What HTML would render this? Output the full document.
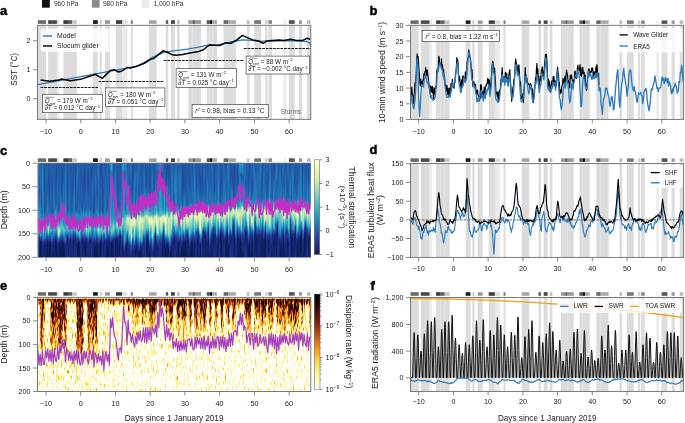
<!DOCTYPE html><html><head><meta charset="utf-8"><style>html,body{margin:0;padding:0;background:#fff;overflow:hidden}svg{display:block;filter:blur(0.3px)}text{font-family:"Liberation Sans",sans-serif}</style></head><body><svg width="685" height="423" viewBox="0 0 685 423" font-family="Liberation Sans, sans-serif"><defs><linearGradient id="c0" x2="0" y2="1"><stop offset=".000" stop-color="#434343"/><stop offset=".291" stop-color="#444444"/><stop offset=".497" stop-color="#484848"/><stop offset=".557" stop-color="#464646"/><stop offset=".637" stop-color="#848484"/><stop offset=".697" stop-color="#6c6c6c"/><stop offset=".747" stop-color="#424242"/><stop offset=".792" stop-color="#555555"/><stop offset=".853" stop-color="#0a0a0a"/><stop offset=".925" stop-color="#080808"/><stop offset="1" stop-color="#080808"/></linearGradient><linearGradient id="c1" x2="0" y2="1"><stop offset=".000" stop-color="#454545"/><stop offset=".281" stop-color="#464646"/><stop offset=".475" stop-color="#4b4b4b"/><stop offset=".535" stop-color="#656565"/><stop offset=".615" stop-color="#7f7f7f"/><stop offset=".675" stop-color="#9b9b9b"/><stop offset=".725" stop-color="#818181"/><stop offset=".770" stop-color="#323232"/><stop offset=".801" stop-color="#0a0a0a"/><stop offset=".925" stop-color="#060606"/><stop offset="1" stop-color="#060606"/></linearGradient><linearGradient id="c2" x2="0" y2="1"><stop offset=".000" stop-color="#434343"/><stop offset=".291" stop-color="#444444"/><stop offset=".497" stop-color="#4a4a4a"/><stop offset=".557" stop-color="#6b6b6b"/><stop offset=".637" stop-color="#939393"/><stop offset=".697" stop-color="#a1a1a1"/><stop offset=".747" stop-color="#717171"/><stop offset=".792" stop-color="#363636"/><stop offset=".839" stop-color="#0a0a0a"/><stop offset=".925" stop-color="#151515"/><stop offset="1" stop-color="#040404"/></linearGradient><linearGradient id="c3" x2="0" y2="1"><stop offset=".000" stop-color="#424242"/><stop offset=".300" stop-color="#434343"/><stop offset=".517" stop-color="#464646"/><stop offset=".577" stop-color="#5f5f5f"/><stop offset=".657" stop-color="#818181"/><stop offset=".717" stop-color="#dbdbdb"/><stop offset=".767" stop-color="#b2b2b2"/><stop offset=".812" stop-color="#474747"/><stop offset=".840" stop-color="#0a0a0a"/><stop offset=".925" stop-color="#080808"/><stop offset="1" stop-color="#0c0c0c"/></linearGradient><linearGradient id="c4" x2="0" y2="1"><stop offset=".000" stop-color="#424242"/><stop offset=".275" stop-color="#434343"/><stop offset=".461" stop-color="#4b4b4b"/><stop offset=".521" stop-color="#565656"/><stop offset=".601" stop-color="#6b6b6b"/><stop offset=".661" stop-color="#888888"/><stop offset=".711" stop-color="#696969"/><stop offset=".756" stop-color="#3e3e3e"/><stop offset=".820" stop-color="#0a0a0a"/><stop offset=".925" stop-color="#070707"/><stop offset="1" stop-color="#0f0f0f"/></linearGradient><linearGradient id="c5" x2="0" y2="1"><stop offset=".000" stop-color="#515151"/><stop offset=".298" stop-color="#606060"/><stop offset=".512" stop-color="#5f5f5f"/><stop offset=".572" stop-color="#676767"/><stop offset=".652" stop-color="#737373"/><stop offset=".712" stop-color="#868686"/><stop offset=".762" stop-color="#676767"/><stop offset=".807" stop-color="#646464"/><stop offset=".839" stop-color="#0a0a0a"/><stop offset=".925" stop-color="#060606"/><stop offset="1" stop-color="#141414"/></linearGradient><linearGradient id="c6" x2="0" y2="1"><stop offset=".000" stop-color="#424242"/><stop offset=".300" stop-color="#434343"/><stop offset=".518" stop-color="#494949"/><stop offset=".578" stop-color="#5d5d5d"/><stop offset=".658" stop-color="#727272"/><stop offset=".718" stop-color="#b6b6b6"/><stop offset=".768" stop-color="#727272"/><stop offset=".813" stop-color="#434343"/><stop offset=".875" stop-color="#0a0a0a"/><stop offset=".925" stop-color="#060606"/><stop offset="1" stop-color="#080808"/></linearGradient><linearGradient id="c7" x2="0" y2="1"><stop offset=".000" stop-color="#444444"/><stop offset=".292" stop-color="#454545"/><stop offset=".498" stop-color="#545454"/><stop offset=".558" stop-color="#585858"/><stop offset=".638" stop-color="#6f6f6f"/><stop offset=".698" stop-color="#7c7c7c"/><stop offset=".748" stop-color="#4d4d4d"/><stop offset=".793" stop-color="#494949"/><stop offset=".821" stop-color="#0a0a0a"/><stop offset=".925" stop-color="#0b0b0b"/><stop offset="1" stop-color="#0b0b0b"/></linearGradient><linearGradient id="c8" x2="0" y2="1"><stop offset=".000" stop-color="#434343"/><stop offset=".302" stop-color="#454545"/><stop offset=".521" stop-color="#454545"/><stop offset=".581" stop-color="#606060"/><stop offset=".661" stop-color="#747474"/><stop offset=".721" stop-color="#a7a7a7"/><stop offset=".771" stop-color="#8c8c8c"/><stop offset=".816" stop-color="#484848"/><stop offset=".858" stop-color="#0a0a0a"/><stop offset=".925" stop-color="#0b0b0b"/><stop offset="1" stop-color="#121212"/></linearGradient><linearGradient id="c9" x2="0" y2="1"><stop offset=".000" stop-color="#454545"/><stop offset=".276" stop-color="#464646"/><stop offset=".463" stop-color="#494949"/><stop offset=".523" stop-color="#5f5f5f"/><stop offset=".603" stop-color="#4c4c4c"/><stop offset=".663" stop-color="#a7a7a7"/><stop offset=".713" stop-color="#6b6b6b"/><stop offset=".758" stop-color="#2b2b2b"/><stop offset=".788" stop-color="#0a0a0a"/><stop offset=".925" stop-color="#080808"/><stop offset="1" stop-color="#040404"/></linearGradient><linearGradient id="c10" x2="0" y2="1"><stop offset=".000" stop-color="#424242"/><stop offset=".298" stop-color="#444444"/><stop offset=".512" stop-color="#515151"/><stop offset=".572" stop-color="#474747"/><stop offset=".652" stop-color="#616161"/><stop offset=".712" stop-color="#bebebe"/><stop offset=".762" stop-color="#959595"/><stop offset=".807" stop-color="#3d3d3d"/><stop offset=".844" stop-color="#0a0a0a"/><stop offset=".925" stop-color="#0c0c0c"/><stop offset="1" stop-color="#050505"/></linearGradient><linearGradient id="c11" x2="0" y2="1"><stop offset=".000" stop-color="#444444"/><stop offset=".286" stop-color="#454545"/><stop offset=".484" stop-color="#484848"/><stop offset=".544" stop-color="#575757"/><stop offset=".624" stop-color="#737373"/><stop offset=".684" stop-color="#c6c6c6"/><stop offset=".734" stop-color="#a2a2a2"/><stop offset=".779" stop-color="#474747"/><stop offset=".836" stop-color="#0a0a0a"/><stop offset=".925" stop-color="#090909"/><stop offset="1" stop-color="#070707"/></linearGradient><linearGradient id="c12" x2="0" y2="1"><stop offset=".000" stop-color="#434343"/><stop offset=".297" stop-color="#454545"/><stop offset=".509" stop-color="#4a4a4a"/><stop offset=".569" stop-color="#575757"/><stop offset=".649" stop-color="#6f6f6f"/><stop offset=".709" stop-color="#747474"/><stop offset=".759" stop-color="#3d3d3d"/><stop offset=".804" stop-color="#252525"/><stop offset=".857" stop-color="#0a0a0a"/><stop offset=".925" stop-color="#060606"/><stop offset="1" stop-color="#070707"/></linearGradient><linearGradient id="c13" x2="0" y2="1"><stop offset=".000" stop-color="#484848"/><stop offset=".293" stop-color="#494949"/><stop offset=".501" stop-color="#4f4f4f"/><stop offset=".561" stop-color="#636363"/><stop offset=".641" stop-color="#8b8b8b"/><stop offset=".701" stop-color="#c3c3c3"/><stop offset=".751" stop-color="#808080"/><stop offset=".796" stop-color="#474747"/><stop offset=".847" stop-color="#0a0a0a"/><stop offset=".925" stop-color="#070707"/><stop offset="1" stop-color="#090909"/></linearGradient><linearGradient id="c14" x2="0" y2="1"><stop offset=".000" stop-color="#434343"/><stop offset=".293" stop-color="#444444"/><stop offset=".501" stop-color="#4f4f4f"/><stop offset=".561" stop-color="#4d4d4d"/><stop offset=".641" stop-color="#626262"/><stop offset=".701" stop-color="#6a6a6a"/><stop offset=".751" stop-color="#1d1d1d"/><stop offset=".796" stop-color="#525252"/><stop offset=".842" stop-color="#0a0a0a"/><stop offset=".925" stop-color="#070707"/><stop offset="1" stop-color="#090909"/></linearGradient><linearGradient id="c15" x2="0" y2="1"><stop offset=".000" stop-color="#474747"/><stop offset=".301" stop-color="#484848"/><stop offset=".519" stop-color="#454545"/><stop offset=".579" stop-color="#626262"/><stop offset=".659" stop-color="#696969"/><stop offset=".719" stop-color="#8f8f8f"/><stop offset=".769" stop-color="#656565"/><stop offset=".814" stop-color="#2b2b2b"/><stop offset=".865" stop-color="#0a0a0a"/><stop offset=".925" stop-color="#0d0d0d"/><stop offset="1" stop-color="#070707"/></linearGradient><linearGradient id="c16" x2="0" y2="1"><stop offset=".000" stop-color="#474747"/><stop offset=".297" stop-color="#4f4f4f"/><stop offset=".509" stop-color="#484848"/><stop offset=".569" stop-color="#696969"/><stop offset=".649" stop-color="#777777"/><stop offset=".709" stop-color="#7d7d7d"/><stop offset=".759" stop-color="#636363"/><stop offset=".804" stop-color="#3d3d3d"/><stop offset=".848" stop-color="#0a0a0a"/><stop offset=".925" stop-color="#060606"/><stop offset="1" stop-color="#020202"/></linearGradient><linearGradient id="c17" x2="0" y2="1"><stop offset=".000" stop-color="#444444"/><stop offset=".279" stop-color="#454545"/><stop offset=".471" stop-color="#4d4d4d"/><stop offset=".531" stop-color="#717171"/><stop offset=".611" stop-color="#777777"/><stop offset=".671" stop-color="#a7a7a7"/><stop offset=".721" stop-color="#6e6e6e"/><stop offset=".766" stop-color="#4f4f4f"/><stop offset=".814" stop-color="#0a0a0a"/><stop offset=".925" stop-color="#060606"/><stop offset="1" stop-color="#121212"/></linearGradient><linearGradient id="c18" x2="0" y2="1"><stop offset=".000" stop-color="#414141"/><stop offset=".276" stop-color="#434343"/><stop offset=".463" stop-color="#4f4f4f"/><stop offset=".523" stop-color="#737373"/><stop offset=".603" stop-color="#707070"/><stop offset=".663" stop-color="#acacac"/><stop offset=".713" stop-color="#828282"/><stop offset=".758" stop-color="#3a3a3a"/><stop offset=".805" stop-color="#0a0a0a"/><stop offset=".925" stop-color="#070707"/><stop offset="1" stop-color="#070707"/></linearGradient><linearGradient id="c19" x2="0" y2="1"><stop offset=".000" stop-color="#454545"/><stop offset=".302" stop-color="#474747"/><stop offset=".521" stop-color="#505050"/><stop offset=".581" stop-color="#5b5b5b"/><stop offset=".661" stop-color="#676767"/><stop offset=".721" stop-color="#717171"/><stop offset=".771" stop-color="#505050"/><stop offset=".816" stop-color="#505050"/><stop offset=".863" stop-color="#0a0a0a"/><stop offset=".925" stop-color="#151515"/><stop offset="1" stop-color="#070707"/></linearGradient><linearGradient id="c20" x2="0" y2="1"><stop offset=".000" stop-color="#464646"/><stop offset=".292" stop-color="#4d4d4d"/><stop offset=".500" stop-color="#474747"/><stop offset=".560" stop-color="#5c5c5c"/><stop offset=".640" stop-color="#818181"/><stop offset=".700" stop-color="#d0d0d0"/><stop offset=".750" stop-color="#b2b2b2"/><stop offset=".795" stop-color="#4c4c4c"/><stop offset=".837" stop-color="#0a0a0a"/><stop offset=".925" stop-color="#090909"/><stop offset="1" stop-color="#030303"/></linearGradient><linearGradient id="c21" x2="0" y2="1"><stop offset=".000" stop-color="#454545"/><stop offset=".302" stop-color="#464646"/><stop offset=".522" stop-color="#484848"/><stop offset=".582" stop-color="#5b5b5b"/><stop offset=".662" stop-color="#6c6c6c"/><stop offset=".722" stop-color="#dddddd"/><stop offset=".772" stop-color="#bfbfbf"/><stop offset=".817" stop-color="#3e3e3e"/><stop offset=".858" stop-color="#0a0a0a"/><stop offset=".925" stop-color="#0d0d0d"/><stop offset="1" stop-color="#161616"/></linearGradient><linearGradient id="c22" x2="0" y2="1"><stop offset=".000" stop-color="#424242"/><stop offset=".349" stop-color="#444444"/><stop offset=".601" stop-color="#525252"/><stop offset=".601" stop-color="#636363"/><stop offset=".633" stop-color="#6b6b6b"/><stop offset=".693" stop-color="#bfbfbf"/><stop offset=".743" stop-color="#a8a8a8"/><stop offset=".788" stop-color="#414141"/><stop offset=".834" stop-color="#0a0a0a"/><stop offset=".925" stop-color="#060606"/><stop offset="1" stop-color="#050505"/></linearGradient><linearGradient id="c23" x2="0" y2="1"><stop offset=".000" stop-color="#484848"/><stop offset=".340" stop-color="#494949"/><stop offset=".587" stop-color="#646464"/><stop offset=".591" stop-color="#777777"/><stop offset=".651" stop-color="#727272"/><stop offset=".711" stop-color="#9e9e9e"/><stop offset=".761" stop-color="#666666"/><stop offset=".806" stop-color="#343434"/><stop offset=".856" stop-color="#0a0a0a"/><stop offset=".925" stop-color="#0d0d0d"/><stop offset="1" stop-color="#0a0a0a"/></linearGradient><linearGradient id="c24" x2="0" y2="1"><stop offset=".000" stop-color="#434343"/><stop offset=".306" stop-color="#444444"/><stop offset=".530" stop-color="#575757"/><stop offset=".551" stop-color="#767676"/><stop offset=".611" stop-color="#616161"/><stop offset=".671" stop-color="#878787"/><stop offset=".721" stop-color="#585858"/><stop offset=".766" stop-color="#2f2f2f"/><stop offset=".815" stop-color="#0a0a0a"/><stop offset=".925" stop-color="#0d0d0d"/><stop offset="1" stop-color="#080808"/></linearGradient><linearGradient id="c25" x2="0" y2="1"><stop offset=".000" stop-color="#434343"/><stop offset=".261" stop-color="#454545"/><stop offset=".455" stop-color="#525252"/><stop offset=".571" stop-color="#828282"/><stop offset=".631" stop-color="#757575"/><stop offset=".691" stop-color="#bbbbbb"/><stop offset=".741" stop-color="#7f7f7f"/><stop offset=".786" stop-color="#494949"/><stop offset=".840" stop-color="#0a0a0a"/><stop offset=".925" stop-color="#0a0a0a"/><stop offset="1" stop-color="#080808"/></linearGradient><linearGradient id="c26" x2="0" y2="1"><stop offset=".000" stop-color="#414141"/><stop offset=".300" stop-color="#434343"/><stop offset=".520" stop-color="#606060"/><stop offset=".599" stop-color="#767676"/><stop offset=".659" stop-color="#767676"/><stop offset=".719" stop-color="#b2b2b2"/><stop offset=".769" stop-color="#818181"/><stop offset=".814" stop-color="#4c4c4c"/><stop offset=".856" stop-color="#0a0a0a"/><stop offset=".925" stop-color="#0e0e0e"/><stop offset="1" stop-color="#050505"/></linearGradient><linearGradient id="c27" x2="0" y2="1"><stop offset=".000" stop-color="#474747"/><stop offset=".333" stop-color="#484848"/><stop offset=".575" stop-color="#5f5f5f"/><stop offset=".599" stop-color="#616161"/><stop offset=".659" stop-color="#737373"/><stop offset=".719" stop-color="#7b7b7b"/><stop offset=".769" stop-color="#595959"/><stop offset=".814" stop-color="#515151"/><stop offset=".872" stop-color="#0a0a0a"/><stop offset=".925" stop-color="#090909"/><stop offset="1" stop-color="#040404"/></linearGradient><linearGradient id="c28" x2="0" y2="1"><stop offset=".000" stop-color="#515151"/><stop offset=".299" stop-color="#5f5f5f"/><stop offset=".514" stop-color="#6c6c6c"/><stop offset=".574" stop-color="#5d5d5d"/><stop offset=".654" stop-color="#717171"/><stop offset=".714" stop-color="#767676"/><stop offset=".764" stop-color="#464646"/><stop offset=".809" stop-color="#464646"/><stop offset=".860" stop-color="#0a0a0a"/><stop offset=".925" stop-color="#090909"/><stop offset="1" stop-color="#0d0d0d"/></linearGradient><linearGradient id="c29" x2="0" y2="1"><stop offset=".000" stop-color="#424242"/><stop offset=".280" stop-color="#434343"/><stop offset=".473" stop-color="#474747"/><stop offset=".533" stop-color="#595959"/><stop offset=".613" stop-color="#686868"/><stop offset=".673" stop-color="#aeaeae"/><stop offset=".723" stop-color="#8a8a8a"/><stop offset=".768" stop-color="#535353"/><stop offset=".795" stop-color="#0a0a0a"/><stop offset=".925" stop-color="#0a0a0a"/><stop offset="1" stop-color="#070707"/></linearGradient><linearGradient id="c30" x2="0" y2="1"><stop offset=".000" stop-color="#464646"/><stop offset=".279" stop-color="#474747"/><stop offset=".469" stop-color="#4e4e4e"/><stop offset=".529" stop-color="#5e5e5e"/><stop offset=".609" stop-color="#666666"/><stop offset=".669" stop-color="#adadad"/><stop offset=".719" stop-color="#858585"/><stop offset=".764" stop-color="#313131"/><stop offset=".827" stop-color="#0a0a0a"/><stop offset=".925" stop-color="#090909"/><stop offset="1" stop-color="#040404"/></linearGradient><linearGradient id="c31" x2="0" y2="1"><stop offset=".000" stop-color="#434343"/><stop offset=".296" stop-color="#454545"/><stop offset=".507" stop-color="#454545"/><stop offset=".567" stop-color="#717171"/><stop offset=".647" stop-color="#686868"/><stop offset=".707" stop-color="#888888"/><stop offset=".757" stop-color="#545454"/><stop offset=".802" stop-color="#373737"/><stop offset=".849" stop-color="#0a0a0a"/><stop offset=".925" stop-color="#050505"/><stop offset="1" stop-color="#0f0f0f"/></linearGradient><linearGradient id="c32" x2="0" y2="1"><stop offset=".000" stop-color="#444444"/><stop offset=".291" stop-color="#454545"/><stop offset=".496" stop-color="#4a4a4a"/><stop offset=".556" stop-color="#5b5b5b"/><stop offset=".636" stop-color="#6d6d6d"/><stop offset=".696" stop-color="#afafaf"/><stop offset=".746" stop-color="#707070"/><stop offset=".791" stop-color="#545454"/><stop offset=".820" stop-color="#0a0a0a"/><stop offset=".925" stop-color="#0a0a0a"/><stop offset="1" stop-color="#090909"/></linearGradient><linearGradient id="c33" x2="0" y2="1"><stop offset=".000" stop-color="#454545"/><stop offset=".283" stop-color="#464646"/><stop offset=".480" stop-color="#4c4c4c"/><stop offset=".540" stop-color="#646464"/><stop offset=".620" stop-color="#6f6f6f"/><stop offset=".680" stop-color="#868686"/><stop offset=".730" stop-color="#595959"/><stop offset=".775" stop-color="#3b3b3b"/><stop offset=".806" stop-color="#0a0a0a"/><stop offset=".925" stop-color="#0e0e0e"/><stop offset="1" stop-color="#050505"/></linearGradient><linearGradient id="c34" x2="0" y2="1"><stop offset=".000" stop-color="#474747"/><stop offset=".283" stop-color="#494949"/><stop offset=".479" stop-color="#4f4f4f"/><stop offset=".539" stop-color="#5c5c5c"/><stop offset=".619" stop-color="#686868"/><stop offset=".679" stop-color="#d3d3d3"/><stop offset=".729" stop-color="#9e9e9e"/><stop offset=".774" stop-color="#414141"/><stop offset=".823" stop-color="#0a0a0a"/><stop offset=".925" stop-color="#0b0b0b"/><stop offset="1" stop-color="#060606"/></linearGradient><linearGradient id="c35" x2="0" y2="1"><stop offset=".000" stop-color="#454545"/><stop offset=".281" stop-color="#464646"/><stop offset=".474" stop-color="#444444"/><stop offset=".534" stop-color="#4c4c4c"/><stop offset=".614" stop-color="#7f7f7f"/><stop offset=".674" stop-color="#808080"/><stop offset=".724" stop-color="#434343"/><stop offset=".769" stop-color="#3d3d3d"/><stop offset=".817" stop-color="#0a0a0a"/><stop offset=".925" stop-color="#050505"/><stop offset="1" stop-color="#0a0a0a"/></linearGradient><linearGradient id="c36" x2="0" y2="1"><stop offset=".000" stop-color="#444444"/><stop offset=".280" stop-color="#464646"/><stop offset=".472" stop-color="#4f4f4f"/><stop offset=".532" stop-color="#595959"/><stop offset=".612" stop-color="#737373"/><stop offset=".672" stop-color="#a3a3a3"/><stop offset=".722" stop-color="#767676"/><stop offset=".767" stop-color="#1f1f1f"/><stop offset=".816" stop-color="#0a0a0a"/><stop offset=".925" stop-color="#080808"/><stop offset="1" stop-color="#0a0a0a"/></linearGradient><linearGradient id="c37" x2="0" y2="1"><stop offset=".000" stop-color="#444444"/><stop offset=".280" stop-color="#454545"/><stop offset=".472" stop-color="#4f4f4f"/><stop offset=".532" stop-color="#4f4f4f"/><stop offset=".612" stop-color="#888888"/><stop offset=".672" stop-color="#aeaeae"/><stop offset=".722" stop-color="#878787"/><stop offset=".767" stop-color="#4a4a4a"/><stop offset=".803" stop-color="#0a0a0a"/><stop offset=".925" stop-color="#080808"/><stop offset="1" stop-color="#070707"/></linearGradient><linearGradient id="c38" x2="0" y2="1"><stop offset=".000" stop-color="#424242"/><stop offset=".284" stop-color="#444444"/><stop offset=".480" stop-color="#414141"/><stop offset=".540" stop-color="#797979"/><stop offset=".620" stop-color="#6a6a6a"/><stop offset=".680" stop-color="#a0a0a0"/><stop offset=".730" stop-color="#626262"/><stop offset=".775" stop-color="#1a1a1a"/><stop offset=".805" stop-color="#0a0a0a"/><stop offset=".925" stop-color="#080808"/><stop offset="1" stop-color="#050505"/></linearGradient><linearGradient id="c39" x2="0" y2="1"><stop offset=".000" stop-color="#414141"/><stop offset=".296" stop-color="#434343"/><stop offset=".507" stop-color="#4b4b4b"/><stop offset=".567" stop-color="#6c6c6c"/><stop offset=".647" stop-color="#757575"/><stop offset=".707" stop-color="#a9a9a9"/><stop offset=".757" stop-color="#888888"/><stop offset=".802" stop-color="#474747"/><stop offset=".866" stop-color="#0a0a0a"/><stop offset=".925" stop-color="#090909"/><stop offset="1" stop-color="#070707"/></linearGradient><linearGradient id="c40" x2="0" y2="1"><stop offset=".000" stop-color="#424242"/><stop offset=".290" stop-color="#434343"/><stop offset=".495" stop-color="#4b4b4b"/><stop offset=".555" stop-color="#6b6b6b"/><stop offset=".635" stop-color="#616161"/><stop offset=".695" stop-color="#cdcdcd"/><stop offset=".745" stop-color="#868686"/><stop offset=".790" stop-color="#353535"/><stop offset=".854" stop-color="#0a0a0a"/><stop offset=".925" stop-color="#0a0a0a"/><stop offset="1" stop-color="#050505"/></linearGradient><linearGradient id="c41" x2="0" y2="1"><stop offset=".000" stop-color="#434343"/><stop offset=".299" stop-color="#444444"/><stop offset=".513" stop-color="#4b4b4b"/><stop offset=".573" stop-color="#727272"/><stop offset=".653" stop-color="#717171"/><stop offset=".713" stop-color="#c2c2c2"/><stop offset=".763" stop-color="#929292"/><stop offset=".808" stop-color="#454545"/><stop offset=".836" stop-color="#0a0a0a"/><stop offset=".925" stop-color="#0b0b0b"/><stop offset="1" stop-color="#070707"/></linearGradient><linearGradient id="c42" x2="0" y2="1"><stop offset=".000" stop-color="#454545"/><stop offset=".303" stop-color="#464646"/><stop offset=".523" stop-color="#494949"/><stop offset=".583" stop-color="#666666"/><stop offset=".663" stop-color="#727272"/><stop offset=".723" stop-color="#a6a6a6"/><stop offset=".773" stop-color="#878787"/><stop offset=".818" stop-color="#3e3e3e"/><stop offset=".844" stop-color="#0a0a0a"/><stop offset=".925" stop-color="#070707"/><stop offset="1" stop-color="#070707"/></linearGradient><linearGradient id="c43" x2="0" y2="1"><stop offset=".000" stop-color="#434343"/><stop offset=".291" stop-color="#444444"/><stop offset=".497" stop-color="#494949"/><stop offset=".557" stop-color="#606060"/><stop offset=".637" stop-color="#7a7a7a"/><stop offset=".697" stop-color="#949494"/><stop offset=".747" stop-color="#4b4b4b"/><stop offset=".792" stop-color="#363636"/><stop offset=".841" stop-color="#0a0a0a"/><stop offset=".925" stop-color="#080808"/><stop offset="1" stop-color="#060606"/></linearGradient><linearGradient id="c44" x2="0" y2="1"><stop offset=".000" stop-color="#404040"/><stop offset=".278" stop-color="#424242"/><stop offset=".468" stop-color="#424242"/><stop offset=".528" stop-color="#6f6f6f"/><stop offset=".608" stop-color="#6d6d6d"/><stop offset=".668" stop-color="#979797"/><stop offset=".718" stop-color="#4f4f4f"/><stop offset=".763" stop-color="#3a3a3a"/><stop offset=".821" stop-color="#0a0a0a"/><stop offset=".925" stop-color="#0c0c0c"/><stop offset="1" stop-color="#030303"/></linearGradient><linearGradient id="c45" x2="0" y2="1"><stop offset=".000" stop-color="#444444"/><stop offset=".286" stop-color="#454545"/><stop offset=".486" stop-color="#414141"/><stop offset=".546" stop-color="#606060"/><stop offset=".626" stop-color="#7b7b7b"/><stop offset=".686" stop-color="#a7a7a7"/><stop offset=".736" stop-color="#838383"/><stop offset=".781" stop-color="#464646"/><stop offset=".809" stop-color="#0a0a0a"/><stop offset=".925" stop-color="#0d0d0d"/><stop offset="1" stop-color="#060606"/></linearGradient><linearGradient id="c46" x2="0" y2="1"><stop offset=".000" stop-color="#464646"/><stop offset=".284" stop-color="#474747"/><stop offset=".482" stop-color="#4e4e4e"/><stop offset=".542" stop-color="#6d6d6d"/><stop offset=".622" stop-color="#6e6e6e"/><stop offset=".682" stop-color="#b0b0b0"/><stop offset=".732" stop-color="#888888"/><stop offset=".777" stop-color="#343434"/><stop offset=".832" stop-color="#0a0a0a"/><stop offset=".925" stop-color="#080808"/><stop offset="1" stop-color="#111111"/></linearGradient><linearGradient id="c47" x2="0" y2="1"><stop offset=".000" stop-color="#414141"/><stop offset=".296" stop-color="#434343"/><stop offset=".507" stop-color="#454545"/><stop offset=".567" stop-color="#6a6a6a"/><stop offset=".647" stop-color="#5e5e5e"/><stop offset=".707" stop-color="#848484"/><stop offset=".757" stop-color="#6b6b6b"/><stop offset=".802" stop-color="#393939"/><stop offset=".855" stop-color="#0a0a0a"/><stop offset=".925" stop-color="#060606"/><stop offset="1" stop-color="#101010"/></linearGradient><linearGradient id="c48" x2="0" y2="1"><stop offset=".000" stop-color="#444444"/><stop offset=".288" stop-color="#454545"/><stop offset=".491" stop-color="#494949"/><stop offset=".551" stop-color="#767676"/><stop offset=".631" stop-color="#717171"/><stop offset=".691" stop-color="#a7a7a7"/><stop offset=".741" stop-color="#7f7f7f"/><stop offset=".786" stop-color="#424242"/><stop offset=".812" stop-color="#0a0a0a"/><stop offset=".925" stop-color="#0d0d0d"/><stop offset="1" stop-color="#060606"/></linearGradient><linearGradient id="c49" x2="0" y2="1"><stop offset=".000" stop-color="#434343"/><stop offset=".288" stop-color="#454545"/><stop offset=".489" stop-color="#474747"/><stop offset=".549" stop-color="#646464"/><stop offset=".629" stop-color="#848484"/><stop offset=".689" stop-color="#c5c5c5"/><stop offset=".739" stop-color="#919191"/><stop offset=".784" stop-color="#4b4b4b"/><stop offset=".810" stop-color="#0a0a0a"/><stop offset=".925" stop-color="#0f0f0f"/><stop offset="1" stop-color="#090909"/></linearGradient><linearGradient id="c50" x2="0" y2="1"><stop offset=".000" stop-color="#454545"/><stop offset=".298" stop-color="#464646"/><stop offset=".512" stop-color="#4a4a4a"/><stop offset=".572" stop-color="#555555"/><stop offset=".652" stop-color="#8d8d8d"/><stop offset=".712" stop-color="#b3b3b3"/><stop offset=".762" stop-color="#7e7e7e"/><stop offset=".807" stop-color="#4a4a4a"/><stop offset=".868" stop-color="#0a0a0a"/><stop offset=".925" stop-color="#090909"/><stop offset="1" stop-color="#0a0a0a"/></linearGradient><linearGradient id="c51" x2="0" y2="1"><stop offset=".000" stop-color="#444444"/><stop offset=".290" stop-color="#454545"/><stop offset=".495" stop-color="#474747"/><stop offset=".555" stop-color="#747474"/><stop offset=".635" stop-color="#6f6f6f"/><stop offset=".695" stop-color="#c0c0c0"/><stop offset=".745" stop-color="#a6a6a6"/><stop offset=".790" stop-color="#515151"/><stop offset=".832" stop-color="#0a0a0a"/><stop offset=".925" stop-color="#161616"/><stop offset="1" stop-color="#090909"/></linearGradient><linearGradient id="c52" x2="0" y2="1"><stop offset=".000" stop-color="#414141"/><stop offset=".279" stop-color="#424242"/><stop offset=".470" stop-color="#444444"/><stop offset=".530" stop-color="#686868"/><stop offset=".610" stop-color="#717171"/><stop offset=".670" stop-color="#909090"/><stop offset=".720" stop-color="#6c6c6c"/><stop offset=".765" stop-color="#323232"/><stop offset=".820" stop-color="#0a0a0a"/><stop offset=".925" stop-color="#070707"/><stop offset="1" stop-color="#020202"/></linearGradient><linearGradient id="c53" x2="0" y2="1"><stop offset=".000" stop-color="#454545"/><stop offset=".285" stop-color="#464646"/><stop offset=".483" stop-color="#434343"/><stop offset=".543" stop-color="#595959"/><stop offset=".623" stop-color="#686868"/><stop offset=".683" stop-color="#bdbdbd"/><stop offset=".733" stop-color="#a0a0a0"/><stop offset=".778" stop-color="#575757"/><stop offset=".823" stop-color="#0a0a0a"/><stop offset=".925" stop-color="#090909"/><stop offset="1" stop-color="#030303"/></linearGradient><linearGradient id="c54" x2="0" y2="1"><stop offset=".000" stop-color="#424242"/><stop offset=".281" stop-color="#434343"/><stop offset=".475" stop-color="#4a4a4a"/><stop offset=".535" stop-color="#585858"/><stop offset=".615" stop-color="#666666"/><stop offset=".675" stop-color="#636363"/><stop offset=".725" stop-color="#1f1f1f"/><stop offset=".770" stop-color="#2b2b2b"/><stop offset=".810" stop-color="#0a0a0a"/><stop offset=".925" stop-color="#0d0d0d"/><stop offset="1" stop-color="#0b0b0b"/></linearGradient><linearGradient id="c55" x2="0" y2="1"><stop offset=".000" stop-color="#434343"/><stop offset=".294" stop-color="#444444"/><stop offset=".504" stop-color="#4c4c4c"/><stop offset=".564" stop-color="#6e6e6e"/><stop offset=".644" stop-color="#757575"/><stop offset=".704" stop-color="#8c8c8c"/><stop offset=".754" stop-color="#555555"/><stop offset=".799" stop-color="#4c4c4c"/><stop offset=".852" stop-color="#0a0a0a"/><stop offset=".925" stop-color="#141414"/><stop offset="1" stop-color="#0f0f0f"/></linearGradient><linearGradient id="c56" x2="0" y2="1"><stop offset=".000" stop-color="#464646"/><stop offset=".301" stop-color="#474747"/><stop offset=".518" stop-color="#434343"/><stop offset=".578" stop-color="#5e5e5e"/><stop offset=".658" stop-color="#656565"/><stop offset=".718" stop-color="#8b8b8b"/><stop offset=".768" stop-color="#6b6b6b"/><stop offset=".813" stop-color="#373737"/><stop offset=".849" stop-color="#0a0a0a"/><stop offset=".925" stop-color="#0c0c0c"/><stop offset="1" stop-color="#050505"/></linearGradient><linearGradient id="c57" x2="0" y2="1"><stop offset=".000" stop-color="#434343"/><stop offset=".288" stop-color="#454545"/><stop offset=".491" stop-color="#424242"/><stop offset=".551" stop-color="#595959"/><stop offset=".631" stop-color="#959595"/><stop offset=".691" stop-color="#a2a2a2"/><stop offset=".741" stop-color="#727272"/><stop offset=".786" stop-color="#595959"/><stop offset=".813" stop-color="#0a0a0a"/><stop offset=".925" stop-color="#050505"/><stop offset="1" stop-color="#0d0d0d"/></linearGradient><linearGradient id="c58" x2="0" y2="1"><stop offset=".000" stop-color="#464646"/><stop offset=".305" stop-color="#474747"/><stop offset=".527" stop-color="#4c4c4c"/><stop offset=".587" stop-color="#515151"/><stop offset=".667" stop-color="#787878"/><stop offset=".727" stop-color="#858585"/><stop offset=".777" stop-color="#676767"/><stop offset=".822" stop-color="#494949"/><stop offset=".886" stop-color="#0a0a0a"/><stop offset=".925" stop-color="#080808"/><stop offset="1" stop-color="#090909"/></linearGradient><linearGradient id="c59" x2="0" y2="1"><stop offset=".000" stop-color="#424242"/><stop offset=".279" stop-color="#444444"/><stop offset=".470" stop-color="#4f4f4f"/><stop offset=".530" stop-color="#797979"/><stop offset=".610" stop-color="#5e5e5e"/><stop offset=".670" stop-color="#b2b2b2"/><stop offset=".720" stop-color="#7b7b7b"/><stop offset=".765" stop-color="#353535"/><stop offset=".794" stop-color="#0a0a0a"/><stop offset=".925" stop-color="#080808"/><stop offset="1" stop-color="#0b0b0b"/></linearGradient><linearGradient id="c60" x2="0" y2="1"><stop offset=".000" stop-color="#404040"/><stop offset=".298" stop-color="#414141"/><stop offset=".513" stop-color="#454545"/><stop offset=".573" stop-color="#6c6c6c"/><stop offset=".653" stop-color="#5a5a5a"/><stop offset=".713" stop-color="#cacaca"/><stop offset=".763" stop-color="#8a8a8a"/><stop offset=".808" stop-color="#4b4b4b"/><stop offset=".863" stop-color="#0a0a0a"/><stop offset=".925" stop-color="#0d0d0d"/><stop offset="1" stop-color="#020202"/></linearGradient><linearGradient id="c61" x2="0" y2="1"><stop offset=".000" stop-color="#444444"/><stop offset=".294" stop-color="#454545"/><stop offset=".504" stop-color="#444444"/><stop offset=".564" stop-color="#575757"/><stop offset=".644" stop-color="#7b7b7b"/><stop offset=".704" stop-color="#c1c1c1"/><stop offset=".754" stop-color="#797979"/><stop offset=".799" stop-color="#3a3a3a"/><stop offset=".836" stop-color="#0a0a0a"/><stop offset=".925" stop-color="#070707"/><stop offset="1" stop-color="#0c0c0c"/></linearGradient><linearGradient id="c62" x2="0" y2="1"><stop offset=".000" stop-color="#434343"/><stop offset=".305" stop-color="#444444"/><stop offset=".528" stop-color="#434343"/><stop offset=".588" stop-color="#5c5c5c"/><stop offset=".668" stop-color="#777777"/><stop offset=".728" stop-color="#a6a6a6"/><stop offset=".778" stop-color="#818181"/><stop offset=".823" stop-color="#2d2d2d"/><stop offset=".876" stop-color="#0a0a0a"/><stop offset=".925" stop-color="#0a0a0a"/><stop offset="1" stop-color="#020202"/></linearGradient><linearGradient id="c63" x2="0" y2="1"><stop offset=".000" stop-color="#424242"/><stop offset=".292" stop-color="#434343"/><stop offset=".498" stop-color="#474747"/><stop offset=".558" stop-color="#6e6e6e"/><stop offset=".638" stop-color="#606060"/><stop offset=".698" stop-color="#b8b8b8"/><stop offset=".748" stop-color="#939393"/><stop offset=".793" stop-color="#3b3b3b"/><stop offset=".846" stop-color="#0a0a0a"/><stop offset=".925" stop-color="#090909"/><stop offset="1" stop-color="#090909"/></linearGradient><linearGradient id="c64" x2="0" y2="1"><stop offset=".000" stop-color="#434343"/><stop offset=".281" stop-color="#454545"/><stop offset=".474" stop-color="#4e4e4e"/><stop offset=".534" stop-color="#717171"/><stop offset=".614" stop-color="#888888"/><stop offset=".674" stop-color="#afafaf"/><stop offset=".724" stop-color="#909090"/><stop offset=".769" stop-color="#3d3d3d"/><stop offset=".826" stop-color="#0a0a0a"/><stop offset=".925" stop-color="#111111"/><stop offset="1" stop-color="#060606"/></linearGradient><linearGradient id="c65" x2="0" y2="1"><stop offset=".000" stop-color="#3e3e3e"/><stop offset=".303" stop-color="#3f3f3f"/><stop offset=".524" stop-color="#444444"/><stop offset=".584" stop-color="#676767"/><stop offset=".664" stop-color="#767676"/><stop offset=".724" stop-color="#acacac"/><stop offset=".774" stop-color="#838383"/><stop offset=".819" stop-color="#4f4f4f"/><stop offset=".862" stop-color="#0a0a0a"/><stop offset=".925" stop-color="#0a0a0a"/><stop offset="1" stop-color="#0d0d0d"/></linearGradient><linearGradient id="c66" x2="0" y2="1"><stop offset=".000" stop-color="#414141"/><stop offset=".279" stop-color="#424242"/><stop offset=".471" stop-color="#4c4c4c"/><stop offset=".531" stop-color="#6e6e6e"/><stop offset=".611" stop-color="#626262"/><stop offset=".671" stop-color="#b4b4b4"/><stop offset=".721" stop-color="#959595"/><stop offset=".766" stop-color="#171717"/><stop offset=".828" stop-color="#0a0a0a"/><stop offset=".925" stop-color="#060606"/><stop offset="1" stop-color="#0e0e0e"/></linearGradient><linearGradient id="c67" x2="0" y2="1"><stop offset=".000" stop-color="#454545"/><stop offset=".296" stop-color="#464646"/><stop offset=".508" stop-color="#4f4f4f"/><stop offset=".568" stop-color="#565656"/><stop offset=".648" stop-color="#878787"/><stop offset=".708" stop-color="#b8b8b8"/><stop offset=".758" stop-color="#969696"/><stop offset=".803" stop-color="#383838"/><stop offset=".839" stop-color="#0a0a0a"/><stop offset=".925" stop-color="#0f0f0f"/><stop offset="1" stop-color="#020202"/></linearGradient><linearGradient id="c68" x2="0" y2="1"><stop offset=".000" stop-color="#414141"/><stop offset=".297" stop-color="#434343"/><stop offset=".511" stop-color="#4b4b4b"/><stop offset=".571" stop-color="#565656"/><stop offset=".651" stop-color="#838383"/><stop offset=".711" stop-color="#949494"/><stop offset=".761" stop-color="#6c6c6c"/><stop offset=".806" stop-color="#424242"/><stop offset=".834" stop-color="#0a0a0a"/><stop offset=".925" stop-color="#0f0f0f"/><stop offset="1" stop-color="#020202"/></linearGradient><linearGradient id="c69" x2="0" y2="1"><stop offset=".000" stop-color="#444444"/><stop offset=".288" stop-color="#454545"/><stop offset=".491" stop-color="#494949"/><stop offset=".551" stop-color="#686868"/><stop offset=".631" stop-color="#707070"/><stop offset=".691" stop-color="#848484"/><stop offset=".741" stop-color="#494949"/><stop offset=".786" stop-color="#575757"/><stop offset=".811" stop-color="#0a0a0a"/><stop offset=".925" stop-color="#060606"/><stop offset="1" stop-color="#090909"/></linearGradient><linearGradient id="c70" x2="0" y2="1"><stop offset=".000" stop-color="#434343"/><stop offset=".275" stop-color="#444444"/><stop offset=".462" stop-color="#484848"/><stop offset=".522" stop-color="#626262"/><stop offset=".602" stop-color="#7b7b7b"/><stop offset=".662" stop-color="#bfbfbf"/><stop offset=".712" stop-color="#b4b4b4"/><stop offset=".757" stop-color="#2f2f2f"/><stop offset=".786" stop-color="#0a0a0a"/><stop offset=".925" stop-color="#080808"/><stop offset="1" stop-color="#050505"/></linearGradient><linearGradient id="c71" x2="0" y2="1"><stop offset=".000" stop-color="#484848"/><stop offset=".293" stop-color="#4a4a4a"/><stop offset=".501" stop-color="#505050"/><stop offset=".561" stop-color="#656565"/><stop offset=".641" stop-color="#636363"/><stop offset=".701" stop-color="#bdbdbd"/><stop offset=".751" stop-color="#7a7a7a"/><stop offset=".796" stop-color="#2d2d2d"/><stop offset=".847" stop-color="#0a0a0a"/><stop offset=".925" stop-color="#060606"/><stop offset="1" stop-color="#030303"/></linearGradient><linearGradient id="c72" x2="0" y2="1"><stop offset=".000" stop-color="#7d7d7d"/><stop offset=".090" stop-color="#676767"/><stop offset=".252" stop-color="#444444"/><stop offset=".440" stop-color="#676767"/><stop offset=".539" stop-color="#666666"/><stop offset=".599" stop-color="#909090"/><stop offset=".659" stop-color="#888888"/><stop offset=".709" stop-color="#5b5b5b"/><stop offset=".754" stop-color="#474747"/><stop offset=".810" stop-color="#0a0a0a"/><stop offset=".925" stop-color="#070707"/><stop offset="1" stop-color="#141414"/></linearGradient><linearGradient id="c73" x2="0" y2="1"><stop offset=".000" stop-color="#737373"/><stop offset=".090" stop-color="#636363"/><stop offset=".090" stop-color="#474747"/><stop offset=".165" stop-color="#6b6b6b"/><stop offset=".595" stop-color="#686868"/><stop offset=".655" stop-color="#8d8d8d"/><stop offset=".715" stop-color="#a4a4a4"/><stop offset=".765" stop-color="#7d7d7d"/><stop offset=".810" stop-color="#474747"/><stop offset=".854" stop-color="#0a0a0a"/><stop offset=".925" stop-color="#0b0b0b"/><stop offset="1" stop-color="#050505"/></linearGradient><linearGradient id="c74" x2="0" y2="1"><stop offset=".000" stop-color="#919191"/><stop offset=".090" stop-color="#6a6a6a"/><stop offset=".135" stop-color="#616161"/><stop offset=".245" stop-color="#575757"/><stop offset=".587" stop-color="#686868"/><stop offset=".647" stop-color="#7a7a7a"/><stop offset=".707" stop-color="#9e9e9e"/><stop offset=".757" stop-color="#8e8e8e"/><stop offset=".802" stop-color="#434343"/><stop offset=".835" stop-color="#0a0a0a"/><stop offset=".925" stop-color="#060606"/><stop offset="1" stop-color="#070707"/></linearGradient><linearGradient id="c75" x2="0" y2="1"><stop offset=".000" stop-color="#444444"/><stop offset=".186" stop-color="#454545"/><stop offset=".330" stop-color="#555555"/><stop offset=".576" stop-color="#4a4a4a"/><stop offset=".636" stop-color="#747474"/><stop offset=".696" stop-color="#b0b0b0"/><stop offset=".746" stop-color="#828282"/><stop offset=".791" stop-color="#393939"/><stop offset=".821" stop-color="#0a0a0a"/><stop offset=".925" stop-color="#090909"/><stop offset="1" stop-color="#080808"/></linearGradient><linearGradient id="c76" x2="0" y2="1"><stop offset=".000" stop-color="#404040"/><stop offset=".150" stop-color="#414141"/><stop offset=".270" stop-color="#5d5d5d"/><stop offset=".551" stop-color="#7d7d7d"/><stop offset=".611" stop-color="#787878"/><stop offset=".671" stop-color="#b6b6b6"/><stop offset=".721" stop-color="#999999"/><stop offset=".766" stop-color="#3f3f3f"/><stop offset=".810" stop-color="#0a0a0a"/><stop offset=".925" stop-color="#080808"/><stop offset="1" stop-color="#020202"/></linearGradient><linearGradient id="c77" x2="0" y2="1"><stop offset=".000" stop-color="#434343"/><stop offset=".294" stop-color="#444444"/><stop offset=".510" stop-color="#5c5c5c"/><stop offset=".573" stop-color="#6e6e6e"/><stop offset=".633" stop-color="#767676"/><stop offset=".693" stop-color="#8c8c8c"/><stop offset=".743" stop-color="#5c5c5c"/><stop offset=".788" stop-color="#404040"/><stop offset=".828" stop-color="#0a0a0a"/><stop offset=".925" stop-color="#060606"/><stop offset="1" stop-color="#030303"/></linearGradient><linearGradient id="c78" x2="0" y2="1"><stop offset=".000" stop-color="#404040"/><stop offset=".240" stop-color="#414141"/><stop offset=".420" stop-color="#525252"/><stop offset=".542" stop-color="#787878"/><stop offset=".602" stop-color="#747474"/><stop offset=".662" stop-color="#c3c3c3"/><stop offset=".712" stop-color="#797979"/><stop offset=".757" stop-color="#6d6d6d"/><stop offset=".794" stop-color="#0a0a0a"/><stop offset=".925" stop-color="#0b0b0b"/><stop offset="1" stop-color="#0b0b0b"/></linearGradient><linearGradient id="c79" x2="0" y2="1"><stop offset=".000" stop-color="#474747"/><stop offset=".330" stop-color="#494949"/><stop offset=".570" stop-color="#4d4d4d"/><stop offset=".570" stop-color="#565656"/><stop offset=".587" stop-color="#959595"/><stop offset=".647" stop-color="#b6b6b6"/><stop offset=".697" stop-color="#848484"/><stop offset=".742" stop-color="#535353"/><stop offset=".800" stop-color="#0a0a0a"/><stop offset=".925" stop-color="#090909"/><stop offset="1" stop-color="#070707"/></linearGradient><linearGradient id="c80" x2="0" y2="1"><stop offset=".000" stop-color="#424242"/><stop offset=".279" stop-color="#434343"/><stop offset=".470" stop-color="#4a4a4a"/><stop offset=".530" stop-color="#656565"/><stop offset=".610" stop-color="#7a7a7a"/><stop offset=".670" stop-color="#b4b4b4"/><stop offset=".720" stop-color="#8d8d8d"/><stop offset=".765" stop-color="#4c4c4c"/><stop offset=".801" stop-color="#0a0a0a"/><stop offset=".925" stop-color="#060606"/><stop offset="1" stop-color="#050505"/></linearGradient><linearGradient id="c81" x2="0" y2="1"><stop offset=".000" stop-color="#3f3f3f"/><stop offset=".270" stop-color="#414141"/><stop offset=".450" stop-color="#424242"/><stop offset=".510" stop-color="#5c5c5c"/><stop offset=".590" stop-color="#777777"/><stop offset=".650" stop-color="#ababab"/><stop offset=".700" stop-color="#7c7c7c"/><stop offset=".745" stop-color="#606060"/><stop offset=".788" stop-color="#0a0a0a"/><stop offset=".925" stop-color="#080808"/><stop offset="1" stop-color="#050505"/></linearGradient><linearGradient id="c82" x2="0" y2="1"><stop offset=".000" stop-color="#464646"/><stop offset=".264" stop-color="#484848"/><stop offset=".437" stop-color="#4e4e4e"/><stop offset=".497" stop-color="#636363"/><stop offset=".577" stop-color="#898989"/><stop offset=".637" stop-color="#d0d0d0"/><stop offset=".687" stop-color="#979797"/><stop offset=".732" stop-color="#434343"/><stop offset=".780" stop-color="#0a0a0a"/><stop offset=".925" stop-color="#060606"/><stop offset="1" stop-color="#0b0b0b"/></linearGradient><linearGradient id="c83" x2="0" y2="1"><stop offset=".000" stop-color="#454545"/><stop offset=".274" stop-color="#474747"/><stop offset=".460" stop-color="#585858"/><stop offset=".520" stop-color="#666666"/><stop offset=".600" stop-color="#868686"/><stop offset=".660" stop-color="#d1d1d1"/><stop offset=".710" stop-color="#a2a2a2"/><stop offset=".755" stop-color="#393939"/><stop offset=".782" stop-color="#0a0a0a"/><stop offset=".925" stop-color="#0e0e0e"/><stop offset="1" stop-color="#050505"/></linearGradient><linearGradient id="c84" x2="0" y2="1"><stop offset=".000" stop-color="#434343"/><stop offset=".281" stop-color="#444444"/><stop offset=".489" stop-color="#606060"/><stop offset=".551" stop-color="#676767"/><stop offset=".611" stop-color="#848484"/><stop offset=".651" stop-color="#bcbcbc"/><stop offset=".741" stop-color="#a9a9a9"/><stop offset=".801" stop-color="#515151"/><stop offset=".851" stop-color="#2d2d2d"/><stop offset=".901" stop-color="#080808"/><stop offset=".925" stop-color="#0d0d0d"/><stop offset="1" stop-color="#090909"/></linearGradient><linearGradient id="c85" x2="0" y2="1"><stop offset=".000" stop-color="#6a6a6a"/><stop offset=".090" stop-color="#5c5c5c"/><stop offset=".149" stop-color="#434343"/><stop offset=".268" stop-color="#5a5a5a"/><stop offset=".501" stop-color="#767676"/><stop offset=".561" stop-color="#8c8c8c"/><stop offset=".601" stop-color="#dcdcdc"/><stop offset=".654" stop-color="#aeaeae"/><stop offset=".714" stop-color="#4c4c4c"/><stop offset=".764" stop-color="#202020"/><stop offset=".814" stop-color="#080808"/><stop offset=".925" stop-color="#070707"/><stop offset="1" stop-color="#060606"/></linearGradient><linearGradient id="c86" x2="0" y2="1"><stop offset=".000" stop-color="#7f7f7f"/><stop offset=".090" stop-color="#676767"/><stop offset=".101" stop-color="#434343"/><stop offset=".189" stop-color="#636363"/><stop offset=".515" stop-color="#747474"/><stop offset=".575" stop-color="#727272"/><stop offset=".615" stop-color="#b0b0b0"/><stop offset=".808" stop-color="#797979"/><stop offset=".868" stop-color="#616161"/><stop offset=".918" stop-color="#262626"/><stop offset=".968" stop-color="#080808"/><stop offset=".968" stop-color="#0b0b0b"/><stop offset="1" stop-color="#050505"/></linearGradient><linearGradient id="c87" x2="0" y2="1"><stop offset=".000" stop-color="#676767"/><stop offset=".090" stop-color="#595959"/><stop offset=".145" stop-color="#404040"/><stop offset=".263" stop-color="#717171"/><stop offset=".498" stop-color="#6b6b6b"/><stop offset=".558" stop-color="#9d9d9d"/><stop offset=".598" stop-color="#aaaaaa"/><stop offset=".747" stop-color="#5a5a5a"/><stop offset=".807" stop-color="#787878"/><stop offset=".857" stop-color="#3b3b3b"/><stop offset=".907" stop-color="#080808"/><stop offset=".925" stop-color="#070707"/><stop offset="1" stop-color="#050505"/></linearGradient><linearGradient id="c88" x2="0" y2="1"><stop offset=".000" stop-color="#808080"/><stop offset=".090" stop-color="#616161"/><stop offset=".206" stop-color="#656565"/><stop offset=".363" stop-color="#4f4f4f"/><stop offset=".516" stop-color="#5d5d5d"/><stop offset=".576" stop-color="#878787"/><stop offset=".616" stop-color="#b3b3b3"/><stop offset=".712" stop-color="#9a9a9a"/><stop offset=".772" stop-color="#737373"/><stop offset=".822" stop-color="#3f3f3f"/><stop offset=".872" stop-color="#080808"/><stop offset=".925" stop-color="#090909"/><stop offset="1" stop-color="#0f0f0f"/></linearGradient><linearGradient id="c89" x2="0" y2="1"><stop offset=".000" stop-color="#454545"/><stop offset=".246" stop-color="#474747"/><stop offset=".430" stop-color="#787878"/><stop offset=".480" stop-color="#737373"/><stop offset=".540" stop-color="#686868"/><stop offset=".580" stop-color="#f2f2f2"/><stop offset=".706" stop-color="#d9d9d9"/><stop offset=".766" stop-color="#545454"/><stop offset=".816" stop-color="#313131"/><stop offset=".866" stop-color="#080808"/><stop offset=".925" stop-color="#0d0d0d"/><stop offset="1" stop-color="#040404"/></linearGradient><linearGradient id="c90" x2="0" y2="1"><stop offset=".000" stop-color="#454545"/><stop offset=".192" stop-color="#464646"/><stop offset=".340" stop-color="#6a6a6a"/><stop offset=".491" stop-color="#686868"/><stop offset=".551" stop-color="#a0a0a0"/><stop offset=".591" stop-color="#eeeeee"/><stop offset=".651" stop-color="#b8b8b8"/><stop offset=".711" stop-color="#737373"/><stop offset=".761" stop-color="#4d4d4d"/><stop offset=".811" stop-color="#080808"/><stop offset=".925" stop-color="#0f0f0f"/><stop offset="1" stop-color="#0a0a0a"/></linearGradient><linearGradient id="c91" x2="0" y2="1"><stop offset=".000" stop-color="#424242"/><stop offset=".196" stop-color="#444444"/><stop offset=".346" stop-color="#5a5a5a"/><stop offset=".488" stop-color="#707070"/><stop offset=".548" stop-color="#9e9e9e"/><stop offset=".588" stop-color="#f9f9f9"/><stop offset=".784" stop-color="#cdcdcd"/><stop offset=".844" stop-color="#434343"/><stop offset=".894" stop-color="#171717"/><stop offset=".944" stop-color="#080808"/><stop offset=".944" stop-color="#0a0a0a"/><stop offset="1" stop-color="#0e0e0e"/></linearGradient><linearGradient id="c92" x2="0" y2="1"><stop offset=".000" stop-color="#434343"/><stop offset=".258" stop-color="#454545"/><stop offset=".449" stop-color="#4f4f4f"/><stop offset=".502" stop-color="#6f6f6f"/><stop offset=".562" stop-color="#9f9f9f"/><stop offset=".602" stop-color="#e5e5e5"/><stop offset=".727" stop-color="#c0c0c0"/><stop offset=".787" stop-color="#535353"/><stop offset=".837" stop-color="#2c2c2c"/><stop offset=".887" stop-color="#080808"/><stop offset=".925" stop-color="#0a0a0a"/><stop offset="1" stop-color="#0f0f0f"/></linearGradient><linearGradient id="c93" x2="0" y2="1"><stop offset=".000" stop-color="#444444"/><stop offset=".273" stop-color="#454545"/><stop offset=".474" stop-color="#6f6f6f"/><stop offset=".504" stop-color="#6c6c6c"/><stop offset=".564" stop-color="#878787"/><stop offset=".604" stop-color="#ededed"/><stop offset=".814" stop-color="#d2d2d2"/><stop offset=".874" stop-color="#646464"/><stop offset=".924" stop-color="#313131"/><stop offset=".974" stop-color="#080808"/><stop offset=".974" stop-color="#0d0d0d"/><stop offset="1" stop-color="#050505"/></linearGradient><linearGradient id="c94" x2="0" y2="1"><stop offset=".000" stop-color="#454545"/><stop offset=".276" stop-color="#464646"/><stop offset=".479" stop-color="#545454"/><stop offset=".517" stop-color="#686868"/><stop offset=".577" stop-color="#8c8c8c"/><stop offset=".617" stop-color="#ffffff"/><stop offset=".780" stop-color="#eeeeee"/><stop offset=".840" stop-color="#656565"/><stop offset=".890" stop-color="#2e2e2e"/><stop offset=".940" stop-color="#080808"/><stop offset=".940" stop-color="#0b0b0b"/><stop offset="1" stop-color="#0b0b0b"/></linearGradient><linearGradient id="c95" x2="0" y2="1"><stop offset=".000" stop-color="#414141"/><stop offset=".279" stop-color="#424242"/><stop offset=".485" stop-color="#575757"/><stop offset=".493" stop-color="#5f5f5f"/><stop offset=".553" stop-color="#acacac"/><stop offset=".593" stop-color="#fbfbfb"/><stop offset=".656" stop-color="#cdcdcd"/><stop offset=".716" stop-color="#333333"/><stop offset=".766" stop-color="#3e3e3e"/><stop offset=".816" stop-color="#080808"/><stop offset=".925" stop-color="#0c0c0c"/><stop offset="1" stop-color="#0a0a0a"/></linearGradient><linearGradient id="c96" x2="0" y2="1"><stop offset=".000" stop-color="#434343"/><stop offset=".282" stop-color="#444444"/><stop offset=".490" stop-color="#535353"/><stop offset=".507" stop-color="#838383"/><stop offset=".567" stop-color="#898989"/><stop offset=".607" stop-color="#e8e8e8"/><stop offset=".790" stop-color="#aaaaaa"/><stop offset=".850" stop-color="#4f4f4f"/><stop offset=".900" stop-color="#222222"/><stop offset=".950" stop-color="#080808"/><stop offset=".950" stop-color="#0e0e0e"/><stop offset="1" stop-color="#0e0e0e"/></linearGradient><linearGradient id="c97" x2="0" y2="1"><stop offset=".000" stop-color="#434343"/><stop offset=".285" stop-color="#444444"/><stop offset=".495" stop-color="#696969"/><stop offset=".497" stop-color="#838383"/><stop offset=".557" stop-color="#939393"/><stop offset=".597" stop-color="#fefefe"/><stop offset=".768" stop-color="#b5b5b5"/><stop offset=".828" stop-color="#767676"/><stop offset=".878" stop-color="#313131"/><stop offset=".928" stop-color="#080808"/><stop offset=".928" stop-color="#080808"/><stop offset="1" stop-color="#020202"/></linearGradient><linearGradient id="c98" x2="0" y2="1"><stop offset=".000" stop-color="#474747"/><stop offset=".279" stop-color="#494949"/><stop offset=".485" stop-color="#656565"/><stop offset=".485" stop-color="#5c5c5c"/><stop offset=".532" stop-color="#818181"/><stop offset=".572" stop-color="#e3e3e3"/><stop offset=".651" stop-color="#bebebe"/><stop offset=".711" stop-color="#727272"/><stop offset=".761" stop-color="#3f3f3f"/><stop offset=".811" stop-color="#080808"/><stop offset=".925" stop-color="#060606"/><stop offset="1" stop-color="#0d0d0d"/></linearGradient><linearGradient id="c99" x2="0" y2="1"><stop offset=".000" stop-color="#414141"/><stop offset=".273" stop-color="#424242"/><stop offset=".475" stop-color="#707070"/><stop offset=".490" stop-color="#606060"/><stop offset=".550" stop-color="#a2a2a2"/><stop offset=".590" stop-color="#dcdcdc"/><stop offset=".759" stop-color="#acacac"/><stop offset=".819" stop-color="#5d5d5d"/><stop offset=".869" stop-color="#282828"/><stop offset=".919" stop-color="#080808"/><stop offset=".925" stop-color="#060606"/><stop offset="1" stop-color="#111111"/></linearGradient><linearGradient id="c100" x2="0" y2="1"><stop offset=".000" stop-color="#434343"/><stop offset=".267" stop-color="#454545"/><stop offset=".465" stop-color="#686868"/><stop offset=".469" stop-color="#757575"/><stop offset=".529" stop-color="#787878"/><stop offset=".569" stop-color="#eeeeee"/><stop offset=".690" stop-color="#b9b9b9"/><stop offset=".750" stop-color="#6d6d6d"/><stop offset=".800" stop-color="#434343"/><stop offset=".850" stop-color="#080808"/><stop offset=".925" stop-color="#070707"/><stop offset="1" stop-color="#030303"/></linearGradient><linearGradient id="c101" x2="0" y2="1"><stop offset=".000" stop-color="#404040"/><stop offset=".261" stop-color="#414141"/><stop offset=".455" stop-color="#444444"/><stop offset=".510" stop-color="#6a6a6a"/><stop offset=".570" stop-color="#909090"/><stop offset=".610" stop-color="#e0e0e0"/><stop offset=".800" stop-color="#8e8e8e"/><stop offset=".860" stop-color="#626262"/><stop offset=".910" stop-color="#313131"/><stop offset=".960" stop-color="#080808"/><stop offset=".960" stop-color="#070707"/><stop offset="1" stop-color="#050505"/></linearGradient><linearGradient id="c102" x2="0" y2="1"><stop offset=".000" stop-color="#4e4e4e"/><stop offset=".255" stop-color="#595959"/><stop offset=".445" stop-color="#565656"/><stop offset=".482" stop-color="#808080"/><stop offset=".542" stop-color="#8b8b8b"/><stop offset=".582" stop-color="#f7f7f7"/><stop offset=".784" stop-color="#aaaaaa"/><stop offset=".844" stop-color="#676767"/><stop offset=".894" stop-color="#292929"/><stop offset=".944" stop-color="#080808"/><stop offset=".944" stop-color="#090909"/><stop offset="1" stop-color="#090909"/></linearGradient><linearGradient id="c103" x2="0" y2="1"><stop offset=".000" stop-color="#4e4e4e"/><stop offset=".250" stop-color="#595959"/><stop offset=".436" stop-color="#494949"/><stop offset=".485" stop-color="#797979"/><stop offset=".545" stop-color="#808080"/><stop offset=".585" stop-color="#f1f1f1"/><stop offset=".754" stop-color="#a6a6a6"/><stop offset=".814" stop-color="#7d7d7d"/><stop offset=".864" stop-color="#212121"/><stop offset=".914" stop-color="#080808"/><stop offset=".925" stop-color="#0d0d0d"/><stop offset="1" stop-color="#080808"/></linearGradient><linearGradient id="c104" x2="0" y2="1"><stop offset=".000" stop-color="#464646"/><stop offset=".244" stop-color="#474747"/><stop offset=".427" stop-color="#616161"/><stop offset=".499" stop-color="#777777"/><stop offset=".559" stop-color="#939393"/><stop offset=".599" stop-color="#cdcdcd"/><stop offset=".770" stop-color="#aeaeae"/><stop offset=".830" stop-color="#7d7d7d"/><stop offset=".880" stop-color="#151515"/><stop offset=".930" stop-color="#080808"/><stop offset=".930" stop-color="#080808"/><stop offset="1" stop-color="#040404"/></linearGradient><linearGradient id="c105" x2="0" y2="1"><stop offset=".000" stop-color="#444444"/><stop offset=".239" stop-color="#454545"/><stop offset=".419" stop-color="#656565"/><stop offset=".496" stop-color="#747474"/><stop offset=".556" stop-color="#939393"/><stop offset=".596" stop-color="#fbfbfb"/><stop offset=".709" stop-color="#e1e1e1"/><stop offset=".769" stop-color="#787878"/><stop offset=".819" stop-color="#2d2d2d"/><stop offset=".869" stop-color="#080808"/><stop offset=".925" stop-color="#111111"/><stop offset="1" stop-color="#060606"/></linearGradient><linearGradient id="c106" x2="0" y2="1"><stop offset=".000" stop-color="#444444"/><stop offset=".234" stop-color="#454545"/><stop offset=".410" stop-color="#616161"/><stop offset=".480" stop-color="#6d6d6d"/><stop offset=".540" stop-color="#7d7d7d"/><stop offset=".580" stop-color="#e7e7e7"/><stop offset=".701" stop-color="#a0a0a0"/><stop offset=".761" stop-color="#4c4c4c"/><stop offset=".811" stop-color="#111111"/><stop offset=".861" stop-color="#080808"/><stop offset=".925" stop-color="#090909"/><stop offset="1" stop-color="#090909"/></linearGradient><linearGradient id="c107" x2="0" y2="1"><stop offset=".000" stop-color="#414141"/><stop offset=".234" stop-color="#424242"/><stop offset=".410" stop-color="#656565"/><stop offset=".470" stop-color="#6e6e6e"/><stop offset=".530" stop-color="#a0a0a0"/><stop offset=".570" stop-color="#bababa"/><stop offset=".749" stop-color="#a3a3a3"/><stop offset=".809" stop-color="#535353"/><stop offset=".859" stop-color="#2b2b2b"/><stop offset=".909" stop-color="#080808"/><stop offset=".925" stop-color="#090909"/><stop offset="1" stop-color="#0b0b0b"/></linearGradient><linearGradient id="c108" x2="0" y2="1"><stop offset=".000" stop-color="#434343"/><stop offset=".234" stop-color="#444444"/><stop offset=".410" stop-color="#6a6a6a"/><stop offset=".466" stop-color="#5b5b5b"/><stop offset=".526" stop-color="#8a8a8a"/><stop offset=".566" stop-color="#cfcfcf"/><stop offset=".627" stop-color="#9b9b9b"/><stop offset=".687" stop-color="#7a7a7a"/><stop offset=".737" stop-color="#3c3c3c"/><stop offset=".787" stop-color="#080808"/><stop offset=".925" stop-color="#0a0a0a"/><stop offset="1" stop-color="#0b0b0b"/></linearGradient><linearGradient id="c109" x2="0" y2="1"><stop offset=".000" stop-color="#414141"/><stop offset=".234" stop-color="#434343"/><stop offset=".410" stop-color="#5f5f5f"/><stop offset=".462" stop-color="#727272"/><stop offset=".522" stop-color="#9d9d9d"/><stop offset=".562" stop-color="#cdcdcd"/><stop offset=".679" stop-color="#b6b6b6"/><stop offset=".739" stop-color="#595959"/><stop offset=".789" stop-color="#242424"/><stop offset=".839" stop-color="#080808"/><stop offset=".925" stop-color="#060606"/><stop offset="1" stop-color="#050505"/></linearGradient><linearGradient id="c110" x2="0" y2="1"><stop offset=".000" stop-color="#454545"/><stop offset=".234" stop-color="#464646"/><stop offset=".410" stop-color="#4b4b4b"/><stop offset=".478" stop-color="#868686"/><stop offset=".538" stop-color="#9f9f9f"/><stop offset=".578" stop-color="#e2e2e2"/><stop offset=".654" stop-color="#a3a3a3"/><stop offset=".714" stop-color="#696969"/><stop offset=".764" stop-color="#272727"/><stop offset=".814" stop-color="#080808"/><stop offset=".925" stop-color="#060606"/><stop offset="1" stop-color="#060606"/></linearGradient><linearGradient id="c111" x2="0" y2="1"><stop offset=".000" stop-color="#414141"/><stop offset=".234" stop-color="#434343"/><stop offset=".410" stop-color="#595959"/><stop offset=".501" stop-color="#6e6e6e"/><stop offset=".561" stop-color="#a0a0a0"/><stop offset=".601" stop-color="#f3f3f3"/><stop offset=".686" stop-color="#ababab"/><stop offset=".746" stop-color="#4e4e4e"/><stop offset=".796" stop-color="#2c2c2c"/><stop offset=".846" stop-color="#080808"/><stop offset=".925" stop-color="#111111"/><stop offset="1" stop-color="#030303"/></linearGradient><linearGradient id="c112" x2="0" y2="1"><stop offset=".000" stop-color="#404040"/><stop offset=".234" stop-color="#414141"/><stop offset=".410" stop-color="#515151"/><stop offset=".494" stop-color="#747474"/><stop offset=".554" stop-color="#9e9e9e"/><stop offset=".594" stop-color="#f8f8f8"/><stop offset=".784" stop-color="#d2d2d2"/><stop offset=".844" stop-color="#6f6f6f"/><stop offset=".894" stop-color="#212121"/><stop offset=".944" stop-color="#080808"/><stop offset=".944" stop-color="#0c0c0c"/><stop offset="1" stop-color="#060606"/></linearGradient><linearGradient id="c113" x2="0" y2="1"><stop offset=".000" stop-color="#424242"/><stop offset=".234" stop-color="#434343"/><stop offset=".410" stop-color="#5e5e5e"/><stop offset=".486" stop-color="#6d6d6d"/><stop offset=".546" stop-color="#707070"/><stop offset=".586" stop-color="#f9f9f9"/><stop offset=".638" stop-color="#e1e1e1"/><stop offset=".698" stop-color="#555555"/><stop offset=".748" stop-color="#252525"/><stop offset=".798" stop-color="#080808"/><stop offset=".925" stop-color="#060606"/><stop offset="1" stop-color="#040404"/></linearGradient><linearGradient id="c114" x2="0" y2="1"><stop offset=".000" stop-color="#444444"/><stop offset=".230" stop-color="#454545"/><stop offset=".404" stop-color="#444444"/><stop offset=".486" stop-color="#6b6b6b"/><stop offset=".546" stop-color="#9f9f9f"/><stop offset=".586" stop-color="#ffffff"/><stop offset=".770" stop-color="#e3e3e3"/><stop offset=".830" stop-color="#494949"/><stop offset=".880" stop-color="#222222"/><stop offset=".930" stop-color="#080808"/><stop offset=".930" stop-color="#060606"/><stop offset="1" stop-color="#050505"/></linearGradient><linearGradient id="c115" x2="0" y2="1"><stop offset=".000" stop-color="#424242"/><stop offset=".227" stop-color="#434343"/><stop offset=".398" stop-color="#3f3f3f"/><stop offset=".511" stop-color="#787878"/><stop offset=".571" stop-color="#8d8d8d"/><stop offset=".611" stop-color="#fafafa"/><stop offset=".797" stop-color="#a8a8a8"/><stop offset=".857" stop-color="#757575"/><stop offset=".907" stop-color="#3c3c3c"/><stop offset=".957" stop-color="#080808"/><stop offset=".957" stop-color="#060606"/><stop offset="1" stop-color="#0a0a0a"/></linearGradient><linearGradient id="c116" x2="0" y2="1"><stop offset=".000" stop-color="#444444"/><stop offset=".223" stop-color="#454545"/><stop offset=".392" stop-color="#545454"/><stop offset=".474" stop-color="#727272"/><stop offset=".534" stop-color="#868686"/><stop offset=".574" stop-color="#ffffff"/><stop offset=".718" stop-color="#d6d6d6"/><stop offset=".778" stop-color="#525252"/><stop offset=".828" stop-color="#2c2c2c"/><stop offset=".878" stop-color="#080808"/><stop offset=".925" stop-color="#070707"/><stop offset="1" stop-color="#070707"/></linearGradient><linearGradient id="c117" x2="0" y2="1"><stop offset=".000" stop-color="#404040"/><stop offset=".220" stop-color="#414141"/><stop offset=".386" stop-color="#555555"/><stop offset=".471" stop-color="#7e7e7e"/><stop offset=".531" stop-color="#828282"/><stop offset=".571" stop-color="#cecece"/><stop offset=".663" stop-color="#a5a5a5"/><stop offset=".723" stop-color="#575757"/><stop offset=".773" stop-color="#282828"/><stop offset=".823" stop-color="#080808"/><stop offset=".925" stop-color="#070707"/><stop offset="1" stop-color="#030303"/></linearGradient><linearGradient id="c118" x2="0" y2="1"><stop offset=".000" stop-color="#4a4a4a"/><stop offset=".216" stop-color="#525252"/><stop offset=".380" stop-color="#737373"/><stop offset=".486" stop-color="#6b6b6b"/><stop offset=".546" stop-color="#969696"/><stop offset=".586" stop-color="#ffffff"/><stop offset=".631" stop-color="#f4f4f4"/><stop offset=".691" stop-color="#747474"/><stop offset=".741" stop-color="#3a3a3a"/><stop offset=".791" stop-color="#080808"/><stop offset=".925" stop-color="#161616"/><stop offset="1" stop-color="#040404"/></linearGradient><linearGradient id="c119" x2="0" y2="1"><stop offset=".000" stop-color="#444444"/><stop offset=".172" stop-color="#464646"/><stop offset=".306" stop-color="#5c5c5c"/><stop offset=".459" stop-color="#828282"/><stop offset=".519" stop-color="#848484"/><stop offset=".559" stop-color="#ffffff"/><stop offset=".732" stop-color="#f8f8f8"/><stop offset=".792" stop-color="#676767"/><stop offset=".842" stop-color="#353535"/><stop offset=".892" stop-color="#080808"/><stop offset=".925" stop-color="#090909"/><stop offset="1" stop-color="#040404"/></linearGradient><linearGradient id="c120" x2="0" y2="1"><stop offset=".000" stop-color="#7e7e7e"/><stop offset=".090" stop-color="#666666"/><stop offset=".127" stop-color="#444444"/><stop offset=".232" stop-color="#696969"/><stop offset=".498" stop-color="#5c5c5c"/><stop offset=".558" stop-color="#8f8f8f"/><stop offset=".598" stop-color="#ececec"/><stop offset=".733" stop-color="#c1c1c1"/><stop offset=".793" stop-color="#363636"/><stop offset=".843" stop-color="#232323"/><stop offset=".893" stop-color="#080808"/><stop offset=".925" stop-color="#070707"/><stop offset="1" stop-color="#080808"/></linearGradient><linearGradient id="c121" x2="0" y2="1"><stop offset=".000" stop-color="#666666"/><stop offset=".090" stop-color="#5b5b5b"/><stop offset=".090" stop-color="#454545"/><stop offset=".158" stop-color="#696969"/><stop offset=".481" stop-color="#7b7b7b"/><stop offset=".541" stop-color="#8e8e8e"/><stop offset=".581" stop-color="#ececec"/><stop offset=".764" stop-color="#aaaaaa"/><stop offset=".824" stop-color="#525252"/><stop offset=".874" stop-color="#262626"/><stop offset=".924" stop-color="#080808"/><stop offset=".925" stop-color="#090909"/><stop offset="1" stop-color="#060606"/></linearGradient><linearGradient id="c122" x2="0" y2="1"><stop offset=".000" stop-color="#6a6a6a"/><stop offset=".090" stop-color="#5e5e5e"/><stop offset=".090" stop-color="#474747"/><stop offset=".105" stop-color="#6d6d6d"/><stop offset=".491" stop-color="#6d6d6d"/><stop offset=".551" stop-color="#939393"/><stop offset=".591" stop-color="#c4c4c4"/><stop offset=".683" stop-color="#a2a2a2"/><stop offset=".743" stop-color="#626262"/><stop offset=".793" stop-color="#323232"/><stop offset=".843" stop-color="#080808"/><stop offset=".925" stop-color="#0e0e0e"/><stop offset="1" stop-color="#070707"/></linearGradient><linearGradient id="c123" x2="0" y2="1"><stop offset=".000" stop-color="#7f7f7f"/><stop offset=".090" stop-color="#676767"/><stop offset=".090" stop-color="#434343"/><stop offset=".130" stop-color="#686868"/><stop offset=".497" stop-color="#676767"/><stop offset=".557" stop-color="#7a7a7a"/><stop offset=".597" stop-color="#ffffff"/><stop offset=".719" stop-color="#bdbdbd"/><stop offset=".779" stop-color="#4b4b4b"/><stop offset=".829" stop-color="#1e1e1e"/><stop offset=".879" stop-color="#080808"/><stop offset=".925" stop-color="#090909"/><stop offset="1" stop-color="#040404"/></linearGradient><linearGradient id="c124" x2="0" y2="1"><stop offset=".000" stop-color="#6d6d6d"/><stop offset=".090" stop-color="#5e5e5e"/><stop offset=".102" stop-color="#434343"/><stop offset=".190" stop-color="#4d4d4d"/><stop offset=".480" stop-color="#6f6f6f"/><stop offset=".540" stop-color="#9a9a9a"/><stop offset=".580" stop-color="#e8e8e8"/><stop offset=".715" stop-color="#afafaf"/><stop offset=".775" stop-color="#525252"/><stop offset=".825" stop-color="#262626"/><stop offset=".875" stop-color="#080808"/><stop offset=".925" stop-color="#0a0a0a"/><stop offset="1" stop-color="#030303"/></linearGradient><linearGradient id="c125" x2="0" y2="1"><stop offset=".000" stop-color="#454545"/><stop offset=".130" stop-color="#474747"/><stop offset=".237" stop-color="#676767"/><stop offset=".487" stop-color="#656565"/><stop offset=".547" stop-color="#8f8f8f"/><stop offset=".587" stop-color="#ffffff"/><stop offset=".645" stop-color="#b2b2b2"/><stop offset=".705" stop-color="#767676"/><stop offset=".755" stop-color="#2f2f2f"/><stop offset=".805" stop-color="#080808"/><stop offset=".925" stop-color="#060606"/><stop offset="1" stop-color="#040404"/></linearGradient><linearGradient id="c126" x2="0" y2="1"><stop offset=".000" stop-color="#444444"/><stop offset=".151" stop-color="#454545"/><stop offset=".273" stop-color="#676767"/><stop offset=".467" stop-color="#727272"/><stop offset=".527" stop-color="#8b8b8b"/><stop offset=".567" stop-color="#ffffff"/><stop offset=".610" stop-color="#e3e3e3"/><stop offset=".670" stop-color="#464646"/><stop offset=".720" stop-color="#272727"/><stop offset=".770" stop-color="#080808"/><stop offset=".925" stop-color="#121212"/><stop offset="1" stop-color="#070707"/></linearGradient><linearGradient id="c127" x2="0" y2="1"><stop offset=".000" stop-color="#444444"/><stop offset=".172" stop-color="#454545"/><stop offset=".306" stop-color="#6c6c6c"/><stop offset=".479" stop-color="#6a6a6a"/><stop offset=".539" stop-color="#818181"/><stop offset=".579" stop-color="#ffffff"/><stop offset=".710" stop-color="#c1c1c1"/><stop offset=".770" stop-color="#797979"/><stop offset=".820" stop-color="#282828"/><stop offset=".870" stop-color="#080808"/><stop offset=".925" stop-color="#0c0c0c"/><stop offset="1" stop-color="#040404"/></linearGradient><linearGradient id="c128" x2="0" y2="1"><stop offset=".000" stop-color="#414141"/><stop offset=".191" stop-color="#434343"/><stop offset=".338" stop-color="#4f4f4f"/><stop offset=".487" stop-color="#616161"/><stop offset=".547" stop-color="#818181"/><stop offset=".587" stop-color="#ffffff"/><stop offset=".747" stop-color="#d2d2d2"/><stop offset=".807" stop-color="#393939"/><stop offset=".857" stop-color="#2a2a2a"/><stop offset=".907" stop-color="#080808"/><stop offset=".925" stop-color="#0a0a0a"/><stop offset="1" stop-color="#0a0a0a"/></linearGradient><linearGradient id="c129" x2="0" y2="1"><stop offset=".000" stop-color="#414141"/><stop offset=".210" stop-color="#424242"/><stop offset=".370" stop-color="#6b6b6b"/><stop offset=".448" stop-color="#585858"/><stop offset=".508" stop-color="#8f8f8f"/><stop offset=".548" stop-color="#f1f1f1"/><stop offset=".718" stop-color="#c0c0c0"/><stop offset=".778" stop-color="#737373"/><stop offset=".828" stop-color="#282828"/><stop offset=".878" stop-color="#080808"/><stop offset=".925" stop-color="#171717"/><stop offset="1" stop-color="#0b0b0b"/></linearGradient><linearGradient id="c130" x2="0" y2="1"><stop offset=".000" stop-color="#424242"/><stop offset=".226" stop-color="#434343"/><stop offset=".397" stop-color="#606060"/><stop offset=".461" stop-color="#5a5a5a"/><stop offset=".521" stop-color="#777777"/><stop offset=".561" stop-color="#a6a6a6"/><stop offset=".747" stop-color="#898989"/><stop offset=".807" stop-color="#575757"/><stop offset=".857" stop-color="#1b1b1b"/><stop offset=".907" stop-color="#080808"/><stop offset=".925" stop-color="#060606"/><stop offset="1" stop-color="#080808"/></linearGradient><linearGradient id="c131" x2="0" y2="1"><stop offset=".000" stop-color="#3e3e3e"/><stop offset=".242" stop-color="#3f3f3f"/><stop offset=".423" stop-color="#626262"/><stop offset=".487" stop-color="#878787"/><stop offset=".547" stop-color="#7f7f7f"/><stop offset=".587" stop-color="#ffffff"/><stop offset=".755" stop-color="#dfdfdf"/><stop offset=".815" stop-color="#636363"/><stop offset=".865" stop-color="#1d1d1d"/><stop offset=".915" stop-color="#080808"/><stop offset=".925" stop-color="#0a0a0a"/><stop offset="1" stop-color="#0b0b0b"/></linearGradient><linearGradient id="c132" x2="0" y2="1"><stop offset=".000" stop-color="#424242"/><stop offset=".258" stop-color="#434343"/><stop offset=".450" stop-color="#4a4a4a"/><stop offset=".488" stop-color="#6d6d6d"/><stop offset=".548" stop-color="#8e8e8e"/><stop offset=".588" stop-color="#a2a2a2"/><stop offset=".791" stop-color="#7a7a7a"/><stop offset=".851" stop-color="#5d5d5d"/><stop offset=".901" stop-color="#292929"/><stop offset=".951" stop-color="#080808"/><stop offset=".951" stop-color="#050505"/><stop offset="1" stop-color="#080808"/></linearGradient><linearGradient id="c133" x2="0" y2="1"><stop offset=".000" stop-color="#484848"/><stop offset=".266" stop-color="#494949"/><stop offset=".464" stop-color="#545454"/><stop offset=".464" stop-color="#646464"/><stop offset=".509" stop-color="#818181"/><stop offset=".549" stop-color="#f4f4f4"/><stop offset=".742" stop-color="#c2c2c2"/><stop offset=".802" stop-color="#595959"/><stop offset=".852" stop-color="#353535"/><stop offset=".902" stop-color="#080808"/><stop offset=".925" stop-color="#050505"/><stop offset="1" stop-color="#020202"/></linearGradient><linearGradient id="c134" x2="0" y2="1"><stop offset=".000" stop-color="#444444"/><stop offset=".275" stop-color="#454545"/><stop offset=".478" stop-color="#686868"/><stop offset=".478" stop-color="#686868"/><stop offset=".497" stop-color="#939393"/><stop offset=".537" stop-color="#ffffff"/><stop offset=".684" stop-color="#cecece"/><stop offset=".744" stop-color="#707070"/><stop offset=".794" stop-color="#383838"/><stop offset=".844" stop-color="#080808"/><stop offset=".925" stop-color="#0a0a0a"/><stop offset="1" stop-color="#020202"/></linearGradient><linearGradient id="c135" x2="0" y2="1"><stop offset=".000" stop-color="#444444"/><stop offset=".246" stop-color="#454545"/><stop offset=".477" stop-color="#595959"/><stop offset=".537" stop-color="#737373"/><stop offset=".577" stop-color="#bebebe"/><stop offset=".671" stop-color="#6f6f6f"/><stop offset=".731" stop-color="#555555"/><stop offset=".781" stop-color="#474747"/><stop offset=".831" stop-color="#080808"/><stop offset=".925" stop-color="#090909"/><stop offset="1" stop-color="#020202"/></linearGradient><linearGradient id="c136" x2="0" y2="1"><stop offset=".000" stop-color="#434343"/><stop offset=".232" stop-color="#444444"/><stop offset=".446" stop-color="#4a4a4a"/><stop offset=".506" stop-color="#939393"/><stop offset=".546" stop-color="#e2e2e2"/><stop offset=".638" stop-color="#b1b1b1"/><stop offset=".698" stop-color="#5e5e5e"/><stop offset=".748" stop-color="#444444"/><stop offset=".798" stop-color="#080808"/><stop offset=".925" stop-color="#0d0d0d"/><stop offset="1" stop-color="#0f0f0f"/></linearGradient><linearGradient id="c137" x2="0" y2="1"><stop offset=".000" stop-color="#484848"/><stop offset=".240" stop-color="#4a4a4a"/><stop offset=".463" stop-color="#5d5d5d"/><stop offset=".523" stop-color="#818181"/><stop offset=".563" stop-color="#ffffff"/><stop offset=".656" stop-color="#b7b7b7"/><stop offset=".716" stop-color="#5d5d5d"/><stop offset=".766" stop-color="#222222"/><stop offset=".816" stop-color="#080808"/><stop offset=".925" stop-color="#060606"/><stop offset="1" stop-color="#030303"/></linearGradient><linearGradient id="c138" x2="0" y2="1"><stop offset=".000" stop-color="#414141"/><stop offset=".236" stop-color="#434343"/><stop offset=".455" stop-color="#686868"/><stop offset=".515" stop-color="#858585"/><stop offset=".555" stop-color="#f3f3f3"/><stop offset=".710" stop-color="#b5b5b5"/><stop offset=".770" stop-color="#505050"/><stop offset=".820" stop-color="#212121"/><stop offset=".870" stop-color="#080808"/><stop offset=".925" stop-color="#060606"/><stop offset="1" stop-color="#030303"/></linearGradient><linearGradient id="c139" x2="0" y2="1"><stop offset=".000" stop-color="#434343"/><stop offset=".228" stop-color="#454545"/><stop offset=".437" stop-color="#555555"/><stop offset=".497" stop-color="#8d8d8d"/><stop offset=".537" stop-color="#ffffff"/><stop offset=".631" stop-color="#e4e4e4"/><stop offset=".691" stop-color="#6c6c6c"/><stop offset=".741" stop-color="#333333"/><stop offset=".791" stop-color="#080808"/><stop offset=".925" stop-color="#111111"/><stop offset="1" stop-color="#050505"/></linearGradient><linearGradient id="c140" x2="0" y2="1"><stop offset=".000" stop-color="#434343"/><stop offset=".227" stop-color="#444444"/><stop offset=".435" stop-color="#525252"/><stop offset=".495" stop-color="#929292"/><stop offset=".535" stop-color="#d7d7d7"/><stop offset=".726" stop-color="#888888"/><stop offset=".786" stop-color="#5a5a5a"/><stop offset=".836" stop-color="#2b2b2b"/><stop offset=".886" stop-color="#080808"/><stop offset=".925" stop-color="#070707"/><stop offset="1" stop-color="#0f0f0f"/></linearGradient><linearGradient id="c141" x2="0" y2="1"><stop offset=".000" stop-color="#454545"/><stop offset=".241" stop-color="#464646"/><stop offset=".466" stop-color="#585858"/><stop offset=".526" stop-color="#898989"/><stop offset=".566" stop-color="#ededed"/><stop offset=".681" stop-color="#a1a1a1"/><stop offset=".741" stop-color="#5e5e5e"/><stop offset=".791" stop-color="#393939"/><stop offset=".841" stop-color="#080808"/><stop offset=".925" stop-color="#090909"/><stop offset="1" stop-color="#030303"/></linearGradient><linearGradient id="c142" x2="0" y2="1"><stop offset=".000" stop-color="#424242"/><stop offset=".251" stop-color="#434343"/><stop offset=".487" stop-color="#545454"/><stop offset=".547" stop-color="#868686"/><stop offset=".587" stop-color="#b0b0b0"/><stop offset=".682" stop-color="#626262"/><stop offset=".742" stop-color="#939393"/><stop offset=".792" stop-color="#3c3c3c"/><stop offset=".842" stop-color="#080808"/><stop offset=".925" stop-color="#121212"/><stop offset="1" stop-color="#020202"/></linearGradient><linearGradient id="c143" x2="0" y2="1"><stop offset=".000" stop-color="#424242"/><stop offset=".233" stop-color="#434343"/><stop offset=".447" stop-color="#4e4e4e"/><stop offset=".507" stop-color="#a1a1a1"/><stop offset=".547" stop-color="#ffffff"/><stop offset=".645" stop-color="#f2f2f2"/><stop offset=".705" stop-color="#646464"/><stop offset=".755" stop-color="#2f2f2f"/><stop offset=".805" stop-color="#080808"/><stop offset=".925" stop-color="#0d0d0d"/><stop offset="1" stop-color="#060606"/></linearGradient><linearGradient id="c144" x2="0" y2="1"><stop offset=".000" stop-color="#444444"/><stop offset=".236" stop-color="#454545"/><stop offset=".455" stop-color="#4f4f4f"/><stop offset=".515" stop-color="#969696"/><stop offset=".555" stop-color="#c5c5c5"/><stop offset=".744" stop-color="#ababab"/><stop offset=".804" stop-color="#5e5e5e"/><stop offset=".854" stop-color="#343434"/><stop offset=".904" stop-color="#080808"/><stop offset=".925" stop-color="#0f0f0f"/><stop offset="1" stop-color="#020202"/></linearGradient><linearGradient id="c145" x2="0" y2="1"><stop offset=".000" stop-color="#404040"/><stop offset=".238" stop-color="#414141"/><stop offset=".459" stop-color="#535353"/><stop offset=".519" stop-color="#949494"/><stop offset=".559" stop-color="#dbdbdb"/><stop offset=".605" stop-color="#8b8b8b"/><stop offset=".665" stop-color="#696969"/><stop offset=".715" stop-color="#383838"/><stop offset=".765" stop-color="#080808"/><stop offset=".925" stop-color="#070707"/><stop offset="1" stop-color="#070707"/></linearGradient><linearGradient id="c146" x2="0" y2="1"><stop offset=".000" stop-color="#444444"/><stop offset=".246" stop-color="#454545"/><stop offset=".477" stop-color="#616161"/><stop offset=".537" stop-color="#979797"/><stop offset=".577" stop-color="#ffffff"/><stop offset=".695" stop-color="#e7e7e7"/><stop offset=".755" stop-color="#5d5d5d"/><stop offset=".805" stop-color="#252525"/><stop offset=".855" stop-color="#080808"/><stop offset=".925" stop-color="#0a0a0a"/><stop offset="1" stop-color="#040404"/></linearGradient><linearGradient id="c147" x2="0" y2="1"><stop offset=".000" stop-color="#454545"/><stop offset=".241" stop-color="#464646"/><stop offset=".465" stop-color="#575757"/><stop offset=".525" stop-color="#6d6d6d"/><stop offset=".565" stop-color="#c1c1c1"/><stop offset=".679" stop-color="#7b7b7b"/><stop offset=".739" stop-color="#676767"/><stop offset=".789" stop-color="#3d3d3d"/><stop offset=".839" stop-color="#080808"/><stop offset=".925" stop-color="#090909"/><stop offset="1" stop-color="#0d0d0d"/></linearGradient><linearGradient id="c148" x2="0" y2="1"><stop offset=".000" stop-color="#414141"/><stop offset=".243" stop-color="#424242"/><stop offset=".469" stop-color="#545454"/><stop offset=".529" stop-color="#ababab"/><stop offset=".569" stop-color="#dddddd"/><stop offset=".665" stop-color="#bababa"/><stop offset=".725" stop-color="#636363"/><stop offset=".775" stop-color="#2f2f2f"/><stop offset=".825" stop-color="#080808"/><stop offset=".925" stop-color="#050505"/><stop offset="1" stop-color="#050505"/></linearGradient><linearGradient id="c149" x2="0" y2="1"><stop offset=".000" stop-color="#414141"/><stop offset=".234" stop-color="#424242"/><stop offset=".451" stop-color="#4d4d4d"/><stop offset=".511" stop-color="#9c9c9c"/><stop offset=".551" stop-color="#ffffff"/><stop offset=".622" stop-color="#d9d9d9"/><stop offset=".682" stop-color="#989898"/><stop offset=".732" stop-color="#262626"/><stop offset=".782" stop-color="#080808"/><stop offset=".925" stop-color="#090909"/><stop offset="1" stop-color="#0a0a0a"/></linearGradient><linearGradient id="c150" x2="0" y2="1"><stop offset=".000" stop-color="#414141"/><stop offset=".241" stop-color="#424242"/><stop offset=".465" stop-color="#4e4e4e"/><stop offset=".525" stop-color="#7f7f7f"/><stop offset=".565" stop-color="#f8f8f8"/><stop offset=".660" stop-color="#d4d4d4"/><stop offset=".720" stop-color="#4b4b4b"/><stop offset=".770" stop-color="#1c1c1c"/><stop offset=".820" stop-color="#080808"/><stop offset=".925" stop-color="#151515"/><stop offset="1" stop-color="#070707"/></linearGradient><linearGradient id="c151" x2="0" y2="1"><stop offset=".000" stop-color="#414141"/><stop offset=".236" stop-color="#424242"/><stop offset=".454" stop-color="#555555"/><stop offset=".514" stop-color="#a3a3a3"/><stop offset=".554" stop-color="#ebebeb"/><stop offset=".696" stop-color="#9a9a9a"/><stop offset=".756" stop-color="#707070"/><stop offset=".806" stop-color="#1b1b1b"/><stop offset=".856" stop-color="#080808"/><stop offset=".925" stop-color="#0e0e0e"/><stop offset="1" stop-color="#0b0b0b"/></linearGradient><linearGradient id="c152" x2="0" y2="1"><stop offset=".000" stop-color="#434343"/><stop offset=".231" stop-color="#444444"/><stop offset=".444" stop-color="#5c5c5c"/><stop offset=".504" stop-color="#8b8b8b"/><stop offset=".544" stop-color="#cacaca"/><stop offset=".746" stop-color="#969696"/><stop offset=".806" stop-color="#5b5b5b"/><stop offset=".856" stop-color="#2c2c2c"/><stop offset=".906" stop-color="#080808"/><stop offset=".925" stop-color="#0d0d0d"/><stop offset="1" stop-color="#0a0a0a"/></linearGradient><linearGradient id="c153" x2="0" y2="1"><stop offset=".000" stop-color="#414141"/><stop offset=".222" stop-color="#434343"/><stop offset=".424" stop-color="#4d4d4d"/><stop offset=".484" stop-color="#a7a7a7"/><stop offset=".524" stop-color="#e9e9e9"/><stop offset=".691" stop-color="#a5a5a5"/><stop offset=".751" stop-color="#797979"/><stop offset=".801" stop-color="#272727"/><stop offset=".851" stop-color="#080808"/><stop offset=".925" stop-color="#070707"/><stop offset="1" stop-color="#020202"/></linearGradient><linearGradient id="c154" x2="0" y2="1"><stop offset=".000" stop-color="#414141"/><stop offset=".236" stop-color="#434343"/><stop offset=".455" stop-color="#535353"/><stop offset=".515" stop-color="#7b7b7b"/><stop offset=".555" stop-color="#ececec"/><stop offset=".695" stop-color="#9a9a9a"/><stop offset=".755" stop-color="#4d4d4d"/><stop offset=".805" stop-color="#2f2f2f"/><stop offset=".855" stop-color="#080808"/><stop offset=".925" stop-color="#0f0f0f"/><stop offset="1" stop-color="#0b0b0b"/></linearGradient><linearGradient id="c155" x2="0" y2="1"><stop offset=".000" stop-color="#444444"/><stop offset=".226" stop-color="#454545"/><stop offset=".431" stop-color="#535353"/><stop offset=".491" stop-color="#a5a5a5"/><stop offset=".531" stop-color="#c6c6c6"/><stop offset=".656" stop-color="#8a8a8a"/><stop offset=".716" stop-color="#525252"/><stop offset=".766" stop-color="#242424"/><stop offset=".816" stop-color="#080808"/><stop offset=".925" stop-color="#0a0a0a"/><stop offset="1" stop-color="#030303"/></linearGradient><linearGradient id="c156" x2="0" y2="1"><stop offset=".000" stop-color="#4d4d4d"/><stop offset=".227" stop-color="#555555"/><stop offset=".434" stop-color="#676767"/><stop offset=".494" stop-color="#888888"/><stop offset=".534" stop-color="#d0d0d0"/><stop offset=".713" stop-color="#a8a8a8"/><stop offset=".773" stop-color="#4d4d4d"/><stop offset=".823" stop-color="#202020"/><stop offset=".873" stop-color="#080808"/><stop offset=".925" stop-color="#0e0e0e"/><stop offset="1" stop-color="#050505"/></linearGradient><linearGradient id="c157" x2="0" y2="1"><stop offset=".000" stop-color="#4c4c4c"/><stop offset=".240" stop-color="#585858"/><stop offset=".463" stop-color="#555555"/><stop offset=".523" stop-color="#9d9d9d"/><stop offset=".563" stop-color="#ffffff"/><stop offset=".693" stop-color="#c2c2c2"/><stop offset=".753" stop-color="#808080"/><stop offset=".803" stop-color="#242424"/><stop offset=".853" stop-color="#080808"/><stop offset=".925" stop-color="#0d0d0d"/><stop offset="1" stop-color="#111111"/></linearGradient><linearGradient id="c158" x2="0" y2="1"><stop offset=".000" stop-color="#3e3e3e"/><stop offset=".224" stop-color="#3f3f3f"/><stop offset=".428" stop-color="#565656"/><stop offset=".488" stop-color="#afafaf"/><stop offset=".528" stop-color="#ffffff"/><stop offset=".593" stop-color="#ebebeb"/><stop offset=".653" stop-color="#707070"/><stop offset=".703" stop-color="#3b3b3b"/><stop offset=".753" stop-color="#080808"/><stop offset=".925" stop-color="#070707"/><stop offset="1" stop-color="#020202"/></linearGradient><linearGradient id="c159" x2="0" y2="1"><stop offset=".000" stop-color="#414141"/><stop offset=".221" stop-color="#424242"/><stop offset=".420" stop-color="#525252"/><stop offset=".480" stop-color="#aeaeae"/><stop offset=".520" stop-color="#fefefe"/><stop offset=".676" stop-color="#dadada"/><stop offset=".736" stop-color="#494949"/><stop offset=".786" stop-color="#292929"/><stop offset=".836" stop-color="#080808"/><stop offset=".925" stop-color="#131313"/><stop offset="1" stop-color="#060606"/></linearGradient><linearGradient id="c160" x2="0" y2="1"><stop offset=".000" stop-color="#424242"/><stop offset=".230" stop-color="#434343"/><stop offset=".440" stop-color="#515151"/><stop offset=".500" stop-color="#999999"/><stop offset=".540" stop-color="#dedede"/><stop offset=".588" stop-color="#cbcbcb"/><stop offset=".648" stop-color="#797979"/><stop offset=".698" stop-color="#262626"/><stop offset=".748" stop-color="#080808"/><stop offset=".925" stop-color="#090909"/><stop offset="1" stop-color="#050505"/></linearGradient><linearGradient id="c161" x2="0" y2="1"><stop offset=".000" stop-color="#434343"/><stop offset=".227" stop-color="#444444"/><stop offset=".435" stop-color="#5c5c5c"/><stop offset=".495" stop-color="#777777"/><stop offset=".535" stop-color="#dcdcdc"/><stop offset=".673" stop-color="#a1a1a1"/><stop offset=".733" stop-color="#5a5a5a"/><stop offset=".783" stop-color="#171717"/><stop offset=".833" stop-color="#080808"/><stop offset=".925" stop-color="#0a0a0a"/><stop offset="1" stop-color="#050505"/></linearGradient><linearGradient id="c162" x2="0" y2="1"><stop offset=".000" stop-color="#444444"/><stop offset=".235" stop-color="#454545"/><stop offset=".452" stop-color="#555555"/><stop offset=".512" stop-color="#7a7a7a"/><stop offset=".552" stop-color="#ffffff"/><stop offset=".711" stop-color="#fdfdfd"/><stop offset=".771" stop-color="#484848"/><stop offset=".821" stop-color="#3d3d3d"/><stop offset=".871" stop-color="#080808"/><stop offset=".925" stop-color="#0c0c0c"/><stop offset="1" stop-color="#040404"/></linearGradient><linearGradient id="c163" x2="0" y2="1"><stop offset=".000" stop-color="#414141"/><stop offset=".219" stop-color="#424242"/><stop offset=".417" stop-color="#4f4f4f"/><stop offset=".477" stop-color="#9e9e9e"/><stop offset=".517" stop-color="#ffffff"/><stop offset=".723" stop-color="#ebebeb"/><stop offset=".783" stop-color="#969696"/><stop offset=".833" stop-color="#333333"/><stop offset=".883" stop-color="#080808"/><stop offset=".925" stop-color="#0f0f0f"/><stop offset="1" stop-color="#080808"/></linearGradient><linearGradient id="c164" x2="0" y2="1"><stop offset=".000" stop-color="#454545"/><stop offset=".230" stop-color="#464646"/><stop offset=".442" stop-color="#535353"/><stop offset=".502" stop-color="#969696"/><stop offset=".542" stop-color="#dcdcdc"/><stop offset=".655" stop-color="#909090"/><stop offset=".715" stop-color="#777777"/><stop offset=".765" stop-color="#3e3e3e"/><stop offset=".815" stop-color="#080808"/><stop offset=".925" stop-color="#101010"/><stop offset="1" stop-color="#020202"/></linearGradient><linearGradient id="c165" x2="0" y2="1"><stop offset=".000" stop-color="#454545"/><stop offset=".215" stop-color="#464646"/><stop offset=".408" stop-color="#555555"/><stop offset=".468" stop-color="#a9a9a9"/><stop offset=".508" stop-color="#ffffff"/><stop offset=".666" stop-color="#e8e8e8"/><stop offset=".726" stop-color="#333333"/><stop offset=".776" stop-color="#262626"/><stop offset=".826" stop-color="#080808"/><stop offset=".925" stop-color="#070707"/><stop offset="1" stop-color="#020202"/></linearGradient><linearGradient id="c166" x2="0" y2="1"><stop offset=".000" stop-color="#454545"/><stop offset=".217" stop-color="#464646"/><stop offset=".412" stop-color="#555555"/><stop offset=".472" stop-color="#929292"/><stop offset=".512" stop-color="#d4d4d4"/><stop offset=".571" stop-color="#a5a5a5"/><stop offset=".631" stop-color="#6a6a6a"/><stop offset=".681" stop-color="#3a3a3a"/><stop offset=".731" stop-color="#080808"/><stop offset=".925" stop-color="#090909"/><stop offset="1" stop-color="#020202"/></linearGradient><linearGradient id="c167" x2="0" y2="1"><stop offset=".000" stop-color="#474747"/><stop offset=".220" stop-color="#484848"/><stop offset=".419" stop-color="#535353"/><stop offset=".479" stop-color="#989898"/><stop offset=".519" stop-color="#ffffff"/><stop offset=".639" stop-color="#dfdfdf"/><stop offset=".699" stop-color="#8b8b8b"/><stop offset=".749" stop-color="#1d1d1d"/><stop offset=".799" stop-color="#080808"/><stop offset=".925" stop-color="#070707"/><stop offset="1" stop-color="#030303"/></linearGradient><linearGradient id="c168" x2="0" y2="1"><stop offset=".000" stop-color="#474747"/><stop offset=".223" stop-color="#484848"/><stop offset=".425" stop-color="#515151"/><stop offset=".485" stop-color="#9f9f9f"/><stop offset=".525" stop-color="#e4e4e4"/><stop offset=".636" stop-color="#b9b9b9"/><stop offset=".696" stop-color="#636363"/><stop offset=".746" stop-color="#2b2b2b"/><stop offset=".796" stop-color="#080808"/><stop offset=".925" stop-color="#050505"/><stop offset="1" stop-color="#121212"/></linearGradient><linearGradient id="c169" x2="0" y2="1"><stop offset=".000" stop-color="#444444"/><stop offset=".239" stop-color="#454545"/><stop offset=".461" stop-color="#4d4d4d"/><stop offset=".521" stop-color="#afafaf"/><stop offset=".561" stop-color="#dddddd"/><stop offset=".679" stop-color="#aaaaaa"/><stop offset=".739" stop-color="#5f5f5f"/><stop offset=".789" stop-color="#3c3c3c"/><stop offset=".839" stop-color="#080808"/><stop offset=".925" stop-color="#080808"/><stop offset="1" stop-color="#070707"/></linearGradient><linearGradient id="c170" x2="0" y2="1"><stop offset=".000" stop-color="#424242"/><stop offset=".231" stop-color="#434343"/><stop offset=".444" stop-color="#4a4a4a"/><stop offset=".504" stop-color="#bababa"/><stop offset=".544" stop-color="#ffffff"/><stop offset=".591" stop-color="#ffffff"/><stop offset=".651" stop-color="#5e5e5e"/><stop offset=".701" stop-color="#202020"/><stop offset=".751" stop-color="#080808"/><stop offset=".925" stop-color="#0f0f0f"/><stop offset="1" stop-color="#070707"/></linearGradient><linearGradient id="c171" x2="0" y2="1"><stop offset=".000" stop-color="#424242"/><stop offset=".216" stop-color="#444444"/><stop offset=".411" stop-color="#565656"/><stop offset=".471" stop-color="#929292"/><stop offset=".511" stop-color="#f7f7f7"/><stop offset=".579" stop-color="#bcbcbc"/><stop offset=".639" stop-color="#535353"/><stop offset=".689" stop-color="#3d3d3d"/><stop offset=".739" stop-color="#080808"/><stop offset=".925" stop-color="#0e0e0e"/><stop offset="1" stop-color="#0b0b0b"/></linearGradient><linearGradient id="c172" x2="0" y2="1"><stop offset=".000" stop-color="#3f3f3f"/><stop offset=".233" stop-color="#414141"/><stop offset=".449" stop-color="#575757"/><stop offset=".509" stop-color="#878787"/><stop offset=".549" stop-color="#e9e9e9"/><stop offset=".744" stop-color="#bababa"/><stop offset=".804" stop-color="#6d6d6d"/><stop offset=".854" stop-color="#323232"/><stop offset=".904" stop-color="#080808"/><stop offset=".925" stop-color="#0e0e0e"/><stop offset="1" stop-color="#060606"/></linearGradient><linearGradient id="c173" x2="0" y2="1"><stop offset=".000" stop-color="#444444"/><stop offset=".230" stop-color="#454545"/><stop offset=".440" stop-color="#5a5a5a"/><stop offset=".500" stop-color="#868686"/><stop offset=".540" stop-color="#eeeeee"/><stop offset=".652" stop-color="#a0a0a0"/><stop offset=".712" stop-color="#6e6e6e"/><stop offset=".762" stop-color="#252525"/><stop offset=".812" stop-color="#080808"/><stop offset=".925" stop-color="#080808"/><stop offset="1" stop-color="#070707"/></linearGradient><linearGradient id="c174" x2="0" y2="1"><stop offset=".000" stop-color="#454545"/><stop offset=".219" stop-color="#464646"/><stop offset=".416" stop-color="#5a5a5a"/><stop offset=".476" stop-color="#aaaaaa"/><stop offset=".516" stop-color="#ffffff"/><stop offset=".657" stop-color="#e7e7e7"/><stop offset=".717" stop-color="#414141"/><stop offset=".767" stop-color="#1e1e1e"/><stop offset=".817" stop-color="#080808"/><stop offset=".925" stop-color="#080808"/><stop offset="1" stop-color="#060606"/></linearGradient><linearGradient id="c175" x2="0" y2="1"><stop offset=".000" stop-color="#454545"/><stop offset=".228" stop-color="#474747"/><stop offset=".436" stop-color="#5b5b5b"/><stop offset=".496" stop-color="#8a8a8a"/><stop offset=".536" stop-color="#b9b9b9"/><stop offset=".617" stop-color="#7d7d7d"/><stop offset=".677" stop-color="#525252"/><stop offset=".727" stop-color="#222222"/><stop offset=".777" stop-color="#080808"/><stop offset=".925" stop-color="#070707"/><stop offset="1" stop-color="#0a0a0a"/></linearGradient><linearGradient id="c176" x2="0" y2="1"><stop offset=".000" stop-color="#434343"/><stop offset=".232" stop-color="#454545"/><stop offset=".445" stop-color="#5a5a5a"/><stop offset=".505" stop-color="#7d7d7d"/><stop offset=".545" stop-color="#d3d3d3"/><stop offset=".626" stop-color="#b0b0b0"/><stop offset=".686" stop-color="#555555"/><stop offset=".736" stop-color="#333333"/><stop offset=".786" stop-color="#080808"/><stop offset=".925" stop-color="#070707"/><stop offset="1" stop-color="#040404"/></linearGradient><linearGradient id="c177" x2="0" y2="1"><stop offset=".000" stop-color="#414141"/><stop offset=".228" stop-color="#434343"/><stop offset=".437" stop-color="#575757"/><stop offset=".497" stop-color="#979797"/><stop offset=".537" stop-color="#ededed"/><stop offset=".601" stop-color="#ababab"/><stop offset=".661" stop-color="#5e5e5e"/><stop offset=".711" stop-color="#272727"/><stop offset=".761" stop-color="#080808"/><stop offset=".925" stop-color="#080808"/><stop offset="1" stop-color="#050505"/></linearGradient><linearGradient id="c178" x2="0" y2="1"><stop offset=".000" stop-color="#3d3d3d"/><stop offset=".221" stop-color="#3e3e3e"/><stop offset=".420" stop-color="#5b5b5b"/><stop offset=".480" stop-color="#777777"/><stop offset=".520" stop-color="#9c9c9c"/><stop offset=".673" stop-color="#818181"/><stop offset=".733" stop-color="#484848"/><stop offset=".783" stop-color="#1a1a1a"/><stop offset=".833" stop-color="#080808"/><stop offset=".925" stop-color="#090909"/><stop offset="1" stop-color="#040404"/></linearGradient><linearGradient id="c179" x2="0" y2="1"><stop offset=".000" stop-color="#444444"/><stop offset=".242" stop-color="#454545"/><stop offset=".468" stop-color="#535353"/><stop offset=".528" stop-color="#848484"/><stop offset=".568" stop-color="#e6e6e6"/><stop offset=".741" stop-color="#a5a5a5"/><stop offset=".801" stop-color="#292929"/><stop offset=".851" stop-color="#1c1c1c"/><stop offset=".901" stop-color="#080808"/><stop offset=".925" stop-color="#080808"/><stop offset="1" stop-color="#0a0a0a"/></linearGradient><linearGradient id="c180" x2="0" y2="1"><stop offset=".000" stop-color="#424242"/><stop offset=".218" stop-color="#434343"/><stop offset=".413" stop-color="#505050"/><stop offset=".473" stop-color="#9b9b9b"/><stop offset=".513" stop-color="#ffffff"/><stop offset=".571" stop-color="#d8d8d8"/><stop offset=".631" stop-color="#5b5b5b"/><stop offset=".681" stop-color="#202020"/><stop offset=".731" stop-color="#080808"/><stop offset=".925" stop-color="#080808"/><stop offset="1" stop-color="#030303"/></linearGradient><linearGradient id="c181" x2="0" y2="1"><stop offset=".000" stop-color="#474747"/><stop offset=".237" stop-color="#484848"/><stop offset=".456" stop-color="#5b5b5b"/><stop offset=".516" stop-color="#848484"/><stop offset=".556" stop-color="#cecece"/><stop offset=".652" stop-color="#9d9d9d"/><stop offset=".712" stop-color="#6d6d6d"/><stop offset=".762" stop-color="#434343"/><stop offset=".812" stop-color="#080808"/><stop offset=".925" stop-color="#080808"/><stop offset="1" stop-color="#090909"/></linearGradient><linearGradient id="c182" x2="0" y2="1"><stop offset=".000" stop-color="#454545"/><stop offset=".238" stop-color="#474747"/><stop offset=".459" stop-color="#4d4d4d"/><stop offset=".519" stop-color="#a7a7a7"/><stop offset=".559" stop-color="#ffffff"/><stop offset=".664" stop-color="#efefef"/><stop offset=".724" stop-color="#6b6b6b"/><stop offset=".774" stop-color="#151515"/><stop offset=".824" stop-color="#080808"/><stop offset=".925" stop-color="#090909"/><stop offset="1" stop-color="#0d0d0d"/></linearGradient><linearGradient id="c183" x2="0" y2="1"><stop offset=".000" stop-color="#404040"/><stop offset=".222" stop-color="#414141"/><stop offset=".424" stop-color="#535353"/><stop offset=".484" stop-color="#999999"/><stop offset=".524" stop-color="#dedede"/><stop offset=".602" stop-color="#929292"/><stop offset=".662" stop-color="#484848"/><stop offset=".712" stop-color="#1a1a1a"/><stop offset=".762" stop-color="#080808"/><stop offset=".925" stop-color="#060606"/><stop offset="1" stop-color="#090909"/></linearGradient><linearGradient id="c184" x2="0" y2="1"><stop offset=".000" stop-color="#434343"/><stop offset=".229" stop-color="#444444"/><stop offset=".440" stop-color="#5c5c5c"/><stop offset=".500" stop-color="#ababab"/><stop offset=".540" stop-color="#e4e4e4"/><stop offset=".625" stop-color="#a5a5a5"/><stop offset=".685" stop-color="#595959"/><stop offset=".735" stop-color="#232323"/><stop offset=".785" stop-color="#080808"/><stop offset=".925" stop-color="#090909"/><stop offset="1" stop-color="#050505"/></linearGradient><linearGradient id="c185" x2="0" y2="1"><stop offset=".000" stop-color="#414141"/><stop offset=".235" stop-color="#424242"/><stop offset=".453" stop-color="#4d4d4d"/><stop offset=".513" stop-color="#999999"/><stop offset=".553" stop-color="#f7f7f7"/><stop offset=".614" stop-color="#acacac"/><stop offset=".674" stop-color="#6f6f6f"/><stop offset=".724" stop-color="#3a3a3a"/><stop offset=".774" stop-color="#080808"/><stop offset=".925" stop-color="#050505"/><stop offset="1" stop-color="#030303"/></linearGradient><linearGradient id="c186" x2="0" y2="1"><stop offset=".000" stop-color="#484848"/><stop offset=".237" stop-color="#494949"/><stop offset=".456" stop-color="#606060"/><stop offset=".516" stop-color="#9a9a9a"/><stop offset=".556" stop-color="#e0e0e0"/><stop offset=".663" stop-color="#c6c6c6"/><stop offset=".723" stop-color="#696969"/><stop offset=".773" stop-color="#373737"/><stop offset=".823" stop-color="#080808"/><stop offset=".925" stop-color="#0c0c0c"/><stop offset="1" stop-color="#070707"/></linearGradient><linearGradient id="c187" x2="0" y2="1"><stop offset=".000" stop-color="#484848"/><stop offset=".239" stop-color="#494949"/><stop offset=".461" stop-color="#636363"/><stop offset=".521" stop-color="#828282"/><stop offset=".561" stop-color="#e4e4e4"/><stop offset=".673" stop-color="#a5a5a5"/><stop offset=".733" stop-color="#808080"/><stop offset=".783" stop-color="#2d2d2d"/><stop offset=".833" stop-color="#080808"/><stop offset=".925" stop-color="#0f0f0f"/><stop offset="1" stop-color="#020202"/></linearGradient><linearGradient id="c188" x2="0" y2="1"><stop offset=".000" stop-color="#414141"/><stop offset=".216" stop-color="#424242"/><stop offset=".411" stop-color="#525252"/><stop offset=".471" stop-color="#909090"/><stop offset=".511" stop-color="#f3f3f3"/><stop offset=".626" stop-color="#a9a9a9"/><stop offset=".686" stop-color="#707070"/><stop offset=".736" stop-color="#2f2f2f"/><stop offset=".786" stop-color="#080808"/><stop offset=".925" stop-color="#080808"/><stop offset="1" stop-color="#090909"/></linearGradient><linearGradient id="c189" x2="0" y2="1"><stop offset=".000" stop-color="#434343"/><stop offset=".231" stop-color="#444444"/><stop offset=".444" stop-color="#4e4e4e"/><stop offset=".504" stop-color="#888888"/><stop offset=".544" stop-color="#d7d7d7"/><stop offset=".591" stop-color="#878787"/><stop offset=".651" stop-color="#6f6f6f"/><stop offset=".701" stop-color="#2c2c2c"/><stop offset=".751" stop-color="#080808"/><stop offset=".925" stop-color="#080808"/><stop offset="1" stop-color="#060606"/></linearGradient><linearGradient id="c190" x2="0" y2="1"><stop offset=".000" stop-color="#474747"/><stop offset=".225" stop-color="#484848"/><stop offset=".430" stop-color="#545454"/><stop offset=".490" stop-color="#979797"/><stop offset=".530" stop-color="#ececec"/><stop offset=".593" stop-color="#a9a9a9"/><stop offset=".653" stop-color="#545454"/><stop offset=".703" stop-color="#313131"/><stop offset=".753" stop-color="#080808"/><stop offset=".925" stop-color="#0a0a0a"/><stop offset="1" stop-color="#0b0b0b"/></linearGradient><linearGradient id="c191" x2="0" y2="1"><stop offset=".000" stop-color="#454545"/><stop offset=".219" stop-color="#474747"/><stop offset=".416" stop-color="#565656"/><stop offset=".476" stop-color="#b2b2b2"/><stop offset=".516" stop-color="#fbfbfb"/><stop offset=".725" stop-color="#d8d8d8"/><stop offset=".785" stop-color="#525252"/><stop offset=".835" stop-color="#313131"/><stop offset=".885" stop-color="#080808"/><stop offset=".925" stop-color="#0c0c0c"/><stop offset="1" stop-color="#0a0a0a"/></linearGradient><linearGradient id="c192" x2="0" y2="1"><stop offset=".000" stop-color="#474747"/><stop offset=".225" stop-color="#494949"/><stop offset=".431" stop-color="#595959"/><stop offset=".491" stop-color="#9b9b9b"/><stop offset=".531" stop-color="#cacaca"/><stop offset=".609" stop-color="#808080"/><stop offset=".669" stop-color="#5d5d5d"/><stop offset=".719" stop-color="#1a1a1a"/><stop offset=".769" stop-color="#080808"/><stop offset=".925" stop-color="#0b0b0b"/><stop offset="1" stop-color="#0f0f0f"/></linearGradient><linearGradient id="c193" x2="0" y2="1"><stop offset=".000" stop-color="#434343"/><stop offset=".226" stop-color="#444444"/><stop offset=".432" stop-color="#535353"/><stop offset=".492" stop-color="#828282"/><stop offset=".532" stop-color="#d8d8d8"/><stop offset=".661" stop-color="#c3c3c3"/><stop offset=".721" stop-color="#868686"/><stop offset=".771" stop-color="#131313"/><stop offset=".821" stop-color="#080808"/><stop offset=".925" stop-color="#151515"/><stop offset="1" stop-color="#080808"/></linearGradient><linearGradient id="c194" x2="0" y2="1"><stop offset=".000" stop-color="#414141"/><stop offset=".221" stop-color="#424242"/><stop offset=".421" stop-color="#4d4d4d"/><stop offset=".481" stop-color="#aeaeae"/><stop offset=".521" stop-color="#d3d3d3"/><stop offset=".694" stop-color="#929292"/><stop offset=".754" stop-color="#494949"/><stop offset=".804" stop-color="#2b2b2b"/><stop offset=".854" stop-color="#080808"/><stop offset=".925" stop-color="#090909"/><stop offset="1" stop-color="#080808"/></linearGradient><linearGradient id="c195" x2="0" y2="1"><stop offset=".000" stop-color="#434343"/><stop offset=".214" stop-color="#444444"/><stop offset=".405" stop-color="#606060"/><stop offset=".465" stop-color="#9b9b9b"/><stop offset=".505" stop-color="#f2f2f2"/><stop offset=".549" stop-color="#d4d4d4"/><stop offset=".609" stop-color="#4f4f4f"/><stop offset=".659" stop-color="#202020"/><stop offset=".709" stop-color="#080808"/><stop offset=".925" stop-color="#0d0d0d"/><stop offset="1" stop-color="#080808"/></linearGradient><linearGradient id="c196" x2="0" y2="1"><stop offset=".000" stop-color="#454545"/><stop offset=".212" stop-color="#474747"/><stop offset=".401" stop-color="#4c4c4c"/><stop offset=".461" stop-color="#7f7f7f"/><stop offset=".501" stop-color="#f6f6f6"/><stop offset=".541" stop-color="#d2d2d2"/><stop offset=".601" stop-color="#565656"/><stop offset=".651" stop-color="#292929"/><stop offset=".701" stop-color="#080808"/><stop offset=".925" stop-color="#060606"/><stop offset="1" stop-color="#131313"/></linearGradient><linearGradient id="c197" x2="0" y2="1"><stop offset=".000" stop-color="#454545"/><stop offset=".256" stop-color="#474747"/><stop offset=".447" stop-color="#454545"/><stop offset=".447" stop-color="#636363"/><stop offset=".491" stop-color="#868686"/><stop offset=".531" stop-color="#d6d6d6"/><stop offset=".638" stop-color="#858585"/><stop offset=".698" stop-color="#6a6a6a"/><stop offset=".748" stop-color="#2b2b2b"/><stop offset=".798" stop-color="#080808"/><stop offset=".925" stop-color="#090909"/><stop offset="1" stop-color="#0c0c0c"/></linearGradient><linearGradient id="c198" x2="0" y2="1"><stop offset=".000" stop-color="#424242"/><stop offset=".252" stop-color="#444444"/><stop offset=".440" stop-color="#4d4d4d"/><stop offset=".440" stop-color="#666666"/><stop offset=".468" stop-color="#b3b3b3"/><stop offset=".508" stop-color="#d6d6d6"/><stop offset=".710" stop-color="#939393"/><stop offset=".770" stop-color="#6e6e6e"/><stop offset=".820" stop-color="#272727"/><stop offset=".870" stop-color="#080808"/><stop offset=".925" stop-color="#0f0f0f"/><stop offset="1" stop-color="#090909"/></linearGradient><linearGradient id="c199" x2="0" y2="1"><stop offset=".000" stop-color="#454545"/><stop offset=".223" stop-color="#464646"/><stop offset=".392" stop-color="#616161"/><stop offset=".405" stop-color="#646464"/><stop offset=".465" stop-color="#979797"/><stop offset=".505" stop-color="#e9e9e9"/><stop offset=".575" stop-color="#c1c1c1"/><stop offset=".635" stop-color="#626262"/><stop offset=".685" stop-color="#2f2f2f"/><stop offset=".735" stop-color="#080808"/><stop offset=".925" stop-color="#070707"/><stop offset="1" stop-color="#020202"/></linearGradient><linearGradient id="c200" x2="0" y2="1"><stop offset=".000" stop-color="#424242"/><stop offset=".194" stop-color="#434343"/><stop offset=".344" stop-color="#585858"/><stop offset=".435" stop-color="#6c6c6c"/><stop offset=".495" stop-color="#919191"/><stop offset=".535" stop-color="#f3f3f3"/><stop offset=".626" stop-color="#b2b2b2"/><stop offset=".686" stop-color="#5f5f5f"/><stop offset=".736" stop-color="#313131"/><stop offset=".786" stop-color="#080808"/><stop offset=".925" stop-color="#080808"/><stop offset="1" stop-color="#111111"/></linearGradient><linearGradient id="c201" x2="0" y2="1"><stop offset=".000" stop-color="#6e6e6e"/><stop offset=".090" stop-color="#606060"/><stop offset=".162" stop-color="#474747"/><stop offset=".290" stop-color="#545454"/><stop offset=".398" stop-color="#5d5d5d"/><stop offset=".458" stop-color="#727272"/><stop offset=".498" stop-color="#fdfdfd"/><stop offset=".644" stop-color="#dedede"/><stop offset=".704" stop-color="#4f4f4f"/><stop offset=".754" stop-color="#2e2e2e"/><stop offset=".804" stop-color="#080808"/><stop offset=".925" stop-color="#0e0e0e"/><stop offset="1" stop-color="#030303"/></linearGradient><linearGradient id="c202" x2="0" y2="1"><stop offset=".000" stop-color="#727272"/><stop offset=".090" stop-color="#606060"/><stop offset=".126" stop-color="#434343"/><stop offset=".230" stop-color="#636363"/><stop offset=".435" stop-color="#7e7e7e"/><stop offset=".495" stop-color="#919191"/><stop offset=".535" stop-color="#cccccc"/><stop offset=".641" stop-color="#9a9a9a"/><stop offset=".701" stop-color="#6d6d6d"/><stop offset=".751" stop-color="#383838"/><stop offset=".801" stop-color="#080808"/><stop offset=".925" stop-color="#060606"/><stop offset="1" stop-color="#0b0b0b"/></linearGradient><linearGradient id="c203" x2="0" y2="1"><stop offset=".000" stop-color="#787878"/><stop offset=".090" stop-color="#646464"/><stop offset=".122" stop-color="#444444"/><stop offset=".223" stop-color="#5c5c5c"/><stop offset=".396" stop-color="#636363"/><stop offset=".456" stop-color="#8c8c8c"/><stop offset=".496" stop-color="#cfcfcf"/><stop offset=".652" stop-color="#a0a0a0"/><stop offset=".712" stop-color="#5b5b5b"/><stop offset=".762" stop-color="#212121"/><stop offset=".812" stop-color="#080808"/><stop offset=".925" stop-color="#080808"/><stop offset="1" stop-color="#060606"/></linearGradient><linearGradient id="c204" x2="0" y2="1"><stop offset=".000" stop-color="#717171"/><stop offset=".090" stop-color="#606060"/><stop offset=".135" stop-color="#444444"/><stop offset=".245" stop-color="#5f5f5f"/><stop offset=".400" stop-color="#555555"/><stop offset=".460" stop-color="#a3a3a3"/><stop offset=".500" stop-color="#ececec"/><stop offset=".704" stop-color="#cdcdcd"/><stop offset=".764" stop-color="#434343"/><stop offset=".814" stop-color="#313131"/><stop offset=".864" stop-color="#080808"/><stop offset=".925" stop-color="#080808"/><stop offset="1" stop-color="#030303"/></linearGradient><linearGradient id="c205" x2="0" y2="1"><stop offset=".000" stop-color="#7e7e7e"/><stop offset=".090" stop-color="#666666"/><stop offset=".165" stop-color="#434343"/><stop offset=".295" stop-color="#656565"/><stop offset=".387" stop-color="#5c5c5c"/><stop offset=".447" stop-color="#858585"/><stop offset=".487" stop-color="#f1f1f1"/><stop offset=".534" stop-color="#b9b9b9"/><stop offset=".594" stop-color="#484848"/><stop offset=".644" stop-color="#2a2a2a"/><stop offset=".694" stop-color="#080808"/><stop offset=".925" stop-color="#101010"/><stop offset="1" stop-color="#030303"/></linearGradient><linearGradient id="c206" x2="0" y2="1"><stop offset=".000" stop-color="#4e4e4e"/><stop offset=".190" stop-color="#5a5a5a"/><stop offset=".337" stop-color="#6e6e6e"/><stop offset=".415" stop-color="#6f6f6f"/><stop offset=".475" stop-color="#787878"/><stop offset=".515" stop-color="#d8d8d8"/><stop offset=".696" stop-color="#969696"/><stop offset=".756" stop-color="#646464"/><stop offset=".806" stop-color="#292929"/><stop offset=".856" stop-color="#080808"/><stop offset=".925" stop-color="#0a0a0a"/><stop offset="1" stop-color="#040404"/></linearGradient><linearGradient id="c207" x2="0" y2="1"><stop offset=".000" stop-color="#404040"/><stop offset=".215" stop-color="#414141"/><stop offset=".378" stop-color="#5f5f5f"/><stop offset=".378" stop-color="#747474"/><stop offset=".436" stop-color="#afafaf"/><stop offset=".476" stop-color="#c9c9c9"/><stop offset=".596" stop-color="#878787"/><stop offset=".656" stop-color="#6c6c6c"/><stop offset=".706" stop-color="#202020"/><stop offset=".756" stop-color="#080808"/><stop offset=".925" stop-color="#0b0b0b"/><stop offset="1" stop-color="#060606"/></linearGradient><linearGradient id="c208" x2="0" y2="1"><stop offset=".000" stop-color="#4a4a4a"/><stop offset=".200" stop-color="#505050"/><stop offset=".374" stop-color="#595959"/><stop offset=".434" stop-color="#949494"/><stop offset=".474" stop-color="#aeaeae"/><stop offset=".589" stop-color="#858585"/><stop offset=".649" stop-color="#626262"/><stop offset=".699" stop-color="#434343"/><stop offset=".749" stop-color="#080808"/><stop offset=".925" stop-color="#121212"/><stop offset="1" stop-color="#0a0a0a"/></linearGradient><linearGradient id="c209" x2="0" y2="1"><stop offset=".000" stop-color="#414141"/><stop offset=".199" stop-color="#424242"/><stop offset=".373" stop-color="#4e4e4e"/><stop offset=".433" stop-color="#979797"/><stop offset=".473" stop-color="#ffffff"/><stop offset=".579" stop-color="#d0d0d0"/><stop offset=".639" stop-color="#7b7b7b"/><stop offset=".689" stop-color="#292929"/><stop offset=".739" stop-color="#080808"/><stop offset=".925" stop-color="#0c0c0c"/><stop offset="1" stop-color="#0e0e0e"/></linearGradient><linearGradient id="c210" x2="0" y2="1"><stop offset=".000" stop-color="#3f3f3f"/><stop offset=".206" stop-color="#404040"/><stop offset=".389" stop-color="#4d4d4d"/><stop offset=".449" stop-color="#999999"/><stop offset=".489" stop-color="#eaeaea"/><stop offset=".653" stop-color="#c4c4c4"/><stop offset=".713" stop-color="#5e5e5e"/><stop offset=".763" stop-color="#363636"/><stop offset=".813" stop-color="#080808"/><stop offset=".925" stop-color="#090909"/><stop offset="1" stop-color="#0c0c0c"/></linearGradient><linearGradient id="c211" x2="0" y2="1"><stop offset=".000" stop-color="#414141"/><stop offset=".221" stop-color="#424242"/><stop offset=".421" stop-color="#575757"/><stop offset=".481" stop-color="#a3a3a3"/><stop offset=".521" stop-color="#dadada"/><stop offset=".728" stop-color="#b2b2b2"/><stop offset=".788" stop-color="#656565"/><stop offset=".838" stop-color="#323232"/><stop offset=".888" stop-color="#080808"/><stop offset=".925" stop-color="#0f0f0f"/><stop offset="1" stop-color="#040404"/></linearGradient><linearGradient id="c212" x2="0" y2="1"><stop offset=".000" stop-color="#4d4d4d"/><stop offset=".207" stop-color="#565656"/><stop offset=".390" stop-color="#5f5f5f"/><stop offset=".450" stop-color="#9f9f9f"/><stop offset=".490" stop-color="#bbbbbb"/><stop offset=".535" stop-color="#979797"/><stop offset=".595" stop-color="#545454"/><stop offset=".645" stop-color="#383838"/><stop offset=".695" stop-color="#080808"/><stop offset=".925" stop-color="#171717"/><stop offset="1" stop-color="#060606"/></linearGradient><linearGradient id="c213" x2="0" y2="1"><stop offset=".000" stop-color="#464646"/><stop offset=".200" stop-color="#474747"/><stop offset=".374" stop-color="#525252"/><stop offset=".434" stop-color="#8f8f8f"/><stop offset=".474" stop-color="#ffffff"/><stop offset=".666" stop-color="#cbcbcb"/><stop offset=".726" stop-color="#585858"/><stop offset=".776" stop-color="#2a2a2a"/><stop offset=".826" stop-color="#080808"/><stop offset=".925" stop-color="#0c0c0c"/><stop offset="1" stop-color="#0b0b0b"/></linearGradient><linearGradient id="c214" x2="0" y2="1"><stop offset=".000" stop-color="#4c4c4c"/><stop offset=".213" stop-color="#565656"/><stop offset=".403" stop-color="#626262"/><stop offset=".463" stop-color="#858585"/><stop offset=".503" stop-color="#ffffff"/><stop offset=".622" stop-color="#eaeaea"/><stop offset=".682" stop-color="#5b5b5b"/><stop offset=".732" stop-color="#202020"/><stop offset=".782" stop-color="#080808"/><stop offset=".925" stop-color="#0d0d0d"/><stop offset="1" stop-color="#0b0b0b"/></linearGradient><linearGradient id="c215" x2="0" y2="1"><stop offset=".000" stop-color="#464646"/><stop offset=".206" stop-color="#474747"/><stop offset=".388" stop-color="#5d5d5d"/><stop offset=".448" stop-color="#979797"/><stop offset=".488" stop-color="#ffffff"/><stop offset=".678" stop-color="#cccccc"/><stop offset=".738" stop-color="#575757"/><stop offset=".788" stop-color="#303030"/><stop offset=".838" stop-color="#080808"/><stop offset=".925" stop-color="#070707"/><stop offset="1" stop-color="#0c0c0c"/></linearGradient><linearGradient id="c216" x2="0" y2="1"><stop offset=".000" stop-color="#404040"/><stop offset=".223" stop-color="#414141"/><stop offset=".426" stop-color="#565656"/><stop offset=".486" stop-color="#999999"/><stop offset=".526" stop-color="#acacac"/><stop offset=".629" stop-color="#959595"/><stop offset=".689" stop-color="#848484"/><stop offset=".739" stop-color="#3a3a3a"/><stop offset=".789" stop-color="#080808"/><stop offset=".925" stop-color="#080808"/><stop offset="1" stop-color="#040404"/></linearGradient><linearGradient id="c217" x2="0" y2="1"><stop offset=".000" stop-color="#444444"/><stop offset=".202" stop-color="#464646"/><stop offset=".378" stop-color="#565656"/><stop offset=".438" stop-color="#9d9d9d"/><stop offset=".478" stop-color="#eaeaea"/><stop offset=".523" stop-color="#b9b9b9"/><stop offset=".583" stop-color="#616161"/><stop offset=".633" stop-color="#282828"/><stop offset=".683" stop-color="#080808"/><stop offset=".925" stop-color="#080808"/><stop offset="1" stop-color="#020202"/></linearGradient><linearGradient id="c218" x2="0" y2="1"><stop offset=".000" stop-color="#474747"/><stop offset=".221" stop-color="#484848"/><stop offset=".422" stop-color="#5e5e5e"/><stop offset=".482" stop-color="#a6a6a6"/><stop offset=".522" stop-color="#cbcbcb"/><stop offset=".573" stop-color="#868686"/><stop offset=".633" stop-color="#535353"/><stop offset=".683" stop-color="#464646"/><stop offset=".733" stop-color="#080808"/><stop offset=".925" stop-color="#070707"/><stop offset="1" stop-color="#0e0e0e"/></linearGradient><linearGradient id="c219" x2="0" y2="1"><stop offset=".000" stop-color="#434343"/><stop offset=".214" stop-color="#444444"/><stop offset=".405" stop-color="#595959"/><stop offset=".465" stop-color="#a3a3a3"/><stop offset=".505" stop-color="#ffffff"/><stop offset=".636" stop-color="#cdcdcd"/><stop offset=".696" stop-color="#525252"/><stop offset=".746" stop-color="#3c3c3c"/><stop offset=".796" stop-color="#080808"/><stop offset=".925" stop-color="#080808"/><stop offset="1" stop-color="#0b0b0b"/></linearGradient><linearGradient id="c220" x2="0" y2="1"><stop offset=".000" stop-color="#434343"/><stop offset=".208" stop-color="#454545"/><stop offset=".392" stop-color="#595959"/><stop offset=".452" stop-color="#989898"/><stop offset=".492" stop-color="#dadada"/><stop offset=".624" stop-color="#b8b8b8"/><stop offset=".684" stop-color="#7d7d7d"/><stop offset=".734" stop-color="#3f3f3f"/><stop offset=".784" stop-color="#080808"/><stop offset=".925" stop-color="#070707"/><stop offset="1" stop-color="#070707"/></linearGradient><linearGradient id="c221" x2="0" y2="1"><stop offset=".000" stop-color="#454545"/><stop offset=".213" stop-color="#464646"/><stop offset=".403" stop-color="#515151"/><stop offset=".463" stop-color="#8f8f8f"/><stop offset=".503" stop-color="#c4c4c4"/><stop offset=".628" stop-color="#adadad"/><stop offset=".688" stop-color="#515151"/><stop offset=".738" stop-color="#161616"/><stop offset=".788" stop-color="#080808"/><stop offset=".925" stop-color="#0f0f0f"/><stop offset="1" stop-color="#090909"/></linearGradient><linearGradient id="c222" x2="0" y2="1"><stop offset=".000" stop-color="#444444"/><stop offset=".220" stop-color="#454545"/><stop offset=".419" stop-color="#5d5d5d"/><stop offset=".479" stop-color="#b3b3b3"/><stop offset=".519" stop-color="#d5d5d5"/><stop offset=".646" stop-color="#b7b7b7"/><stop offset=".706" stop-color="#7a7a7a"/><stop offset=".756" stop-color="#2b2b2b"/><stop offset=".806" stop-color="#080808"/><stop offset=".925" stop-color="#080808"/><stop offset="1" stop-color="#101010"/></linearGradient><linearGradient id="c223" x2="0" y2="1"><stop offset=".000" stop-color="#404040"/><stop offset=".219" stop-color="#414141"/><stop offset=".417" stop-color="#4f4f4f"/><stop offset=".477" stop-color="#a7a7a7"/><stop offset=".517" stop-color="#c3c3c3"/><stop offset=".592" stop-color="#838383"/><stop offset=".652" stop-color="#535353"/><stop offset=".702" stop-color="#2e2e2e"/><stop offset=".752" stop-color="#080808"/><stop offset=".925" stop-color="#080808"/><stop offset="1" stop-color="#050505"/></linearGradient><linearGradient id="c224" x2="0" y2="1"><stop offset=".000" stop-color="#464646"/><stop offset=".218" stop-color="#484848"/><stop offset=".414" stop-color="#4d4d4d"/><stop offset=".474" stop-color="#878787"/><stop offset=".514" stop-color="#d2d2d2"/><stop offset=".610" stop-color="#a7a7a7"/><stop offset=".670" stop-color="#6c6c6c"/><stop offset=".720" stop-color="#272727"/><stop offset=".770" stop-color="#080808"/><stop offset=".925" stop-color="#0b0b0b"/><stop offset="1" stop-color="#090909"/></linearGradient><linearGradient id="c225" x2="0" y2="1"><stop offset=".000" stop-color="#3f3f3f"/><stop offset=".203" stop-color="#414141"/><stop offset=".382" stop-color="#454545"/><stop offset=".442" stop-color="#a3a3a3"/><stop offset=".482" stop-color="#d7d7d7"/><stop offset=".528" stop-color="#8a8a8a"/><stop offset=".588" stop-color="#515151"/><stop offset=".638" stop-color="#181818"/><stop offset=".688" stop-color="#080808"/><stop offset=".925" stop-color="#0d0d0d"/><stop offset="1" stop-color="#050505"/></linearGradient><linearGradient id="c226" x2="0" y2="1"><stop offset=".000" stop-color="#434343"/><stop offset=".224" stop-color="#444444"/><stop offset=".428" stop-color="#585858"/><stop offset=".488" stop-color="#8b8b8b"/><stop offset=".528" stop-color="#fefefe"/><stop offset=".660" stop-color="#cacaca"/><stop offset=".720" stop-color="#525252"/><stop offset=".770" stop-color="#434343"/><stop offset=".820" stop-color="#080808"/><stop offset=".925" stop-color="#070707"/><stop offset="1" stop-color="#0f0f0f"/></linearGradient><linearGradient id="c227" x2="0" y2="1"><stop offset=".000" stop-color="#464646"/><stop offset=".213" stop-color="#484848"/><stop offset=".402" stop-color="#595959"/><stop offset=".462" stop-color="#959595"/><stop offset=".502" stop-color="#ffffff"/><stop offset=".602" stop-color="#ffffff"/><stop offset=".662" stop-color="#797979"/><stop offset=".712" stop-color="#464646"/><stop offset=".762" stop-color="#080808"/><stop offset=".925" stop-color="#050505"/><stop offset="1" stop-color="#0e0e0e"/></linearGradient><linearGradient id="c228" x2="0" y2="1"><stop offset=".000" stop-color="#434343"/><stop offset=".207" stop-color="#444444"/><stop offset=".390" stop-color="#5b5b5b"/><stop offset=".450" stop-color="#8e8e8e"/><stop offset=".490" stop-color="#ececec"/><stop offset=".572" stop-color="#d6d6d6"/><stop offset=".632" stop-color="#555555"/><stop offset=".682" stop-color="#242424"/><stop offset=".732" stop-color="#080808"/><stop offset=".925" stop-color="#080808"/><stop offset="1" stop-color="#090909"/></linearGradient><linearGradient id="c229" x2="0" y2="1"><stop offset=".000" stop-color="#414141"/><stop offset=".220" stop-color="#434343"/><stop offset=".419" stop-color="#515151"/><stop offset=".479" stop-color="#919191"/><stop offset=".519" stop-color="#ffffff"/><stop offset=".716" stop-color="#bcbcbc"/><stop offset=".776" stop-color="#4c4c4c"/><stop offset=".826" stop-color="#262626"/><stop offset=".876" stop-color="#080808"/><stop offset=".925" stop-color="#0e0e0e"/><stop offset="1" stop-color="#0a0a0a"/></linearGradient><linearGradient id="c230" x2="0" y2="1"><stop offset=".000" stop-color="#424242"/><stop offset=".216" stop-color="#444444"/><stop offset=".411" stop-color="#535353"/><stop offset=".471" stop-color="#898989"/><stop offset=".511" stop-color="#cecece"/><stop offset=".609" stop-color="#ababab"/><stop offset=".669" stop-color="#6a6a6a"/><stop offset=".719" stop-color="#454545"/><stop offset=".769" stop-color="#080808"/><stop offset=".925" stop-color="#090909"/><stop offset="1" stop-color="#0d0d0d"/></linearGradient><linearGradient id="c231" x2="0" y2="1"><stop offset=".000" stop-color="#454545"/><stop offset=".202" stop-color="#464646"/><stop offset=".378" stop-color="#5d5d5d"/><stop offset=".438" stop-color="#a0a0a0"/><stop offset=".478" stop-color="#dddddd"/><stop offset=".656" stop-color="#b8b8b8"/><stop offset=".716" stop-color="#6f6f6f"/><stop offset=".766" stop-color="#343434"/><stop offset=".816" stop-color="#080808"/><stop offset=".925" stop-color="#060606"/><stop offset="1" stop-color="#0f0f0f"/></linearGradient><linearGradient id="c232" x2="0" y2="1"><stop offset=".000" stop-color="#414141"/><stop offset=".202" stop-color="#424242"/><stop offset=".379" stop-color="#5d5d5d"/><stop offset=".439" stop-color="#a3a3a3"/><stop offset=".479" stop-color="#ffffff"/><stop offset=".658" stop-color="#f5f5f5"/><stop offset=".718" stop-color="#555555"/><stop offset=".768" stop-color="#191919"/><stop offset=".818" stop-color="#080808"/><stop offset=".925" stop-color="#070707"/><stop offset="1" stop-color="#060606"/></linearGradient><linearGradient id="c233" x2="0" y2="1"><stop offset=".000" stop-color="#464646"/><stop offset=".220" stop-color="#484848"/><stop offset=".418" stop-color="#4a4a4a"/><stop offset=".478" stop-color="#aeaeae"/><stop offset=".518" stop-color="#d4d4d4"/><stop offset=".727" stop-color="#8e8e8e"/><stop offset=".787" stop-color="#373737"/><stop offset=".837" stop-color="#2c2c2c"/><stop offset=".887" stop-color="#080808"/><stop offset=".925" stop-color="#0a0a0a"/><stop offset="1" stop-color="#080808"/></linearGradient><linearGradient id="c234" x2="0" y2="1"><stop offset=".000" stop-color="#424242"/><stop offset=".203" stop-color="#434343"/><stop offset=".382" stop-color="#4c4c4c"/><stop offset=".442" stop-color="#8b8b8b"/><stop offset=".482" stop-color="#e2e2e2"/><stop offset=".631" stop-color="#9a9a9a"/><stop offset=".691" stop-color="#6f6f6f"/><stop offset=".741" stop-color="#292929"/><stop offset=".791" stop-color="#080808"/><stop offset=".925" stop-color="#0a0a0a"/><stop offset="1" stop-color="#040404"/></linearGradient><linearGradient id="c235" x2="0" y2="1"><stop offset=".000" stop-color="#434343"/><stop offset=".209" stop-color="#444444"/><stop offset=".394" stop-color="#585858"/><stop offset=".454" stop-color="#767676"/><stop offset=".494" stop-color="#9e9e9e"/><stop offset=".588" stop-color="#636363"/><stop offset=".648" stop-color="#636363"/><stop offset=".698" stop-color="#2c2c2c"/><stop offset=".748" stop-color="#080808"/><stop offset=".925" stop-color="#0e0e0e"/><stop offset="1" stop-color="#0d0d0d"/></linearGradient><linearGradient id="c236" x2="0" y2="1"><stop offset=".000" stop-color="#3f3f3f"/><stop offset=".215" stop-color="#414141"/><stop offset=".407" stop-color="#545454"/><stop offset=".467" stop-color="#9e9e9e"/><stop offset=".507" stop-color="#ffffff"/><stop offset=".676" stop-color="#c8c8c8"/><stop offset=".736" stop-color="#5d5d5d"/><stop offset=".786" stop-color="#2d2d2d"/><stop offset=".836" stop-color="#080808"/><stop offset=".925" stop-color="#080808"/><stop offset="1" stop-color="#020202"/></linearGradient><linearGradient id="c237" x2="0" y2="1"><stop offset=".000" stop-color="#444444"/><stop offset=".207" stop-color="#464646"/><stop offset=".389" stop-color="#4e4e4e"/><stop offset=".449" stop-color="#a4a4a4"/><stop offset=".489" stop-color="#aaaaaa"/><stop offset=".643" stop-color="#727272"/><stop offset=".703" stop-color="#656565"/><stop offset=".753" stop-color="#1d1d1d"/><stop offset=".803" stop-color="#080808"/><stop offset=".925" stop-color="#0a0a0a"/><stop offset="1" stop-color="#030303"/></linearGradient><linearGradient id="c238" x2="0" y2="1"><stop offset=".000" stop-color="#444444"/><stop offset=".220" stop-color="#454545"/><stop offset=".419" stop-color="#616161"/><stop offset=".479" stop-color="#9c9c9c"/><stop offset=".519" stop-color="#f4f4f4"/><stop offset=".591" stop-color="#c3c3c3"/><stop offset=".651" stop-color="#5e5e5e"/><stop offset=".701" stop-color="#3b3b3b"/><stop offset=".751" stop-color="#080808"/><stop offset=".925" stop-color="#080808"/><stop offset="1" stop-color="#050505"/></linearGradient><linearGradient id="c239" x2="0" y2="1"><stop offset=".000" stop-color="#444444"/><stop offset=".213" stop-color="#454545"/><stop offset=".404" stop-color="#565656"/><stop offset=".464" stop-color="#9a9a9a"/><stop offset=".504" stop-color="#e9e9e9"/><stop offset=".546" stop-color="#999999"/><stop offset=".606" stop-color="#656565"/><stop offset=".656" stop-color="#2c2c2c"/><stop offset=".706" stop-color="#080808"/><stop offset=".925" stop-color="#090909"/><stop offset="1" stop-color="#0b0b0b"/></linearGradient><linearGradient id="c240" x2="0" y2="1"><stop offset=".000" stop-color="#444444"/><stop offset=".204" stop-color="#454545"/><stop offset=".383" stop-color="#505050"/><stop offset=".443" stop-color="#7d7d7d"/><stop offset=".483" stop-color="#e2e2e2"/><stop offset=".564" stop-color="#c6c6c6"/><stop offset=".624" stop-color="#555555"/><stop offset=".674" stop-color="#252525"/><stop offset=".724" stop-color="#080808"/><stop offset=".925" stop-color="#0d0d0d"/><stop offset="1" stop-color="#0a0a0a"/></linearGradient><linearGradient id="c241" x2="0" y2="1"><stop offset=".000" stop-color="#424242"/><stop offset=".199" stop-color="#434343"/><stop offset=".372" stop-color="#4e4e4e"/><stop offset=".432" stop-color="#8c8c8c"/><stop offset=".472" stop-color="#9d9d9d"/><stop offset=".662" stop-color="#7c7c7c"/><stop offset=".722" stop-color="#727272"/><stop offset=".772" stop-color="#353535"/><stop offset=".822" stop-color="#080808"/><stop offset=".925" stop-color="#0d0d0d"/><stop offset="1" stop-color="#050505"/></linearGradient><linearGradient id="c242" x2="0" y2="1"><stop offset=".000" stop-color="#454545"/><stop offset=".204" stop-color="#474747"/><stop offset=".382" stop-color="#575757"/><stop offset=".442" stop-color="#8e8e8e"/><stop offset=".482" stop-color="#dcdcdc"/><stop offset=".679" stop-color="#949494"/><stop offset=".739" stop-color="#5f5f5f"/><stop offset=".789" stop-color="#3b3b3b"/><stop offset=".839" stop-color="#080808"/><stop offset=".925" stop-color="#101010"/><stop offset="1" stop-color="#050505"/></linearGradient><linearGradient id="c243" x2="0" y2="1"><stop offset=".000" stop-color="#3e3e3e"/><stop offset=".224" stop-color="#3f3f3f"/><stop offset=".428" stop-color="#575757"/><stop offset=".488" stop-color="#7c7c7c"/><stop offset=".528" stop-color="#bfbfbf"/><stop offset=".725" stop-color="#8e8e8e"/><stop offset=".785" stop-color="#5b5b5b"/><stop offset=".835" stop-color="#2c2c2c"/><stop offset=".885" stop-color="#080808"/><stop offset=".925" stop-color="#080808"/><stop offset="1" stop-color="#030303"/></linearGradient><linearGradient id="c244" x2="0" y2="1"><stop offset=".000" stop-color="#424242"/><stop offset=".213" stop-color="#434343"/><stop offset=".404" stop-color="#535353"/><stop offset=".464" stop-color="#959595"/><stop offset=".504" stop-color="#e1e1e1"/><stop offset=".612" stop-color="#b6b6b6"/><stop offset=".672" stop-color="#5a5a5a"/><stop offset=".722" stop-color="#191919"/><stop offset=".772" stop-color="#080808"/><stop offset=".925" stop-color="#111111"/><stop offset="1" stop-color="#070707"/></linearGradient><linearGradient id="c245" x2="0" y2="1"><stop offset=".000" stop-color="#404040"/><stop offset=".204" stop-color="#424242"/><stop offset=".384" stop-color="#555555"/><stop offset=".444" stop-color="#9e9e9e"/><stop offset=".484" stop-color="#d0d0d0"/><stop offset=".628" stop-color="#a8a8a8"/><stop offset=".688" stop-color="#717171"/><stop offset=".738" stop-color="#262626"/><stop offset=".788" stop-color="#080808"/><stop offset=".925" stop-color="#060606"/><stop offset="1" stop-color="#050505"/></linearGradient><linearGradient id="c246" x2="0" y2="1"><stop offset=".000" stop-color="#494949"/><stop offset=".221" stop-color="#4a4a4a"/><stop offset=".422" stop-color="#636363"/><stop offset=".482" stop-color="#6b6b6b"/><stop offset=".522" stop-color="#dfdfdf"/><stop offset=".580" stop-color="#c7c7c7"/><stop offset=".640" stop-color="#424242"/><stop offset=".690" stop-color="#0c0c0c"/><stop offset=".740" stop-color="#080808"/><stop offset=".925" stop-color="#111111"/><stop offset="1" stop-color="#050505"/></linearGradient><linearGradient id="c247" x2="0" y2="1"><stop offset=".000" stop-color="#424242"/><stop offset=".215" stop-color="#434343"/><stop offset=".407" stop-color="#4f4f4f"/><stop offset=".467" stop-color="#939393"/><stop offset=".507" stop-color="#eeeeee"/><stop offset=".700" stop-color="#acacac"/><stop offset=".760" stop-color="#6d6d6d"/><stop offset=".810" stop-color="#3c3c3c"/><stop offset=".860" stop-color="#080808"/><stop offset=".925" stop-color="#111111"/><stop offset="1" stop-color="#0c0c0c"/></linearGradient><linearGradient id="c248" x2="0" y2="1"><stop offset=".000" stop-color="#444444"/><stop offset=".223" stop-color="#454545"/><stop offset=".426" stop-color="#5b5b5b"/><stop offset=".486" stop-color="#a8a8a8"/><stop offset=".526" stop-color="#e6e6e6"/><stop offset=".580" stop-color="#9e9e9e"/><stop offset=".640" stop-color="#4b4b4b"/><stop offset=".690" stop-color="#202020"/><stop offset=".740" stop-color="#080808"/><stop offset=".925" stop-color="#111111"/><stop offset="1" stop-color="#070707"/></linearGradient><linearGradient id="c249" x2="0" y2="1"><stop offset=".000" stop-color="#414141"/><stop offset=".216" stop-color="#424242"/><stop offset=".410" stop-color="#565656"/><stop offset=".470" stop-color="#959595"/><stop offset=".510" stop-color="#d2d2d2"/><stop offset=".668" stop-color="#a4a4a4"/><stop offset=".728" stop-color="#3c3c3c"/><stop offset=".778" stop-color="#343434"/><stop offset=".828" stop-color="#080808"/><stop offset=".925" stop-color="#0d0d0d"/><stop offset="1" stop-color="#0a0a0a"/></linearGradient><linearGradient id="c250" x2="0" y2="1"><stop offset=".000" stop-color="#444444"/><stop offset=".218" stop-color="#454545"/><stop offset=".414" stop-color="#4d4d4d"/><stop offset=".474" stop-color="#979797"/><stop offset=".514" stop-color="#dadada"/><stop offset=".569" stop-color="#bababa"/><stop offset=".629" stop-color="#616161"/><stop offset=".679" stop-color="#434343"/><stop offset=".729" stop-color="#080808"/><stop offset=".925" stop-color="#060606"/><stop offset="1" stop-color="#090909"/></linearGradient><linearGradient id="c251" x2="0" y2="1"><stop offset=".000" stop-color="#404040"/><stop offset=".212" stop-color="#424242"/><stop offset=".402" stop-color="#494949"/><stop offset=".462" stop-color="#b4b4b4"/><stop offset=".502" stop-color="#f9f9f9"/><stop offset=".692" stop-color="#dedede"/><stop offset=".752" stop-color="#7c7c7c"/><stop offset=".802" stop-color="#3e3e3e"/><stop offset=".852" stop-color="#080808"/><stop offset=".925" stop-color="#0e0e0e"/><stop offset="1" stop-color="#060606"/></linearGradient><linearGradient id="c252" x2="0" y2="1"><stop offset=".000" stop-color="#3f3f3f"/><stop offset=".212" stop-color="#404040"/><stop offset=".401" stop-color="#535353"/><stop offset=".461" stop-color="#898989"/><stop offset=".501" stop-color="#c6c6c6"/><stop offset=".554" stop-color="#a0a0a0"/><stop offset=".614" stop-color="#3d3d3d"/><stop offset=".664" stop-color="#2a2a2a"/><stop offset=".714" stop-color="#080808"/><stop offset=".925" stop-color="#141414"/><stop offset="1" stop-color="#0c0c0c"/></linearGradient><linearGradient id="c253" x2="0" y2="1"><stop offset=".000" stop-color="#414141"/><stop offset=".201" stop-color="#424242"/><stop offset=".376" stop-color="#505050"/><stop offset=".436" stop-color="#818181"/><stop offset=".476" stop-color="#ffffff"/><stop offset=".533" stop-color="#c1c1c1"/><stop offset=".593" stop-color="#626262"/><stop offset=".643" stop-color="#282828"/><stop offset=".693" stop-color="#080808"/><stop offset=".925" stop-color="#050505"/><stop offset="1" stop-color="#030303"/></linearGradient><linearGradient id="c254" x2="0" y2="1"><stop offset=".000" stop-color="#424242"/><stop offset=".214" stop-color="#434343"/><stop offset=".405" stop-color="#525252"/><stop offset=".465" stop-color="#a9a9a9"/><stop offset=".505" stop-color="#dbdbdb"/><stop offset=".636" stop-color="#949494"/><stop offset=".696" stop-color="#6c6c6c"/><stop offset=".746" stop-color="#3c3c3c"/><stop offset=".796" stop-color="#080808"/><stop offset=".925" stop-color="#060606"/><stop offset="1" stop-color="#040404"/></linearGradient><linearGradient id="c255" x2="0" y2="1"><stop offset=".000" stop-color="#545454"/><stop offset=".200" stop-color="#656565"/><stop offset=".375" stop-color="#616161"/><stop offset=".435" stop-color="#a7a7a7"/><stop offset=".475" stop-color="#f7f7f7"/><stop offset=".586" stop-color="#c3c3c3"/><stop offset=".646" stop-color="#5f5f5f"/><stop offset=".696" stop-color="#4b4b4b"/><stop offset=".746" stop-color="#080808"/><stop offset=".925" stop-color="#090909"/><stop offset="1" stop-color="#151515"/></linearGradient><linearGradient id="c256" x2="0" y2="1"><stop offset=".000" stop-color="#444444"/><stop offset=".216" stop-color="#454545"/><stop offset=".410" stop-color="#505050"/><stop offset=".470" stop-color="#818181"/><stop offset=".510" stop-color="#e2e2e2"/><stop offset=".646" stop-color="#b3b3b3"/><stop offset=".706" stop-color="#939393"/><stop offset=".756" stop-color="#222222"/><stop offset=".806" stop-color="#080808"/><stop offset=".925" stop-color="#080808"/><stop offset="1" stop-color="#030303"/></linearGradient><linearGradient id="c257" x2="0" y2="1"><stop offset=".000" stop-color="#434343"/><stop offset=".209" stop-color="#444444"/><stop offset=".394" stop-color="#545454"/><stop offset=".454" stop-color="#8b8b8b"/><stop offset=".494" stop-color="#dadada"/><stop offset=".585" stop-color="#9c9c9c"/><stop offset=".645" stop-color="#929292"/><stop offset=".695" stop-color="#0e0e0e"/><stop offset=".745" stop-color="#080808"/><stop offset=".925" stop-color="#070707"/><stop offset="1" stop-color="#101010"/></linearGradient><linearGradient id="c258" x2="0" y2="1"><stop offset=".000" stop-color="#424242"/><stop offset=".210" stop-color="#434343"/><stop offset=".397" stop-color="#5a5a5a"/><stop offset=".457" stop-color="#969696"/><stop offset=".497" stop-color="#fcfcfc"/><stop offset=".558" stop-color="#dcdcdc"/><stop offset=".618" stop-color="#5b5b5b"/><stop offset=".668" stop-color="#333333"/><stop offset=".718" stop-color="#080808"/><stop offset=".925" stop-color="#070707"/><stop offset="1" stop-color="#080808"/></linearGradient><linearGradient id="c259" x2="0" y2="1"><stop offset=".000" stop-color="#404040"/><stop offset=".221" stop-color="#414141"/><stop offset=".420" stop-color="#5d5d5d"/><stop offset=".480" stop-color="#8b8b8b"/><stop offset=".520" stop-color="#fefefe"/><stop offset=".718" stop-color="#b3b3b3"/><stop offset=".778" stop-color="#5d5d5d"/><stop offset=".828" stop-color="#131313"/><stop offset=".878" stop-color="#080808"/><stop offset=".925" stop-color="#090909"/><stop offset="1" stop-color="#0b0b0b"/></linearGradient><linearGradient id="c260" x2="0" y2="1"><stop offset=".000" stop-color="#454545"/><stop offset=".203" stop-color="#464646"/><stop offset=".381" stop-color="#565656"/><stop offset=".441" stop-color="#a1a1a1"/><stop offset=".481" stop-color="#e2e2e2"/><stop offset=".647" stop-color="#aaaaaa"/><stop offset=".707" stop-color="#626262"/><stop offset=".757" stop-color="#333333"/><stop offset=".807" stop-color="#080808"/><stop offset=".925" stop-color="#080808"/><stop offset="1" stop-color="#060606"/></linearGradient><linearGradient id="c261" x2="0" y2="1"><stop offset=".000" stop-color="#444444"/><stop offset=".207" stop-color="#464646"/><stop offset=".391" stop-color="#5d5d5d"/><stop offset=".451" stop-color="#b3b3b3"/><stop offset=".491" stop-color="#d0d0d0"/><stop offset=".633" stop-color="#929292"/><stop offset=".693" stop-color="#484848"/><stop offset=".743" stop-color="#393939"/><stop offset=".793" stop-color="#080808"/><stop offset=".925" stop-color="#080808"/><stop offset="1" stop-color="#050505"/></linearGradient><linearGradient id="c262" x2="0" y2="1"><stop offset=".000" stop-color="#434343"/><stop offset=".203" stop-color="#454545"/><stop offset=".381" stop-color="#4c4c4c"/><stop offset=".441" stop-color="#737373"/><stop offset=".481" stop-color="#b3b3b3"/><stop offset=".632" stop-color="#616161"/><stop offset=".692" stop-color="#5f5f5f"/><stop offset=".742" stop-color="#464646"/><stop offset=".792" stop-color="#080808"/><stop offset=".925" stop-color="#050505"/><stop offset="1" stop-color="#0c0c0c"/></linearGradient><linearGradient id="c263" x2="0" y2="1"><stop offset=".000" stop-color="#525252"/><stop offset=".210" stop-color="#626262"/><stop offset=".397" stop-color="#5f5f5f"/><stop offset=".457" stop-color="#a0a0a0"/><stop offset=".497" stop-color="#f0f0f0"/><stop offset=".613" stop-color="#a5a5a5"/><stop offset=".673" stop-color="#5e5e5e"/><stop offset=".723" stop-color="#202020"/><stop offset=".773" stop-color="#080808"/><stop offset=".925" stop-color="#080808"/><stop offset="1" stop-color="#060606"/></linearGradient><linearGradient id="c264" x2="0" y2="1"><stop offset=".000" stop-color="#464646"/><stop offset=".221" stop-color="#474747"/><stop offset=".420" stop-color="#626262"/><stop offset=".480" stop-color="#b7b7b7"/><stop offset=".520" stop-color="#ffffff"/><stop offset=".594" stop-color="#e3e3e3"/><stop offset=".654" stop-color="#5f5f5f"/><stop offset=".704" stop-color="#333333"/><stop offset=".754" stop-color="#080808"/><stop offset=".925" stop-color="#090909"/><stop offset="1" stop-color="#111111"/></linearGradient><linearGradient id="c265" x2="0" y2="1"><stop offset=".000" stop-color="#414141"/><stop offset=".220" stop-color="#434343"/><stop offset=".419" stop-color="#585858"/><stop offset=".479" stop-color="#929292"/><stop offset=".519" stop-color="#c7c7c7"/><stop offset=".668" stop-color="#b3b3b3"/><stop offset=".728" stop-color="#565656"/><stop offset=".778" stop-color="#3b3b3b"/><stop offset=".828" stop-color="#080808"/><stop offset=".925" stop-color="#0c0c0c"/><stop offset="1" stop-color="#030303"/></linearGradient><linearGradient id="c266" x2="0" y2="1"><stop offset=".000" stop-color="#464646"/><stop offset=".207" stop-color="#474747"/><stop offset=".390" stop-color="#5c5c5c"/><stop offset=".450" stop-color="#9d9d9d"/><stop offset=".490" stop-color="#f1f1f1"/><stop offset=".644" stop-color="#aeaeae"/><stop offset=".704" stop-color="#575757"/><stop offset=".754" stop-color="#303030"/><stop offset=".804" stop-color="#080808"/><stop offset=".925" stop-color="#0b0b0b"/><stop offset="1" stop-color="#090909"/></linearGradient><linearGradient id="c267" x2="0" y2="1"><stop offset=".000" stop-color="#454545"/><stop offset=".211" stop-color="#464646"/><stop offset=".398" stop-color="#5a5a5a"/><stop offset=".458" stop-color="#949494"/><stop offset=".498" stop-color="#e7e7e7"/><stop offset=".571" stop-color="#c8c8c8"/><stop offset=".631" stop-color="#646464"/><stop offset=".681" stop-color="#323232"/><stop offset=".731" stop-color="#080808"/><stop offset=".925" stop-color="#0d0d0d"/><stop offset="1" stop-color="#070707"/></linearGradient><linearGradient id="c268" x2="0" y2="1"><stop offset=".000" stop-color="#414141"/><stop offset=".212" stop-color="#434343"/><stop offset=".400" stop-color="#525252"/><stop offset=".460" stop-color="#828282"/><stop offset=".500" stop-color="#e3e3e3"/><stop offset=".544" stop-color="#d0d0d0"/><stop offset=".604" stop-color="#7e7e7e"/><stop offset=".654" stop-color="#313131"/><stop offset=".704" stop-color="#080808"/><stop offset=".925" stop-color="#0c0c0c"/><stop offset="1" stop-color="#040404"/></linearGradient><linearGradient id="c269" x2="0" y2="1"><stop offset=".000" stop-color="#424242"/><stop offset=".213" stop-color="#434343"/><stop offset=".404" stop-color="#5d5d5d"/><stop offset=".464" stop-color="#8b8b8b"/><stop offset=".504" stop-color="#fdfdfd"/><stop offset=".635" stop-color="#aeaeae"/><stop offset=".695" stop-color="#5c5c5c"/><stop offset=".745" stop-color="#242424"/><stop offset=".795" stop-color="#080808"/><stop offset=".925" stop-color="#070707"/><stop offset="1" stop-color="#050505"/></linearGradient><linearGradient id="c270" x2="0" y2="1"><stop offset=".000" stop-color="#414141"/><stop offset=".203" stop-color="#424242"/><stop offset=".381" stop-color="#575757"/><stop offset=".441" stop-color="#9a9a9a"/><stop offset=".481" stop-color="#ffffff"/><stop offset=".599" stop-color="#bababa"/><stop offset=".659" stop-color="#7b7b7b"/><stop offset=".709" stop-color="#1e1e1e"/><stop offset=".759" stop-color="#080808"/><stop offset=".925" stop-color="#060606"/><stop offset="1" stop-color="#101010"/></linearGradient><linearGradient id="c271" x2="0" y2="1"><stop offset=".000" stop-color="#414141"/><stop offset=".209" stop-color="#424242"/><stop offset=".394" stop-color="#4d4d4d"/><stop offset=".454" stop-color="#8f8f8f"/><stop offset=".494" stop-color="#dadada"/><stop offset=".669" stop-color="#b8b8b8"/><stop offset=".729" stop-color="#626262"/><stop offset=".779" stop-color="#252525"/><stop offset=".829" stop-color="#080808"/><stop offset=".925" stop-color="#0c0c0c"/><stop offset="1" stop-color="#020202"/></linearGradient><linearGradient id="c272" x2="0" y2="1"><stop offset=".000" stop-color="#424242"/><stop offset=".226" stop-color="#434343"/><stop offset=".431" stop-color="#4e4e4e"/><stop offset=".491" stop-color="#a7a7a7"/><stop offset=".531" stop-color="#dbdbdb"/><stop offset=".620" stop-color="#bebebe"/><stop offset=".680" stop-color="#656565"/><stop offset=".730" stop-color="#2d2d2d"/><stop offset=".780" stop-color="#080808"/><stop offset=".925" stop-color="#090909"/><stop offset="1" stop-color="#070707"/></linearGradient><linearGradient id="c273" x2="0" y2="1"><stop offset=".000" stop-color="#404040"/><stop offset=".211" stop-color="#424242"/><stop offset=".400" stop-color="#575757"/><stop offset=".460" stop-color="#7d7d7d"/><stop offset=".500" stop-color="#e1e1e1"/><stop offset=".571" stop-color="#c3c3c3"/><stop offset=".631" stop-color="#717171"/><stop offset=".681" stop-color="#363636"/><stop offset=".731" stop-color="#080808"/><stop offset=".925" stop-color="#0c0c0c"/><stop offset="1" stop-color="#0b0b0b"/></linearGradient><filter id="fc" filterUnits="userSpaceOnUse" x="37.5" y="163.2" width="273.3" height="94.1" color-interpolation-filters="sRGB"><feTurbulence type="fractalNoise" baseFrequency="0.45 0.025" numOctaves="2" seed="2"/><feColorMatrix type="matrix" values="1 0 0 0 0 1 0 0 0 0 1 0 0 0 0 0 0 0 0 1" result="g"/><feComposite in="SourceGraphic" in2="g" operator="arithmetic" k1="0" k2="1" k3="0.25" k4="-0.12"/><feComponentTransfer><feFuncR type="table" tableValues="0.03 0.09 0.15 0.14 0.13 0.13 0.11 0.18 0.25 0.38 0.5 0.64 0.78 0.85 0.93 0.96 1"/><feFuncG type="table" tableValues="0.11 0.16 0.2 0.29 0.37 0.47 0.57 0.64 0.71 0.76 0.8 0.86 0.91 0.94 0.97 0.99 1"/><feFuncB type="table" tableValues="0.35 0.46 0.58 0.62 0.66 0.71 0.75 0.76 0.77 0.75 0.73 0.72 0.71 0.7 0.69 0.77 0.85"/></feComponentTransfer></filter><linearGradient id="cbc" x1="0" y1="1" x2="0" y2="0"><stop offset="0" stop-color="#081d58"/><stop offset="0.12" stop-color="#253494"/><stop offset="0.25" stop-color="#225ea8"/><stop offset="0.38" stop-color="#1d91c0"/><stop offset="0.5" stop-color="#41b6c4"/><stop offset="0.62" stop-color="#7fcdbb"/><stop offset="0.75" stop-color="#c7e9b4"/><stop offset="0.88" stop-color="#edf8b1"/><stop offset="1" stop-color="#ffffd9"/></linearGradient><linearGradient id="e0" x2="0" y2="1"><stop offset=".000" stop-color="#d4d4d4"/><stop offset=".045" stop-color="#999999"/><stop offset=".070" stop-color="#3d3d3d"/><stop offset=".603" stop-color="#474747"/><stop offset=".628" stop-color="#454545"/><stop offset=".768" stop-color="#3a3a3a"/><stop offset="1" stop-color="#3c3c3c"/></linearGradient><linearGradient id="e1" x2="0" y2="1"><stop offset=".000" stop-color="#ededed"/><stop offset=".058" stop-color="#999999"/><stop offset=".083" stop-color="#3e3e3e"/><stop offset=".588" stop-color="#414141"/><stop offset=".613" stop-color="#3e3e3e"/><stop offset=".753" stop-color="#373737"/><stop offset="1" stop-color="#515151"/></linearGradient><linearGradient id="e2" x2="0" y2="1"><stop offset=".000" stop-color="#e8e8e8"/><stop offset=".055" stop-color="#999999"/><stop offset=".080" stop-color="#444444"/><stop offset=".613" stop-color="#414141"/><stop offset=".638" stop-color="#404040"/><stop offset=".778" stop-color="#424242"/><stop offset="1" stop-color="#3e3e3e"/></linearGradient><linearGradient id="e3" x2="0" y2="1"><stop offset=".000" stop-color="#e5e5e5"/><stop offset=".257" stop-color="#e4e4e4"/><stop offset=".513" stop-color="#b8b8b8"/><stop offset=".543" stop-color="#878787"/><stop offset=".598" stop-color="#666666"/><stop offset=".623" stop-color="#3d3d3d"/><stop offset=".763" stop-color="#3c3c3c"/><stop offset="1" stop-color="#333333"/></linearGradient><linearGradient id="e4" x2="0" y2="1"><stop offset=".000" stop-color="#f1f1f1"/><stop offset=".252" stop-color="#dedede"/><stop offset=".503" stop-color="#b6b6b6"/><stop offset=".533" stop-color="#7a7a7a"/><stop offset=".584" stop-color="#686868"/><stop offset=".609" stop-color="#3d3d3d"/><stop offset=".749" stop-color="#363636"/><stop offset="1" stop-color="#404040"/></linearGradient><linearGradient id="e5" x2="0" y2="1"><stop offset=".000" stop-color="#f3f3f3"/><stop offset=".116" stop-color="#eaeaea"/><stop offset=".233" stop-color="#bcbcbc"/><stop offset=".263" stop-color="#929292"/><stop offset=".597" stop-color="#797979"/><stop offset=".622" stop-color="#3e3e3e"/><stop offset=".762" stop-color="#3e3e3e"/><stop offset="1" stop-color="#333333"/></linearGradient><linearGradient id="e6" x2="0" y2="1"><stop offset=".000" stop-color="#ffffff"/><stop offset=".123" stop-color="#f9f9f9"/><stop offset=".246" stop-color="#d8d8d8"/><stop offset=".276" stop-color="#818181"/><stop offset=".627" stop-color="#6b6b6b"/><stop offset=".652" stop-color="#3e3e3e"/><stop offset=".792" stop-color="#3b3b3b"/><stop offset="1" stop-color="#3b3b3b"/></linearGradient><linearGradient id="e7" x2="0" y2="1"><stop offset=".000" stop-color="#dadada"/><stop offset=".024" stop-color="#999999"/><stop offset=".049" stop-color="#3c3c3c"/><stop offset=".581" stop-color="#515151"/><stop offset=".606" stop-color="#464646"/><stop offset=".746" stop-color="#3b3b3b"/><stop offset="1" stop-color="#313131"/></linearGradient><linearGradient id="e8" x2="0" y2="1"><stop offset=".000" stop-color="#d7d7d7"/><stop offset=".052" stop-color="#999999"/><stop offset=".077" stop-color="#3d3d3d"/><stop offset=".587" stop-color="#434343"/><stop offset=".612" stop-color="#444444"/><stop offset=".752" stop-color="#363636"/><stop offset="1" stop-color="#3a3a3a"/></linearGradient><linearGradient id="e9" x2="0" y2="1"><stop offset=".000" stop-color="#e7e7e7"/><stop offset=".040" stop-color="#999999"/><stop offset=".065" stop-color="#3a3a3a"/><stop offset=".593" stop-color="#4a4a4a"/><stop offset=".618" stop-color="#3e3e3e"/><stop offset=".758" stop-color="#414141"/><stop offset="1" stop-color="#414141"/></linearGradient><linearGradient id="e10" x2="0" y2="1"><stop offset=".000" stop-color="#d8d8d8"/><stop offset=".046" stop-color="#999999"/><stop offset=".071" stop-color="#444444"/><stop offset=".582" stop-color="#3e3e3e"/><stop offset=".607" stop-color="#494949"/><stop offset=".747" stop-color="#424242"/><stop offset="1" stop-color="#343434"/></linearGradient><linearGradient id="e11" x2="0" y2="1"><stop offset=".000" stop-color="#d0d0d0"/><stop offset=".035" stop-color="#999999"/><stop offset=".060" stop-color="#434343"/><stop offset=".582" stop-color="#434343"/><stop offset=".607" stop-color="#3d3d3d"/><stop offset=".747" stop-color="#424242"/><stop offset="1" stop-color="#393939"/></linearGradient><linearGradient id="e12" x2="0" y2="1"><stop offset=".000" stop-color="#e6e6e6"/><stop offset=".028" stop-color="#999999"/><stop offset=".053" stop-color="#3b3b3b"/><stop offset=".622" stop-color="#464646"/><stop offset=".647" stop-color="#3f3f3f"/><stop offset=".787" stop-color="#3e3e3e"/><stop offset="1" stop-color="#3b3b3b"/></linearGradient><linearGradient id="e13" x2="0" y2="1"><stop offset=".000" stop-color="#eaeaea"/><stop offset=".267" stop-color="#d9d9d9"/><stop offset=".534" stop-color="#bababa"/><stop offset=".564" stop-color="#9a9a9a"/><stop offset=".607" stop-color="#737373"/><stop offset=".632" stop-color="#3f3f3f"/><stop offset=".772" stop-color="#424242"/><stop offset="1" stop-color="#343434"/></linearGradient><linearGradient id="e14" x2="0" y2="1"><stop offset=".000" stop-color="#f0f0f0"/><stop offset=".115" stop-color="#e6e6e6"/><stop offset=".230" stop-color="#cbcbcb"/><stop offset=".260" stop-color="#828282"/><stop offset=".603" stop-color="#545454"/><stop offset=".628" stop-color="#454545"/><stop offset=".768" stop-color="#3f3f3f"/><stop offset="1" stop-color="#383838"/></linearGradient><linearGradient id="e15" x2="0" y2="1"><stop offset=".000" stop-color="#f3f3f3"/><stop offset=".241" stop-color="#f2f2f2"/><stop offset=".482" stop-color="#cbcbcb"/><stop offset=".512" stop-color="#a1a1a1"/><stop offset=".599" stop-color="#545454"/><stop offset=".624" stop-color="#404040"/><stop offset=".764" stop-color="#444444"/><stop offset="1" stop-color="#494949"/></linearGradient><linearGradient id="e16" x2="0" y2="1"><stop offset=".000" stop-color="#f6f6f6"/><stop offset=".226" stop-color="#dedede"/><stop offset=".452" stop-color="#bfbfbf"/><stop offset=".482" stop-color="#8b8b8b"/><stop offset=".616" stop-color="#616161"/><stop offset=".641" stop-color="#494949"/><stop offset=".781" stop-color="#3e3e3e"/><stop offset="1" stop-color="#353535"/></linearGradient><linearGradient id="e17" x2="0" y2="1"><stop offset=".000" stop-color="#e0e0e0"/><stop offset=".168" stop-color="#d7d7d7"/><stop offset=".336" stop-color="#b9b9b9"/><stop offset=".366" stop-color="#787878"/><stop offset=".576" stop-color="#707070"/><stop offset=".601" stop-color="#3e3e3e"/><stop offset=".741" stop-color="#363636"/><stop offset="1" stop-color="#3a3a3a"/></linearGradient><linearGradient id="e18" x2="0" y2="1"><stop offset=".000" stop-color="#e1e1e1"/><stop offset=".115" stop-color="#d1d1d1"/><stop offset=".231" stop-color="#c7c7c7"/><stop offset=".261" stop-color="#8a8a8a"/><stop offset=".606" stop-color="#585858"/><stop offset=".631" stop-color="#424242"/><stop offset=".771" stop-color="#3d3d3d"/><stop offset="1" stop-color="#404040"/></linearGradient><linearGradient id="e19" x2="0" y2="1"><stop offset=".000" stop-color="#e3e3e3"/><stop offset=".269" stop-color="#cdcdcd"/><stop offset=".537" stop-color="#b7b7b7"/><stop offset=".567" stop-color="#7a7a7a"/><stop offset=".593" stop-color="#6c6c6c"/><stop offset=".618" stop-color="#3e3e3e"/><stop offset=".758" stop-color="#434343"/><stop offset="1" stop-color="#3b3b3b"/></linearGradient><linearGradient id="e20" x2="0" y2="1"><stop offset=".000" stop-color="#e1e1e1"/><stop offset=".101" stop-color="#dddddd"/><stop offset=".202" stop-color="#cfcfcf"/><stop offset=".232" stop-color="#777777"/><stop offset=".614" stop-color="#5c5c5c"/><stop offset=".639" stop-color="#454545"/><stop offset=".779" stop-color="#454545"/><stop offset="1" stop-color="#383838"/></linearGradient><linearGradient id="e21" x2="0" y2="1"><stop offset=".000" stop-color="#e9e9e9"/><stop offset=".246" stop-color="#e1e1e1"/><stop offset=".493" stop-color="#cfcfcf"/><stop offset=".523" stop-color="#7c7c7c"/><stop offset=".579" stop-color="#535353"/><stop offset=".604" stop-color="#3f3f3f"/><stop offset=".744" stop-color="#3b3b3b"/><stop offset="1" stop-color="#484848"/></linearGradient><linearGradient id="e22" x2="0" y2="1"><stop offset=".000" stop-color="#e8e8e8"/><stop offset=".248" stop-color="#d1d1d1"/><stop offset=".497" stop-color="#c6c6c6"/><stop offset=".527" stop-color="#898989"/><stop offset=".590" stop-color="#5f5f5f"/><stop offset=".615" stop-color="#444444"/><stop offset=".755" stop-color="#434343"/><stop offset="1" stop-color="#484848"/></linearGradient><linearGradient id="e23" x2="0" y2="1"><stop offset=".000" stop-color="#eeeeee"/><stop offset=".237" stop-color="#e1e1e1"/><stop offset=".475" stop-color="#c4c4c4"/><stop offset=".505" stop-color="#858585"/><stop offset=".542" stop-color="#545454"/><stop offset=".567" stop-color="#3e3e3e"/><stop offset=".707" stop-color="#464646"/><stop offset="1" stop-color="#343434"/></linearGradient><linearGradient id="e24" x2="0" y2="1"><stop offset=".000" stop-color="#e9e9e9"/><stop offset=".160" stop-color="#e1e1e1"/><stop offset=".321" stop-color="#d2d2d2"/><stop offset=".351" stop-color="#9e9e9e"/><stop offset=".515" stop-color="#707070"/><stop offset=".540" stop-color="#404040"/><stop offset=".680" stop-color="#3e3e3e"/><stop offset="1" stop-color="#313131"/></linearGradient><linearGradient id="e25" x2="0" y2="1"><stop offset=".000" stop-color="#fbfbfb"/><stop offset=".128" stop-color="#f8f8f8"/><stop offset=".256" stop-color="#c8c8c8"/><stop offset=".286" stop-color="#7b7b7b"/><stop offset=".419" stop-color="#6f6f6f"/><stop offset=".444" stop-color="#414141"/><stop offset=".584" stop-color="#4a4a4a"/><stop offset="1" stop-color="#313131"/></linearGradient><linearGradient id="e26" x2="0" y2="1"><stop offset=".000" stop-color="#e3e3e3"/><stop offset=".118" stop-color="#cdcdcd"/><stop offset=".235" stop-color="#d4d4d4"/><stop offset=".265" stop-color="#a3a3a3"/><stop offset=".462" stop-color="#6c6c6c"/><stop offset=".487" stop-color="#424242"/><stop offset=".627" stop-color="#444444"/><stop offset="1" stop-color="#333333"/></linearGradient><linearGradient id="e27" x2="0" y2="1"><stop offset=".000" stop-color="#e7e7e7"/><stop offset=".146" stop-color="#d9d9d9"/><stop offset=".292" stop-color="#bcbcbc"/><stop offset=".322" stop-color="#929292"/><stop offset=".533" stop-color="#757575"/><stop offset=".558" stop-color="#444444"/><stop offset=".698" stop-color="#353535"/><stop offset="1" stop-color="#313131"/></linearGradient><linearGradient id="e28" x2="0" y2="1"><stop offset=".000" stop-color="#f4f4f4"/><stop offset=".267" stop-color="#f0f0f0"/><stop offset=".534" stop-color="#c0c0c0"/><stop offset=".564" stop-color="#7d7d7d"/><stop offset=".613" stop-color="#646464"/><stop offset=".638" stop-color="#464646"/><stop offset=".778" stop-color="#393939"/><stop offset="1" stop-color="#3d3d3d"/></linearGradient><linearGradient id="e29" x2="0" y2="1"><stop offset=".000" stop-color="#cfcfcf"/><stop offset=".023" stop-color="#999999"/><stop offset=".048" stop-color="#434343"/><stop offset=".602" stop-color="#4b4b4b"/><stop offset=".627" stop-color="#3e3e3e"/><stop offset=".767" stop-color="#373737"/><stop offset="1" stop-color="#3a3a3a"/></linearGradient><linearGradient id="e30" x2="0" y2="1"><stop offset=".000" stop-color="#d5d5d5"/><stop offset=".046" stop-color="#999999"/><stop offset=".071" stop-color="#3e3e3e"/><stop offset=".585" stop-color="#4e4e4e"/><stop offset=".610" stop-color="#494949"/><stop offset=".750" stop-color="#444444"/><stop offset="1" stop-color="#494949"/></linearGradient><linearGradient id="e31" x2="0" y2="1"><stop offset=".000" stop-color="#dbdbdb"/><stop offset=".036" stop-color="#999999"/><stop offset=".061" stop-color="#414141"/><stop offset=".617" stop-color="#515151"/><stop offset=".642" stop-color="#444444"/><stop offset=".782" stop-color="#444444"/><stop offset="1" stop-color="#323232"/></linearGradient><linearGradient id="e32" x2="0" y2="1"><stop offset=".000" stop-color="#e7e7e7"/><stop offset=".059" stop-color="#999999"/><stop offset=".084" stop-color="#3b3b3b"/><stop offset=".623" stop-color="#484848"/><stop offset=".648" stop-color="#494949"/><stop offset=".788" stop-color="#3e3e3e"/><stop offset="1" stop-color="#414141"/></linearGradient><linearGradient id="e33" x2="0" y2="1"><stop offset=".000" stop-color="#eeeeee"/><stop offset=".045" stop-color="#999999"/><stop offset=".070" stop-color="#3d3d3d"/><stop offset=".584" stop-color="#4c4c4c"/><stop offset=".609" stop-color="#414141"/><stop offset=".749" stop-color="#484848"/><stop offset="1" stop-color="#3e3e3e"/></linearGradient><linearGradient id="e34" x2="0" y2="1"><stop offset=".000" stop-color="#e5e5e5"/><stop offset=".029" stop-color="#999999"/><stop offset=".054" stop-color="#434343"/><stop offset=".606" stop-color="#4f4f4f"/><stop offset=".631" stop-color="#464646"/><stop offset=".771" stop-color="#3f3f3f"/><stop offset="1" stop-color="#404040"/></linearGradient><linearGradient id="e35" x2="0" y2="1"><stop offset=".000" stop-color="#ebebeb"/><stop offset=".038" stop-color="#999999"/><stop offset=".063" stop-color="#434343"/><stop offset=".623" stop-color="#3e3e3e"/><stop offset=".648" stop-color="#494949"/><stop offset=".788" stop-color="#373737"/><stop offset="1" stop-color="#3d3d3d"/></linearGradient><linearGradient id="e36" x2="0" y2="1"><stop offset=".000" stop-color="#e2e2e2"/><stop offset=".038" stop-color="#999999"/><stop offset=".063" stop-color="#3f3f3f"/><stop offset=".620" stop-color="#434343"/><stop offset=".645" stop-color="#424242"/><stop offset=".785" stop-color="#424242"/><stop offset="1" stop-color="#3a3a3a"/></linearGradient><linearGradient id="e37" x2="0" y2="1"><stop offset=".000" stop-color="#e3e3e3"/><stop offset=".036" stop-color="#999999"/><stop offset=".061" stop-color="#454545"/><stop offset=".626" stop-color="#3f3f3f"/><stop offset=".651" stop-color="#484848"/><stop offset=".791" stop-color="#383838"/><stop offset="1" stop-color="#353535"/></linearGradient><linearGradient id="e38" x2="0" y2="1"><stop offset=".000" stop-color="#e4e4e4"/><stop offset=".034" stop-color="#999999"/><stop offset=".059" stop-color="#3c3c3c"/><stop offset=".592" stop-color="#505050"/><stop offset=".617" stop-color="#414141"/><stop offset=".757" stop-color="#3e3e3e"/><stop offset="1" stop-color="#3c3c3c"/></linearGradient><linearGradient id="e39" x2="0" y2="1"><stop offset=".000" stop-color="#dfdfdf"/><stop offset=".267" stop-color="#d9d9d9"/><stop offset=".534" stop-color="#c3c3c3"/><stop offset=".564" stop-color="#8f8f8f"/><stop offset=".642" stop-color="#6e6e6e"/><stop offset=".667" stop-color="#3e3e3e"/><stop offset=".807" stop-color="#414141"/><stop offset="1" stop-color="#515151"/></linearGradient><linearGradient id="e40" x2="0" y2="1"><stop offset=".000" stop-color="#efefef"/><stop offset=".260" stop-color="#e0e0e0"/><stop offset=".521" stop-color="#cecece"/><stop offset=".551" stop-color="#9f9f9f"/><stop offset=".624" stop-color="#606060"/><stop offset=".649" stop-color="#444444"/><stop offset=".789" stop-color="#505050"/><stop offset="1" stop-color="#414141"/></linearGradient><linearGradient id="e41" x2="0" y2="1"><stop offset=".000" stop-color="#e8e8e8"/><stop offset=".250" stop-color="#dddddd"/><stop offset=".500" stop-color="#d1d1d1"/><stop offset=".530" stop-color="#7b7b7b"/><stop offset=".621" stop-color="#767676"/><stop offset=".646" stop-color="#474747"/><stop offset=".786" stop-color="#404040"/><stop offset="1" stop-color="#353535"/></linearGradient><linearGradient id="e42" x2="0" y2="1"><stop offset=".000" stop-color="#fdfdfd"/><stop offset=".173" stop-color="#fefefe"/><stop offset=".346" stop-color="#bcbcbc"/><stop offset=".376" stop-color="#939393"/><stop offset=".603" stop-color="#727272"/><stop offset=".628" stop-color="#454545"/><stop offset=".768" stop-color="#484848"/><stop offset="1" stop-color="#383838"/></linearGradient><linearGradient id="e43" x2="0" y2="1"><stop offset=".000" stop-color="#fefefe"/><stop offset=".292" stop-color="#ffffff"/><stop offset=".584" stop-color="#bcbcbc"/><stop offset=".614" stop-color="#787878"/><stop offset=".647" stop-color="#5e5e5e"/><stop offset=".672" stop-color="#3d3d3d"/><stop offset=".812" stop-color="#373737"/><stop offset="1" stop-color="#343434"/></linearGradient><linearGradient id="e44" x2="0" y2="1"><stop offset=".000" stop-color="#e7e7e7"/><stop offset=".281" stop-color="#d4d4d4"/><stop offset=".562" stop-color="#d6d6d6"/><stop offset=".592" stop-color="#8e8e8e"/><stop offset=".618" stop-color="#6d6d6d"/><stop offset=".643" stop-color="#3f3f3f"/><stop offset=".783" stop-color="#414141"/><stop offset="1" stop-color="#343434"/></linearGradient><linearGradient id="e45" x2="0" y2="1"><stop offset=".000" stop-color="#eeeeee"/><stop offset=".245" stop-color="#e6e6e6"/><stop offset=".490" stop-color="#c1c1c1"/><stop offset=".520" stop-color="#959595"/><stop offset=".631" stop-color="#717171"/><stop offset=".656" stop-color="#434343"/><stop offset=".796" stop-color="#3f3f3f"/><stop offset="1" stop-color="#494949"/></linearGradient><linearGradient id="e46" x2="0" y2="1"><stop offset=".000" stop-color="#d0d0d0"/><stop offset=".037" stop-color="#999999"/><stop offset=".062" stop-color="#404040"/><stop offset=".618" stop-color="#484848"/><stop offset=".643" stop-color="#3f3f3f"/><stop offset=".783" stop-color="#404040"/><stop offset="1" stop-color="#3a3a3a"/></linearGradient><linearGradient id="e47" x2="0" y2="1"><stop offset=".000" stop-color="#cecece"/><stop offset=".028" stop-color="#999999"/><stop offset=".053" stop-color="#424242"/><stop offset=".626" stop-color="#3f3f3f"/><stop offset=".651" stop-color="#494949"/><stop offset=".791" stop-color="#404040"/><stop offset="1" stop-color="#444444"/></linearGradient><linearGradient id="e48" x2="0" y2="1"><stop offset=".000" stop-color="#dfdfdf"/><stop offset=".035" stop-color="#999999"/><stop offset=".060" stop-color="#3f3f3f"/><stop offset=".641" stop-color="#4d4d4d"/><stop offset=".666" stop-color="#424242"/><stop offset=".806" stop-color="#424242"/><stop offset="1" stop-color="#414141"/></linearGradient><linearGradient id="e49" x2="0" y2="1"><stop offset=".000" stop-color="#dedede"/><stop offset=".055" stop-color="#999999"/><stop offset=".080" stop-color="#3d3d3d"/><stop offset=".612" stop-color="#4b4b4b"/><stop offset=".637" stop-color="#484848"/><stop offset=".777" stop-color="#454545"/><stop offset="1" stop-color="#3e3e3e"/></linearGradient><linearGradient id="e50" x2="0" y2="1"><stop offset=".000" stop-color="#e6e6e6"/><stop offset=".158" stop-color="#d7d7d7"/><stop offset=".315" stop-color="#c8c8c8"/><stop offset=".345" stop-color="#a3a3a3"/><stop offset=".636" stop-color="#585858"/><stop offset=".661" stop-color="#464646"/><stop offset=".801" stop-color="#434343"/><stop offset="1" stop-color="#323232"/></linearGradient><linearGradient id="e51" x2="0" y2="1"><stop offset=".000" stop-color="#dfdfdf"/><stop offset=".277" stop-color="#dbdbdb"/><stop offset=".554" stop-color="#c6c6c6"/><stop offset=".584" stop-color="#7e7e7e"/><stop offset=".643" stop-color="#747474"/><stop offset=".668" stop-color="#404040"/><stop offset=".808" stop-color="#454545"/><stop offset="1" stop-color="#3f3f3f"/></linearGradient><linearGradient id="e52" x2="0" y2="1"><stop offset=".000" stop-color="#e7e7e7"/><stop offset=".138" stop-color="#e1e1e1"/><stop offset=".276" stop-color="#cecece"/><stop offset=".306" stop-color="#7f7f7f"/><stop offset=".626" stop-color="#696969"/><stop offset=".651" stop-color="#404040"/><stop offset=".791" stop-color="#454545"/><stop offset="1" stop-color="#393939"/></linearGradient><linearGradient id="e53" x2="0" y2="1"><stop offset=".000" stop-color="#e7e7e7"/><stop offset=".127" stop-color="#e2e2e2"/><stop offset=".254" stop-color="#d1d1d1"/><stop offset=".284" stop-color="#929292"/><stop offset=".599" stop-color="#616161"/><stop offset=".624" stop-color="#434343"/><stop offset=".764" stop-color="#373737"/><stop offset="1" stop-color="#3b3b3b"/></linearGradient><linearGradient id="e54" x2="0" y2="1"><stop offset=".000" stop-color="#e9e9e9"/><stop offset=".144" stop-color="#e6e6e6"/><stop offset=".287" stop-color="#bebebe"/><stop offset=".317" stop-color="#8f8f8f"/><stop offset=".639" stop-color="#6b6b6b"/><stop offset=".664" stop-color="#3f3f3f"/><stop offset=".804" stop-color="#353535"/><stop offset="1" stop-color="#404040"/></linearGradient><linearGradient id="e55" x2="0" y2="1"><stop offset=".000" stop-color="#f0f0f0"/><stop offset=".225" stop-color="#d8d8d8"/><stop offset=".450" stop-color="#c6c6c6"/><stop offset=".480" stop-color="#959595"/><stop offset=".627" stop-color="#5f5f5f"/><stop offset=".652" stop-color="#424242"/><stop offset=".792" stop-color="#3a3a3a"/><stop offset="1" stop-color="#3b3b3b"/></linearGradient><linearGradient id="e56" x2="0" y2="1"><stop offset=".000" stop-color="#dfdfdf"/><stop offset=".210" stop-color="#dcdcdc"/><stop offset=".421" stop-color="#b6b6b6"/><stop offset=".451" stop-color="#959595"/><stop offset=".635" stop-color="#6a6a6a"/><stop offset=".660" stop-color="#454545"/><stop offset=".800" stop-color="#3c3c3c"/><stop offset="1" stop-color="#3d3d3d"/></linearGradient><linearGradient id="e57" x2="0" y2="1"><stop offset=".000" stop-color="#e1e1e1"/><stop offset=".128" stop-color="#cbcbcb"/><stop offset=".257" stop-color="#c8c8c8"/><stop offset=".287" stop-color="#7d7d7d"/><stop offset=".625" stop-color="#676767"/><stop offset=".650" stop-color="#3d3d3d"/><stop offset=".790" stop-color="#515151"/><stop offset="1" stop-color="#3a3a3a"/></linearGradient><linearGradient id="e58" x2="0" y2="1"><stop offset=".000" stop-color="#e6e6e6"/><stop offset=".185" stop-color="#dcdcdc"/><stop offset=".370" stop-color="#bcbcbc"/><stop offset=".400" stop-color="#949494"/><stop offset=".598" stop-color="#606060"/><stop offset=".623" stop-color="#474747"/><stop offset=".763" stop-color="#383838"/><stop offset="1" stop-color="#3c3c3c"/></linearGradient><linearGradient id="e59" x2="0" y2="1"><stop offset=".000" stop-color="#e5e5e5"/><stop offset=".248" stop-color="#dfdfdf"/><stop offset=".496" stop-color="#d0d0d0"/><stop offset=".526" stop-color="#777777"/><stop offset=".634" stop-color="#757575"/><stop offset=".659" stop-color="#464646"/><stop offset=".799" stop-color="#414141"/><stop offset="1" stop-color="#363636"/></linearGradient><linearGradient id="e60" x2="0" y2="1"><stop offset=".000" stop-color="#eeeeee"/><stop offset=".024" stop-color="#999999"/><stop offset=".049" stop-color="#444444"/><stop offset=".606" stop-color="#414141"/><stop offset=".631" stop-color="#3e3e3e"/><stop offset=".771" stop-color="#454545"/><stop offset="1" stop-color="#3f3f3f"/></linearGradient><linearGradient id="e61" x2="0" y2="1"><stop offset=".000" stop-color="#d7d7d7"/><stop offset=".031" stop-color="#999999"/><stop offset=".056" stop-color="#434343"/><stop offset=".619" stop-color="#484848"/><stop offset=".644" stop-color="#404040"/><stop offset=".784" stop-color="#414141"/><stop offset="1" stop-color="#323232"/></linearGradient><linearGradient id="e62" x2="0" y2="1"><stop offset=".000" stop-color="#e7e7e7"/><stop offset=".046" stop-color="#999999"/><stop offset=".071" stop-color="#454545"/><stop offset=".633" stop-color="#505050"/><stop offset=".658" stop-color="#444444"/><stop offset=".798" stop-color="#383838"/><stop offset="1" stop-color="#383838"/></linearGradient><linearGradient id="e63" x2="0" y2="1"><stop offset=".000" stop-color="#d0d0d0"/><stop offset=".024" stop-color="#999999"/><stop offset=".049" stop-color="#3b3b3b"/><stop offset=".607" stop-color="#4c4c4c"/><stop offset=".632" stop-color="#464646"/><stop offset=".772" stop-color="#3e3e3e"/><stop offset="1" stop-color="#3d3d3d"/></linearGradient><linearGradient id="e64" x2="0" y2="1"><stop offset=".000" stop-color="#d4d4d4"/><stop offset=".060" stop-color="#999999"/><stop offset=".085" stop-color="#3f3f3f"/><stop offset=".615" stop-color="#474747"/><stop offset=".640" stop-color="#404040"/><stop offset=".780" stop-color="#3c3c3c"/><stop offset="1" stop-color="#383838"/></linearGradient><linearGradient id="e65" x2="0" y2="1"><stop offset=".000" stop-color="#e2e2e2"/><stop offset=".045" stop-color="#999999"/><stop offset=".070" stop-color="#3b3b3b"/><stop offset=".607" stop-color="#4e4e4e"/><stop offset=".632" stop-color="#3e3e3e"/><stop offset=".772" stop-color="#393939"/><stop offset="1" stop-color="#333333"/></linearGradient><linearGradient id="e66" x2="0" y2="1"><stop offset=".000" stop-color="#d5d5d5"/><stop offset=".044" stop-color="#999999"/><stop offset=".069" stop-color="#434343"/><stop offset=".611" stop-color="#484848"/><stop offset=".636" stop-color="#414141"/><stop offset=".776" stop-color="#444444"/><stop offset="1" stop-color="#424242"/></linearGradient><linearGradient id="e67" x2="0" y2="1"><stop offset=".000" stop-color="#e1e1e1"/><stop offset=".018" stop-color="#999999"/><stop offset=".043" stop-color="#454545"/><stop offset=".626" stop-color="#515151"/><stop offset=".651" stop-color="#424242"/><stop offset=".791" stop-color="#3b3b3b"/><stop offset="1" stop-color="#3c3c3c"/></linearGradient><linearGradient id="e68" x2="0" y2="1"><stop offset=".000" stop-color="#e6e6e6"/><stop offset=".035" stop-color="#999999"/><stop offset=".060" stop-color="#3a3a3a"/><stop offset=".599" stop-color="#3e3e3e"/><stop offset=".624" stop-color="#404040"/><stop offset=".764" stop-color="#393939"/><stop offset="1" stop-color="#404040"/></linearGradient><linearGradient id="e69" x2="0" y2="1"><stop offset=".000" stop-color="#d1d1d1"/><stop offset=".018" stop-color="#999999"/><stop offset=".043" stop-color="#3e3e3e"/><stop offset=".600" stop-color="#464646"/><stop offset=".625" stop-color="#3e3e3e"/><stop offset=".765" stop-color="#3d3d3d"/><stop offset="1" stop-color="#313131"/></linearGradient><linearGradient id="e70" x2="0" y2="1"><stop offset=".000" stop-color="#dcdcdc"/><stop offset=".065" stop-color="#a9a9a9"/><stop offset=".095" stop-color="#404040"/><stop offset=".588" stop-color="#424242"/><stop offset=".623" stop-color="#3a3a3a"/><stop offset=".763" stop-color="#373737"/><stop offset="1" stop-color="#363636"/></linearGradient><linearGradient id="e71" x2="0" y2="1"><stop offset=".000" stop-color="#e0e0e0"/><stop offset=".034" stop-color="#a9a9a9"/><stop offset=".064" stop-color="#4b4b4b"/><stop offset=".597" stop-color="#4f4f4f"/><stop offset=".632" stop-color="#3c3c3c"/><stop offset=".772" stop-color="#414141"/><stop offset="1" stop-color="#2e2e2e"/></linearGradient><linearGradient id="e72" x2="0" y2="1"><stop offset=".000" stop-color="#f6f6f6"/><stop offset=".038" stop-color="#adadad"/><stop offset=".068" stop-color="#434343"/><stop offset=".443" stop-color="#434343"/><stop offset=".453" stop-color="#3a3a3a"/><stop offset=".593" stop-color="#313131"/><stop offset="1" stop-color="#464646"/></linearGradient><linearGradient id="e73" x2="0" y2="1"><stop offset=".000" stop-color="#e2e2e2"/><stop offset=".056" stop-color="#adadad"/><stop offset=".086" stop-color="#434343"/><stop offset=".150" stop-color="#434343"/><stop offset=".160" stop-color="#353535"/><stop offset=".300" stop-color="#2e2e2e"/><stop offset="1" stop-color="#2e2e2e"/></linearGradient><linearGradient id="e74" x2="0" y2="1"><stop offset=".000" stop-color="#f1f1f1"/><stop offset=".029" stop-color="#adadad"/><stop offset=".059" stop-color="#434343"/><stop offset=".217" stop-color="#434343"/><stop offset=".227" stop-color="#343434"/><stop offset=".367" stop-color="#323232"/><stop offset="1" stop-color="#353535"/></linearGradient><linearGradient id="e75" x2="0" y2="1"><stop offset=".000" stop-color="#dddddd"/><stop offset=".044" stop-color="#adadad"/><stop offset=".074" stop-color="#434343"/><stop offset=".296" stop-color="#434343"/><stop offset=".306" stop-color="#363636"/><stop offset=".446" stop-color="#373737"/><stop offset="1" stop-color="#3d3d3d"/></linearGradient><linearGradient id="e76" x2="0" y2="1"><stop offset=".000" stop-color="#d9d9d9"/><stop offset=".077" stop-color="#adadad"/><stop offset=".107" stop-color="#434343"/><stop offset=".240" stop-color="#434343"/><stop offset=".250" stop-color="#363636"/><stop offset=".390" stop-color="#2f2f2f"/><stop offset="1" stop-color="#363636"/></linearGradient><linearGradient id="e77" x2="0" y2="1"><stop offset=".000" stop-color="#e5e5e5"/><stop offset=".065" stop-color="#adadad"/><stop offset=".095" stop-color="#434343"/><stop offset=".476" stop-color="#434343"/><stop offset=".486" stop-color="#363636"/><stop offset=".626" stop-color="#2f2f2f"/><stop offset="1" stop-color="#2e2e2e"/></linearGradient><linearGradient id="e78" x2="0" y2="1"><stop offset=".000" stop-color="#f1f1f1"/><stop offset=".028" stop-color="#adadad"/><stop offset=".058" stop-color="#434343"/><stop offset=".394" stop-color="#434343"/><stop offset=".404" stop-color="#373737"/><stop offset=".544" stop-color="#2c2c2c"/><stop offset="1" stop-color="#313131"/></linearGradient><linearGradient id="e79" x2="0" y2="1"><stop offset=".000" stop-color="#e9e9e9"/><stop offset=".027" stop-color="#adadad"/><stop offset=".057" stop-color="#434343"/><stop offset=".530" stop-color="#434343"/><stop offset=".540" stop-color="#3d3d3d"/><stop offset=".680" stop-color="#323232"/><stop offset="1" stop-color="#2d2d2d"/></linearGradient><linearGradient id="e80" x2="0" y2="1"><stop offset=".000" stop-color="#f5f5f5"/><stop offset=".039" stop-color="#adadad"/><stop offset=".069" stop-color="#434343"/><stop offset=".605" stop-color="#434343"/><stop offset=".615" stop-color="#393939"/><stop offset=".755" stop-color="#343434"/><stop offset="1" stop-color="#303030"/></linearGradient><linearGradient id="e81" x2="0" y2="1"><stop offset=".000" stop-color="#eaeaea"/><stop offset=".053" stop-color="#adadad"/><stop offset=".083" stop-color="#434343"/><stop offset=".594" stop-color="#434343"/><stop offset=".604" stop-color="#3b3b3b"/><stop offset=".744" stop-color="#2d2d2d"/><stop offset="1" stop-color="#383838"/></linearGradient><linearGradient id="e82" x2="0" y2="1"><stop offset=".000" stop-color="#f7f7f7"/><stop offset=".055" stop-color="#adadad"/><stop offset=".085" stop-color="#434343"/><stop offset=".585" stop-color="#434343"/><stop offset=".595" stop-color="#383838"/><stop offset=".735" stop-color="#373737"/><stop offset="1" stop-color="#2b2b2b"/></linearGradient><linearGradient id="e83" x2="0" y2="1"><stop offset=".000" stop-color="#d8d8d8"/><stop offset=".028" stop-color="#adadad"/><stop offset=".058" stop-color="#434343"/><stop offset=".600" stop-color="#434343"/><stop offset=".610" stop-color="#363636"/><stop offset=".750" stop-color="#323232"/><stop offset="1" stop-color="#272727"/></linearGradient><linearGradient id="e84" x2="0" y2="1"><stop offset=".000" stop-color="#e3e3e3"/><stop offset=".030" stop-color="#adadad"/><stop offset=".060" stop-color="#434343"/><stop offset=".470" stop-color="#434343"/><stop offset=".480" stop-color="#363636"/><stop offset=".620" stop-color="#383838"/><stop offset="1" stop-color="#343434"/></linearGradient><linearGradient id="e85" x2="0" y2="1"><stop offset=".000" stop-color="#e0e0e0"/><stop offset=".066" stop-color="#adadad"/><stop offset=".096" stop-color="#434343"/><stop offset=".259" stop-color="#434343"/><stop offset=".269" stop-color="#3e3e3e"/><stop offset=".409" stop-color="#2b2b2b"/><stop offset="1" stop-color="#363636"/></linearGradient><linearGradient id="e86" x2="0" y2="1"><stop offset=".000" stop-color="#dddddd"/><stop offset=".061" stop-color="#adadad"/><stop offset=".091" stop-color="#434343"/><stop offset=".150" stop-color="#434343"/><stop offset=".160" stop-color="#3b3b3b"/><stop offset=".300" stop-color="#2e2e2e"/><stop offset="1" stop-color="#454545"/></linearGradient><linearGradient id="e87" x2="0" y2="1"><stop offset=".000" stop-color="#ebebeb"/><stop offset=".025" stop-color="#adadad"/><stop offset=".055" stop-color="#434343"/><stop offset=".241" stop-color="#434343"/><stop offset=".251" stop-color="#393939"/><stop offset=".391" stop-color="#3a3a3a"/><stop offset="1" stop-color="#2f2f2f"/></linearGradient><linearGradient id="e88" x2="0" y2="1"><stop offset=".000" stop-color="#f7f7f7"/><stop offset=".030" stop-color="#adadad"/><stop offset=".060" stop-color="#434343"/><stop offset=".362" stop-color="#434343"/><stop offset=".372" stop-color="#3f3f3f"/><stop offset=".512" stop-color="#303030"/><stop offset="1" stop-color="#2a2a2a"/></linearGradient><linearGradient id="e89" x2="0" y2="1"><stop offset=".000" stop-color="#e7e7e7"/><stop offset=".052" stop-color="#adadad"/><stop offset=".082" stop-color="#434343"/><stop offset=".414" stop-color="#434343"/><stop offset=".424" stop-color="#393939"/><stop offset=".564" stop-color="#343434"/><stop offset="1" stop-color="#333333"/></linearGradient><linearGradient id="e90" x2="0" y2="1"><stop offset=".000" stop-color="#ffffff"/><stop offset=".025" stop-color="#fefefe"/><stop offset=".051" stop-color="#d6d6d6"/><stop offset=".086" stop-color="#828282"/><stop offset=".271" stop-color="#5a5a5a"/><stop offset=".306" stop-color="#363636"/><stop offset=".446" stop-color="#2e2e2e"/><stop offset="1" stop-color="#333333"/></linearGradient><linearGradient id="e91" x2="0" y2="1"><stop offset=".000" stop-color="#eaeaea"/><stop offset=".063" stop-color="#e3e3e3"/><stop offset=".125" stop-color="#c5c5c5"/><stop offset=".160" stop-color="#8a8a8a"/><stop offset=".299" stop-color="#494949"/><stop offset=".334" stop-color="#3f3f3f"/><stop offset=".474" stop-color="#434343"/><stop offset="1" stop-color="#323232"/></linearGradient><linearGradient id="e92" x2="0" y2="1"><stop offset=".000" stop-color="#ededed"/><stop offset=".052" stop-color="#a9a9a9"/><stop offset=".082" stop-color="#3e3e3e"/><stop offset=".401" stop-color="#414141"/><stop offset=".436" stop-color="#3c3c3c"/><stop offset=".576" stop-color="#363636"/><stop offset="1" stop-color="#2f2f2f"/></linearGradient><linearGradient id="e93" x2="0" y2="1"><stop offset=".000" stop-color="#dbdbdb"/><stop offset=".052" stop-color="#a9a9a9"/><stop offset=".082" stop-color="#4a4a4a"/><stop offset=".448" stop-color="#3c3c3c"/><stop offset=".483" stop-color="#3e3e3e"/><stop offset=".623" stop-color="#3a3a3a"/><stop offset="1" stop-color="#444444"/></linearGradient><linearGradient id="e94" x2="0" y2="1"><stop offset=".000" stop-color="#e5e5e5"/><stop offset=".034" stop-color="#a9a9a9"/><stop offset=".064" stop-color="#3a3a3a"/><stop offset=".454" stop-color="#4f4f4f"/><stop offset=".489" stop-color="#393939"/><stop offset=".629" stop-color="#333333"/><stop offset="1" stop-color="#323232"/></linearGradient><linearGradient id="e95" x2="0" y2="1"><stop offset=".000" stop-color="#fbfbfb"/><stop offset=".050" stop-color="#e1e1e1"/><stop offset=".099" stop-color="#cccccc"/><stop offset=".134" stop-color="#939393"/><stop offset=".436" stop-color="#5e5e5e"/><stop offset=".471" stop-color="#353535"/><stop offset=".611" stop-color="#404040"/><stop offset="1" stop-color="#323232"/></linearGradient><linearGradient id="e96" x2="0" y2="1"><stop offset=".000" stop-color="#eeeeee"/><stop offset=".054" stop-color="#d5d5d5"/><stop offset=".109" stop-color="#bcbcbc"/><stop offset=".144" stop-color="#818181"/><stop offset=".432" stop-color="#4f4f4f"/><stop offset=".467" stop-color="#3b3b3b"/><stop offset=".607" stop-color="#313131"/><stop offset="1" stop-color="#323232"/></linearGradient><linearGradient id="e97" x2="0" y2="1"><stop offset=".000" stop-color="#ffffff"/><stop offset=".030" stop-color="#f2f2f2"/><stop offset=".061" stop-color="#d7d7d7"/><stop offset=".096" stop-color="#848484"/><stop offset=".434" stop-color="#545454"/><stop offset=".469" stop-color="#383838"/><stop offset=".609" stop-color="#303030"/><stop offset="1" stop-color="#333333"/></linearGradient><linearGradient id="e98" x2="0" y2="1"><stop offset=".000" stop-color="#f6f6f6"/><stop offset=".062" stop-color="#e9e9e9"/><stop offset=".125" stop-color="#c2c2c2"/><stop offset=".160" stop-color="#989898"/><stop offset=".451" stop-color="#4f4f4f"/><stop offset=".486" stop-color="#353535"/><stop offset=".626" stop-color="#393939"/><stop offset="1" stop-color="#343434"/></linearGradient><linearGradient id="e99" x2="0" y2="1"><stop offset=".000" stop-color="#f7f7f7"/><stop offset=".025" stop-color="#e5e5e5"/><stop offset=".050" stop-color="#c0c0c0"/><stop offset=".085" stop-color="#888888"/><stop offset=".414" stop-color="#646464"/><stop offset=".449" stop-color="#333333"/><stop offset=".589" stop-color="#343434"/><stop offset="1" stop-color="#424242"/></linearGradient><linearGradient id="e100" x2="0" y2="1"><stop offset=".000" stop-color="#eaeaea"/><stop offset=".033" stop-color="#e3e3e3"/><stop offset=".067" stop-color="#d6d6d6"/><stop offset=".102" stop-color="#838383"/><stop offset=".406" stop-color="#676767"/><stop offset=".441" stop-color="#353535"/><stop offset=".581" stop-color="#2f2f2f"/><stop offset="1" stop-color="#313131"/></linearGradient><linearGradient id="e101" x2="0" y2="1"><stop offset=".000" stop-color="#ffffff"/><stop offset=".040" stop-color="#eeeeee"/><stop offset=".079" stop-color="#c2c2c2"/><stop offset=".114" stop-color="#777777"/><stop offset=".415" stop-color="#606060"/><stop offset=".450" stop-color="#373737"/><stop offset=".590" stop-color="#323232"/><stop offset="1" stop-color="#2f2f2f"/></linearGradient><linearGradient id="e102" x2="0" y2="1"><stop offset=".000" stop-color="#ececec"/><stop offset=".076" stop-color="#a9a9a9"/><stop offset=".106" stop-color="#393939"/><stop offset=".400" stop-color="#4d4d4d"/><stop offset=".435" stop-color="#3b3b3b"/><stop offset=".575" stop-color="#3e3e3e"/><stop offset="1" stop-color="#2f2f2f"/></linearGradient><linearGradient id="e103" x2="0" y2="1"><stop offset=".000" stop-color="#e7e7e7"/><stop offset=".058" stop-color="#a9a9a9"/><stop offset=".088" stop-color="#4a4a4a"/><stop offset=".376" stop-color="#484848"/><stop offset=".411" stop-color="#3c3c3c"/><stop offset=".551" stop-color="#404040"/><stop offset="1" stop-color="#2c2c2c"/></linearGradient><linearGradient id="e104" x2="0" y2="1"><stop offset=".000" stop-color="#ececec"/><stop offset=".070" stop-color="#dfdfdf"/><stop offset=".140" stop-color="#d9d9d9"/><stop offset=".175" stop-color="#747474"/><stop offset=".388" stop-color="#656565"/><stop offset=".423" stop-color="#3c3c3c"/><stop offset=".563" stop-color="#383838"/><stop offset="1" stop-color="#2e2e2e"/></linearGradient><linearGradient id="e105" x2="0" y2="1"><stop offset=".000" stop-color="#efefef"/><stop offset=".067" stop-color="#e2e2e2"/><stop offset=".134" stop-color="#d1d1d1"/><stop offset=".169" stop-color="#838383"/><stop offset=".396" stop-color="#474747"/><stop offset=".431" stop-color="#3d3d3d"/><stop offset=".571" stop-color="#2e2e2e"/><stop offset="1" stop-color="#2a2a2a"/></linearGradient><linearGradient id="e106" x2="0" y2="1"><stop offset=".000" stop-color="#fafafa"/><stop offset=".048" stop-color="#e3e3e3"/><stop offset=".096" stop-color="#c3c3c3"/><stop offset=".131" stop-color="#828282"/><stop offset=".390" stop-color="#454545"/><stop offset=".425" stop-color="#373737"/><stop offset=".565" stop-color="#2c2c2c"/><stop offset="1" stop-color="#323232"/></linearGradient><linearGradient id="e107" x2="0" y2="1"><stop offset=".000" stop-color="#ffffff"/><stop offset=".066" stop-color="#fefefe"/><stop offset=".131" stop-color="#bbbbbb"/><stop offset=".166" stop-color="#939393"/><stop offset=".343" stop-color="#5a5a5a"/><stop offset=".378" stop-color="#3c3c3c"/><stop offset=".518" stop-color="#2d2d2d"/><stop offset="1" stop-color="#2e2e2e"/></linearGradient><linearGradient id="e108" x2="0" y2="1"><stop offset=".000" stop-color="#ffffff"/><stop offset=".024" stop-color="#ececec"/><stop offset=".047" stop-color="#d6d6d6"/><stop offset=".082" stop-color="#808080"/><stop offset=".360" stop-color="#575757"/><stop offset=".395" stop-color="#343434"/><stop offset=".535" stop-color="#353535"/><stop offset="1" stop-color="#323232"/></linearGradient><linearGradient id="e109" x2="0" y2="1"><stop offset=".000" stop-color="#f0f0f0"/><stop offset=".061" stop-color="#e0e0e0"/><stop offset=".122" stop-color="#d4d4d4"/><stop offset=".157" stop-color="#828282"/><stop offset=".373" stop-color="#616161"/><stop offset=".408" stop-color="#3b3b3b"/><stop offset=".548" stop-color="#363636"/><stop offset="1" stop-color="#353535"/></linearGradient><linearGradient id="e110" x2="0" y2="1"><stop offset=".000" stop-color="#f2f2f2"/><stop offset=".034" stop-color="#a9a9a9"/><stop offset=".064" stop-color="#3d3d3d"/><stop offset=".360" stop-color="#454545"/><stop offset=".395" stop-color="#383838"/><stop offset=".535" stop-color="#404040"/><stop offset="1" stop-color="#414141"/></linearGradient><linearGradient id="e111" x2="0" y2="1"><stop offset=".000" stop-color="#f9f9f9"/><stop offset=".025" stop-color="#e8e8e8"/><stop offset=".050" stop-color="#dcdcdc"/><stop offset=".085" stop-color="#838383"/><stop offset=".348" stop-color="#5a5a5a"/><stop offset=".383" stop-color="#343434"/><stop offset=".523" stop-color="#2c2c2c"/><stop offset="1" stop-color="#2b2b2b"/></linearGradient><linearGradient id="e112" x2="0" y2="1"><stop offset=".000" stop-color="#fbfbfb"/><stop offset=".111" stop-color="#f2f2f2"/><stop offset=".223" stop-color="#bababa"/><stop offset=".258" stop-color="#7d7d7d"/><stop offset=".342" stop-color="#454545"/><stop offset=".377" stop-color="#3e3e3e"/><stop offset=".517" stop-color="#2e2e2e"/><stop offset="1" stop-color="#373737"/></linearGradient><linearGradient id="e113" x2="0" y2="1"><stop offset=".000" stop-color="#f1f1f1"/><stop offset=".077" stop-color="#e8e8e8"/><stop offset=".154" stop-color="#bbbbbb"/><stop offset=".189" stop-color="#939393"/><stop offset=".387" stop-color="#666666"/><stop offset=".422" stop-color="#3a3a3a"/><stop offset=".562" stop-color="#373737"/><stop offset="1" stop-color="#353535"/></linearGradient><linearGradient id="e114" x2="0" y2="1"><stop offset=".000" stop-color="#ffffff"/><stop offset=".128" stop-color="#fcfcfc"/><stop offset=".255" stop-color="#dedede"/><stop offset=".290" stop-color="#8a8a8a"/><stop offset=".348" stop-color="#555555"/><stop offset=".383" stop-color="#3c3c3c"/><stop offset=".523" stop-color="#3f3f3f"/><stop offset="1" stop-color="#292929"/></linearGradient><linearGradient id="e115" x2="0" y2="1"><stop offset=".000" stop-color="#ffffff"/><stop offset=".076" stop-color="#eaeaea"/><stop offset=".152" stop-color="#d3d3d3"/><stop offset=".187" stop-color="#898989"/><stop offset=".346" stop-color="#555555"/><stop offset=".381" stop-color="#393939"/><stop offset=".521" stop-color="#3b3b3b"/><stop offset="1" stop-color="#343434"/></linearGradient><linearGradient id="e116" x2="0" y2="1"><stop offset=".000" stop-color="#ffffff"/><stop offset=".065" stop-color="#f7f7f7"/><stop offset=".130" stop-color="#bebebe"/><stop offset=".165" stop-color="#909090"/><stop offset=".361" stop-color="#555555"/><stop offset=".396" stop-color="#3a3a3a"/><stop offset=".536" stop-color="#353535"/><stop offset="1" stop-color="#353535"/></linearGradient><linearGradient id="e117" x2="0" y2="1"><stop offset=".000" stop-color="#fbfbfb"/><stop offset=".094" stop-color="#e4e4e4"/><stop offset=".187" stop-color="#dadada"/><stop offset=".222" stop-color="#7a7a7a"/><stop offset=".354" stop-color="#595959"/><stop offset=".389" stop-color="#3d3d3d"/><stop offset=".529" stop-color="#2e2e2e"/><stop offset="1" stop-color="#353535"/></linearGradient><linearGradient id="e118" x2="0" y2="1"><stop offset=".000" stop-color="#f3f3f3"/><stop offset=".051" stop-color="#dadada"/><stop offset=".102" stop-color="#c7c7c7"/><stop offset=".137" stop-color="#8a8a8a"/><stop offset=".347" stop-color="#5f5f5f"/><stop offset=".382" stop-color="#3e3e3e"/><stop offset=".522" stop-color="#3a3a3a"/><stop offset="1" stop-color="#323232"/></linearGradient><linearGradient id="e119" x2="0" y2="1"><stop offset=".000" stop-color="#f8f8f8"/><stop offset=".050" stop-color="#adadad"/><stop offset=".080" stop-color="#434343"/><stop offset=".270" stop-color="#434343"/><stop offset=".280" stop-color="#3e3e3e"/><stop offset=".420" stop-color="#2d2d2d"/><stop offset="1" stop-color="#343434"/></linearGradient><linearGradient id="e120" x2="0" y2="1"><stop offset=".000" stop-color="#f9f9f9"/><stop offset=".048" stop-color="#adadad"/><stop offset=".078" stop-color="#434343"/><stop offset=".191" stop-color="#434343"/><stop offset=".201" stop-color="#383838"/><stop offset=".341" stop-color="#303030"/><stop offset="1" stop-color="#333333"/></linearGradient><linearGradient id="e121" x2="0" y2="1"><stop offset=".000" stop-color="#e5e5e5"/><stop offset=".067" stop-color="#adadad"/><stop offset=".097" stop-color="#434343"/><stop offset=".148" stop-color="#434343"/><stop offset=".158" stop-color="#373737"/><stop offset=".298" stop-color="#424242"/><stop offset="1" stop-color="#2e2e2e"/></linearGradient><linearGradient id="e122" x2="0" y2="1"><stop offset=".000" stop-color="#dcdcdc"/><stop offset=".067" stop-color="#adadad"/><stop offset=".097" stop-color="#434343"/><stop offset=".097" stop-color="#434343"/><stop offset=".097" stop-color="#343434"/><stop offset=".218" stop-color="#353535"/><stop offset="1" stop-color="#2c2c2c"/></linearGradient><linearGradient id="e123" x2="0" y2="1"><stop offset=".000" stop-color="#e0e0e0"/><stop offset=".074" stop-color="#adadad"/><stop offset=".104" stop-color="#434343"/><stop offset=".123" stop-color="#434343"/><stop offset=".133" stop-color="#3b3b3b"/><stop offset=".273" stop-color="#373737"/><stop offset="1" stop-color="#292929"/></linearGradient><linearGradient id="e124" x2="0" y2="1"><stop offset=".000" stop-color="#eaeaea"/><stop offset=".079" stop-color="#adadad"/><stop offset=".109" stop-color="#434343"/><stop offset=".172" stop-color="#434343"/><stop offset=".182" stop-color="#363636"/><stop offset=".322" stop-color="#2f2f2f"/><stop offset="1" stop-color="#343434"/></linearGradient><linearGradient id="e125" x2="0" y2="1"><stop offset=".000" stop-color="#e8e8e8"/><stop offset=".056" stop-color="#adadad"/><stop offset=".086" stop-color="#434343"/><stop offset=".195" stop-color="#434343"/><stop offset=".205" stop-color="#3d3d3d"/><stop offset=".345" stop-color="#343434"/><stop offset="1" stop-color="#343434"/></linearGradient><linearGradient id="e126" x2="0" y2="1"><stop offset=".000" stop-color="#d9d9d9"/><stop offset=".064" stop-color="#adadad"/><stop offset=".094" stop-color="#434343"/><stop offset=".259" stop-color="#434343"/><stop offset=".269" stop-color="#383838"/><stop offset=".409" stop-color="#343434"/><stop offset="1" stop-color="#343434"/></linearGradient><linearGradient id="e127" x2="0" y2="1"><stop offset=".000" stop-color="#dddddd"/><stop offset=".070" stop-color="#adadad"/><stop offset=".100" stop-color="#434343"/><stop offset=".305" stop-color="#434343"/><stop offset=".315" stop-color="#3d3d3d"/><stop offset=".455" stop-color="#2b2b2b"/><stop offset="1" stop-color="#343434"/></linearGradient><linearGradient id="e128" x2="0" y2="1"><stop offset=".000" stop-color="#ffffff"/><stop offset=".060" stop-color="#ffffff"/><stop offset=".120" stop-color="#c6c6c6"/><stop offset=".155" stop-color="#979797"/><stop offset=".276" stop-color="#585858"/><stop offset=".311" stop-color="#343434"/><stop offset=".451" stop-color="#2f2f2f"/><stop offset="1" stop-color="#272727"/></linearGradient><linearGradient id="e129" x2="0" y2="1"><stop offset=".000" stop-color="#ececec"/><stop offset=".113" stop-color="#dcdcdc"/><stop offset=".226" stop-color="#c7c7c7"/><stop offset=".261" stop-color="#7f7f7f"/><stop offset=".318" stop-color="#474747"/><stop offset=".353" stop-color="#3a3a3a"/><stop offset=".493" stop-color="#363636"/><stop offset="1" stop-color="#353535"/></linearGradient><linearGradient id="e130" x2="0" y2="1"><stop offset=".000" stop-color="#f5f5f5"/><stop offset=".067" stop-color="#a9a9a9"/><stop offset=".097" stop-color="#414141"/><stop offset=".345" stop-color="#4c4c4c"/><stop offset=".380" stop-color="#363636"/><stop offset=".520" stop-color="#3a3a3a"/><stop offset="1" stop-color="#363636"/></linearGradient><linearGradient id="e131" x2="0" y2="1"><stop offset=".000" stop-color="#ebebeb"/><stop offset=".071" stop-color="#dddddd"/><stop offset=".142" stop-color="#dadada"/><stop offset=".177" stop-color="#7e7e7e"/><stop offset=".395" stop-color="#5c5c5c"/><stop offset=".430" stop-color="#3e3e3e"/><stop offset=".570" stop-color="#363636"/><stop offset="1" stop-color="#2c2c2c"/></linearGradient><linearGradient id="e132" x2="0" y2="1"><stop offset=".000" stop-color="#f9f9f9"/><stop offset=".085" stop-color="#e2e2e2"/><stop offset=".169" stop-color="#cecece"/><stop offset=".204" stop-color="#7d7d7d"/><stop offset=".381" stop-color="#4d4d4d"/><stop offset=".416" stop-color="#3d3d3d"/><stop offset=".556" stop-color="#363636"/><stop offset="1" stop-color="#272727"/></linearGradient><linearGradient id="e133" x2="0" y2="1"><stop offset=".000" stop-color="#f9f9f9"/><stop offset=".137" stop-color="#e9e9e9"/><stop offset=".275" stop-color="#dbdbdb"/><stop offset=".310" stop-color="#919191"/><stop offset=".418" stop-color="#464646"/><stop offset=".453" stop-color="#3e3e3e"/><stop offset=".593" stop-color="#303030"/><stop offset="1" stop-color="#2f2f2f"/></linearGradient><linearGradient id="e134" x2="0" y2="1"><stop offset=".000" stop-color="#fafafa"/><stop offset=".113" stop-color="#e5e5e5"/><stop offset=".227" stop-color="#d7d7d7"/><stop offset=".262" stop-color="#858585"/><stop offset=".411" stop-color="#545454"/><stop offset=".446" stop-color="#353535"/><stop offset=".586" stop-color="#2e2e2e"/><stop offset="1" stop-color="#2f2f2f"/></linearGradient><linearGradient id="e135" x2="0" y2="1"><stop offset=".000" stop-color="#eeeeee"/><stop offset=".073" stop-color="#e6e6e6"/><stop offset=".145" stop-color="#bbbbbb"/><stop offset=".180" stop-color="#969696"/><stop offset=".457" stop-color="#616161"/><stop offset=".492" stop-color="#3e3e3e"/><stop offset=".632" stop-color="#2e2e2e"/><stop offset="1" stop-color="#2f2f2f"/></linearGradient><linearGradient id="e136" x2="0" y2="1"><stop offset=".000" stop-color="#dedede"/><stop offset=".064" stop-color="#a9a9a9"/><stop offset=".094" stop-color="#383838"/><stop offset=".449" stop-color="#4c4c4c"/><stop offset=".484" stop-color="#343434"/><stop offset=".624" stop-color="#2c2c2c"/><stop offset="1" stop-color="#303030"/></linearGradient><linearGradient id="e137" x2="0" y2="1"><stop offset=".000" stop-color="#d7d7d7"/><stop offset=".052" stop-color="#a9a9a9"/><stop offset=".082" stop-color="#404040"/><stop offset=".453" stop-color="#4d4d4d"/><stop offset=".488" stop-color="#353535"/><stop offset=".628" stop-color="#2e2e2e"/><stop offset="1" stop-color="#303030"/></linearGradient><linearGradient id="e138" x2="0" y2="1"><stop offset=".000" stop-color="#e1e1e1"/><stop offset=".037" stop-color="#a9a9a9"/><stop offset=".067" stop-color="#3f3f3f"/><stop offset=".494" stop-color="#404040"/><stop offset=".529" stop-color="#393939"/><stop offset=".669" stop-color="#2b2b2b"/><stop offset="1" stop-color="#2c2c2c"/></linearGradient><linearGradient id="e139" x2="0" y2="1"><stop offset=".000" stop-color="#efefef"/><stop offset=".053" stop-color="#e5e5e5"/><stop offset=".105" stop-color="#d8d8d8"/><stop offset=".140" stop-color="#949494"/><stop offset=".474" stop-color="#646464"/><stop offset=".509" stop-color="#363636"/><stop offset=".649" stop-color="#353535"/><stop offset="1" stop-color="#3f3f3f"/></linearGradient><linearGradient id="e140" x2="0" y2="1"><stop offset=".000" stop-color="#ffffff"/><stop offset=".130" stop-color="#f9f9f9"/><stop offset=".260" stop-color="#dbdbdb"/><stop offset=".295" stop-color="#797979"/><stop offset=".479" stop-color="#4a4a4a"/><stop offset=".514" stop-color="#3a3a3a"/><stop offset=".654" stop-color="#3b3b3b"/><stop offset="1" stop-color="#2d2d2d"/></linearGradient><linearGradient id="e141" x2="0" y2="1"><stop offset=".000" stop-color="#ffffff"/><stop offset=".055" stop-color="#f7f7f7"/><stop offset=".111" stop-color="#d1d1d1"/><stop offset=".146" stop-color="#939393"/><stop offset=".502" stop-color="#616161"/><stop offset=".537" stop-color="#3d3d3d"/><stop offset=".677" stop-color="#353535"/><stop offset="1" stop-color="#2a2a2a"/></linearGradient><linearGradient id="e142" x2="0" y2="1"><stop offset=".000" stop-color="#ffffff"/><stop offset=".080" stop-color="#f2f2f2"/><stop offset=".160" stop-color="#dddddd"/><stop offset=".195" stop-color="#929292"/><stop offset=".490" stop-color="#5d5d5d"/><stop offset=".525" stop-color="#3b3b3b"/><stop offset=".665" stop-color="#3a3a3a"/><stop offset="1" stop-color="#373737"/></linearGradient><linearGradient id="e143" x2="0" y2="1"><stop offset=".000" stop-color="#efefef"/><stop offset=".073" stop-color="#a9a9a9"/><stop offset=".103" stop-color="#373737"/><stop offset=".517" stop-color="#4d4d4d"/><stop offset=".552" stop-color="#3d3d3d"/><stop offset=".692" stop-color="#393939"/><stop offset="1" stop-color="#2c2c2c"/></linearGradient><linearGradient id="e144" x2="0" y2="1"><stop offset=".000" stop-color="#f8f8f8"/><stop offset=".108" stop-color="#e0e0e0"/><stop offset=".217" stop-color="#cecece"/><stop offset=".252" stop-color="#757575"/><stop offset=".512" stop-color="#535353"/><stop offset=".547" stop-color="#333333"/><stop offset=".687" stop-color="#2b2b2b"/><stop offset="1" stop-color="#303030"/></linearGradient><linearGradient id="e145" x2="0" y2="1"><stop offset=".000" stop-color="#ffffff"/><stop offset=".100" stop-color="#fbfbfb"/><stop offset=".200" stop-color="#d7d7d7"/><stop offset=".235" stop-color="#828282"/><stop offset=".518" stop-color="#515151"/><stop offset=".553" stop-color="#3a3a3a"/><stop offset=".693" stop-color="#323232"/><stop offset="1" stop-color="#2c2c2c"/></linearGradient><linearGradient id="e146" x2="0" y2="1"><stop offset=".000" stop-color="#ffffff"/><stop offset=".137" stop-color="#f9f9f9"/><stop offset=".274" stop-color="#bebebe"/><stop offset=".309" stop-color="#7d7d7d"/><stop offset=".511" stop-color="#656565"/><stop offset=".546" stop-color="#363636"/><stop offset=".686" stop-color="#2c2c2c"/><stop offset="1" stop-color="#343434"/></linearGradient><linearGradient id="e147" x2="0" y2="1"><stop offset=".000" stop-color="#eaeaea"/><stop offset=".085" stop-color="#d5d5d5"/><stop offset=".171" stop-color="#d6d6d6"/><stop offset=".206" stop-color="#7d7d7d"/><stop offset=".483" stop-color="#5c5c5c"/><stop offset=".518" stop-color="#3a3a3a"/><stop offset=".658" stop-color="#313131"/><stop offset="1" stop-color="#2b2b2b"/></linearGradient><linearGradient id="e148" x2="0" y2="1"><stop offset=".000" stop-color="#ffffff"/><stop offset=".120" stop-color="#f7f7f7"/><stop offset=".240" stop-color="#c5c5c5"/><stop offset=".275" stop-color="#868686"/><stop offset=".503" stop-color="#484848"/><stop offset=".538" stop-color="#353535"/><stop offset=".678" stop-color="#313131"/><stop offset="1" stop-color="#323232"/></linearGradient><linearGradient id="e149" x2="0" y2="1"><stop offset=".000" stop-color="#e1e1e1"/><stop offset=".061" stop-color="#a9a9a9"/><stop offset=".091" stop-color="#3b3b3b"/><stop offset=".483" stop-color="#424242"/><stop offset=".518" stop-color="#373737"/><stop offset=".658" stop-color="#3d3d3d"/><stop offset="1" stop-color="#2a2a2a"/></linearGradient><linearGradient id="e150" x2="0" y2="1"><stop offset=".000" stop-color="#f3f3f3"/><stop offset=".066" stop-color="#a9a9a9"/><stop offset=".096" stop-color="#4a4a4a"/><stop offset=".499" stop-color="#444444"/><stop offset=".534" stop-color="#3c3c3c"/><stop offset=".674" stop-color="#393939"/><stop offset="1" stop-color="#313131"/></linearGradient><linearGradient id="e151" x2="0" y2="1"><stop offset=".000" stop-color="#ececec"/><stop offset=".076" stop-color="#a9a9a9"/><stop offset=".106" stop-color="#444444"/><stop offset=".472" stop-color="#4c4c4c"/><stop offset=".507" stop-color="#3f3f3f"/><stop offset=".647" stop-color="#2c2c2c"/><stop offset="1" stop-color="#303030"/></linearGradient><linearGradient id="e152" x2="0" y2="1"><stop offset=".000" stop-color="#ffffff"/><stop offset=".117" stop-color="#ededed"/><stop offset=".233" stop-color="#cccccc"/><stop offset=".268" stop-color="#8b8b8b"/><stop offset=".485" stop-color="#616161"/><stop offset=".520" stop-color="#3c3c3c"/><stop offset=".660" stop-color="#353535"/><stop offset="1" stop-color="#323232"/></linearGradient><linearGradient id="e153" x2="0" y2="1"><stop offset=".000" stop-color="#fdfdfd"/><stop offset=".140" stop-color="#f3f3f3"/><stop offset=".281" stop-color="#cfcfcf"/><stop offset=".316" stop-color="#828282"/><stop offset=".490" stop-color="#606060"/><stop offset=".525" stop-color="#3a3a3a"/><stop offset=".665" stop-color="#2e2e2e"/><stop offset="1" stop-color="#2b2b2b"/></linearGradient><linearGradient id="e154" x2="0" y2="1"><stop offset=".000" stop-color="#ececec"/><stop offset=".025" stop-color="#a9a9a9"/><stop offset=".055" stop-color="#414141"/><stop offset=".461" stop-color="#4f4f4f"/><stop offset=".496" stop-color="#363636"/><stop offset=".636" stop-color="#373737"/><stop offset="1" stop-color="#2e2e2e"/></linearGradient><linearGradient id="e155" x2="0" y2="1"><stop offset=".000" stop-color="#dbdbdb"/><stop offset=".055" stop-color="#a9a9a9"/><stop offset=".085" stop-color="#3e3e3e"/><stop offset=".496" stop-color="#3e3e3e"/><stop offset=".531" stop-color="#373737"/><stop offset=".671" stop-color="#393939"/><stop offset="1" stop-color="#2e2e2e"/></linearGradient><linearGradient id="e156" x2="0" y2="1"><stop offset=".000" stop-color="#e9e9e9"/><stop offset=".075" stop-color="#a9a9a9"/><stop offset=".105" stop-color="#4b4b4b"/><stop offset=".446" stop-color="#424242"/><stop offset=".481" stop-color="#373737"/><stop offset=".621" stop-color="#373737"/><stop offset="1" stop-color="#282828"/></linearGradient><linearGradient id="e157" x2="0" y2="1"><stop offset=".000" stop-color="#f2f2f2"/><stop offset=".089" stop-color="#e0e0e0"/><stop offset=".178" stop-color="#cbcbcb"/><stop offset=".213" stop-color="#7b7b7b"/><stop offset=".484" stop-color="#515151"/><stop offset=".519" stop-color="#363636"/><stop offset=".659" stop-color="#313131"/><stop offset="1" stop-color="#3f3f3f"/></linearGradient><linearGradient id="e158" x2="0" y2="1"><stop offset=".000" stop-color="#ffffff"/><stop offset=".140" stop-color="#fdfdfd"/><stop offset=".280" stop-color="#dadada"/><stop offset=".315" stop-color="#787878"/><stop offset=".468" stop-color="#616161"/><stop offset=".503" stop-color="#373737"/><stop offset=".643" stop-color="#303030"/><stop offset="1" stop-color="#363636"/></linearGradient><linearGradient id="e159" x2="0" y2="1"><stop offset=".000" stop-color="#f3f3f3"/><stop offset=".118" stop-color="#dddddd"/><stop offset=".235" stop-color="#cacaca"/><stop offset=".270" stop-color="#919191"/><stop offset=".469" stop-color="#686868"/><stop offset=".504" stop-color="#3a3a3a"/><stop offset=".644" stop-color="#343434"/><stop offset="1" stop-color="#292929"/></linearGradient><linearGradient id="e160" x2="0" y2="1"><stop offset=".000" stop-color="#eaeaea"/><stop offset=".083" stop-color="#d6d6d6"/><stop offset=".165" stop-color="#dbdbdb"/><stop offset=".200" stop-color="#919191"/><stop offset=".462" stop-color="#4e4e4e"/><stop offset=".497" stop-color="#373737"/><stop offset=".637" stop-color="#313131"/><stop offset="1" stop-color="#2b2b2b"/></linearGradient><linearGradient id="e161" x2="0" y2="1"><stop offset=".000" stop-color="#f4f4f4"/><stop offset=".023" stop-color="#a9a9a9"/><stop offset=".053" stop-color="#474747"/><stop offset=".437" stop-color="#4d4d4d"/><stop offset=".472" stop-color="#3c3c3c"/><stop offset=".612" stop-color="#2b2b2b"/><stop offset="1" stop-color="#333333"/></linearGradient><linearGradient id="e162" x2="0" y2="1"><stop offset=".000" stop-color="#f4f4f4"/><stop offset=".067" stop-color="#e1e1e1"/><stop offset=".133" stop-color="#d3d3d3"/><stop offset=".168" stop-color="#8a8a8a"/><stop offset=".460" stop-color="#4b4b4b"/><stop offset=".495" stop-color="#363636"/><stop offset=".635" stop-color="#3d3d3d"/><stop offset="1" stop-color="#303030"/></linearGradient><linearGradient id="e163" x2="0" y2="1"><stop offset=".000" stop-color="#ebebeb"/><stop offset=".120" stop-color="#dfdfdf"/><stop offset=".240" stop-color="#d9d9d9"/><stop offset=".275" stop-color="#848484"/><stop offset=".430" stop-color="#676767"/><stop offset=".465" stop-color="#3d3d3d"/><stop offset=".605" stop-color="#303030"/><stop offset="1" stop-color="#282828"/></linearGradient><linearGradient id="e164" x2="0" y2="1"><stop offset=".000" stop-color="#fbfbfb"/><stop offset=".103" stop-color="#f3f3f3"/><stop offset=".206" stop-color="#dadada"/><stop offset=".241" stop-color="#7c7c7c"/><stop offset=".458" stop-color="#454545"/><stop offset=".493" stop-color="#343434"/><stop offset=".633" stop-color="#3a3a3a"/><stop offset="1" stop-color="#373737"/></linearGradient><linearGradient id="e165" x2="0" y2="1"><stop offset=".000" stop-color="#f8f8f8"/><stop offset=".069" stop-color="#e5e5e5"/><stop offset=".138" stop-color="#c7c7c7"/><stop offset=".173" stop-color="#787878"/><stop offset=".428" stop-color="#444444"/><stop offset=".463" stop-color="#343434"/><stop offset=".603" stop-color="#3a3a3a"/><stop offset="1" stop-color="#2f2f2f"/></linearGradient><linearGradient id="e166" x2="0" y2="1"><stop offset=".000" stop-color="#ffffff"/><stop offset=".135" stop-color="#ececec"/><stop offset=".271" stop-color="#dedede"/><stop offset=".306" stop-color="#8e8e8e"/><stop offset=".452" stop-color="#4e4e4e"/><stop offset=".487" stop-color="#353535"/><stop offset=".627" stop-color="#2f2f2f"/><stop offset="1" stop-color="#292929"/></linearGradient><linearGradient id="e167" x2="0" y2="1"><stop offset=".000" stop-color="#f9f9f9"/><stop offset=".123" stop-color="#f0f0f0"/><stop offset=".247" stop-color="#dedede"/><stop offset=".282" stop-color="#858585"/><stop offset=".473" stop-color="#5a5a5a"/><stop offset=".508" stop-color="#3b3b3b"/><stop offset=".648" stop-color="#3a3a3a"/><stop offset="1" stop-color="#333333"/></linearGradient><linearGradient id="e168" x2="0" y2="1"><stop offset=".000" stop-color="#ffffff"/><stop offset=".061" stop-color="#fcfcfc"/><stop offset=".122" stop-color="#c8c8c8"/><stop offset=".157" stop-color="#8b8b8b"/><stop offset=".469" stop-color="#616161"/><stop offset=".504" stop-color="#343434"/><stop offset=".644" stop-color="#353535"/><stop offset="1" stop-color="#303030"/></linearGradient><linearGradient id="e169" x2="0" y2="1"><stop offset=".000" stop-color="#dfdfdf"/><stop offset=".077" stop-color="#a9a9a9"/><stop offset=".107" stop-color="#424242"/><stop offset=".464" stop-color="#434343"/><stop offset=".499" stop-color="#393939"/><stop offset=".639" stop-color="#343434"/><stop offset="1" stop-color="#333333"/></linearGradient><linearGradient id="e170" x2="0" y2="1"><stop offset=".000" stop-color="#e4e4e4"/><stop offset=".048" stop-color="#a9a9a9"/><stop offset=".078" stop-color="#383838"/><stop offset=".456" stop-color="#4f4f4f"/><stop offset=".491" stop-color="#3e3e3e"/><stop offset=".631" stop-color="#2c2c2c"/><stop offset="1" stop-color="#444444"/></linearGradient><linearGradient id="e171" x2="0" y2="1"><stop offset=".000" stop-color="#f7f7f7"/><stop offset=".046" stop-color="#a9a9a9"/><stop offset=".076" stop-color="#474747"/><stop offset=".476" stop-color="#474747"/><stop offset=".511" stop-color="#3e3e3e"/><stop offset=".651" stop-color="#343434"/><stop offset="1" stop-color="#363636"/></linearGradient><linearGradient id="e172" x2="0" y2="1"><stop offset=".000" stop-color="#eaeaea"/><stop offset=".143" stop-color="#e0e0e0"/><stop offset=".286" stop-color="#dbdbdb"/><stop offset=".321" stop-color="#7b7b7b"/><stop offset=".455" stop-color="#434343"/><stop offset=".490" stop-color="#3c3c3c"/><stop offset=".630" stop-color="#343434"/><stop offset="1" stop-color="#353535"/></linearGradient><linearGradient id="e173" x2="0" y2="1"><stop offset=".000" stop-color="#ffffff"/><stop offset=".119" stop-color="#ebebeb"/><stop offset=".237" stop-color="#c4c4c4"/><stop offset=".272" stop-color="#888888"/><stop offset=".441" stop-color="#5b5b5b"/><stop offset=".476" stop-color="#3d3d3d"/><stop offset=".616" stop-color="#2e2e2e"/><stop offset="1" stop-color="#2c2c2c"/></linearGradient><linearGradient id="e174" x2="0" y2="1"><stop offset=".000" stop-color="#eaeaea"/><stop offset=".046" stop-color="#a9a9a9"/><stop offset=".076" stop-color="#414141"/><stop offset=".469" stop-color="#414141"/><stop offset=".504" stop-color="#343434"/><stop offset=".644" stop-color="#3b3b3b"/><stop offset="1" stop-color="#2c2c2c"/></linearGradient><linearGradient id="e175" x2="0" y2="1"><stop offset=".000" stop-color="#efefef"/><stop offset=".042" stop-color="#a9a9a9"/><stop offset=".072" stop-color="#424242"/><stop offset=".461" stop-color="#3f3f3f"/><stop offset=".496" stop-color="#383838"/><stop offset=".636" stop-color="#313131"/><stop offset="1" stop-color="#373737"/></linearGradient><linearGradient id="e176" x2="0" y2="1"><stop offset=".000" stop-color="#dadada"/><stop offset=".025" stop-color="#a9a9a9"/><stop offset=".055" stop-color="#444444"/><stop offset=".455" stop-color="#3f3f3f"/><stop offset=".490" stop-color="#353535"/><stop offset=".630" stop-color="#393939"/><stop offset="1" stop-color="#373737"/></linearGradient><linearGradient id="e177" x2="0" y2="1"><stop offset=".000" stop-color="#f9f9f9"/><stop offset=".056" stop-color="#e4e4e4"/><stop offset=".112" stop-color="#bebebe"/><stop offset=".147" stop-color="#727272"/><stop offset=".479" stop-color="#555555"/><stop offset=".514" stop-color="#3e3e3e"/><stop offset=".654" stop-color="#363636"/><stop offset="1" stop-color="#2b2b2b"/></linearGradient><linearGradient id="e178" x2="0" y2="1"><stop offset=".000" stop-color="#ffffff"/><stop offset=".125" stop-color="#f7f7f7"/><stop offset=".249" stop-color="#cccccc"/><stop offset=".284" stop-color="#8c8c8c"/><stop offset=".484" stop-color="#5a5a5a"/><stop offset=".519" stop-color="#3e3e3e"/><stop offset=".659" stop-color="#353535"/><stop offset="1" stop-color="#2d2d2d"/></linearGradient><linearGradient id="e179" x2="0" y2="1"><stop offset=".000" stop-color="#fefefe"/><stop offset=".059" stop-color="#f0f0f0"/><stop offset=".118" stop-color="#c0c0c0"/><stop offset=".153" stop-color="#8e8e8e"/><stop offset=".460" stop-color="#505050"/><stop offset=".495" stop-color="#373737"/><stop offset=".635" stop-color="#2f2f2f"/><stop offset="1" stop-color="#272727"/></linearGradient><linearGradient id="e180" x2="0" y2="1"><stop offset=".000" stop-color="#dcdcdc"/><stop offset=".052" stop-color="#a9a9a9"/><stop offset=".082" stop-color="#3b3b3b"/><stop offset=".452" stop-color="#3d3d3d"/><stop offset=".487" stop-color="#333333"/><stop offset=".627" stop-color="#303030"/><stop offset="1" stop-color="#343434"/></linearGradient><linearGradient id="e181" x2="0" y2="1"><stop offset=".000" stop-color="#d7d7d7"/><stop offset=".023" stop-color="#a9a9a9"/><stop offset=".053" stop-color="#454545"/><stop offset=".460" stop-color="#4b4b4b"/><stop offset=".495" stop-color="#3b3b3b"/><stop offset=".635" stop-color="#414141"/><stop offset="1" stop-color="#2e2e2e"/></linearGradient><linearGradient id="e182" x2="0" y2="1"><stop offset=".000" stop-color="#ededed"/><stop offset=".045" stop-color="#a9a9a9"/><stop offset=".075" stop-color="#3f3f3f"/><stop offset=".477" stop-color="#3c3c3c"/><stop offset=".512" stop-color="#393939"/><stop offset=".652" stop-color="#2b2b2b"/><stop offset="1" stop-color="#282828"/></linearGradient><linearGradient id="e183" x2="0" y2="1"><stop offset=".000" stop-color="#ffffff"/><stop offset=".071" stop-color="#ffffff"/><stop offset=".142" stop-color="#bebebe"/><stop offset=".177" stop-color="#878787"/><stop offset=".467" stop-color="#666666"/><stop offset=".502" stop-color="#3a3a3a"/><stop offset=".642" stop-color="#2e2e2e"/><stop offset="1" stop-color="#2a2a2a"/></linearGradient><linearGradient id="e184" x2="0" y2="1"><stop offset=".000" stop-color="#ffffff"/><stop offset=".143" stop-color="#f4f4f4"/><stop offset=".286" stop-color="#cccccc"/><stop offset=".321" stop-color="#7a7a7a"/><stop offset=".440" stop-color="#656565"/><stop offset=".475" stop-color="#3e3e3e"/><stop offset=".615" stop-color="#3a3a3a"/><stop offset="1" stop-color="#282828"/></linearGradient><linearGradient id="e185" x2="0" y2="1"><stop offset=".000" stop-color="#f8f8f8"/><stop offset=".065" stop-color="#e9e9e9"/><stop offset=".130" stop-color="#d8d8d8"/><stop offset=".165" stop-color="#878787"/><stop offset=".451" stop-color="#5e5e5e"/><stop offset=".486" stop-color="#3c3c3c"/><stop offset=".626" stop-color="#323232"/><stop offset="1" stop-color="#2c2c2c"/></linearGradient><linearGradient id="e186" x2="0" y2="1"><stop offset=".000" stop-color="#f1f1f1"/><stop offset=".043" stop-color="#a9a9a9"/><stop offset=".073" stop-color="#494949"/><stop offset=".460" stop-color="#494949"/><stop offset=".495" stop-color="#3c3c3c"/><stop offset=".635" stop-color="#323232"/><stop offset="1" stop-color="#333333"/></linearGradient><linearGradient id="e187" x2="0" y2="1"><stop offset=".000" stop-color="#e4e4e4"/><stop offset=".049" stop-color="#a9a9a9"/><stop offset=".079" stop-color="#393939"/><stop offset=".440" stop-color="#414141"/><stop offset=".475" stop-color="#363636"/><stop offset=".615" stop-color="#383838"/><stop offset="1" stop-color="#353535"/></linearGradient><linearGradient id="e188" x2="0" y2="1"><stop offset=".000" stop-color="#f4f4f4"/><stop offset=".048" stop-color="#a9a9a9"/><stop offset=".078" stop-color="#3a3a3a"/><stop offset=".469" stop-color="#424242"/><stop offset=".504" stop-color="#383838"/><stop offset=".644" stop-color="#3c3c3c"/><stop offset="1" stop-color="#2e2e2e"/></linearGradient><linearGradient id="e189" x2="0" y2="1"><stop offset=".000" stop-color="#ffffff"/><stop offset=".062" stop-color="#ffffff"/><stop offset=".125" stop-color="#c6c6c6"/><stop offset=".160" stop-color="#959595"/><stop offset=".423" stop-color="#535353"/><stop offset=".458" stop-color="#3a3a3a"/><stop offset=".598" stop-color="#363636"/><stop offset="1" stop-color="#2e2e2e"/></linearGradient><linearGradient id="e190" x2="0" y2="1"><stop offset=".000" stop-color="#ebebeb"/><stop offset=".084" stop-color="#d4d4d4"/><stop offset=".168" stop-color="#d4d4d4"/><stop offset=".203" stop-color="#8a8a8a"/><stop offset=".464" stop-color="#525252"/><stop offset=".499" stop-color="#363636"/><stop offset=".639" stop-color="#383838"/><stop offset="1" stop-color="#2c2c2c"/></linearGradient><linearGradient id="e191" x2="0" y2="1"><stop offset=".000" stop-color="#f3f3f3"/><stop offset=".129" stop-color="#ebebeb"/><stop offset=".259" stop-color="#c7c7c7"/><stop offset=".294" stop-color="#989898"/><stop offset=".442" stop-color="#444444"/><stop offset=".477" stop-color="#343434"/><stop offset=".617" stop-color="#2e2e2e"/><stop offset="1" stop-color="#363636"/></linearGradient><linearGradient id="e192" x2="0" y2="1"><stop offset=".000" stop-color="#f6f6f6"/><stop offset=".079" stop-color="#a9a9a9"/><stop offset=".109" stop-color="#3f3f3f"/><stop offset=".416" stop-color="#3f3f3f"/><stop offset=".451" stop-color="#363636"/><stop offset=".591" stop-color="#393939"/><stop offset="1" stop-color="#313131"/></linearGradient><linearGradient id="e193" x2="0" y2="1"><stop offset=".000" stop-color="#dadada"/><stop offset=".055" stop-color="#a9a9a9"/><stop offset=".085" stop-color="#3d3d3d"/><stop offset=".434" stop-color="#414141"/><stop offset=".469" stop-color="#343434"/><stop offset=".609" stop-color="#353535"/><stop offset="1" stop-color="#2d2d2d"/></linearGradient><linearGradient id="e194" x2="0" y2="1"><stop offset=".000" stop-color="#f5f5f5"/><stop offset=".065" stop-color="#a9a9a9"/><stop offset=".095" stop-color="#393939"/><stop offset=".419" stop-color="#474747"/><stop offset=".454" stop-color="#373737"/><stop offset=".594" stop-color="#313131"/><stop offset="1" stop-color="#323232"/></linearGradient><linearGradient id="e195" x2="0" y2="1"><stop offset=".000" stop-color="#f8f8f8"/><stop offset=".108" stop-color="#e0e0e0"/><stop offset=".215" stop-color="#d9d9d9"/><stop offset=".250" stop-color="#969696"/><stop offset=".419" stop-color="#505050"/><stop offset=".454" stop-color="#393939"/><stop offset=".594" stop-color="#2e2e2e"/><stop offset="1" stop-color="#292929"/></linearGradient><linearGradient id="e196" x2="0" y2="1"><stop offset=".000" stop-color="#ffffff"/><stop offset=".117" stop-color="#f1f1f1"/><stop offset=".234" stop-color="#cecece"/><stop offset=".269" stop-color="#8b8b8b"/><stop offset=".402" stop-color="#515151"/><stop offset=".437" stop-color="#3f3f3f"/><stop offset=".577" stop-color="#3a3a3a"/><stop offset="1" stop-color="#323232"/></linearGradient><linearGradient id="e197" x2="0" y2="1"><stop offset=".000" stop-color="#ffffff"/><stop offset=".083" stop-color="#ffffff"/><stop offset=".165" stop-color="#d3d3d3"/><stop offset=".200" stop-color="#7c7c7c"/><stop offset=".422" stop-color="#585858"/><stop offset=".457" stop-color="#393939"/><stop offset=".597" stop-color="#353535"/><stop offset="1" stop-color="#282828"/></linearGradient><linearGradient id="e198" x2="0" y2="1"><stop offset=".000" stop-color="#e9e9e9"/><stop offset=".053" stop-color="#a9a9a9"/><stop offset=".083" stop-color="#3f3f3f"/><stop offset=".418" stop-color="#4b4b4b"/><stop offset=".453" stop-color="#353535"/><stop offset=".593" stop-color="#2f2f2f"/><stop offset="1" stop-color="#2a2a2a"/></linearGradient><linearGradient id="e199" x2="0" y2="1"><stop offset=".000" stop-color="#f6f6f6"/><stop offset=".050" stop-color="#a9a9a9"/><stop offset=".080" stop-color="#424242"/><stop offset=".371" stop-color="#414141"/><stop offset=".406" stop-color="#373737"/><stop offset=".546" stop-color="#434343"/><stop offset="1" stop-color="#373737"/></linearGradient><linearGradient id="e200" x2="0" y2="1"><stop offset=".000" stop-color="#eaeaea"/><stop offset=".069" stop-color="#adadad"/><stop offset=".099" stop-color="#434343"/><stop offset=".312" stop-color="#434343"/><stop offset=".322" stop-color="#353535"/><stop offset=".462" stop-color="#303030"/><stop offset="1" stop-color="#2f2f2f"/></linearGradient><linearGradient id="e201" x2="0" y2="1"><stop offset=".000" stop-color="#dbdbdb"/><stop offset=".079" stop-color="#adadad"/><stop offset=".109" stop-color="#434343"/><stop offset=".258" stop-color="#434343"/><stop offset=".268" stop-color="#3a3a3a"/><stop offset=".408" stop-color="#393939"/><stop offset="1" stop-color="#2f2f2f"/></linearGradient><linearGradient id="e202" x2="0" y2="1"><stop offset=".000" stop-color="#f2f2f2"/><stop offset=".052" stop-color="#adadad"/><stop offset=".082" stop-color="#434343"/><stop offset=".196" stop-color="#434343"/><stop offset=".206" stop-color="#393939"/><stop offset=".346" stop-color="#393939"/><stop offset="1" stop-color="#3d3d3d"/></linearGradient><linearGradient id="e203" x2="0" y2="1"><stop offset=".000" stop-color="#e2e2e2"/><stop offset=".040" stop-color="#adadad"/><stop offset=".070" stop-color="#434343"/><stop offset=".222" stop-color="#434343"/><stop offset=".232" stop-color="#353535"/><stop offset=".372" stop-color="#3b3b3b"/><stop offset="1" stop-color="#272727"/></linearGradient><linearGradient id="e204" x2="0" y2="1"><stop offset=".000" stop-color="#e7e7e7"/><stop offset=".062" stop-color="#adadad"/><stop offset=".092" stop-color="#434343"/><stop offset=".231" stop-color="#434343"/><stop offset=".241" stop-color="#373737"/><stop offset=".381" stop-color="#343434"/><stop offset="1" stop-color="#272727"/></linearGradient><linearGradient id="e205" x2="0" y2="1"><stop offset=".000" stop-color="#eaeaea"/><stop offset=".042" stop-color="#adadad"/><stop offset=".072" stop-color="#434343"/><stop offset=".285" stop-color="#434343"/><stop offset=".295" stop-color="#373737"/><stop offset=".435" stop-color="#474747"/><stop offset="1" stop-color="#333333"/></linearGradient><linearGradient id="e206" x2="0" y2="1"><stop offset=".000" stop-color="#dbdbdb"/><stop offset=".042" stop-color="#adadad"/><stop offset=".072" stop-color="#434343"/><stop offset=".315" stop-color="#434343"/><stop offset=".325" stop-color="#3f3f3f"/><stop offset=".465" stop-color="#3b3b3b"/><stop offset="1" stop-color="#323232"/></linearGradient><linearGradient id="e207" x2="0" y2="1"><stop offset=".000" stop-color="#ffffff"/><stop offset=".089" stop-color="#f1f1f1"/><stop offset=".179" stop-color="#c4c4c4"/><stop offset=".214" stop-color="#888888"/><stop offset=".315" stop-color="#484848"/><stop offset=".350" stop-color="#363636"/><stop offset=".490" stop-color="#383838"/><stop offset="1" stop-color="#333333"/></linearGradient><linearGradient id="e208" x2="0" y2="1"><stop offset=".000" stop-color="#ebebeb"/><stop offset=".079" stop-color="#d7d7d7"/><stop offset=".157" stop-color="#cacaca"/><stop offset=".192" stop-color="#717171"/><stop offset=".396" stop-color="#575757"/><stop offset=".431" stop-color="#353535"/><stop offset=".571" stop-color="#393939"/><stop offset="1" stop-color="#2c2c2c"/></linearGradient><linearGradient id="e209" x2="0" y2="1"><stop offset=".000" stop-color="#ffffff"/><stop offset=".086" stop-color="#f3f3f3"/><stop offset=".173" stop-color="#cecece"/><stop offset=".208" stop-color="#858585"/><stop offset=".372" stop-color="#5e5e5e"/><stop offset=".407" stop-color="#373737"/><stop offset=".547" stop-color="#313131"/><stop offset="1" stop-color="#303030"/></linearGradient><linearGradient id="e210" x2="0" y2="1"><stop offset=".000" stop-color="#ffffff"/><stop offset=".108" stop-color="#fefefe"/><stop offset=".216" stop-color="#d0d0d0"/><stop offset=".251" stop-color="#929292"/><stop offset=".383" stop-color="#4d4d4d"/><stop offset=".418" stop-color="#353535"/><stop offset=".558" stop-color="#333333"/><stop offset="1" stop-color="#292929"/></linearGradient><linearGradient id="e211" x2="0" y2="1"><stop offset=".000" stop-color="#f2f2f2"/><stop offset=".081" stop-color="#e9e9e9"/><stop offset=".162" stop-color="#c4c4c4"/><stop offset=".197" stop-color="#7d7d7d"/><stop offset=".396" stop-color="#5a5a5a"/><stop offset=".431" stop-color="#333333"/><stop offset=".571" stop-color="#2c2c2c"/><stop offset="1" stop-color="#292929"/></linearGradient><linearGradient id="e212" x2="0" y2="1"><stop offset=".000" stop-color="#ffffff"/><stop offset=".142" stop-color="#f5f5f5"/><stop offset=".284" stop-color="#c7c7c7"/><stop offset=".319" stop-color="#7c7c7c"/><stop offset=".436" stop-color="#676767"/><stop offset=".471" stop-color="#383838"/><stop offset=".611" stop-color="#373737"/><stop offset="1" stop-color="#373737"/></linearGradient><linearGradient id="e213" x2="0" y2="1"><stop offset=".000" stop-color="#efefef"/><stop offset=".060" stop-color="#d5d5d5"/><stop offset=".120" stop-color="#d4d4d4"/><stop offset=".155" stop-color="#8e8e8e"/><stop offset=".422" stop-color="#5c5c5c"/><stop offset=".457" stop-color="#3e3e3e"/><stop offset=".597" stop-color="#363636"/><stop offset="1" stop-color="#2c2c2c"/></linearGradient><linearGradient id="e214" x2="0" y2="1"><stop offset=".000" stop-color="#e9e9e9"/><stop offset=".042" stop-color="#a9a9a9"/><stop offset=".072" stop-color="#404040"/><stop offset=".430" stop-color="#424242"/><stop offset=".465" stop-color="#3c3c3c"/><stop offset=".605" stop-color="#303030"/><stop offset="1" stop-color="#333333"/></linearGradient><linearGradient id="e215" x2="0" y2="1"><stop offset=".000" stop-color="#e9e9e9"/><stop offset=".021" stop-color="#a9a9a9"/><stop offset=".051" stop-color="#434343"/><stop offset=".421" stop-color="#3b3b3b"/><stop offset=".456" stop-color="#3c3c3c"/><stop offset=".596" stop-color="#2e2e2e"/><stop offset="1" stop-color="#303030"/></linearGradient><linearGradient id="e216" x2="0" y2="1"><stop offset=".000" stop-color="#f0f0f0"/><stop offset=".027" stop-color="#a9a9a9"/><stop offset=".057" stop-color="#3c3c3c"/><stop offset=".447" stop-color="#464646"/><stop offset=".482" stop-color="#3e3e3e"/><stop offset=".622" stop-color="#323232"/><stop offset="1" stop-color="#2c2c2c"/></linearGradient><linearGradient id="e217" x2="0" y2="1"><stop offset=".000" stop-color="#ffffff"/><stop offset=".051" stop-color="#ececec"/><stop offset=".102" stop-color="#c8c8c8"/><stop offset=".137" stop-color="#868686"/><stop offset=".406" stop-color="#484848"/><stop offset=".441" stop-color="#363636"/><stop offset=".581" stop-color="#2f2f2f"/><stop offset="1" stop-color="#282828"/></linearGradient><linearGradient id="e218" x2="0" y2="1"><stop offset=".000" stop-color="#ffffff"/><stop offset=".105" stop-color="#ededed"/><stop offset=".209" stop-color="#c4c4c4"/><stop offset=".244" stop-color="#838383"/><stop offset=".416" stop-color="#4a4a4a"/><stop offset=".451" stop-color="#3d3d3d"/><stop offset=".591" stop-color="#3e3e3e"/><stop offset="1" stop-color="#2c2c2c"/></linearGradient><linearGradient id="e219" x2="0" y2="1"><stop offset=".000" stop-color="#f0f0f0"/><stop offset=".066" stop-color="#dddddd"/><stop offset=".132" stop-color="#c1c1c1"/><stop offset=".167" stop-color="#818181"/><stop offset=".429" stop-color="#454545"/><stop offset=".464" stop-color="#353535"/><stop offset=".604" stop-color="#343434"/><stop offset="1" stop-color="#2d2d2d"/></linearGradient><linearGradient id="e220" x2="0" y2="1"><stop offset=".000" stop-color="#ffffff"/><stop offset=".070" stop-color="#e6e6e6"/><stop offset=".141" stop-color="#bcbcbc"/><stop offset=".176" stop-color="#797979"/><stop offset=".449" stop-color="#585858"/><stop offset=".484" stop-color="#373737"/><stop offset=".624" stop-color="#2d2d2d"/><stop offset="1" stop-color="#434343"/></linearGradient><linearGradient id="e221" x2="0" y2="1"><stop offset=".000" stop-color="#f8f8f8"/><stop offset=".062" stop-color="#dfdfdf"/><stop offset=".124" stop-color="#d7d7d7"/><stop offset=".159" stop-color="#8f8f8f"/><stop offset=".420" stop-color="#656565"/><stop offset=".455" stop-color="#393939"/><stop offset=".595" stop-color="#343434"/><stop offset="1" stop-color="#2b2b2b"/></linearGradient><linearGradient id="e222" x2="0" y2="1"><stop offset=".000" stop-color="#ffffff"/><stop offset=".096" stop-color="#fafafa"/><stop offset=".192" stop-color="#d4d4d4"/><stop offset=".227" stop-color="#727272"/><stop offset=".411" stop-color="#636363"/><stop offset=".446" stop-color="#343434"/><stop offset=".586" stop-color="#323232"/><stop offset="1" stop-color="#2b2b2b"/></linearGradient><linearGradient id="e223" x2="0" y2="1"><stop offset=".000" stop-color="#f3f3f3"/><stop offset=".062" stop-color="#a9a9a9"/><stop offset=".092" stop-color="#4a4a4a"/><stop offset=".415" stop-color="#3f3f3f"/><stop offset=".450" stop-color="#3e3e3e"/><stop offset=".590" stop-color="#2d2d2d"/><stop offset="1" stop-color="#363636"/></linearGradient><linearGradient id="e224" x2="0" y2="1"><stop offset=".000" stop-color="#ffffff"/><stop offset=".134" stop-color="#fafafa"/><stop offset=".268" stop-color="#cacaca"/><stop offset=".303" stop-color="#898989"/><stop offset=".411" stop-color="#636363"/><stop offset=".446" stop-color="#373737"/><stop offset=".586" stop-color="#353535"/><stop offset="1" stop-color="#2a2a2a"/></linearGradient><linearGradient id="e225" x2="0" y2="1"><stop offset=".000" stop-color="#f7f7f7"/><stop offset=".100" stop-color="#e6e6e6"/><stop offset=".200" stop-color="#c9c9c9"/><stop offset=".235" stop-color="#959595"/><stop offset=".453" stop-color="#545454"/><stop offset=".488" stop-color="#383838"/><stop offset=".628" stop-color="#2e2e2e"/><stop offset="1" stop-color="#2b2b2b"/></linearGradient><linearGradient id="e226" x2="0" y2="1"><stop offset=".000" stop-color="#f5f5f5"/><stop offset=".082" stop-color="#e1e1e1"/><stop offset=".164" stop-color="#dbdbdb"/><stop offset=".199" stop-color="#767676"/><stop offset=".415" stop-color="#585858"/><stop offset=".450" stop-color="#393939"/><stop offset=".590" stop-color="#373737"/><stop offset="1" stop-color="#2f2f2f"/></linearGradient><linearGradient id="e227" x2="0" y2="1"><stop offset=".000" stop-color="#f5f5f5"/><stop offset=".093" stop-color="#e6e6e6"/><stop offset=".186" stop-color="#d9d9d9"/><stop offset=".221" stop-color="#8b8b8b"/><stop offset=".413" stop-color="#484848"/><stop offset=".448" stop-color="#363636"/><stop offset=".588" stop-color="#3a3a3a"/><stop offset="1" stop-color="#363636"/></linearGradient><linearGradient id="e228" x2="0" y2="1"><stop offset=".000" stop-color="#fafafa"/><stop offset=".085" stop-color="#f3f3f3"/><stop offset=".169" stop-color="#dadada"/><stop offset=".204" stop-color="#7a7a7a"/><stop offset=".411" stop-color="#4a4a4a"/><stop offset=".446" stop-color="#383838"/><stop offset=".586" stop-color="#383838"/><stop offset="1" stop-color="#303030"/></linearGradient><linearGradient id="e229" x2="0" y2="1"><stop offset=".000" stop-color="#f3f3f3"/><stop offset=".055" stop-color="#a9a9a9"/><stop offset=".085" stop-color="#393939"/><stop offset=".429" stop-color="#434343"/><stop offset=".464" stop-color="#3c3c3c"/><stop offset=".604" stop-color="#3a3a3a"/><stop offset="1" stop-color="#313131"/></linearGradient><linearGradient id="e230" x2="0" y2="1"><stop offset=".000" stop-color="#dddddd"/><stop offset=".050" stop-color="#a9a9a9"/><stop offset=".080" stop-color="#4b4b4b"/><stop offset=".433" stop-color="#4e4e4e"/><stop offset=".468" stop-color="#383838"/><stop offset=".608" stop-color="#323232"/><stop offset="1" stop-color="#2d2d2d"/></linearGradient><linearGradient id="e231" x2="0" y2="1"><stop offset=".000" stop-color="#f5f5f5"/><stop offset=".120" stop-color="#eaeaea"/><stop offset=".241" stop-color="#cfcfcf"/><stop offset=".276" stop-color="#7b7b7b"/><stop offset=".452" stop-color="#4a4a4a"/><stop offset=".487" stop-color="#383838"/><stop offset=".627" stop-color="#393939"/><stop offset="1" stop-color="#353535"/></linearGradient><linearGradient id="e232" x2="0" y2="1"><stop offset=".000" stop-color="#e9e9e9"/><stop offset=".096" stop-color="#d9d9d9"/><stop offset=".192" stop-color="#bfbfbf"/><stop offset=".227" stop-color="#909090"/><stop offset=".420" stop-color="#585858"/><stop offset=".455" stop-color="#353535"/><stop offset=".595" stop-color="#373737"/><stop offset="1" stop-color="#333333"/></linearGradient><linearGradient id="e233" x2="0" y2="1"><stop offset=".000" stop-color="#ffffff"/><stop offset=".075" stop-color="#f3f3f3"/><stop offset=".151" stop-color="#c1c1c1"/><stop offset=".186" stop-color="#828282"/><stop offset=".449" stop-color="#5c5c5c"/><stop offset=".484" stop-color="#3d3d3d"/><stop offset=".624" stop-color="#363636"/><stop offset="1" stop-color="#2a2a2a"/></linearGradient><linearGradient id="e234" x2="0" y2="1"><stop offset=".000" stop-color="#ffffff"/><stop offset=".125" stop-color="#f4f4f4"/><stop offset=".250" stop-color="#dcdcdc"/><stop offset=".285" stop-color="#888888"/><stop offset=".437" stop-color="#494949"/><stop offset=".472" stop-color="#373737"/><stop offset=".612" stop-color="#2d2d2d"/><stop offset="1" stop-color="#424242"/></linearGradient><linearGradient id="e235" x2="0" y2="1"><stop offset=".000" stop-color="#fbfbfb"/><stop offset=".077" stop-color="#f1f1f1"/><stop offset=".154" stop-color="#c3c3c3"/><stop offset=".189" stop-color="#8f8f8f"/><stop offset=".435" stop-color="#4c4c4c"/><stop offset=".470" stop-color="#3b3b3b"/><stop offset=".610" stop-color="#313131"/><stop offset="1" stop-color="#333333"/></linearGradient><linearGradient id="e236" x2="0" y2="1"><stop offset=".000" stop-color="#e6e6e6"/><stop offset=".024" stop-color="#a9a9a9"/><stop offset=".054" stop-color="#454545"/><stop offset=".451" stop-color="#414141"/><stop offset=".486" stop-color="#3d3d3d"/><stop offset=".626" stop-color="#2b2b2b"/><stop offset="1" stop-color="#282828"/></linearGradient><linearGradient id="e237" x2="0" y2="1"><stop offset=".000" stop-color="#dfdfdf"/><stop offset=".064" stop-color="#a9a9a9"/><stop offset=".094" stop-color="#484848"/><stop offset=".406" stop-color="#464646"/><stop offset=".441" stop-color="#383838"/><stop offset=".581" stop-color="#313131"/><stop offset="1" stop-color="#323232"/></linearGradient><linearGradient id="e238" x2="0" y2="1"><stop offset=".000" stop-color="#f2f2f2"/><stop offset=".039" stop-color="#a9a9a9"/><stop offset=".069" stop-color="#3f3f3f"/><stop offset=".425" stop-color="#424242"/><stop offset=".460" stop-color="#363636"/><stop offset=".600" stop-color="#303030"/><stop offset="1" stop-color="#272727"/></linearGradient><linearGradient id="e239" x2="0" y2="1"><stop offset=".000" stop-color="#ffffff"/><stop offset=".097" stop-color="#e6e6e6"/><stop offset=".194" stop-color="#dadada"/><stop offset=".229" stop-color="#777777"/><stop offset=".412" stop-color="#4c4c4c"/><stop offset=".447" stop-color="#393939"/><stop offset=".587" stop-color="#393939"/><stop offset="1" stop-color="#2a2a2a"/></linearGradient><linearGradient id="e240" x2="0" y2="1"><stop offset=".000" stop-color="#efefef"/><stop offset=".123" stop-color="#d9d9d9"/><stop offset=".247" stop-color="#cccccc"/><stop offset=".282" stop-color="#727272"/><stop offset=".420" stop-color="#4d4d4d"/><stop offset=".455" stop-color="#363636"/><stop offset=".595" stop-color="#373737"/><stop offset="1" stop-color="#323232"/></linearGradient><linearGradient id="e241" x2="0" y2="1"><stop offset=".000" stop-color="#ebebeb"/><stop offset=".068" stop-color="#a9a9a9"/><stop offset=".098" stop-color="#414141"/><stop offset=".438" stop-color="#454545"/><stop offset=".473" stop-color="#353535"/><stop offset=".613" stop-color="#464646"/><stop offset="1" stop-color="#303030"/></linearGradient><linearGradient id="e242" x2="0" y2="1"><stop offset=".000" stop-color="#ffffff"/><stop offset=".142" stop-color="#fafafa"/><stop offset=".284" stop-color="#bebebe"/><stop offset=".319" stop-color="#919191"/><stop offset=".439" stop-color="#464646"/><stop offset=".474" stop-color="#3a3a3a"/><stop offset=".614" stop-color="#2f2f2f"/><stop offset="1" stop-color="#2b2b2b"/></linearGradient><linearGradient id="e243" x2="0" y2="1"><stop offset=".000" stop-color="#f5f5f5"/><stop offset=".052" stop-color="#eeeeee"/><stop offset=".104" stop-color="#bdbdbd"/><stop offset=".139" stop-color="#7f7f7f"/><stop offset=".428" stop-color="#585858"/><stop offset=".463" stop-color="#3e3e3e"/><stop offset=".603" stop-color="#2b2b2b"/><stop offset="1" stop-color="#2b2b2b"/></linearGradient><linearGradient id="e244" x2="0" y2="1"><stop offset=".000" stop-color="#fafafa"/><stop offset=".116" stop-color="#e9e9e9"/><stop offset=".232" stop-color="#c1c1c1"/><stop offset=".267" stop-color="#848484"/><stop offset=".422" stop-color="#555555"/><stop offset=".457" stop-color="#3a3a3a"/><stop offset=".597" stop-color="#383838"/><stop offset="1" stop-color="#353535"/></linearGradient><linearGradient id="e245" x2="0" y2="1"><stop offset=".000" stop-color="#ffffff"/><stop offset=".068" stop-color="#f3f3f3"/><stop offset=".136" stop-color="#d1d1d1"/><stop offset=".171" stop-color="#929292"/><stop offset=".443" stop-color="#505050"/><stop offset=".478" stop-color="#3e3e3e"/><stop offset=".618" stop-color="#2f2f2f"/><stop offset="1" stop-color="#2a2a2a"/></linearGradient><linearGradient id="e246" x2="0" y2="1"><stop offset=".000" stop-color="#fdfdfd"/><stop offset=".092" stop-color="#e4e4e4"/><stop offset=".184" stop-color="#bdbdbd"/><stop offset=".219" stop-color="#8a8a8a"/><stop offset=".411" stop-color="#474747"/><stop offset=".446" stop-color="#3c3c3c"/><stop offset=".586" stop-color="#3a3a3a"/><stop offset="1" stop-color="#303030"/></linearGradient><linearGradient id="e247" x2="0" y2="1"><stop offset=".000" stop-color="#ebebeb"/><stop offset=".080" stop-color="#dedede"/><stop offset=".160" stop-color="#bcbcbc"/><stop offset=".195" stop-color="#999999"/><stop offset=".428" stop-color="#505050"/><stop offset=".463" stop-color="#393939"/><stop offset=".603" stop-color="#3b3b3b"/><stop offset="1" stop-color="#2f2f2f"/></linearGradient><linearGradient id="e248" x2="0" y2="1"><stop offset=".000" stop-color="#ededed"/><stop offset=".128" stop-color="#d7d7d7"/><stop offset=".256" stop-color="#c9c9c9"/><stop offset=".291" stop-color="#7d7d7d"/><stop offset=".421" stop-color="#676767"/><stop offset=".456" stop-color="#3a3a3a"/><stop offset=".596" stop-color="#3b3b3b"/><stop offset="1" stop-color="#2a2a2a"/></linearGradient><linearGradient id="e249" x2="0" y2="1"><stop offset=".000" stop-color="#e4e4e4"/><stop offset=".070" stop-color="#a9a9a9"/><stop offset=".100" stop-color="#3b3b3b"/><stop offset=".440" stop-color="#4e4e4e"/><stop offset=".475" stop-color="#373737"/><stop offset=".615" stop-color="#3b3b3b"/><stop offset="1" stop-color="#474747"/></linearGradient><linearGradient id="e250" x2="0" y2="1"><stop offset=".000" stop-color="#efefef"/><stop offset=".082" stop-color="#dadada"/><stop offset=".163" stop-color="#dcdcdc"/><stop offset=".198" stop-color="#949494"/><stop offset=".417" stop-color="#666666"/><stop offset=".452" stop-color="#3a3a3a"/><stop offset=".592" stop-color="#3e3e3e"/><stop offset="1" stop-color="#313131"/></linearGradient><linearGradient id="e251" x2="0" y2="1"><stop offset=".000" stop-color="#ffffff"/><stop offset=".098" stop-color="#ececec"/><stop offset=".196" stop-color="#cacaca"/><stop offset=".231" stop-color="#8d8d8d"/><stop offset=".412" stop-color="#454545"/><stop offset=".447" stop-color="#3a3a3a"/><stop offset=".587" stop-color="#3b3b3b"/><stop offset="1" stop-color="#333333"/></linearGradient><linearGradient id="e252" x2="0" y2="1"><stop offset=".000" stop-color="#ffffff"/><stop offset=".076" stop-color="#f4f4f4"/><stop offset=".153" stop-color="#d1d1d1"/><stop offset=".188" stop-color="#858585"/><stop offset=".402" stop-color="#5d5d5d"/><stop offset=".437" stop-color="#363636"/><stop offset=".577" stop-color="#2f2f2f"/><stop offset="1" stop-color="#2c2c2c"/></linearGradient><linearGradient id="e253" x2="0" y2="1"><stop offset=".000" stop-color="#f7f7f7"/><stop offset=".114" stop-color="#ebebeb"/><stop offset=".227" stop-color="#d2d2d2"/><stop offset=".262" stop-color="#818181"/><stop offset=".423" stop-color="#5e5e5e"/><stop offset=".458" stop-color="#3b3b3b"/><stop offset=".598" stop-color="#2f2f2f"/><stop offset="1" stop-color="#363636"/></linearGradient><linearGradient id="e254" x2="0" y2="1"><stop offset=".000" stop-color="#f1f1f1"/><stop offset=".100" stop-color="#eaeaea"/><stop offset=".201" stop-color="#d5d5d5"/><stop offset=".236" stop-color="#8d8d8d"/><stop offset=".431" stop-color="#5b5b5b"/><stop offset=".466" stop-color="#3b3b3b"/><stop offset=".606" stop-color="#313131"/><stop offset="1" stop-color="#2e2e2e"/></linearGradient><linearGradient id="e255" x2="0" y2="1"><stop offset=".000" stop-color="#ebebeb"/><stop offset=".092" stop-color="#d4d4d4"/><stop offset=".183" stop-color="#dddddd"/><stop offset=".218" stop-color="#989898"/><stop offset=".426" stop-color="#555555"/><stop offset=".461" stop-color="#3e3e3e"/><stop offset=".601" stop-color="#363636"/><stop offset="1" stop-color="#323232"/></linearGradient><linearGradient id="e256" x2="0" y2="1"><stop offset=".000" stop-color="#fdfdfd"/><stop offset=".117" stop-color="#e9e9e9"/><stop offset=".234" stop-color="#bbbbbb"/><stop offset=".269" stop-color="#848484"/><stop offset=".412" stop-color="#4c4c4c"/><stop offset=".447" stop-color="#373737"/><stop offset=".587" stop-color="#2b2b2b"/><stop offset="1" stop-color="#333333"/></linearGradient><linearGradient id="e257" x2="0" y2="1"><stop offset=".000" stop-color="#f4f4f4"/><stop offset=".140" stop-color="#e2e2e2"/><stop offset=".280" stop-color="#cbcbcb"/><stop offset=".315" stop-color="#959595"/><stop offset=".408" stop-color="#494949"/><stop offset=".443" stop-color="#393939"/><stop offset=".583" stop-color="#333333"/><stop offset="1" stop-color="#272727"/></linearGradient><linearGradient id="e258" x2="0" y2="1"><stop offset=".000" stop-color="#ffffff"/><stop offset=".123" stop-color="#f9f9f9"/><stop offset=".245" stop-color="#c0c0c0"/><stop offset=".280" stop-color="#929292"/><stop offset=".395" stop-color="#444444"/><stop offset=".430" stop-color="#343434"/><stop offset=".570" stop-color="#2c2c2c"/><stop offset="1" stop-color="#2a2a2a"/></linearGradient><linearGradient id="e259" x2="0" y2="1"><stop offset=".000" stop-color="#eaeaea"/><stop offset=".136" stop-color="#e2e2e2"/><stop offset=".271" stop-color="#c4c4c4"/><stop offset=".306" stop-color="#949494"/><stop offset=".404" stop-color="#676767"/><stop offset=".439" stop-color="#353535"/><stop offset=".579" stop-color="#383838"/><stop offset="1" stop-color="#2f2f2f"/></linearGradient><linearGradient id="e260" x2="0" y2="1"><stop offset=".000" stop-color="#ffffff"/><stop offset=".053" stop-color="#fbfbfb"/><stop offset=".106" stop-color="#c3c3c3"/><stop offset=".141" stop-color="#878787"/><stop offset=".418" stop-color="#4a4a4a"/><stop offset=".453" stop-color="#3f3f3f"/><stop offset=".593" stop-color="#373737"/><stop offset="1" stop-color="#2a2a2a"/></linearGradient><linearGradient id="e261" x2="0" y2="1"><stop offset=".000" stop-color="#ffffff"/><stop offset=".094" stop-color="#f4f4f4"/><stop offset=".188" stop-color="#cdcdcd"/><stop offset=".223" stop-color="#828282"/><stop offset=".433" stop-color="#666666"/><stop offset=".468" stop-color="#3a3a3a"/><stop offset=".608" stop-color="#3b3b3b"/><stop offset="1" stop-color="#2c2c2c"/></linearGradient><linearGradient id="e262" x2="0" y2="1"><stop offset=".000" stop-color="#dddddd"/><stop offset=".024" stop-color="#a9a9a9"/><stop offset=".054" stop-color="#404040"/><stop offset=".400" stop-color="#3b3b3b"/><stop offset=".435" stop-color="#353535"/><stop offset=".575" stop-color="#343434"/><stop offset="1" stop-color="#2f2f2f"/></linearGradient><linearGradient id="e263" x2="0" y2="1"><stop offset=".000" stop-color="#dbdbdb"/><stop offset=".058" stop-color="#a9a9a9"/><stop offset=".088" stop-color="#444444"/><stop offset=".409" stop-color="#424242"/><stop offset=".444" stop-color="#3a3a3a"/><stop offset=".584" stop-color="#2c2c2c"/><stop offset="1" stop-color="#303030"/></linearGradient><linearGradient id="e264" x2="0" y2="1"><stop offset=".000" stop-color="#fbfbfb"/><stop offset=".138" stop-color="#eeeeee"/><stop offset=".275" stop-color="#d8d8d8"/><stop offset=".310" stop-color="#7b7b7b"/><stop offset=".442" stop-color="#515151"/><stop offset=".477" stop-color="#3a3a3a"/><stop offset=".617" stop-color="#343434"/><stop offset="1" stop-color="#292929"/></linearGradient><linearGradient id="e265" x2="0" y2="1"><stop offset=".000" stop-color="#f4f4f4"/><stop offset=".069" stop-color="#dddddd"/><stop offset=".139" stop-color="#c3c3c3"/><stop offset=".174" stop-color="#7e7e7e"/><stop offset=".419" stop-color="#585858"/><stop offset=".454" stop-color="#3d3d3d"/><stop offset=".594" stop-color="#2f2f2f"/><stop offset="1" stop-color="#363636"/></linearGradient><linearGradient id="e266" x2="0" y2="1"><stop offset=".000" stop-color="#eeeeee"/><stop offset=".062" stop-color="#a9a9a9"/><stop offset=".092" stop-color="#3d3d3d"/><stop offset=".438" stop-color="#3f3f3f"/><stop offset=".473" stop-color="#383838"/><stop offset=".613" stop-color="#2f2f2f"/><stop offset="1" stop-color="#2a2a2a"/></linearGradient><linearGradient id="e267" x2="0" y2="1"><stop offset=".000" stop-color="#e6e6e6"/><stop offset=".062" stop-color="#a9a9a9"/><stop offset=".092" stop-color="#494949"/><stop offset=".407" stop-color="#484848"/><stop offset=".442" stop-color="#383838"/><stop offset=".582" stop-color="#373737"/><stop offset="1" stop-color="#343434"/></linearGradient><linearGradient id="e268" x2="0" y2="1"><stop offset=".000" stop-color="#e9e9e9"/><stop offset=".037" stop-color="#a9a9a9"/><stop offset=".067" stop-color="#393939"/><stop offset=".416" stop-color="#464646"/><stop offset=".451" stop-color="#353535"/><stop offset=".591" stop-color="#333333"/><stop offset="1" stop-color="#323232"/></linearGradient><linearGradient id="e269" x2="0" y2="1"><stop offset=".000" stop-color="#d9d9d9"/><stop offset=".048" stop-color="#a9a9a9"/><stop offset=".078" stop-color="#4a4a4a"/><stop offset=".416" stop-color="#454545"/><stop offset=".451" stop-color="#343434"/><stop offset=".591" stop-color="#333333"/><stop offset="1" stop-color="#292929"/></linearGradient><linearGradient id="e270" x2="0" y2="1"><stop offset=".000" stop-color="#eeeeee"/><stop offset=".077" stop-color="#a9a9a9"/><stop offset=".107" stop-color="#3a3a3a"/><stop offset=".419" stop-color="#4f4f4f"/><stop offset=".454" stop-color="#363636"/><stop offset=".594" stop-color="#3a3a3a"/><stop offset="1" stop-color="#2f2f2f"/></linearGradient><linearGradient id="e271" x2="0" y2="1"><stop offset=".000" stop-color="#e5e5e5"/><stop offset=".020" stop-color="#a9a9a9"/><stop offset=".050" stop-color="#3f3f3f"/><stop offset=".441" stop-color="#404040"/><stop offset=".476" stop-color="#3a3a3a"/><stop offset=".616" stop-color="#353535"/><stop offset="1" stop-color="#2d2d2d"/></linearGradient><linearGradient id="e272" x2="0" y2="1"><stop offset=".000" stop-color="#fdfdfd"/><stop offset=".120" stop-color="#e3e3e3"/><stop offset=".240" stop-color="#c6c6c6"/><stop offset=".275" stop-color="#949494"/><stop offset=".434" stop-color="#545454"/><stop offset=".469" stop-color="#3e3e3e"/><stop offset=".609" stop-color="#2d2d2d"/><stop offset="1" stop-color="#2b2b2b"/></linearGradient><linearGradient id="e273" x2="0" y2="1"><stop offset=".000" stop-color="#ffffff"/><stop offset=".134" stop-color="#efefef"/><stop offset=".267" stop-color="#dedede"/><stop offset=".302" stop-color="#989898"/><stop offset=".420" stop-color="#676767"/><stop offset=".455" stop-color="#3e3e3e"/><stop offset=".595" stop-color="#333333"/><stop offset="1" stop-color="#2d2d2d"/></linearGradient><filter id="fe" filterUnits="userSpaceOnUse" x="37.5" y="298.6" width="273.3" height="92.9" color-interpolation-filters="sRGB"><feTurbulence type="fractalNoise" baseFrequency="0.9 0.16" numOctaves="2" seed="4"/><feColorMatrix type="matrix" values="1 0 0 0 0 1 0 0 0 0 1 0 0 0 0 0 0 0 0 1" result="g"/><feComposite in="SourceGraphic" in2="g" operator="arithmetic" k1="0" k2="1" k3="1.05" k4="-0.53"/><feComponentTransfer><feFuncR type="table" tableValues="1 1 1 1 1 1 1 1 1 1 0.98 0.94 0.89 0.77 0.65 0.51 0.39 0.27 0.16 0.07 0"/><feFuncG type="table" tableValues="1 1 1 1 1 0.99 0.97 0.95 0.89 0.81 0.69 0.57 0.45 0.34 0.24 0.15 0.1 0.06 0.04 0.02 0"/><feFuncB type="table" tableValues="1 1 1 1 0.96 0.83 0.69 0.53 0.38 0.25 0.17 0.12 0.08 0.07 0.05 0.04 0.04 0.03 0.02 0.01 0"/></feComponentTransfer></filter><linearGradient id="cbe" x1="0" y1="1" x2="0" y2="0"><stop offset="0" stop-color="#fffff4"/><stop offset="0.1" stop-color="#fffac0"/><stop offset="0.2" stop-color="#fff080"/><stop offset="0.3" stop-color="#ffd444"/><stop offset="0.4" stop-color="#f9a424"/><stop offset="0.5" stop-color="#e27414"/><stop offset="0.6" stop-color="#b44410"/><stop offset="0.7" stop-color="#7c220a"/><stop offset="0.8" stop-color="#4a1008"/><stop offset="0.9" stop-color="#1e0804"/><stop offset="1" stop-color="#000000"/></linearGradient></defs><rect x="42" y="-1" width="7.8" height="8.7" fill="#111"/><text x="53.9" y="5.8" font-size="6.6" text-anchor="start" fill="#333" >960 hPa</text><rect x="91.9" y="-1" width="7.7" height="8.7" fill="#8a8a8a"/><text x="102.9" y="5.8" font-size="6.6" text-anchor="start" fill="#333" >980 hPa</text><rect x="141.7" y="-1" width="7.5" height="8.7" fill="#ececec"/><text x="153.4" y="5.8" font-size="6.6" text-anchor="start" fill="#333" >1,000 hPa</text><text x="0" y="14.9" font-size="13" font-weight="bold" fill="#000" stroke="#000" stroke-width="0.45">a</text><text x="369.6" y="14.8" font-size="13" font-weight="bold" fill="#000" stroke="#000" stroke-width="0.45">b</text><text x="0" y="154.6" font-size="13" font-weight="bold" fill="#000" stroke="#000" stroke-width="0.45">c</text><text x="369.6" y="154.3" font-size="13" font-weight="bold" fill="#000" stroke="#000" stroke-width="0.45">d</text><text x="0" y="289.6" font-size="13" font-weight="bold" fill="#000" stroke="#000" stroke-width="0.45">e</text><text x="370.6" y="289.6" font-size="13" font-weight="bold" fill="#000" stroke="#000" stroke-width="0.45">f</text><rect x="37.8" y="25.3" width="8.2" height="94" fill="#dcdcdc"/><rect x="48.1" y="25.3" width="8.8" height="94" fill="#dcdcdc"/><rect x="57" y="25.3" width="2" height="94" fill="#ebebeb"/><rect x="63.4" y="25.3" width="4.6" height="94" fill="#dcdcdc"/><rect x="68" y="25.3" width="4" height="94" fill="#dcdcdc"/><rect x="72" y="25.3" width="4.9" height="94" fill="#dcdcdc"/><rect x="93" y="25.3" width="4.8" height="94" fill="#dcdcdc"/><rect x="99.6" y="25.3" width="2.3" height="94" fill="#dcdcdc"/><rect x="105" y="25.3" width="4.9" height="94" fill="#dcdcdc"/><rect x="116" y="25.3" width="6.2" height="94" fill="#dcdcdc"/><rect x="122.2" y="25.3" width="5.3" height="94" fill="#ebebeb"/><rect x="130.8" y="25.3" width="2" height="94" fill="#dcdcdc"/><rect x="149" y="25.3" width="7.6" height="94" fill="#dcdcdc"/><rect x="165.8" y="25.3" width="2.4" height="94" fill="#dcdcdc"/><rect x="171" y="25.3" width="3.9" height="94" fill="#dcdcdc"/><rect x="177.1" y="25.3" width="2.6" height="94" fill="#dcdcdc"/><rect x="188.3" y="25.3" width="4.1" height="94" fill="#dcdcdc"/><rect x="192.4" y="25.3" width="2.6" height="94" fill="#dcdcdc"/><rect x="195" y="25.3" width="6.1" height="94" fill="#dcdcdc"/><rect x="206.7" y="25.3" width="3.1" height="94" fill="#dcdcdc"/><rect x="209.8" y="25.3" width="2.6" height="94" fill="#dcdcdc"/><rect x="212.4" y="25.3" width="4.6" height="94" fill="#dcdcdc"/><rect x="223.6" y="25.3" width="4.4" height="94" fill="#dcdcdc"/><rect x="228" y="25.3" width="7.9" height="94" fill="#dcdcdc"/><rect x="246.8" y="25.3" width="2.7" height="94" fill="#dcdcdc"/><rect x="254.2" y="25.3" width="6.8" height="94" fill="#dcdcdc"/><rect x="265.2" y="25.3" width="2.3" height="94" fill="#dcdcdc"/><rect x="268.4" y="25.3" width="3.6" height="94" fill="#dcdcdc"/><rect x="283.6" y="25.3" width="2.6" height="94" fill="#ebebeb"/><rect x="288.9" y="25.3" width="5.8" height="94" fill="#dcdcdc"/><rect x="298.9" y="25.3" width="3.1" height="94" fill="#dcdcdc"/><rect x="307" y="25.3" width="3.6" height="94" fill="#dcdcdc"/><rect x="37.8" y="20.2" width="8.2" height="3.7" fill="#6a6a6a"/><rect x="48.1" y="20.2" width="8.8" height="3.7" fill="#4a4a4a"/><rect x="57" y="20.2" width="2" height="3.7" fill="#dddddd"/><rect x="63.4" y="20.2" width="4.6" height="3.7" fill="#3a3a3a"/><rect x="68" y="20.2" width="4" height="3.7" fill="#5e5e5e"/><rect x="72" y="20.2" width="4.9" height="3.7" fill="#c8c8c8"/><rect x="93" y="20.2" width="4.8" height="3.7" fill="#1a1a1a"/><rect x="99.6" y="20.2" width="2.3" height="3.7" fill="#cccccc"/><rect x="105" y="20.2" width="4.9" height="3.7" fill="#999999"/><rect x="116" y="20.2" width="6.2" height="3.7" fill="#3d3d3d"/><rect x="122.2" y="20.2" width="5.3" height="3.7" fill="#dddddd"/><rect x="130.8" y="20.2" width="2" height="3.7" fill="#777777"/><rect x="149" y="20.2" width="7.6" height="3.7" fill="#a5a5a5"/><rect x="165.8" y="20.2" width="2.4" height="3.7" fill="#555555"/><rect x="171" y="20.2" width="3.9" height="3.7" fill="#444444"/><rect x="177.1" y="20.2" width="2.6" height="3.7" fill="#bbbbbb"/><rect x="188.3" y="20.2" width="4.1" height="3.7" fill="#999999"/><rect x="192.4" y="20.2" width="2.6" height="3.7" fill="#666666"/><rect x="195" y="20.2" width="6.1" height="3.7" fill="#999999"/><rect x="206.7" y="20.2" width="3.1" height="3.7" fill="#555555"/><rect x="209.8" y="20.2" width="2.6" height="3.7" fill="#111111"/><rect x="212.4" y="20.2" width="4.6" height="3.7" fill="#aaaaaa"/><rect x="223.6" y="20.2" width="4.4" height="3.7" fill="#666666"/><rect x="228" y="20.2" width="7.9" height="3.7" fill="#aaaaaa"/><rect x="246.8" y="20.2" width="2.7" height="3.7" fill="#bbbbbb"/><rect x="254.2" y="20.2" width="6.8" height="3.7" fill="#777777"/><rect x="265.2" y="20.2" width="2.3" height="3.7" fill="#cccccc"/><rect x="268.4" y="20.2" width="3.6" height="3.7" fill="#888888"/><rect x="283.6" y="20.2" width="2.6" height="3.7" fill="#eeeeee"/><rect x="288.9" y="20.2" width="5.8" height="3.7" fill="#555555"/><rect x="298.9" y="20.2" width="3.1" height="3.7" fill="#999999"/><rect x="307" y="20.2" width="3.6" height="3.7" fill="#bbbbbb"/><rect x="40.7" y="28.7" width="69" height="23.4" rx="2" fill="#fff" fill-opacity="0.8"/><line x1="43" y1="36" x2="52.1" y2="36" stroke="#2a7abc" stroke-width="1.4"/><text x="57" y="38.2" font-size="6.9" text-anchor="start" fill="#222" >Model</text><line x1="43" y1="46" x2="52.1" y2="46" stroke="#000" stroke-width="1.4"/><text x="57" y="48.3" font-size="6.9" text-anchor="start" fill="#222" >Slocum glider</text><line x1="40.6" y1="87.5" x2="98" y2="87.5" stroke="#1a1a1a" stroke-width="1" stroke-dasharray="2.8,0.85"/><line x1="98.4" y1="81.5" x2="163.7" y2="81.5" stroke="#1a1a1a" stroke-width="1" stroke-dasharray="2.8,0.85"/><line x1="163.7" y1="60.5" x2="243.9" y2="60.5" stroke="#1a1a1a" stroke-width="1" stroke-dasharray="2.8,0.85"/><line x1="243.9" y1="48.5" x2="310.8" y2="48.5" stroke="#1a1a1a" stroke-width="1" stroke-dasharray="2.8,0.85"/><polyline fill="none" stroke="#2a7abc" stroke-width="1.3" stroke-linejoin="round"  points="37.8,84.6 136,66.3 143.8,62.8 152.9,57.1 164.4,52.1 175.9,50.7 187.3,49.1 198.8,47.2 208,45.2 217.2,45.2 224.2,43.3 233.3,41.5 242.5,39.9 251.7,40.4 260.9,41.1 274.6,41.1 288.4,40.6 302.2,41.1 306.7,41.5 309.5,42.9 310.8,45.6"/><polyline fill="none" stroke="#000" stroke-width="1.5" stroke-linejoin="round"  points="40.6,80 49.8,81.2 59,80 61.2,79.1 70.4,80.7 81.9,78.9 95.6,74.3 99,76.6 102.5,78.2 104.8,75.9 110.5,70.4 114,69.7 118.6,72 122,70.9 127.7,67.4 130,68.1 136.9,66.3 143.8,63.5 150.6,59.4 154.1,58.3 158.7,54.4 163.3,50.7 167.8,52.5 172.4,54.8 175.9,55.3 182.8,54.4 189.6,53 198.8,51.4 203.4,49.8 209.1,45 214.9,45.2 219.6,45.6 225.3,42.9 231,43.3 236.8,39.9 242.5,35.3 247.1,37.6 252.8,39.9 258.6,41.1 263.2,43.3 266.6,41.1 272.3,40.6 279.2,39.9 283.8,40.6 290.7,39.2 296.4,40.6 302.2,40.6 306.7,38.3 310.2,39.2"/><rect x="42.5" y="94.3" width="60" height="18.2" fill="#fff" stroke="#444" stroke-width="0.7"/><text x="44.7" y="102.6" font-size="6.3" fill="#222"><tspan font-style="italic">Q</tspan><tspan font-size="4.2" font-style="italic" dy="1.9">net</tspan><tspan font-size="6.3" dy="-1.9"> = 179 W m</tspan><tspan font-size="4.2" dy="-2.7">−2</tspan></text><line x1="44.7" y1="97.3" x2="54" y2="97.3" stroke="#333" stroke-width="0.5"/><text x="44.7" y="110.4" font-size="6.3" fill="#222">∂<tspan font-style="italic">T</tspan><tspan> = 0.012 °C day</tspan><tspan font-size="4.2" dy="-2.7">−1</tspan></text><line x1="44.7" y1="105.1" x2="51.7" y2="105.1" stroke="#333" stroke-width="0.5"/><rect x="105.6" y="87.9" width="59.3" height="18.6" fill="#fff" stroke="#444" stroke-width="0.7"/><text x="107.8" y="96.5" font-size="6.3" fill="#222"><tspan font-style="italic">Q</tspan><tspan font-size="4.2" font-style="italic" dy="1.9">net</tspan><tspan font-size="6.3" dy="-1.9"> = 180 W m</tspan><tspan font-size="4.2" dy="-2.7">−2</tspan></text><line x1="107.8" y1="91.2" x2="117.1" y2="91.2" stroke="#333" stroke-width="0.5"/><text x="107.8" y="104.1" font-size="6.3" fill="#222">∂<tspan font-style="italic">T</tspan><tspan> = 0.051 °C day</tspan><tspan font-size="4.2" dy="-2.7">−1</tspan></text><line x1="107.8" y1="98.8" x2="114.8" y2="98.8" stroke="#333" stroke-width="0.5"/><rect x="176.1" y="68.6" width="60.3" height="18.9" fill="#fff" stroke="#444" stroke-width="0.7"/><text x="178.3" y="76.8" font-size="6.3" fill="#222"><tspan font-style="italic">Q</tspan><tspan font-size="4.2" font-style="italic" dy="1.9">net</tspan><tspan font-size="6.3" dy="-1.9"> = 131 W m</tspan><tspan font-size="4.2" dy="-2.7">−2</tspan></text><line x1="178.3" y1="71.5" x2="187.6" y2="71.5" stroke="#333" stroke-width="0.5"/><text x="178.3" y="84.6" font-size="6.3" fill="#222">∂<tspan font-style="italic">T</tspan><tspan> = 0.025 °C day</tspan><tspan font-size="4.2" dy="-2.7">−1</tspan></text><line x1="178.3" y1="79.3" x2="185.3" y2="79.3" stroke="#333" stroke-width="0.5"/><rect x="246.1" y="56.1" width="63.3" height="17.9" fill="#fff" stroke="#444" stroke-width="0.7"/><text x="248.3" y="63.5" font-size="6.3" fill="#222"><tspan font-style="italic">Q</tspan><tspan font-size="4.2" font-style="italic" dy="1.9">net</tspan><tspan font-size="6.3" dy="-1.9"> = 88 W m</tspan><tspan font-size="4.2" dy="-2.7">−2</tspan></text><line x1="248.3" y1="58.2" x2="257.6" y2="58.2" stroke="#333" stroke-width="0.5"/><text x="248.3" y="71.3" font-size="6.3" fill="#222">∂<tspan font-style="italic">T</tspan><tspan> = −0.002 °C day</tspan><tspan font-size="4.2" dy="-2.7">−1</tspan></text><line x1="248.3" y1="66" x2="255.3" y2="66" stroke="#333" stroke-width="0.5"/><rect x="192.1" y="104.4" width="76.2" height="13.1" fill="#fff" stroke="#444" stroke-width="0.7"/><text x="195.3" y="113.1" font-size="6.5" fill="#222"><tspan font-style="italic">r</tspan><tspan font-size="4" dy="-2.6">2</tspan><tspan dy="2.6"> = 0.98, bias = 0.13 °C</tspan></text><text x="280.7" y="114.4" font-size="6.4" text-anchor="start" fill="#6a6a6a" >Storms</text><rect x="37.5" y="25.3" width="273.3" height="94" fill="none" stroke="#6a6a6a" stroke-width="0.9"/><line x1="33" y1="40.8" x2="37.5" y2="40.8" stroke="#6a6a6a" stroke-width="0.8"/><text x="30.5" y="43.3" font-size="7.2" text-anchor="end" fill="#222" >2</text><line x1="33" y1="69.8" x2="37.5" y2="69.8" stroke="#6a6a6a" stroke-width="0.8"/><text x="30.5" y="72.3" font-size="7.2" text-anchor="end" fill="#222" >1</text><line x1="33" y1="98.8" x2="37.5" y2="98.8" stroke="#6a6a6a" stroke-width="0.8"/><text x="30.5" y="101.3" font-size="7.2" text-anchor="end" fill="#222" >0</text><line x1="46" y1="119.3" x2="46" y2="123.3" stroke="#6a6a6a" stroke-width="0.8"/><text x="46" y="134" font-size="7.2" text-anchor="middle" fill="#222" >−10</text><line x1="80.7" y1="119.3" x2="80.7" y2="123.3" stroke="#6a6a6a" stroke-width="0.8"/><text x="80.7" y="134" font-size="7.2" text-anchor="middle" fill="#222" >0</text><line x1="115.4" y1="119.3" x2="115.4" y2="123.3" stroke="#6a6a6a" stroke-width="0.8"/><text x="115.4" y="134" font-size="7.2" text-anchor="middle" fill="#222" >10</text><line x1="150.2" y1="119.3" x2="150.2" y2="123.3" stroke="#6a6a6a" stroke-width="0.8"/><text x="150.2" y="134" font-size="7.2" text-anchor="middle" fill="#222" >20</text><line x1="184.9" y1="119.3" x2="184.9" y2="123.3" stroke="#6a6a6a" stroke-width="0.8"/><text x="184.9" y="134" font-size="7.2" text-anchor="middle" fill="#222" >30</text><line x1="219.6" y1="119.3" x2="219.6" y2="123.3" stroke="#6a6a6a" stroke-width="0.8"/><text x="219.6" y="134" font-size="7.2" text-anchor="middle" fill="#222" >40</text><line x1="254.4" y1="119.3" x2="254.4" y2="123.3" stroke="#6a6a6a" stroke-width="0.8"/><text x="254.4" y="134" font-size="7.2" text-anchor="middle" fill="#222" >50</text><line x1="289.1" y1="119.3" x2="289.1" y2="123.3" stroke="#6a6a6a" stroke-width="0.8"/><text x="289.1" y="134" font-size="7.2" text-anchor="middle" fill="#222" >60</text><text transform="translate(16.6,69.3) rotate(-90)" font-size="8.2" text-anchor="middle" fill="#222">SST (°C)</text><rect x="410.5" y="25.3" width="8.2" height="94.1" fill="#dcdcdc"/><rect x="420.8" y="25.3" width="8.8" height="94.1" fill="#dcdcdc"/><rect x="429.7" y="25.3" width="2" height="94.1" fill="#ebebeb"/><rect x="436.1" y="25.3" width="4.6" height="94.1" fill="#dcdcdc"/><rect x="440.7" y="25.3" width="4" height="94.1" fill="#dcdcdc"/><rect x="444.7" y="25.3" width="4.9" height="94.1" fill="#dcdcdc"/><rect x="465.7" y="25.3" width="4.8" height="94.1" fill="#dcdcdc"/><rect x="472.3" y="25.3" width="2.3" height="94.1" fill="#dcdcdc"/><rect x="477.7" y="25.3" width="4.9" height="94.1" fill="#dcdcdc"/><rect x="488.7" y="25.3" width="6.2" height="94.1" fill="#dcdcdc"/><rect x="494.9" y="25.3" width="5.3" height="94.1" fill="#ebebeb"/><rect x="503.5" y="25.3" width="2" height="94.1" fill="#dcdcdc"/><rect x="521.7" y="25.3" width="7.6" height="94.1" fill="#dcdcdc"/><rect x="538.5" y="25.3" width="2.4" height="94.1" fill="#dcdcdc"/><rect x="543.7" y="25.3" width="3.9" height="94.1" fill="#dcdcdc"/><rect x="549.8" y="25.3" width="2.6" height="94.1" fill="#dcdcdc"/><rect x="561" y="25.3" width="4.1" height="94.1" fill="#dcdcdc"/><rect x="565.1" y="25.3" width="2.6" height="94.1" fill="#dcdcdc"/><rect x="567.7" y="25.3" width="6.1" height="94.1" fill="#dcdcdc"/><rect x="579.4" y="25.3" width="3.1" height="94.1" fill="#dcdcdc"/><rect x="582.5" y="25.3" width="2.6" height="94.1" fill="#dcdcdc"/><rect x="585.1" y="25.3" width="4.6" height="94.1" fill="#dcdcdc"/><rect x="596.3" y="25.3" width="4.4" height="94.1" fill="#dcdcdc"/><rect x="600.7" y="25.3" width="7.9" height="94.1" fill="#dcdcdc"/><rect x="619.5" y="25.3" width="2.7" height="94.1" fill="#dcdcdc"/><rect x="626.9" y="25.3" width="6.8" height="94.1" fill="#dcdcdc"/><rect x="637.9" y="25.3" width="2.3" height="94.1" fill="#dcdcdc"/><rect x="641.1" y="25.3" width="3.6" height="94.1" fill="#dcdcdc"/><rect x="656.3" y="25.3" width="2.6" height="94.1" fill="#ebebeb"/><rect x="661.6" y="25.3" width="5.8" height="94.1" fill="#dcdcdc"/><rect x="671.6" y="25.3" width="3.1" height="94.1" fill="#dcdcdc"/><rect x="679.7" y="25.3" width="3.6" height="94.1" fill="#dcdcdc"/><rect x="410.5" y="20.4" width="8.2" height="3.5" fill="#6a6a6a"/><rect x="420.8" y="20.4" width="8.8" height="3.5" fill="#4a4a4a"/><rect x="429.7" y="20.4" width="2" height="3.5" fill="#dddddd"/><rect x="436.1" y="20.4" width="4.6" height="3.5" fill="#3a3a3a"/><rect x="440.7" y="20.4" width="4" height="3.5" fill="#5e5e5e"/><rect x="444.7" y="20.4" width="4.9" height="3.5" fill="#c8c8c8"/><rect x="465.7" y="20.4" width="4.8" height="3.5" fill="#1a1a1a"/><rect x="472.3" y="20.4" width="2.3" height="3.5" fill="#cccccc"/><rect x="477.7" y="20.4" width="4.9" height="3.5" fill="#999999"/><rect x="488.7" y="20.4" width="6.2" height="3.5" fill="#3d3d3d"/><rect x="494.9" y="20.4" width="5.3" height="3.5" fill="#dddddd"/><rect x="503.5" y="20.4" width="2" height="3.5" fill="#777777"/><rect x="521.7" y="20.4" width="7.6" height="3.5" fill="#a5a5a5"/><rect x="538.5" y="20.4" width="2.4" height="3.5" fill="#555555"/><rect x="543.7" y="20.4" width="3.9" height="3.5" fill="#444444"/><rect x="549.8" y="20.4" width="2.6" height="3.5" fill="#bbbbbb"/><rect x="561" y="20.4" width="4.1" height="3.5" fill="#999999"/><rect x="565.1" y="20.4" width="2.6" height="3.5" fill="#666666"/><rect x="567.7" y="20.4" width="6.1" height="3.5" fill="#999999"/><rect x="579.4" y="20.4" width="3.1" height="3.5" fill="#555555"/><rect x="582.5" y="20.4" width="2.6" height="3.5" fill="#111111"/><rect x="585.1" y="20.4" width="4.6" height="3.5" fill="#aaaaaa"/><rect x="596.3" y="20.4" width="4.4" height="3.5" fill="#666666"/><rect x="600.7" y="20.4" width="7.9" height="3.5" fill="#aaaaaa"/><rect x="619.5" y="20.4" width="2.7" height="3.5" fill="#bbbbbb"/><rect x="626.9" y="20.4" width="6.8" height="3.5" fill="#777777"/><rect x="637.9" y="20.4" width="2.3" height="3.5" fill="#cccccc"/><rect x="641.1" y="20.4" width="3.6" height="3.5" fill="#888888"/><rect x="656.3" y="20.4" width="2.6" height="3.5" fill="#eeeeee"/><rect x="661.6" y="20.4" width="5.8" height="3.5" fill="#555555"/><rect x="671.6" y="20.4" width="3.1" height="3.5" fill="#999999"/><rect x="679.7" y="20.4" width="3.6" height="3.5" fill="#bbbbbb"/><polyline fill="none" stroke="#000" stroke-width="1.1" stroke-linejoin="round"  points="410.9,97.1 411.3,93.6 411.8,87 412.2,93.6 412.7,95.2 413.1,96.3 413.6,103.2 414,97.2 414.5,90.3 414.9,82.9 415.4,85.8 415.8,77.8 416.3,73.9 416.7,59 417.2,53.9 417.6,63.4 418.1,56.2 418.5,60.5 419,68.7 419.4,73.8 419.9,83.9 420.3,86 420.8,79.1 421.2,83.9 421.7,81.8 422.1,81.7 422.6,84.7 423,79.9 423.5,80.6 423.9,73.8 424.4,75.5 424.8,72 425.3,71.6 425.7,67.6 426.2,71.7 426.6,76.1 427.1,69.7 427.5,71.8 428,75.5 428.4,79 428.9,85.5 429.3,88.3 429.8,88.9 430.2,92.8 430.7,85.7 431.1,91.4 431.6,86.8 432,92.7 432.5,86.3 432.9,88.1 433.4,98.6 433.8,96.4 434.3,88.3 434.7,93.9 435.2,86.9 435.6,88.8 436.1,87.7 436.5,76 437,69.2 437.4,72.2 437.9,71.8 438.3,66.2 438.8,56.1 439.2,57.4 439.7,65 440.1,63.5 440.6,65.2 441,65.9 441.5,58.7 441.9,67.8 442.4,64.9 442.8,67.8 443.3,73.5 443.7,69.8 444.2,79.7 444.6,76.4 445.1,85.3 445.5,84.3 446,89.4 446.4,91.3 446.9,85.2 447.3,87.9 447.8,94.6 448.2,88.4 448.7,97.2 449.1,94.3 449.6,88.1 450,89.9 450.5,95.7 450.9,83.5 451.4,90.4 451.8,87.6 452.3,79.2 452.7,83.2 453.2,84.3 453.6,87.7 454.1,88.2 454.5,82.6 455,82.5 455.4,74.2 455.9,72.8 456.3,67.8 456.8,57.6 457.2,59.2 457.7,60.2 458.1,62 458.6,75.4 459,80.9 459.5,76.3 459.9,78.8 460.4,87 460.8,89.1 461.3,84 461.7,79.9 462.2,87.2 462.6,76.5 463.1,75.7 463.5,77.3 464,77.8 464.4,81.1 464.9,82.3 465.3,71.7 465.8,80.8 466.2,75 466.7,74.6 467.1,62.1 467.6,59.1 468,57 468.5,57 468.9,49.7 469.4,56.7 469.8,56.2 470.3,57.9 470.7,60 471.2,67.4 471.6,74.4 472.1,69.8 472.5,81.4 473,86.6 473.4,83.6 473.9,81.5 474.3,86.1 474.8,84.7 475.2,84.3 475.7,85.1 476.1,93.6 476.6,94.2 477,90.3 477.5,90.1 477.9,94.8 478.4,95.2 478.8,97.4 479.3,100.7 479.7,99.7 480.2,97.6 480.6,84.6 481.1,87.2 481.5,85.4 482,98 482.4,92 482.9,94.8 483.3,91.2 483.8,95.4 484.2,86.7 484.7,97.1 485.1,90.8 485.6,87.9 486,84.7 486.5,85.1 486.9,84 487.4,81.4 487.8,78.4 488.3,83.7 488.7,79.6 489.2,79.8 489.6,82.9 490.1,91 490.5,88.2 491,80.2 491.4,76.4 491.9,68.6 492.3,64.3 492.8,61.2 493.2,63.5 493.7,72.4 494.1,68.3 494.6,68 495,74.9 495.5,82.2 495.9,91.7 496.4,92 496.8,94.2 497.3,96.3 497.7,92 498.2,101.5 498.6,92.1 499.1,98.9 499.5,90.2 500,89.8 500.4,89.8 500.9,80.2 501.3,78.7 501.8,73.3 502.2,67.6 502.7,77.1 503.1,81.5 503.6,79.6 504,76.7 504.5,81.9 504.9,81.7 505.4,72.2 505.8,74.5 506.3,77.6 506.7,73.3 507.2,81.1 507.6,78.1 508.1,84.1 508.5,79.8 509,73.8 509.4,70.9 509.9,69.7 510.3,81.4 510.8,84.7 511.2,93.7 511.7,101.5 512.1,96.5 512.6,89.8 513,87 513.5,86.1 513.9,79 514.4,79.7 514.8,73.6 515.3,62.9 515.7,58.8 516.2,63.1 516.6,64.2 517.1,65.2 517.5,70.4 518,73.5 518.4,66.9 518.9,64.9 519.3,70.9 519.8,78.3 520.2,85.5 520.7,82.1 521.1,98.7 521.6,95.9 522,97.1 522.5,99.8 522.9,93.6 523.4,102.4 523.8,95.7 524.3,85.2 524.7,83.7 525.2,67.4 525.6,73.3 526.1,77.7 526.5,82 527,78.3 527.4,83.6 527.9,83 528.3,84.4 528.8,84.2 529.2,84 529.7,85.4 530.1,88.9 530.6,83.3 531,84.5 531.5,88.8 531.9,87.9 532.4,89.6 532.8,100.6 533.3,102.3 533.7,97.7 534.2,89.9 534.6,88.4 535.1,83.6 535.5,77.7 536,77.9 536.4,69 536.9,63.4 537.4,74 537.8,68.8 538.3,76.1 538.7,88 539.2,86.6 539.6,82.3 540.1,76.6 540.5,80.6 541,76 541.4,70 541.9,68.7 542.3,66.8 542.8,73.4 543.2,72 543.7,78.3 544.1,70.3 544.6,63.9 545,60.8 545.5,54.6 545.9,55.4 546.4,54.1 546.8,59.9 547.3,66.8 547.7,78.9 548.2,78.8 548.6,86.2 549.1,80.9 549.5,83.3 550,90.2 550.4,92.2 550.9,86.8 551.3,84.4 551.8,80.7 552.2,82.8 552.7,87.1 553.1,76.6 553.6,84.3 554,76.6 554.5,85.4 554.9,84.8 555.4,80.8 555.8,87.7 556.3,84.1 556.7,76.2 557.2,70.3 557.6,67.1 558.1,73 558.5,74.1 559,83.7 559.4,82.4 559.9,94 560.3,92.8 560.8,89.6 561.2,92.9 561.7,86.6 562.1,85.4 562.6,84.4 563,78.3 563.5,80.2 563.9,83.1 564.4,82.3 564.8,76.8 565.3,76.1 565.7,82.8 566.2,73.3 566.6,70.1 567.1,73.6 567.5,74.3 568,81.5 568.4,80.3 568.9,83.4 569.3,82.9 569.8,88 570.2,75 570.7,78.7 571.1,78.3 571.6,74.9 572,79 572.5,81.2 572.9,80.2 573.4,86.8 573.8,79.7 574.3,79.7 574.7,71.7 575.2,70.9 575.6,78 576.1,74.9 576.5,78.4 577,74 577.4,67.8 577.9,65.1 578.3,68.5 578.8,68.8 579.2,71.1 579.7,67.2 580.1,64.6 580.6,75.3 581,67.9 581.5,76.4 581.9,73.8 582.4,72.9 582.8,67.3 583.3,73 583.7,74 584.2,72.2 584.6,79.6 585.1,75 585.5,85.4 586,84 586.4,90.3 586.9,89.5 587.3,80.5 587.8,76.6 588.2,72.2 588.7,68.9 589.1,68.8 589.6,74.6 590,75.4 590.5,71.6 590.9,71.3 591.4,72.1 591.8,67.9 592.3,70.3 592.7,68 593.2,76.8 593.6,72 594.1,72.4 594.5,71.9 595,77.3 595.4,75.7 595.9,66.8 596.3,73.6 596.8,64.6 597.2,66.2 597.7,75.5 598.1,74.5 598.6,73.5 599,85.1"/><polyline fill="none" stroke="#2a7abc" stroke-width="1.3" stroke-linejoin="round"  points="410.6,103.6 411.2,95.9 411.9,98.6 412.5,102.1 413.2,107.7 413.8,108.7 414.5,104.5 415.1,99.2 415.8,86.8 416.4,69.2 417.1,58.1 417.7,63.3 418.4,90.4 419,106.5 419.7,116.6 420.3,105.6 421,92.5 421.6,84.4 422.3,86 422.9,86.4 423.6,87 424.2,79.8 424.9,77.1 425.5,73.6 426.2,77.9 426.8,80.8 427.5,83.7 428.1,81.2 428.8,82.7 429.4,85.7 430.1,94.5 430.7,97.5 431.4,95.4 432,99 432.7,100 433.3,100.3 434,99.5 434.6,98.7 435.3,97 435.9,87.4 436.6,84.8 437.2,72.7 437.9,67.8 438.5,69.4 439.2,64.6 439.8,62.3 440.5,65 441.1,67.3 441.8,69.9 442.4,69.4 443.1,76.3 443.7,73.1 444.4,77.9 445,85.3 445.7,90 446.3,94.9 447,97.2 447.6,97.4 448.3,97.3 448.9,95.4 449.6,94.8 450.2,97.1 450.9,90 451.5,88 452.2,84.4 452.8,82.5 453.5,86.9 454.1,84 454.8,82 455.4,77.6 456.1,71.1 456.7,65.2 457.4,62.2 458,67.1 458.7,80 459.3,85.4 460,86.8 460.6,92.6 461.3,91.8 461.9,87.1 462.6,84.8 463.2,85.6 463.9,77.4 464.5,78.9 465.2,82.2 465.8,80.2 466.5,77.4 467.1,69.5 467.8,62.4 468.4,52.9 469.1,54.7 469.7,53.8 470.4,61.5 471,67.6 471.7,79.8 472.3,79.3 473,82.7 473.6,86.6 474.3,85.4 474.9,88.3 475.6,91.5 476.2,94.8 476.9,101.7 477.5,101.7 478.2,97.6 478.8,101.7 479.5,99.1 480.1,92 480.8,91.9 481.4,90.4 482.1,95.2 482.7,95.8 483.4,101.1 484,95.9 484.7,93.7 485.3,98.6 486,89.9 486.6,94 487.3,89.2 487.9,89.5 488.6,84.7 489.2,87.7 489.9,96.2 490.5,91.8 491.2,85.7 491.8,74.4 492.5,63.4 493.1,69.1 493.8,73.5 494.4,74.6 495.1,88.5 495.7,98 496.4,100.5 497,100.7 497.7,102.5 498.3,102.1 499,101.2 499.6,97.6 500.3,89.5 500.9,86.8 501.6,77 502.2,74.3 502.9,82.3 503.5,76.9 504.2,79 504.8,85.1 505.5,77.4 506.1,80.9 506.8,82 507.4,79.5 508.1,86.4 508.7,81.9 509.4,76.2 510,78.1 510.7,88.5 511.3,92.6 512,98.5 512.6,96.4 513.3,96.7 513.9,87.1 514.6,77.9 515.2,69.3 515.9,64.8 516.5,66 517.2,74.4 517.8,75.6 518.5,73.3 519.1,75.2 519.8,85.6 520.4,94.9 521.1,101.1 521.7,101.7 522.4,101.6 523,98.6 523.7,94.4 524.3,85.8 525,80.2 525.6,77 526.3,75.4 526.9,81 527.6,86.2 528.2,90.8 528.9,93.8 529.5,90.6 530.2,88.3 530.8,84.7 531.5,89.8 532.1,97.6 532.8,102.3 533.4,102.7 534.1,97.1 534.7,89.9 535.4,82.9 536,83.7 536.7,77.5 537.3,74.8 538,80.5 538.6,85.8 539.3,92.3 539.9,85.4 540.6,85.9 541.2,82.4 541.9,74.3 542.5,75.9 543.2,76.5 543.8,79.9 544.5,72.2 545.1,66.8 545.8,58.2 546.4,62.1 547.1,71.2 547.7,87.4 548.4,90.1 549,87 549.7,91.1 550.3,88.9 551,91.9 551.6,88.5 552.3,88.2 552.9,82 553.6,83.8 554.2,83.4 554.9,82.6 555.5,90 556.2,83.7 556.8,77 557.5,70.5 558.1,80.6 558.8,87.1 559.4,98 560.1,99.1 560.7,106.4 561.4,109.8 562,104.6 562.7,97.9 563.3,88.1 564,86.3 564.6,82.4 565.3,88.1 565.9,84.4 566.6,78.2 567.2,80.8 567.9,83 568.5,89.2 569.2,97.2 569.8,102.9 570.5,99.6 571.1,91.5 571.8,83.4 572.4,86 573.1,89.3 573.7,82.3 574.4,81.3 575,76.4 575.7,75.3 576.3,74.6 577,77.3 577.6,71.9 578.3,73.6 578.9,72.1 579.6,80.9 580.2,92.5 580.9,106.5 581.5,106.3 582.2,93.7 582.8,81.2 583.5,76.5 584.1,78.2 584.8,80.6 585.4,86.8 586.1,88.4 586.7,88.4 587.4,83.2 588,73.5 588.7,71.2 589.3,76.3 590,73.5 590.6,73.9 591.3,78.1 591.9,79.6 592.6,75.7 593.2,77.3 593.9,78.9 594.5,76.5 595.2,76.7 595.8,73.1 596.5,77.7 597.1,74.1 597.8,72.6 598.4,82 599.1,90.8 599.7,87.6 600.4,88.9 601,103.4 601.7,107.7 602.3,114.3 603,104.1 603.6,99.1 604.3,97.4 604.9,94.9 605.6,88.1 606.2,88.8 606.9,88.3 607.5,92.4 608.2,95.3 608.8,95.9 609.5,103.3 610.1,106.5 610.8,102.4 611.4,97.2 612.1,96.4 612.7,100.5 613.4,109.9 614,109.1 614.7,101.7 615.3,91.7 616,84.3 616.6,78 617.3,71.6 617.9,69.7 618.6,86.4 619.2,101.6 619.9,107.2 620.5,97.3 621.2,90.9 621.8,83.6 622.5,81.2 623.1,72.4 623.8,68.2 624.4,75.5 625.1,79.6 625.7,83.5 626.4,88.5 627,96.1 627.7,89.9 628.3,86.7 629,74.7 629.6,71 630.3,69.7 630.9,71.4 631.6,79.9 632.2,86.4 632.9,89 633.5,90.8 634.2,86.4 634.8,91.1 635.5,91.9 636.1,96.6 636.8,101.6 637.4,102.2 638.1,95.4 638.7,93.2 639.4,94 640,93.6 640.7,92.2 641.3,95.3 642,95.6 642.6,103.7 643.3,100.4 643.9,93 644.6,90.1 645.2,90.5 645.9,88.2 646.5,90.3 647.2,99.6 647.8,104.6 648.5,108 649.1,110.9 649.8,106 650.4,100.4 651.1,89.8 651.7,88.8 652.4,89.9 653,86 653.7,82.9 654.3,81.6 655,75.8 655.6,79.6 656.3,84 656.9,88.2 657.6,87.7 658.2,91.5 658.9,88.3 659.5,88 660.2,87.9 660.8,87.2 661.5,81.7 662.1,76.9 662.8,80.1 663.4,78.3 664.1,83.7 664.7,82.2 665.4,77.5 666,80.9 666.7,78.9 667.3,82.5 668,78.4 668.6,86 669.3,81.7 669.9,83.5 670.6,85.6 671.2,93.1 671.9,93.6 672.5,88.9 673.2,91.6 673.8,86.8 674.5,86.8 675.1,83.1 675.8,85.9 676.4,86.1 677.1,93 677.7,92 678.4,90.3 679,81.4 679.7,82.5 680.3,72.3 681,72.3 681.6,65.2 682.3,71.1 682.9,80.6 683.6,82.1"/><rect x="422.1" y="30.4" width="77.3" height="11" fill="#fff" stroke="#444" stroke-width="0.7"/><text x="425.6" y="38.6" font-size="6.4" fill="#222"><tspan font-style="italic">r</tspan><tspan font-size="4" dy="-2.6">2</tspan><tspan dy="2.6"> = 0.8, bias = 1.22 m s</tspan><tspan font-size="4" dy="-2.6">−1</tspan></text><rect x="614" y="28" width="68.5" height="24.5" rx="2" fill="#fff" fill-opacity="0.8"/><line x1="619.5" y1="34.9" x2="627.8" y2="34.9" stroke="#000" stroke-width="1.3"/><text x="633.2" y="36.9" font-size="6.4" text-anchor="start" fill="#222" >Wave Glider</text><line x1="619.5" y1="46" x2="627.8" y2="46" stroke="#2a7abc" stroke-width="1.3"/><text x="633.2" y="48.5" font-size="6.4" text-anchor="start" fill="#222" >ERA5</text><rect x="410.5" y="25.3" width="273.1" height="94.1" fill="none" stroke="#6a6a6a" stroke-width="0.9"/><line x1="406" y1="119.5" x2="410.5" y2="119.5" stroke="#6a6a6a" stroke-width="0.8"/><text x="403.5" y="122" font-size="7.2" text-anchor="end" fill="#222" >0</text><line x1="406" y1="103.8" x2="410.5" y2="103.8" stroke="#6a6a6a" stroke-width="0.8"/><text x="403.5" y="106.3" font-size="7.2" text-anchor="end" fill="#222" >5</text><line x1="406" y1="88.1" x2="410.5" y2="88.1" stroke="#6a6a6a" stroke-width="0.8"/><text x="403.5" y="90.6" font-size="7.2" text-anchor="end" fill="#222" >10</text><line x1="406" y1="72.4" x2="410.5" y2="72.4" stroke="#6a6a6a" stroke-width="0.8"/><text x="403.5" y="74.9" font-size="7.2" text-anchor="end" fill="#222" >15</text><line x1="406" y1="56.7" x2="410.5" y2="56.7" stroke="#6a6a6a" stroke-width="0.8"/><text x="403.5" y="59.2" font-size="7.2" text-anchor="end" fill="#222" >20</text><line x1="406" y1="41" x2="410.5" y2="41" stroke="#6a6a6a" stroke-width="0.8"/><text x="403.5" y="43.5" font-size="7.2" text-anchor="end" fill="#222" >25</text><line x1="406" y1="25.3" x2="410.5" y2="25.3" stroke="#6a6a6a" stroke-width="0.8"/><text x="403.5" y="27.8" font-size="7.2" text-anchor="end" fill="#222" >30</text><line x1="418.7" y1="119.4" x2="418.7" y2="123.4" stroke="#6a6a6a" stroke-width="0.8"/><text x="418.7" y="134" font-size="7.2" text-anchor="middle" fill="#222" >−10</text><line x1="453.4" y1="119.4" x2="453.4" y2="123.4" stroke="#6a6a6a" stroke-width="0.8"/><text x="453.4" y="134" font-size="7.2" text-anchor="middle" fill="#222" >0</text><line x1="488.1" y1="119.4" x2="488.1" y2="123.4" stroke="#6a6a6a" stroke-width="0.8"/><text x="488.1" y="134" font-size="7.2" text-anchor="middle" fill="#222" >10</text><line x1="522.9" y1="119.4" x2="522.9" y2="123.4" stroke="#6a6a6a" stroke-width="0.8"/><text x="522.9" y="134" font-size="7.2" text-anchor="middle" fill="#222" >20</text><line x1="557.6" y1="119.4" x2="557.6" y2="123.4" stroke="#6a6a6a" stroke-width="0.8"/><text x="557.6" y="134" font-size="7.2" text-anchor="middle" fill="#222" >30</text><line x1="592.3" y1="119.4" x2="592.3" y2="123.4" stroke="#6a6a6a" stroke-width="0.8"/><text x="592.3" y="134" font-size="7.2" text-anchor="middle" fill="#222" >40</text><line x1="627" y1="119.4" x2="627" y2="123.4" stroke="#6a6a6a" stroke-width="0.8"/><text x="627" y="134" font-size="7.2" text-anchor="middle" fill="#222" >50</text><line x1="661.8" y1="119.4" x2="661.8" y2="123.4" stroke="#6a6a6a" stroke-width="0.8"/><text x="661.8" y="134" font-size="7.2" text-anchor="middle" fill="#222" >60</text><text transform="translate(384.6,72.5) rotate(-90)" font-size="8.7" text-anchor="middle" fill="#222">10-min wind speed (m s<tspan font-size="5.5" dy="-3">−1</tspan><tspan dy="3">)</tspan></text><g filter="url(#fc)"><rect x="37.5" y="163.2" width="1.3" height="94.1" fill="url(#c0)"/><rect x="38.5" y="163.2" width="1.3" height="94.1" fill="url(#c1)"/><rect x="39.5" y="163.2" width="1.3" height="94.1" fill="url(#c2)"/><rect x="40.5" y="163.2" width="1.3" height="94.1" fill="url(#c3)"/><rect x="41.5" y="163.2" width="1.3" height="94.1" fill="url(#c4)"/><rect x="42.5" y="163.2" width="1.3" height="94.1" fill="url(#c5)"/><rect x="43.5" y="163.2" width="1.3" height="94.1" fill="url(#c6)"/><rect x="44.5" y="163.2" width="1.3" height="94.1" fill="url(#c7)"/><rect x="45.5" y="163.2" width="1.3" height="94.1" fill="url(#c8)"/><rect x="46.5" y="163.2" width="1.3" height="94.1" fill="url(#c9)"/><rect x="47.5" y="163.2" width="1.3" height="94.1" fill="url(#c10)"/><rect x="48.5" y="163.2" width="1.3" height="94.1" fill="url(#c11)"/><rect x="49.5" y="163.2" width="1.3" height="94.1" fill="url(#c12)"/><rect x="50.5" y="163.2" width="1.3" height="94.1" fill="url(#c13)"/><rect x="51.5" y="163.2" width="1.3" height="94.1" fill="url(#c14)"/><rect x="52.5" y="163.2" width="1.3" height="94.1" fill="url(#c15)"/><rect x="53.5" y="163.2" width="1.3" height="94.1" fill="url(#c16)"/><rect x="54.5" y="163.2" width="1.3" height="94.1" fill="url(#c17)"/><rect x="55.5" y="163.2" width="1.3" height="94.1" fill="url(#c18)"/><rect x="56.5" y="163.2" width="1.3" height="94.1" fill="url(#c19)"/><rect x="57.5" y="163.2" width="1.3" height="94.1" fill="url(#c20)"/><rect x="58.5" y="163.2" width="1.3" height="94.1" fill="url(#c21)"/><rect x="59.5" y="163.2" width="1.3" height="94.1" fill="url(#c22)"/><rect x="60.5" y="163.2" width="1.3" height="94.1" fill="url(#c23)"/><rect x="61.5" y="163.2" width="1.3" height="94.1" fill="url(#c24)"/><rect x="62.5" y="163.2" width="1.3" height="94.1" fill="url(#c25)"/><rect x="63.5" y="163.2" width="1.3" height="94.1" fill="url(#c26)"/><rect x="64.5" y="163.2" width="1.3" height="94.1" fill="url(#c27)"/><rect x="65.5" y="163.2" width="1.3" height="94.1" fill="url(#c28)"/><rect x="66.5" y="163.2" width="1.3" height="94.1" fill="url(#c29)"/><rect x="67.5" y="163.2" width="1.3" height="94.1" fill="url(#c30)"/><rect x="68.5" y="163.2" width="1.3" height="94.1" fill="url(#c31)"/><rect x="69.5" y="163.2" width="1.3" height="94.1" fill="url(#c32)"/><rect x="70.5" y="163.2" width="1.3" height="94.1" fill="url(#c33)"/><rect x="71.5" y="163.2" width="1.3" height="94.1" fill="url(#c34)"/><rect x="72.5" y="163.2" width="1.3" height="94.1" fill="url(#c35)"/><rect x="73.5" y="163.2" width="1.3" height="94.1" fill="url(#c36)"/><rect x="74.5" y="163.2" width="1.3" height="94.1" fill="url(#c37)"/><rect x="75.5" y="163.2" width="1.3" height="94.1" fill="url(#c38)"/><rect x="76.5" y="163.2" width="1.3" height="94.1" fill="url(#c39)"/><rect x="77.5" y="163.2" width="1.3" height="94.1" fill="url(#c40)"/><rect x="78.5" y="163.2" width="1.3" height="94.1" fill="url(#c41)"/><rect x="79.5" y="163.2" width="1.3" height="94.1" fill="url(#c42)"/><rect x="80.5" y="163.2" width="1.3" height="94.1" fill="url(#c43)"/><rect x="81.5" y="163.2" width="1.3" height="94.1" fill="url(#c44)"/><rect x="82.5" y="163.2" width="1.3" height="94.1" fill="url(#c45)"/><rect x="83.5" y="163.2" width="1.3" height="94.1" fill="url(#c46)"/><rect x="84.5" y="163.2" width="1.3" height="94.1" fill="url(#c47)"/><rect x="85.5" y="163.2" width="1.3" height="94.1" fill="url(#c48)"/><rect x="86.5" y="163.2" width="1.3" height="94.1" fill="url(#c49)"/><rect x="87.5" y="163.2" width="1.3" height="94.1" fill="url(#c50)"/><rect x="88.5" y="163.2" width="1.3" height="94.1" fill="url(#c51)"/><rect x="89.5" y="163.2" width="1.3" height="94.1" fill="url(#c52)"/><rect x="90.5" y="163.2" width="1.3" height="94.1" fill="url(#c53)"/><rect x="91.5" y="163.2" width="1.3" height="94.1" fill="url(#c54)"/><rect x="92.5" y="163.2" width="1.3" height="94.1" fill="url(#c55)"/><rect x="93.5" y="163.2" width="1.3" height="94.1" fill="url(#c56)"/><rect x="94.5" y="163.2" width="1.3" height="94.1" fill="url(#c57)"/><rect x="95.5" y="163.2" width="1.3" height="94.1" fill="url(#c58)"/><rect x="96.5" y="163.2" width="1.3" height="94.1" fill="url(#c59)"/><rect x="97.5" y="163.2" width="1.3" height="94.1" fill="url(#c60)"/><rect x="98.5" y="163.2" width="1.3" height="94.1" fill="url(#c61)"/><rect x="99.5" y="163.2" width="1.3" height="94.1" fill="url(#c62)"/><rect x="100.5" y="163.2" width="1.3" height="94.1" fill="url(#c63)"/><rect x="101.5" y="163.2" width="1.3" height="94.1" fill="url(#c64)"/><rect x="102.5" y="163.2" width="1.3" height="94.1" fill="url(#c65)"/><rect x="103.5" y="163.2" width="1.3" height="94.1" fill="url(#c66)"/><rect x="104.5" y="163.2" width="1.3" height="94.1" fill="url(#c67)"/><rect x="105.5" y="163.2" width="1.3" height="94.1" fill="url(#c68)"/><rect x="106.5" y="163.2" width="1.3" height="94.1" fill="url(#c69)"/><rect x="107.5" y="163.2" width="1.3" height="94.1" fill="url(#c70)"/><rect x="108.5" y="163.2" width="1.3" height="94.1" fill="url(#c71)"/><rect x="109.5" y="163.2" width="1.3" height="94.1" fill="url(#c72)"/><rect x="110.5" y="163.2" width="1.3" height="94.1" fill="url(#c73)"/><rect x="111.5" y="163.2" width="1.3" height="94.1" fill="url(#c74)"/><rect x="112.5" y="163.2" width="1.3" height="94.1" fill="url(#c75)"/><rect x="113.5" y="163.2" width="1.3" height="94.1" fill="url(#c76)"/><rect x="114.5" y="163.2" width="1.3" height="94.1" fill="url(#c77)"/><rect x="115.5" y="163.2" width="1.3" height="94.1" fill="url(#c78)"/><rect x="116.5" y="163.2" width="1.3" height="94.1" fill="url(#c79)"/><rect x="117.5" y="163.2" width="1.3" height="94.1" fill="url(#c80)"/><rect x="118.5" y="163.2" width="1.3" height="94.1" fill="url(#c81)"/><rect x="119.5" y="163.2" width="1.3" height="94.1" fill="url(#c82)"/><rect x="120.5" y="163.2" width="1.3" height="94.1" fill="url(#c83)"/><rect x="121.5" y="163.2" width="1.3" height="94.1" fill="url(#c84)"/><rect x="122.5" y="163.2" width="1.3" height="94.1" fill="url(#c85)"/><rect x="123.5" y="163.2" width="1.3" height="94.1" fill="url(#c86)"/><rect x="124.5" y="163.2" width="1.3" height="94.1" fill="url(#c87)"/><rect x="125.5" y="163.2" width="1.3" height="94.1" fill="url(#c88)"/><rect x="126.5" y="163.2" width="1.3" height="94.1" fill="url(#c89)"/><rect x="127.5" y="163.2" width="1.3" height="94.1" fill="url(#c90)"/><rect x="128.5" y="163.2" width="1.3" height="94.1" fill="url(#c91)"/><rect x="129.5" y="163.2" width="1.3" height="94.1" fill="url(#c92)"/><rect x="130.5" y="163.2" width="1.3" height="94.1" fill="url(#c93)"/><rect x="131.5" y="163.2" width="1.3" height="94.1" fill="url(#c94)"/><rect x="132.5" y="163.2" width="1.3" height="94.1" fill="url(#c95)"/><rect x="133.5" y="163.2" width="1.3" height="94.1" fill="url(#c96)"/><rect x="134.5" y="163.2" width="1.3" height="94.1" fill="url(#c97)"/><rect x="135.5" y="163.2" width="1.3" height="94.1" fill="url(#c98)"/><rect x="136.5" y="163.2" width="1.3" height="94.1" fill="url(#c99)"/><rect x="137.5" y="163.2" width="1.3" height="94.1" fill="url(#c100)"/><rect x="138.5" y="163.2" width="1.3" height="94.1" fill="url(#c101)"/><rect x="139.5" y="163.2" width="1.3" height="94.1" fill="url(#c102)"/><rect x="140.5" y="163.2" width="1.3" height="94.1" fill="url(#c103)"/><rect x="141.5" y="163.2" width="1.3" height="94.1" fill="url(#c104)"/><rect x="142.5" y="163.2" width="1.3" height="94.1" fill="url(#c105)"/><rect x="143.5" y="163.2" width="1.3" height="94.1" fill="url(#c106)"/><rect x="144.5" y="163.2" width="1.3" height="94.1" fill="url(#c107)"/><rect x="145.5" y="163.2" width="1.3" height="94.1" fill="url(#c108)"/><rect x="146.5" y="163.2" width="1.3" height="94.1" fill="url(#c109)"/><rect x="147.5" y="163.2" width="1.3" height="94.1" fill="url(#c110)"/><rect x="148.5" y="163.2" width="1.3" height="94.1" fill="url(#c111)"/><rect x="149.5" y="163.2" width="1.3" height="94.1" fill="url(#c112)"/><rect x="150.5" y="163.2" width="1.3" height="94.1" fill="url(#c113)"/><rect x="151.5" y="163.2" width="1.3" height="94.1" fill="url(#c114)"/><rect x="152.5" y="163.2" width="1.3" height="94.1" fill="url(#c115)"/><rect x="153.5" y="163.2" width="1.3" height="94.1" fill="url(#c116)"/><rect x="154.5" y="163.2" width="1.3" height="94.1" fill="url(#c117)"/><rect x="155.5" y="163.2" width="1.3" height="94.1" fill="url(#c118)"/><rect x="156.5" y="163.2" width="1.3" height="94.1" fill="url(#c119)"/><rect x="157.5" y="163.2" width="1.3" height="94.1" fill="url(#c120)"/><rect x="158.5" y="163.2" width="1.3" height="94.1" fill="url(#c121)"/><rect x="159.5" y="163.2" width="1.3" height="94.1" fill="url(#c122)"/><rect x="160.5" y="163.2" width="1.3" height="94.1" fill="url(#c123)"/><rect x="161.5" y="163.2" width="1.3" height="94.1" fill="url(#c124)"/><rect x="162.5" y="163.2" width="1.3" height="94.1" fill="url(#c125)"/><rect x="163.5" y="163.2" width="1.3" height="94.1" fill="url(#c126)"/><rect x="164.5" y="163.2" width="1.3" height="94.1" fill="url(#c127)"/><rect x="165.5" y="163.2" width="1.3" height="94.1" fill="url(#c128)"/><rect x="166.5" y="163.2" width="1.3" height="94.1" fill="url(#c129)"/><rect x="167.5" y="163.2" width="1.3" height="94.1" fill="url(#c130)"/><rect x="168.5" y="163.2" width="1.3" height="94.1" fill="url(#c131)"/><rect x="169.5" y="163.2" width="1.3" height="94.1" fill="url(#c132)"/><rect x="170.5" y="163.2" width="1.3" height="94.1" fill="url(#c133)"/><rect x="171.5" y="163.2" width="1.3" height="94.1" fill="url(#c134)"/><rect x="172.5" y="163.2" width="1.3" height="94.1" fill="url(#c135)"/><rect x="173.5" y="163.2" width="1.3" height="94.1" fill="url(#c136)"/><rect x="174.5" y="163.2" width="1.3" height="94.1" fill="url(#c137)"/><rect x="175.5" y="163.2" width="1.3" height="94.1" fill="url(#c138)"/><rect x="176.5" y="163.2" width="1.3" height="94.1" fill="url(#c139)"/><rect x="177.5" y="163.2" width="1.3" height="94.1" fill="url(#c140)"/><rect x="178.5" y="163.2" width="1.3" height="94.1" fill="url(#c141)"/><rect x="179.5" y="163.2" width="1.3" height="94.1" fill="url(#c142)"/><rect x="180.5" y="163.2" width="1.3" height="94.1" fill="url(#c143)"/><rect x="181.5" y="163.2" width="1.3" height="94.1" fill="url(#c144)"/><rect x="182.5" y="163.2" width="1.3" height="94.1" fill="url(#c145)"/><rect x="183.5" y="163.2" width="1.3" height="94.1" fill="url(#c146)"/><rect x="184.5" y="163.2" width="1.3" height="94.1" fill="url(#c147)"/><rect x="185.5" y="163.2" width="1.3" height="94.1" fill="url(#c148)"/><rect x="186.5" y="163.2" width="1.3" height="94.1" fill="url(#c149)"/><rect x="187.5" y="163.2" width="1.3" height="94.1" fill="url(#c150)"/><rect x="188.5" y="163.2" width="1.3" height="94.1" fill="url(#c151)"/><rect x="189.5" y="163.2" width="1.3" height="94.1" fill="url(#c152)"/><rect x="190.5" y="163.2" width="1.3" height="94.1" fill="url(#c153)"/><rect x="191.5" y="163.2" width="1.3" height="94.1" fill="url(#c154)"/><rect x="192.5" y="163.2" width="1.3" height="94.1" fill="url(#c155)"/><rect x="193.5" y="163.2" width="1.3" height="94.1" fill="url(#c156)"/><rect x="194.5" y="163.2" width="1.3" height="94.1" fill="url(#c157)"/><rect x="195.5" y="163.2" width="1.3" height="94.1" fill="url(#c158)"/><rect x="196.5" y="163.2" width="1.3" height="94.1" fill="url(#c159)"/><rect x="197.5" y="163.2" width="1.3" height="94.1" fill="url(#c160)"/><rect x="198.5" y="163.2" width="1.3" height="94.1" fill="url(#c161)"/><rect x="199.5" y="163.2" width="1.3" height="94.1" fill="url(#c162)"/><rect x="200.5" y="163.2" width="1.3" height="94.1" fill="url(#c163)"/><rect x="201.5" y="163.2" width="1.3" height="94.1" fill="url(#c164)"/><rect x="202.5" y="163.2" width="1.3" height="94.1" fill="url(#c165)"/><rect x="203.5" y="163.2" width="1.3" height="94.1" fill="url(#c166)"/><rect x="204.5" y="163.2" width="1.3" height="94.1" fill="url(#c167)"/><rect x="205.5" y="163.2" width="1.3" height="94.1" fill="url(#c168)"/><rect x="206.5" y="163.2" width="1.3" height="94.1" fill="url(#c169)"/><rect x="207.5" y="163.2" width="1.3" height="94.1" fill="url(#c170)"/><rect x="208.5" y="163.2" width="1.3" height="94.1" fill="url(#c171)"/><rect x="209.5" y="163.2" width="1.3" height="94.1" fill="url(#c172)"/><rect x="210.5" y="163.2" width="1.3" height="94.1" fill="url(#c173)"/><rect x="211.5" y="163.2" width="1.3" height="94.1" fill="url(#c174)"/><rect x="212.5" y="163.2" width="1.3" height="94.1" fill="url(#c175)"/><rect x="213.5" y="163.2" width="1.3" height="94.1" fill="url(#c176)"/><rect x="214.5" y="163.2" width="1.3" height="94.1" fill="url(#c177)"/><rect x="215.5" y="163.2" width="1.3" height="94.1" fill="url(#c178)"/><rect x="216.5" y="163.2" width="1.3" height="94.1" fill="url(#c179)"/><rect x="217.5" y="163.2" width="1.3" height="94.1" fill="url(#c180)"/><rect x="218.5" y="163.2" width="1.3" height="94.1" fill="url(#c181)"/><rect x="219.5" y="163.2" width="1.3" height="94.1" fill="url(#c182)"/><rect x="220.5" y="163.2" width="1.3" height="94.1" fill="url(#c183)"/><rect x="221.5" y="163.2" width="1.3" height="94.1" fill="url(#c184)"/><rect x="222.5" y="163.2" width="1.3" height="94.1" fill="url(#c185)"/><rect x="223.5" y="163.2" width="1.3" height="94.1" fill="url(#c186)"/><rect x="224.5" y="163.2" width="1.3" height="94.1" fill="url(#c187)"/><rect x="225.5" y="163.2" width="1.3" height="94.1" fill="url(#c188)"/><rect x="226.5" y="163.2" width="1.3" height="94.1" fill="url(#c189)"/><rect x="227.5" y="163.2" width="1.3" height="94.1" fill="url(#c190)"/><rect x="228.5" y="163.2" width="1.3" height="94.1" fill="url(#c191)"/><rect x="229.5" y="163.2" width="1.3" height="94.1" fill="url(#c192)"/><rect x="230.5" y="163.2" width="1.3" height="94.1" fill="url(#c193)"/><rect x="231.5" y="163.2" width="1.3" height="94.1" fill="url(#c194)"/><rect x="232.5" y="163.2" width="1.3" height="94.1" fill="url(#c195)"/><rect x="233.5" y="163.2" width="1.3" height="94.1" fill="url(#c196)"/><rect x="234.5" y="163.2" width="1.3" height="94.1" fill="url(#c197)"/><rect x="235.5" y="163.2" width="1.3" height="94.1" fill="url(#c198)"/><rect x="236.5" y="163.2" width="1.3" height="94.1" fill="url(#c199)"/><rect x="237.5" y="163.2" width="1.3" height="94.1" fill="url(#c200)"/><rect x="238.5" y="163.2" width="1.3" height="94.1" fill="url(#c201)"/><rect x="239.5" y="163.2" width="1.3" height="94.1" fill="url(#c202)"/><rect x="240.5" y="163.2" width="1.3" height="94.1" fill="url(#c203)"/><rect x="241.5" y="163.2" width="1.3" height="94.1" fill="url(#c204)"/><rect x="242.5" y="163.2" width="1.3" height="94.1" fill="url(#c205)"/><rect x="243.5" y="163.2" width="1.3" height="94.1" fill="url(#c206)"/><rect x="244.5" y="163.2" width="1.3" height="94.1" fill="url(#c207)"/><rect x="245.5" y="163.2" width="1.3" height="94.1" fill="url(#c208)"/><rect x="246.5" y="163.2" width="1.3" height="94.1" fill="url(#c209)"/><rect x="247.5" y="163.2" width="1.3" height="94.1" fill="url(#c210)"/><rect x="248.5" y="163.2" width="1.3" height="94.1" fill="url(#c211)"/><rect x="249.5" y="163.2" width="1.3" height="94.1" fill="url(#c212)"/><rect x="250.5" y="163.2" width="1.3" height="94.1" fill="url(#c213)"/><rect x="251.5" y="163.2" width="1.3" height="94.1" fill="url(#c214)"/><rect x="252.5" y="163.2" width="1.3" height="94.1" fill="url(#c215)"/><rect x="253.5" y="163.2" width="1.3" height="94.1" fill="url(#c216)"/><rect x="254.5" y="163.2" width="1.3" height="94.1" fill="url(#c217)"/><rect x="255.5" y="163.2" width="1.3" height="94.1" fill="url(#c218)"/><rect x="256.5" y="163.2" width="1.3" height="94.1" fill="url(#c219)"/><rect x="257.5" y="163.2" width="1.3" height="94.1" fill="url(#c220)"/><rect x="258.5" y="163.2" width="1.3" height="94.1" fill="url(#c221)"/><rect x="259.5" y="163.2" width="1.3" height="94.1" fill="url(#c222)"/><rect x="260.5" y="163.2" width="1.3" height="94.1" fill="url(#c223)"/><rect x="261.5" y="163.2" width="1.3" height="94.1" fill="url(#c224)"/><rect x="262.5" y="163.2" width="1.3" height="94.1" fill="url(#c225)"/><rect x="263.5" y="163.2" width="1.3" height="94.1" fill="url(#c226)"/><rect x="264.5" y="163.2" width="1.3" height="94.1" fill="url(#c227)"/><rect x="265.5" y="163.2" width="1.3" height="94.1" fill="url(#c228)"/><rect x="266.5" y="163.2" width="1.3" height="94.1" fill="url(#c229)"/><rect x="267.5" y="163.2" width="1.3" height="94.1" fill="url(#c230)"/><rect x="268.5" y="163.2" width="1.3" height="94.1" fill="url(#c231)"/><rect x="269.5" y="163.2" width="1.3" height="94.1" fill="url(#c232)"/><rect x="270.5" y="163.2" width="1.3" height="94.1" fill="url(#c233)"/><rect x="271.5" y="163.2" width="1.3" height="94.1" fill="url(#c234)"/><rect x="272.5" y="163.2" width="1.3" height="94.1" fill="url(#c235)"/><rect x="273.5" y="163.2" width="1.3" height="94.1" fill="url(#c236)"/><rect x="274.5" y="163.2" width="1.3" height="94.1" fill="url(#c237)"/><rect x="275.5" y="163.2" width="1.3" height="94.1" fill="url(#c238)"/><rect x="276.5" y="163.2" width="1.3" height="94.1" fill="url(#c239)"/><rect x="277.5" y="163.2" width="1.3" height="94.1" fill="url(#c240)"/><rect x="278.5" y="163.2" width="1.3" height="94.1" fill="url(#c241)"/><rect x="279.5" y="163.2" width="1.3" height="94.1" fill="url(#c242)"/><rect x="280.5" y="163.2" width="1.3" height="94.1" fill="url(#c243)"/><rect x="281.5" y="163.2" width="1.3" height="94.1" fill="url(#c244)"/><rect x="282.5" y="163.2" width="1.3" height="94.1" fill="url(#c245)"/><rect x="283.5" y="163.2" width="1.3" height="94.1" fill="url(#c246)"/><rect x="284.5" y="163.2" width="1.3" height="94.1" fill="url(#c247)"/><rect x="285.5" y="163.2" width="1.3" height="94.1" fill="url(#c248)"/><rect x="286.5" y="163.2" width="1.3" height="94.1" fill="url(#c249)"/><rect x="287.5" y="163.2" width="1.3" height="94.1" fill="url(#c250)"/><rect x="288.5" y="163.2" width="1.3" height="94.1" fill="url(#c251)"/><rect x="289.5" y="163.2" width="1.3" height="94.1" fill="url(#c252)"/><rect x="290.5" y="163.2" width="1.3" height="94.1" fill="url(#c253)"/><rect x="291.5" y="163.2" width="1.3" height="94.1" fill="url(#c254)"/><rect x="292.5" y="163.2" width="1.3" height="94.1" fill="url(#c255)"/><rect x="293.5" y="163.2" width="1.3" height="94.1" fill="url(#c256)"/><rect x="294.5" y="163.2" width="1.3" height="94.1" fill="url(#c257)"/><rect x="295.5" y="163.2" width="1.3" height="94.1" fill="url(#c258)"/><rect x="296.5" y="163.2" width="1.3" height="94.1" fill="url(#c259)"/><rect x="297.5" y="163.2" width="1.3" height="94.1" fill="url(#c260)"/><rect x="298.5" y="163.2" width="1.3" height="94.1" fill="url(#c261)"/><rect x="299.5" y="163.2" width="1.3" height="94.1" fill="url(#c262)"/><rect x="300.5" y="163.2" width="1.3" height="94.1" fill="url(#c263)"/><rect x="301.5" y="163.2" width="1.3" height="94.1" fill="url(#c264)"/><rect x="302.5" y="163.2" width="1.3" height="94.1" fill="url(#c265)"/><rect x="303.5" y="163.2" width="1.3" height="94.1" fill="url(#c266)"/><rect x="304.5" y="163.2" width="1.3" height="94.1" fill="url(#c267)"/><rect x="305.5" y="163.2" width="1.3" height="94.1" fill="url(#c268)"/><rect x="306.5" y="163.2" width="1.3" height="94.1" fill="url(#c269)"/><rect x="307.5" y="163.2" width="1.3" height="94.1" fill="url(#c270)"/><rect x="308.5" y="163.2" width="1.3" height="94.1" fill="url(#c271)"/><rect x="309.5" y="163.2" width="1" height="94.1" fill="url(#c272)"/><rect x="310.5" y="163.2" width="0.3" height="94.1" fill="url(#c273)"/></g><polyline fill="none" stroke="#c72bc6" stroke-width="1.3" stroke-linejoin="round"  points="37.9,217.1 38.8,232.4 39.7,218.2 40.6,233.1 41.5,220.3 42.4,230.1 43.3,220.7 44.2,218.7 45.1,231.5 46,218.4 46.9,215.5 47.8,225.4 48.7,215.5 49.6,214.9 50.5,218.4 51.4,229 52.3,214.3 53.2,227.9 54.1,214.2 55,229.3 55.9,219.9 56.8,226 57.7,215.1 58.6,214.1 59.5,223.1 60.4,210.8 61.3,219.6 62.2,202.7 63.1,217.1 64,204.2 64.9,218.8 65.8,223.6 66.7,215.9 67.6,226 68.5,217.2 69.4,229.9 70.3,217.6 71.2,228.8 72.1,228.6 73,215.4 73.9,228.1 74.8,215.8 75.7,229.2 76.6,218.9 77.5,227.1 78.4,231.1 79.3,230.9 80.2,218.6 81.1,229.4 82,221.1 82.9,233.6 83.8,217.8 84.7,227.7 85.6,217.1 86.5,216.5 87.4,227.6 88.3,216.4 89.2,219.2 90.1,226.1 91,216.3 91.9,227.7 92.8,219.2 93.7,225.8 94.6,216.2 95.5,227.2 96.4,218.4 97.3,226.8 98.2,216.4 99.1,223.5 100,215.9 100.9,227.1 101.8,215.9 102.7,216 103.6,228.9 104.5,218.3 105.4,224.9 106.3,216.6 107.2,233.5 108.1,215.9 109,225.5 109.9,200 110.8,190 111.7,175.5 112.6,183 113.5,198.1 114.4,189.2 115.3,215.5 116.2,197.8 117.1,221.6 118,217.6 118.9,226.5 119.8,218.8 120.7,225.6 121.6,205.9 122.5,207.4 123.4,171.8 124.3,186.8 125.2,182 126.1,189.5 127,206.3 127.9,197.6 128.8,185.4 129.7,211.7 130.6,201.7 131.5,218.2 132.4,204.4 133.3,206.1 134.2,216.7 135.1,204.8 136,218.6 136.9,200.8 137.8,209.8 138.7,214.4 139.6,197 140.5,209.6 141.4,195.5 142.3,212.7 143.2,194 144.1,206.4 145,196.2 145.9,209.9 146.8,197.8 147.7,206.7 148.6,193.3 149.5,203.1 150.4,211.4 151.3,193.1 152.2,206.2 153.1,192.1 154,203.9 154.9,191.1 155.8,203.2 156.7,205.4 157.6,185.2 158.5,173.1 159.4,190.8 160.3,165.3 161.2,189.7 162.1,177.6 163,195.5 163.9,180.2 164.8,193.8 165.7,185.6 166.6,198.6 167.5,194.1 168.4,207.5 169.3,196 170.2,211.1 171.1,202.2 172,210.6 172.9,200.9 173.8,214.1 174.7,212.8 175.6,203.8 176.5,204.7 177.4,213.9 178.3,217.3 179.2,226.7 180.1,211.1 181,218.8 181.9,208.2 182.8,219.1 183.7,206.1 184.6,216.6 185.5,207.1 186.4,213.5 187.3,206.5 188.2,216.9 189.1,207.5 190,214.7 190.9,206.2 191.8,212.3 192.7,205.2 193.6,214.5 194.5,202.9 195.4,209.2 196.3,206.6 197.2,215.2 198.1,201.9 199,212.2 199.9,201.3 200.8,211.2 201.7,202.7 202.6,212.7 203.5,201.6 204.4,212.8 205.3,204.4 206.2,216.7 207.1,204.8 208,214.8 208.9,217.9 209.8,206.7 210.7,215.8 211.6,202.9 212.5,211.9 213.4,204 214.3,207.2 215.2,214.6 216.1,205 217,213.1 217.9,204.4 218.8,212.7 219.7,202.7 220.6,215.4 221.5,206.2 222.4,216.2 223.3,204.7 224.2,203.4 225.1,214.5 226,202 226.9,211.5 227.8,200.5 228.7,205.9 229.6,200 230.5,210.2 231.4,208.6 232.3,198.5 233.2,207 234.1,197.3 235,208.4 235.9,199.1 236.8,194.4 237.7,202.4 238.6,185.6 239.5,190.4 240.4,184 241.3,200.4 242.2,190.9 243.1,186.4 244,191.4 244.9,209.4 245.8,198.8 246.7,211 247.6,200.5 248.5,197.2 249.4,202.8 250.3,206.4 251.2,203.8 252.1,215.7 253,203.5 253.9,208.9 254.8,211.7 255.7,209.9 256.6,199.6 257.5,199.7 258.4,200.1 259.3,217.6 260.2,203.2 261.1,214 262,214.7 262.9,212.5 263.8,201.9 264.7,200.4 265.6,201 266.5,214.4 267.4,200.9 268.3,201.2 269.2,214 270.1,201.5 271,214.7 271.9,199.3 272.8,217 273.7,212 274.6,209.8 275.5,201.1 276.4,208.7 277.3,199.1 278.2,209.8 279.1,199 280,212.5 280.9,198.9 281.8,209.4 282.7,198.8 283.6,215.4 284.5,198.7 285.4,212.7 286.3,202.4 287.2,218.4 288.1,198.6 289,214.7 289.9,203.4 290.8,205.8 291.7,211.1 292.6,201.2 293.5,209.6 294.4,200.3 295.3,211.7 296.2,203.4 297.1,212.2 298,203 298.9,213.3 299.8,198 300.7,210.7 301.6,198.5 302.5,206.3 303.4,206.9 304.3,207 305.2,200.1 306.1,210.2 307,213.7 307.9,202.6 308.8,213.8 309.7,203.2"/><rect x="37.8" y="158.3" width="8.2" height="3.6" fill="#6a6a6a"/><rect x="48.1" y="158.3" width="8.8" height="3.6" fill="#4a4a4a"/><rect x="57" y="158.3" width="2" height="3.6" fill="#dddddd"/><rect x="63.4" y="158.3" width="4.6" height="3.6" fill="#3a3a3a"/><rect x="68" y="158.3" width="4" height="3.6" fill="#5e5e5e"/><rect x="72" y="158.3" width="4.9" height="3.6" fill="#c8c8c8"/><rect x="93" y="158.3" width="4.8" height="3.6" fill="#1a1a1a"/><rect x="99.6" y="158.3" width="2.3" height="3.6" fill="#cccccc"/><rect x="105" y="158.3" width="4.9" height="3.6" fill="#999999"/><rect x="116" y="158.3" width="6.2" height="3.6" fill="#3d3d3d"/><rect x="122.2" y="158.3" width="5.3" height="3.6" fill="#dddddd"/><rect x="130.8" y="158.3" width="2" height="3.6" fill="#777777"/><rect x="149" y="158.3" width="7.6" height="3.6" fill="#a5a5a5"/><rect x="165.8" y="158.3" width="2.4" height="3.6" fill="#555555"/><rect x="171" y="158.3" width="3.9" height="3.6" fill="#444444"/><rect x="177.1" y="158.3" width="2.6" height="3.6" fill="#bbbbbb"/><rect x="188.3" y="158.3" width="4.1" height="3.6" fill="#999999"/><rect x="192.4" y="158.3" width="2.6" height="3.6" fill="#666666"/><rect x="195" y="158.3" width="6.1" height="3.6" fill="#999999"/><rect x="206.7" y="158.3" width="3.1" height="3.6" fill="#555555"/><rect x="209.8" y="158.3" width="2.6" height="3.6" fill="#111111"/><rect x="212.4" y="158.3" width="4.6" height="3.6" fill="#aaaaaa"/><rect x="223.6" y="158.3" width="4.4" height="3.6" fill="#666666"/><rect x="228" y="158.3" width="7.9" height="3.6" fill="#aaaaaa"/><rect x="246.8" y="158.3" width="2.7" height="3.6" fill="#bbbbbb"/><rect x="254.2" y="158.3" width="6.8" height="3.6" fill="#777777"/><rect x="265.2" y="158.3" width="2.3" height="3.6" fill="#cccccc"/><rect x="268.4" y="158.3" width="3.6" height="3.6" fill="#888888"/><rect x="283.6" y="158.3" width="2.6" height="3.6" fill="#eeeeee"/><rect x="288.9" y="158.3" width="5.8" height="3.6" fill="#555555"/><rect x="298.9" y="158.3" width="3.1" height="3.6" fill="#999999"/><rect x="307" y="158.3" width="3.6" height="3.6" fill="#bbbbbb"/><line x1="37.5" y1="163.2" x2="310.8" y2="163.2" stroke="#6a6a6a" stroke-width="0.9"/><line x1="37.7" y1="163.2" x2="37.7" y2="257.3" stroke="#bbb" stroke-width="1.2"/><line x1="32.5" y1="163.2" x2="37" y2="163.2" stroke="#6a6a6a" stroke-width="0.8"/><text x="30" y="165.7" font-size="7.2" text-anchor="end" fill="#222" >0</text><line x1="32.5" y1="186.7" x2="37" y2="186.7" stroke="#6a6a6a" stroke-width="0.8"/><text x="30" y="189.2" font-size="7.2" text-anchor="end" fill="#222" >50</text><line x1="32.5" y1="210.2" x2="37" y2="210.2" stroke="#6a6a6a" stroke-width="0.8"/><text x="30" y="212.8" font-size="7.2" text-anchor="end" fill="#222" >100</text><line x1="32.5" y1="233.8" x2="37" y2="233.8" stroke="#6a6a6a" stroke-width="0.8"/><text x="30" y="236.3" font-size="7.2" text-anchor="end" fill="#222" >150</text><line x1="32.5" y1="257.3" x2="37" y2="257.3" stroke="#6a6a6a" stroke-width="0.8"/><text x="30" y="259.8" font-size="7.2" text-anchor="end" fill="#222" >200</text><line x1="46" y1="257.3" x2="46" y2="261.3" stroke="#6a6a6a" stroke-width="0.8"/><text x="46" y="271.8" font-size="7.2" text-anchor="middle" fill="#222" >−10</text><line x1="80.7" y1="257.3" x2="80.7" y2="261.3" stroke="#6a6a6a" stroke-width="0.8"/><text x="80.7" y="271.8" font-size="7.2" text-anchor="middle" fill="#222" >0</text><line x1="115.4" y1="257.3" x2="115.4" y2="261.3" stroke="#6a6a6a" stroke-width="0.8"/><text x="115.4" y="271.8" font-size="7.2" text-anchor="middle" fill="#222" >10</text><line x1="150.2" y1="257.3" x2="150.2" y2="261.3" stroke="#6a6a6a" stroke-width="0.8"/><text x="150.2" y="271.8" font-size="7.2" text-anchor="middle" fill="#222" >20</text><line x1="184.9" y1="257.3" x2="184.9" y2="261.3" stroke="#6a6a6a" stroke-width="0.8"/><text x="184.9" y="271.8" font-size="7.2" text-anchor="middle" fill="#222" >30</text><line x1="219.6" y1="257.3" x2="219.6" y2="261.3" stroke="#6a6a6a" stroke-width="0.8"/><text x="219.6" y="271.8" font-size="7.2" text-anchor="middle" fill="#222" >40</text><line x1="254.4" y1="257.3" x2="254.4" y2="261.3" stroke="#6a6a6a" stroke-width="0.8"/><text x="254.4" y="271.8" font-size="7.2" text-anchor="middle" fill="#222" >50</text><line x1="289.1" y1="257.3" x2="289.1" y2="261.3" stroke="#6a6a6a" stroke-width="0.8"/><text x="289.1" y="271.8" font-size="7.2" text-anchor="middle" fill="#222" >60</text><text transform="translate(7.2,209.8) rotate(-90)" font-size="8.8" text-anchor="middle" fill="#222">Depth (m)</text><rect x="314.3" y="159.8" width="5.3" height="94.7" fill="url(#cbc)" stroke="#555" stroke-width="0.5"/><line x1="319.6" y1="159.8" x2="322.3" y2="159.8" stroke="#555" stroke-width="0.7"/><text x="325.6" y="162.3" font-size="7.2" text-anchor="start" fill="#222" >3</text><line x1="319.6" y1="183.5" x2="322.3" y2="183.5" stroke="#555" stroke-width="0.7"/><text x="325.6" y="186" font-size="7.2" text-anchor="start" fill="#222" >2</text><line x1="319.6" y1="207.2" x2="322.3" y2="207.2" stroke="#555" stroke-width="0.7"/><text x="325.6" y="209.7" font-size="7.2" text-anchor="start" fill="#222" >1</text><line x1="319.6" y1="230.8" x2="322.3" y2="230.8" stroke="#555" stroke-width="0.7"/><text x="325.6" y="233.3" font-size="7.2" text-anchor="start" fill="#222" >0</text><line x1="319.6" y1="254.5" x2="322.3" y2="254.5" stroke="#555" stroke-width="0.7"/><text x="325.6" y="257" font-size="7.2" text-anchor="start" fill="#222" >−1</text><text transform="translate(349.2,207.3) rotate(90)" font-size="8.8" text-anchor="middle" fill="#222">Thermal stratification</text><text transform="translate(340.4,207.2) rotate(90)" font-size="8" text-anchor="middle" fill="#222">(×10<tspan font-size="5.5" dy="-3">−5</tspan><tspan dy="3">) (s</tspan><tspan font-size="5.5" dy="-3">−2</tspan><tspan dy="3">)</tspan></text><rect x="410.5" y="163.6" width="8.2" height="93.8" fill="#dcdcdc"/><rect x="420.8" y="163.6" width="8.8" height="93.8" fill="#dcdcdc"/><rect x="429.7" y="163.6" width="2" height="93.8" fill="#ebebeb"/><rect x="436.1" y="163.6" width="4.6" height="93.8" fill="#dcdcdc"/><rect x="440.7" y="163.6" width="4" height="93.8" fill="#dcdcdc"/><rect x="444.7" y="163.6" width="4.9" height="93.8" fill="#dcdcdc"/><rect x="465.7" y="163.6" width="4.8" height="93.8" fill="#dcdcdc"/><rect x="472.3" y="163.6" width="2.3" height="93.8" fill="#dcdcdc"/><rect x="477.7" y="163.6" width="4.9" height="93.8" fill="#dcdcdc"/><rect x="488.7" y="163.6" width="6.2" height="93.8" fill="#dcdcdc"/><rect x="494.9" y="163.6" width="5.3" height="93.8" fill="#ebebeb"/><rect x="503.5" y="163.6" width="2" height="93.8" fill="#dcdcdc"/><rect x="521.7" y="163.6" width="7.6" height="93.8" fill="#dcdcdc"/><rect x="538.5" y="163.6" width="2.4" height="93.8" fill="#dcdcdc"/><rect x="543.7" y="163.6" width="3.9" height="93.8" fill="#dcdcdc"/><rect x="549.8" y="163.6" width="2.6" height="93.8" fill="#dcdcdc"/><rect x="561" y="163.6" width="4.1" height="93.8" fill="#dcdcdc"/><rect x="565.1" y="163.6" width="2.6" height="93.8" fill="#dcdcdc"/><rect x="567.7" y="163.6" width="6.1" height="93.8" fill="#dcdcdc"/><rect x="579.4" y="163.6" width="3.1" height="93.8" fill="#dcdcdc"/><rect x="582.5" y="163.6" width="2.6" height="93.8" fill="#dcdcdc"/><rect x="585.1" y="163.6" width="4.6" height="93.8" fill="#dcdcdc"/><rect x="596.3" y="163.6" width="4.4" height="93.8" fill="#dcdcdc"/><rect x="600.7" y="163.6" width="7.9" height="93.8" fill="#dcdcdc"/><rect x="619.5" y="163.6" width="2.7" height="93.8" fill="#dcdcdc"/><rect x="626.9" y="163.6" width="6.8" height="93.8" fill="#dcdcdc"/><rect x="637.9" y="163.6" width="2.3" height="93.8" fill="#dcdcdc"/><rect x="641.1" y="163.6" width="3.6" height="93.8" fill="#dcdcdc"/><rect x="656.3" y="163.6" width="2.6" height="93.8" fill="#ebebeb"/><rect x="661.6" y="163.6" width="5.8" height="93.8" fill="#dcdcdc"/><rect x="671.6" y="163.6" width="3.1" height="93.8" fill="#dcdcdc"/><rect x="679.7" y="163.6" width="3.6" height="93.8" fill="#dcdcdc"/><rect x="410.5" y="158.3" width="8.2" height="3.6" fill="#6a6a6a"/><rect x="420.8" y="158.3" width="8.8" height="3.6" fill="#4a4a4a"/><rect x="429.7" y="158.3" width="2" height="3.6" fill="#dddddd"/><rect x="436.1" y="158.3" width="4.6" height="3.6" fill="#3a3a3a"/><rect x="440.7" y="158.3" width="4" height="3.6" fill="#5e5e5e"/><rect x="444.7" y="158.3" width="4.9" height="3.6" fill="#c8c8c8"/><rect x="465.7" y="158.3" width="4.8" height="3.6" fill="#1a1a1a"/><rect x="472.3" y="158.3" width="2.3" height="3.6" fill="#cccccc"/><rect x="477.7" y="158.3" width="4.9" height="3.6" fill="#999999"/><rect x="488.7" y="158.3" width="6.2" height="3.6" fill="#3d3d3d"/><rect x="494.9" y="158.3" width="5.3" height="3.6" fill="#dddddd"/><rect x="503.5" y="158.3" width="2" height="3.6" fill="#777777"/><rect x="521.7" y="158.3" width="7.6" height="3.6" fill="#a5a5a5"/><rect x="538.5" y="158.3" width="2.4" height="3.6" fill="#555555"/><rect x="543.7" y="158.3" width="3.9" height="3.6" fill="#444444"/><rect x="549.8" y="158.3" width="2.6" height="3.6" fill="#bbbbbb"/><rect x="561" y="158.3" width="4.1" height="3.6" fill="#999999"/><rect x="565.1" y="158.3" width="2.6" height="3.6" fill="#666666"/><rect x="567.7" y="158.3" width="6.1" height="3.6" fill="#999999"/><rect x="579.4" y="158.3" width="3.1" height="3.6" fill="#555555"/><rect x="582.5" y="158.3" width="2.6" height="3.6" fill="#111111"/><rect x="585.1" y="158.3" width="4.6" height="3.6" fill="#aaaaaa"/><rect x="596.3" y="158.3" width="4.4" height="3.6" fill="#666666"/><rect x="600.7" y="158.3" width="7.9" height="3.6" fill="#aaaaaa"/><rect x="619.5" y="158.3" width="2.7" height="3.6" fill="#bbbbbb"/><rect x="626.9" y="158.3" width="6.8" height="3.6" fill="#777777"/><rect x="637.9" y="158.3" width="2.3" height="3.6" fill="#cccccc"/><rect x="641.1" y="158.3" width="3.6" height="3.6" fill="#888888"/><rect x="656.3" y="158.3" width="2.6" height="3.6" fill="#eeeeee"/><rect x="661.6" y="158.3" width="5.8" height="3.6" fill="#555555"/><rect x="671.6" y="158.3" width="3.1" height="3.6" fill="#999999"/><rect x="679.7" y="158.3" width="3.6" height="3.6" fill="#bbbbbb"/><line x1="410.5" y1="219.9" x2="683.6" y2="219.9" stroke="#444" stroke-width="0.8" stroke-dasharray="2.6,1.2"/><polyline fill="none" stroke="#2a7abc" stroke-width="1.1" stroke-linejoin="round"  points="410.6,222.3 411.2,220.5 411.8,221.6 412.4,223.3 413,224.3 413.6,219.6 414.2,217.8 414.8,217.7 415.4,218 416,221.8 416.6,225.4 417.2,225.8 417.8,226.1 418.4,229.4 419,226.2 419.6,229.7 420.2,232.9 420.8,238.4 421.4,237.9 422,239.4 422.6,234.6 423.2,231.9 423.8,232.7 424.4,229.9 425,227.8 425.6,228.5 426.2,225.4 426.8,230.2 427.4,233.1 428,231.4 428.6,234.9 429.2,230.1 429.8,232 430.4,231 431,231.4 431.6,230 432.2,230.8 432.8,230.9 433.4,227.3 434,231.2 434.6,229 435.2,232.7 435.8,223.3 436.4,218.4 437,213.8 437.6,208.4 438.2,211.8 438.8,213.8 439.4,221.2 440,223.5 440.6,225.9 441.2,233.2 441.8,232.3 442.4,235.4 443,240.8 443.6,242.9 444.2,239.5 444.8,236.8 445.4,230.6 446,231.5 446.6,232.7 447.2,231.7 447.8,227.8 448.4,226.1 449,229.4 449.6,230.1 450.2,230.4 450.8,230 451.4,233.4 452,231.9 452.6,232.8 453.2,231.5 453.8,231.4 454.4,229 455,225.7 455.6,219.3 456.2,218.3 456.8,212.8 457.4,210.2 458,210.7 458.6,213.9 459.2,213 459.8,216.2 460.4,219.2 461,216.3 461.6,215.1 462.2,212.6 462.8,212.7 463.4,216.8 464,215 464.6,216.3 465.2,214.1 465.8,205.7 466.4,201 467,194.7 467.6,202.2 468.2,208.5 468.8,221.8 469.4,231.8 470,231 470.6,232.9 471.2,236.2 471.8,236.1 472.4,237.3 473,233.3 473.6,230.3 474.2,226.7 474.8,229.8 475.4,232.1 476,232.5 476.6,231.3 477.2,230.8 477.8,230.4 478.4,229.3 479,227.9 479.6,221.7 480.2,224.8 480.8,225.2 481.4,230.4 482,230.9 482.6,226.6 483.2,225.3 483.8,223.4 484.4,223.4 485,225.1 485.6,225.5 486.2,225.4 486.8,229.5 487.4,226 488,225 488.6,220.1 489.2,221.7 489.8,220 490.4,220.3 491,227 491.6,225.8 492.2,231.8 492.8,237.4 493.4,247.3 494,254.2 494.6,242.8 495.2,230.8 495.8,229.8 496.4,232.7 497,231.7 497.6,230.5 498.2,230.3 498.8,227.5 499.4,228.5 500,223.5 500.6,222 501.2,222.1 501.8,217.3 502.4,217.2 503,217.7 503.6,220.5 504.2,222.2 504.8,222.9 505.4,221.3 506,218.9 506.6,219.2 507.2,222.1 507.8,219.7 508.4,220 509,221.6 509.6,223.1 510.2,229 510.8,228.5 511.4,232.5 512,228.2 512.6,228.1 513.2,222.2 513.8,221.5 514.4,215.7 515,214.2 515.6,212.1 516.2,206.7 516.8,208 517.4,208 518,214.3 518.6,216.4 519.2,217.1 519.8,215.6 520.4,220.6 521,218.5 521.6,220 522.2,220 522.8,219.9 523.4,224.5 524,222.1 524.6,222.4 525.2,221.7 525.8,223.7 526.4,220.3 527,220 527.6,223.8 528.2,224.6 528.8,223.5 529.4,230.6 530,233.2 530.6,235.6 531.2,229.2 531.8,226.9 532.4,226 533,222.9 533.6,225.5 534.2,221.7 534.8,222.2 535.4,220.7 536,217.8 536.6,214.2 537.2,211.6 537.8,210.2 538.4,212.5 539,217.8 539.6,219.7 540.2,224 540.8,230.5 541.4,231.2 542,218.3 542.6,216 543.2,213.9 543.8,211.6 544.4,215.5 545,227.2 545.6,229.7 546.2,231.7 546.8,231.8 547.4,228.5 548,226.6 548.6,225 549.2,222.4 549.8,223.5 550.4,223.2 551,224.7 551.6,225.5 552.2,229.1 552.8,226.8 553.4,230.9 554,229.3 554.6,224.7 555.2,220.4 555.8,216.7 556.4,218.9 557,215.5 557.6,213.6 558.2,214.6 558.8,218.8 559.4,219.6 560,223 560.6,220.7 561.2,216.3 561.8,216.2 562.4,217.4 563,219.8 563.6,215.9 564.2,217.8 564.8,221 565.4,220.9 566,219.9 566.6,220.3 567.2,222.5 567.8,218.6 568.4,221.6 569,221.7 569.6,219.3 570.2,224.1 570.8,222.6 571.4,226.3 572,225.2 572.6,227.8 573.2,228.1 573.8,226.1 574.4,227.2 575,225.6 575.6,222.9 576.2,222.8 576.8,221.6 577.4,218.7 578,217.6 578.6,216.2 579.2,210.5 579.8,213.6 580.4,208.8 581,211.8 581.6,216.7 582.2,223.9 582.8,225.5 583.4,232.1 584,233.2 584.6,236.8 585.2,236.8 585.8,235.6 586.4,230.3 587,230.5 587.6,228.9 588.2,227.5 588.8,224.7 589.4,226.7 590,226.8 590.6,222.1 591.2,220.7 591.8,221 592.4,222.4 593,220.5 593.6,218.2 594.2,216.1 594.8,216.3 595.4,211.8 596,210.1 596.6,209 597.2,210 597.8,215.4 598.4,213.3 599,217.3 599.6,215.4 600.2,218.7 600.8,221.1 601.4,225.6 602,226.9 602.6,223.6 603.2,225.4 603.8,226.3 604.4,228.3 605,227.9 605.6,231.6 606.2,231.9 606.8,230.8 607.4,230.4 608,228.1 608.6,227.3 609.2,232.8 609.8,234 610.4,232.9 611,231.4 611.6,232.3 612.2,230.3 612.8,230 613.4,228.8 614,225.2 614.6,222.9 615.2,219.4 615.8,217.9 616.4,214 617,205.6 617.6,199.2 618.2,190.5 618.8,195.5 619.4,205 620,214.5 620.6,219.1 621.2,217.4 621.8,222.9 622.4,225 623,224.6 623.6,224.9 624.2,225.6 624.8,228.5 625.4,226.3 626,228 626.6,230.3 627.2,225.8 627.8,225.1 628.4,223.7 629,224.5 629.6,228.4 630.2,226.9 630.8,227.8 631.4,230.6 632,226.2 632.6,223.4 633.2,224 633.8,219 634.4,218.4 635,218.6 635.6,222.1 636.2,220.5 636.8,220.9 637.4,222.7 638,223.7 638.6,225.9 639.2,229.7 639.8,226.8 640.4,230.1 641,228.5 641.6,230.1 642.2,224 642.8,224.3 643.4,223.1 644,225.2 644.6,226.3 645.2,230.9 645.8,232.7 646.4,229.8 647,229.8 647.6,226.7 648.2,224 648.8,225.1 649.4,225 650,224.3 650.6,223 651.2,223.9 651.8,228.6 652.4,227.1 653,229.2 653.6,228.5 654.2,223 654.8,223.9 655.4,220.8 656,221.6 656.6,222.5 657.2,220.7 657.8,218.5 658.4,216.2 659,214.3 659.6,213.2 660.2,211.9 660.8,212.2 661.4,209.4 662,207.8 662.6,213.2 663.2,220.4 663.8,224.9 664.4,231.4 665,234.7 665.6,231.7 666.2,234.1 666.8,234 667.4,233.8 668,233.2 668.6,231.3 669.2,234.2 669.8,235.3 670.4,238.4 671,236.1 671.6,237.6 672.2,238.2 672.8,236.7 673.4,241.5 674,241.7 674.6,237.8 675.2,236.1 675.8,236.6 676.4,237.6 677,234.8 677.6,231.3 678.2,231.9 678.8,229.9 679.4,226.1 680,220.6 680.6,216.6 681.2,214.3 681.8,216.5 682.4,220.3 683,225.4"/><polyline fill="none" stroke="#000" stroke-width="1.1" stroke-linejoin="round"  points="410.6,219 411.2,218 411.8,218.5 412.4,218.7 413,219.7 413.6,214.9 414.2,211.8 414.8,211.4 415.4,210.5 416,212.2 416.6,216.2 417.2,216.3 417.8,219.2 418.4,219.2 419,221.5 419.6,223 420.2,224.8 420.8,226 421.4,227.4 422,230.9 422.6,229 423.2,228.3 423.8,225.6 424.4,224.6 425,224.2 425.6,223.7 426.2,223.4 426.8,220.9 427.4,221.9 428,223 428.6,221.1 429.2,222 429.8,223.7 430.4,221.3 431,221.4 431.6,221.6 432.2,221.4 432.8,220 433.4,221.8 434,221 434.6,220.4 435.2,220.7 435.8,220.2 436.4,218.4 437,210.5 437.6,202.8 438.2,196.1 438.8,192.5 439.4,196.8 440,204.9 440.6,207.7 441.2,212.4 441.8,214.6 442.4,215 443,216.5 443.6,219.4 444.2,218.7 444.8,220.3 445.4,219 446,221.1 446.6,221.9 447.2,223.1 447.8,224.4 448.4,224.3 449,223.6 449.6,221.3 450.2,219.8 450.8,221.3 451.4,222.2 452,221.5 452.6,223.4 453.2,222.2 453.8,220.1 454.4,220.6 455,218 455.6,214.1 456.2,207.8 456.8,201 457.4,195.1 458,198 458.6,205.5 459.2,207.6 459.8,207.8 460.4,209.6 461,210.1 461.6,212 462.2,210.6 462.8,210 463.4,207.6 464,209.7 464.6,209.3 465.2,212.4 465.8,211.9 466.4,196 467,178.6 467.6,184.2 468.2,194.9 468.8,197.7 469.4,204.4 470,205.8 470.6,210.5 471.2,212.7 471.8,214.8 472.4,217.5 473,218.5 473.6,218.1 474.2,218.7 474.8,220 475.4,219.4 476,221.9 476.6,221.4 477.2,222.3 477.8,221.8 478.4,220.8 479,221.3 479.6,223.5 480.2,223 480.8,223.4 481.4,221.6 482,222.2 482.6,222.6 483.2,222.1 483.8,220.5 484.4,221.6 485,220.9 485.6,221.3 486.2,221.9 486.8,221.8 487.4,222.5 488,223.1 488.6,222.4 489.2,223.1 489.8,222.6 490.4,222.7 491,220.1 491.6,221.2 492.2,221.5 492.8,221.8 493.4,221.8 494,220.4 494.6,222.5 495.2,222.1 495.8,224 496.4,223.1 497,223.3 497.6,222.1 498.2,222.3 498.8,222.4 499.4,222.3 500,219.7 500.6,214.9 501.2,211.2 501.8,207.7 502.4,205.8 503,205.4 503.6,206.7 504.2,210 504.8,209.7 505.4,210.9 506,212.7 506.6,213.3 507.2,214.3 507.8,216.2 508.4,213.9 509,215.9 509.6,215.8 510.2,214 510.8,215.7 511.4,213.6 512,211.5 512.6,211.1 513.2,209.7 513.8,206.8 514.4,202.7 515,196.1 515.6,189.8 516.2,183.4 516.8,186.9 517.4,195.5 518,203.5 518.6,205.6 519.2,205.7 519.8,207 520.4,208 521,211.7 521.6,215.1 522.2,217.1 522.8,219 523.4,219.8 524,219.5 524.6,220.6 525.2,221.4 525.8,221.5 526.4,220.4 527,219.5 527.6,221.6 528.2,219.9 528.8,221.4 529.4,220.2 530,221.1 530.6,220.8 531.2,220.2 531.8,221.3 532.4,221.6 533,220.6 533.6,221.6 534.2,220 534.8,218.1 535.4,216.1 536,210.4 536.6,207.2 537.2,205.3 537.8,209.9 538.4,212.4 539,213.7 539.6,213.8 540.2,211.1 540.8,207.2 541.4,207.1 542,204.9 542.6,202.9 543.2,203.1 543.8,198.2 544.4,193 545,184.5 545.6,186.5 546.2,196.6 546.8,206.3 547.4,210.2 548,211.1 548.6,216.3 549.2,217.9 549.8,218.8 550.4,218.8 551,219.7 551.6,221 552.2,222 552.8,220 553.4,221.7 554,218.8 554.6,220.1 555.2,219.7 555.8,219.3 556.4,216.1 557,208.2 557.6,201.2 558.2,202.5 558.8,207.4 559.4,213.7 560,216.3 560.6,217 561.2,217.2 561.8,216.6 562.4,216.4 563,218.9 563.6,215.9 564.2,215.8 564.8,216.4 565.4,214.4 566,212.9 566.6,213.4 567.2,212.9 567.8,213.6 568.4,215.6 569,217.3 569.6,220.6 570.2,219 570.8,219.9 571.4,219 572,219.8 572.6,216.5 573.2,215.7 573.8,211.5 574.4,210.4 575,211.2 575.6,209.2 576.2,208.4 576.8,206.1 577.4,205.2 578,206.1 578.6,202.6 579.2,200.2 579.8,199.1 580.4,197.1 581,201.9 581.6,205.3 582.2,210.1 582.8,212.6 583.4,214.3 584,218.6 584.6,220.9 585.2,218.9 585.8,219.9 586.4,219.8 587,216.5 587.6,217.3 588.2,215 588.8,213.8 589.4,213 590,213.9 590.6,214.6 591.2,217 591.8,217 592.4,219.3 593,220.1 593.6,220.6 594.2,219.7 594.8,215.2 595.4,211.2 596,206.1 596.6,206.2 597.2,206.4 597.8,206.2 598.4,209.3 599,213.2 599.6,215.1 600.2,216.4 600.8,217.6 601.4,217.6 602,218.5 602.6,218.1 603.2,220.7 603.8,220 604.4,219.7 605,221.8 605.6,221.5 606.2,224.8 606.8,223.8 607.4,224.9 608,222.6 608.6,222.8 609.2,221.6 609.8,222.3 610.4,222.5 611,220.9 611.6,221.8 612.2,222.1 612.8,223.3 613.4,222.2 614,219.6 614.6,221.3 615.2,215.5 615.8,209.5 616.4,204.5 617,196.9 617.6,187.2 618.2,179.3 618.8,188.4 619.4,198.5 620,207.8 620.6,209.7 621.2,212.3 621.8,216.1 622.4,215.5 623,216.9 623.6,218.8 624.2,218.7 624.8,219.2 625.4,220.6 626,220 626.6,219.9 627.2,219.2 627.8,219.3 628.4,217.7 629,217.3 629.6,212.3 630.2,207.9 630.8,212.7 631.4,214.1 632,216.5 632.6,218.6 633.2,218.9 633.8,220.6 634.4,219.3 635,218.9 635.6,221.1 636.2,221.2 636.8,220.8 637.4,219.3 638,220.7 638.6,218.8 639.2,220.3 639.8,219 640.4,218.9 641,219.3 641.6,221.4 642.2,219.2 642.8,220.1 643.4,221.7 644,221.2 644.6,222.2 645.2,223.5 645.8,222.8 646.4,221.6 647,222.3 647.6,223 648.2,222.1 648.8,221.4 649.4,220.2 650,220.3 650.6,221.2 651.2,221.6 651.8,219.4 652.4,220.5 653,218.6 653.6,219.2 654.2,217.5 654.8,217.8 655.4,217.4 656,216 656.6,216.6 657.2,215.8 657.8,214.9 658.4,215.3 659,215.1 659.6,216.7 660.2,218.5 660.8,217.2 661.4,212.7 662,204.9 662.6,199.3 663.2,204.4 663.8,209 664.4,212.5 665,214.7 665.6,217.8 666.2,221.1 666.8,222.8 667.4,223 668,223.5 668.6,224.7 669.2,225.2 669.8,225.7 670.4,227.1 671,226.7 671.6,228.7 672.2,226.5 672.8,226.8 673.4,228.1 674,227.4 674.6,227.3 675.2,225 675.8,225.4 676.4,223.6 677,222.4 677.6,222 678.2,222.3 678.8,220.9 679.4,216.2 680,213.4 680.6,212.7 681.2,210.7 681.8,210.9 682.4,212.4 683,215.3"/><rect x="645" y="165" width="38" height="23" rx="2" fill="#fff" fill-opacity="0.8"/><line x1="650.8" y1="172.6" x2="659.8" y2="172.6" stroke="#000" stroke-width="1.3"/><text x="664.8" y="175" font-size="6.3" text-anchor="start" fill="#222" >SHF</text><line x1="650.8" y1="182.8" x2="659.8" y2="182.8" stroke="#2a7abc" stroke-width="1.3"/><text x="664.8" y="184.9" font-size="6.3" text-anchor="start" fill="#222" >LHF</text><rect x="410.5" y="163.6" width="273.1" height="93.8" fill="none" stroke="#6a6a6a" stroke-width="0.9"/><line x1="406" y1="163.7" x2="410.5" y2="163.7" stroke="#6a6a6a" stroke-width="0.8"/><text x="403.5" y="166.2" font-size="7.2" text-anchor="end" fill="#222" >150</text><line x1="406" y1="182.4" x2="410.5" y2="182.4" stroke="#6a6a6a" stroke-width="0.8"/><text x="403.5" y="184.9" font-size="7.2" text-anchor="end" fill="#222" >100</text><line x1="406" y1="201.2" x2="410.5" y2="201.2" stroke="#6a6a6a" stroke-width="0.8"/><text x="403.5" y="203.7" font-size="7.2" text-anchor="end" fill="#222" >50</text><line x1="406" y1="219.9" x2="410.5" y2="219.9" stroke="#6a6a6a" stroke-width="0.8"/><text x="403.5" y="222.4" font-size="7.2" text-anchor="end" fill="#222" >0</text><line x1="406" y1="238.6" x2="410.5" y2="238.6" stroke="#6a6a6a" stroke-width="0.8"/><text x="403.5" y="241.1" font-size="7.2" text-anchor="end" fill="#222" >−50</text><line x1="406" y1="257.4" x2="410.5" y2="257.4" stroke="#6a6a6a" stroke-width="0.8"/><text x="403.5" y="259.9" font-size="7.2" text-anchor="end" fill="#222" >−100</text><line x1="418.7" y1="257.4" x2="418.7" y2="261.4" stroke="#6a6a6a" stroke-width="0.8"/><text x="418.7" y="270.6" font-size="7.2" text-anchor="middle" fill="#222" >−10</text><line x1="453.4" y1="257.4" x2="453.4" y2="261.4" stroke="#6a6a6a" stroke-width="0.8"/><text x="453.4" y="270.6" font-size="7.2" text-anchor="middle" fill="#222" >0</text><line x1="488.1" y1="257.4" x2="488.1" y2="261.4" stroke="#6a6a6a" stroke-width="0.8"/><text x="488.1" y="270.6" font-size="7.2" text-anchor="middle" fill="#222" >10</text><line x1="522.9" y1="257.4" x2="522.9" y2="261.4" stroke="#6a6a6a" stroke-width="0.8"/><text x="522.9" y="270.6" font-size="7.2" text-anchor="middle" fill="#222" >20</text><line x1="557.6" y1="257.4" x2="557.6" y2="261.4" stroke="#6a6a6a" stroke-width="0.8"/><text x="557.6" y="270.6" font-size="7.2" text-anchor="middle" fill="#222" >30</text><line x1="592.3" y1="257.4" x2="592.3" y2="261.4" stroke="#6a6a6a" stroke-width="0.8"/><text x="592.3" y="270.6" font-size="7.2" text-anchor="middle" fill="#222" >40</text><line x1="627" y1="257.4" x2="627" y2="261.4" stroke="#6a6a6a" stroke-width="0.8"/><text x="627" y="270.6" font-size="7.2" text-anchor="middle" fill="#222" >50</text><line x1="661.8" y1="257.4" x2="661.8" y2="261.4" stroke="#6a6a6a" stroke-width="0.8"/><text x="661.8" y="270.6" font-size="7.2" text-anchor="middle" fill="#222" >60</text><text transform="translate(374,210.3) rotate(-90)" font-size="8.85" text-anchor="middle" fill="#222">ERA5 turbulent heat flux</text><text transform="translate(382.8,210.1) rotate(-90)" font-size="8.8" text-anchor="middle" fill="#222">(W m<tspan font-size="5.5" dy="-3">−2</tspan><tspan dy="3">)</tspan></text><g filter="url(#fe)"><rect x="37.5" y="298.6" width="1.3" height="92.9" fill="url(#e0)"/><rect x="38.5" y="298.6" width="1.3" height="92.9" fill="url(#e1)"/><rect x="39.5" y="298.6" width="1.3" height="92.9" fill="url(#e2)"/><rect x="40.5" y="298.6" width="1.3" height="92.9" fill="url(#e3)"/><rect x="41.5" y="298.6" width="1.3" height="92.9" fill="url(#e4)"/><rect x="42.5" y="298.6" width="1.3" height="92.9" fill="url(#e5)"/><rect x="43.5" y="298.6" width="1.3" height="92.9" fill="url(#e6)"/><rect x="44.5" y="298.6" width="1.3" height="92.9" fill="url(#e7)"/><rect x="45.5" y="298.6" width="1.3" height="92.9" fill="url(#e8)"/><rect x="46.5" y="298.6" width="1.3" height="92.9" fill="url(#e9)"/><rect x="47.5" y="298.6" width="1.3" height="92.9" fill="url(#e10)"/><rect x="48.5" y="298.6" width="1.3" height="92.9" fill="url(#e11)"/><rect x="49.5" y="298.6" width="1.3" height="92.9" fill="url(#e12)"/><rect x="50.5" y="298.6" width="1.3" height="92.9" fill="url(#e13)"/><rect x="51.5" y="298.6" width="1.3" height="92.9" fill="url(#e14)"/><rect x="52.5" y="298.6" width="1.3" height="92.9" fill="url(#e15)"/><rect x="53.5" y="298.6" width="1.3" height="92.9" fill="url(#e16)"/><rect x="54.5" y="298.6" width="1.3" height="92.9" fill="url(#e17)"/><rect x="55.5" y="298.6" width="1.3" height="92.9" fill="url(#e18)"/><rect x="56.5" y="298.6" width="1.3" height="92.9" fill="url(#e19)"/><rect x="57.5" y="298.6" width="1.3" height="92.9" fill="url(#e20)"/><rect x="58.5" y="298.6" width="1.3" height="92.9" fill="url(#e21)"/><rect x="59.5" y="298.6" width="1.3" height="92.9" fill="url(#e22)"/><rect x="60.5" y="298.6" width="1.3" height="92.9" fill="url(#e23)"/><rect x="61.5" y="298.6" width="1.3" height="92.9" fill="url(#e24)"/><rect x="62.5" y="298.6" width="1.3" height="92.9" fill="url(#e25)"/><rect x="63.5" y="298.6" width="1.3" height="92.9" fill="url(#e26)"/><rect x="64.5" y="298.6" width="1.3" height="92.9" fill="url(#e27)"/><rect x="65.5" y="298.6" width="1.3" height="92.9" fill="url(#e28)"/><rect x="66.5" y="298.6" width="1.3" height="92.9" fill="url(#e29)"/><rect x="67.5" y="298.6" width="1.3" height="92.9" fill="url(#e30)"/><rect x="68.5" y="298.6" width="1.3" height="92.9" fill="url(#e31)"/><rect x="69.5" y="298.6" width="1.3" height="92.9" fill="url(#e32)"/><rect x="70.5" y="298.6" width="1.3" height="92.9" fill="url(#e33)"/><rect x="71.5" y="298.6" width="1.3" height="92.9" fill="url(#e34)"/><rect x="72.5" y="298.6" width="1.3" height="92.9" fill="url(#e35)"/><rect x="73.5" y="298.6" width="1.3" height="92.9" fill="url(#e36)"/><rect x="74.5" y="298.6" width="1.3" height="92.9" fill="url(#e37)"/><rect x="75.5" y="298.6" width="1.3" height="92.9" fill="url(#e38)"/><rect x="76.5" y="298.6" width="1.3" height="92.9" fill="url(#e39)"/><rect x="77.5" y="298.6" width="1.3" height="92.9" fill="url(#e40)"/><rect x="78.5" y="298.6" width="1.3" height="92.9" fill="url(#e41)"/><rect x="79.5" y="298.6" width="1.3" height="92.9" fill="url(#e42)"/><rect x="80.5" y="298.6" width="1.3" height="92.9" fill="url(#e43)"/><rect x="81.5" y="298.6" width="1.3" height="92.9" fill="url(#e44)"/><rect x="82.5" y="298.6" width="1.3" height="92.9" fill="url(#e45)"/><rect x="83.5" y="298.6" width="1.3" height="92.9" fill="url(#e46)"/><rect x="84.5" y="298.6" width="1.3" height="92.9" fill="url(#e47)"/><rect x="85.5" y="298.6" width="1.3" height="92.9" fill="url(#e48)"/><rect x="86.5" y="298.6" width="1.3" height="92.9" fill="url(#e49)"/><rect x="87.5" y="298.6" width="1.3" height="92.9" fill="url(#e50)"/><rect x="88.5" y="298.6" width="1.3" height="92.9" fill="url(#e51)"/><rect x="89.5" y="298.6" width="1.3" height="92.9" fill="url(#e52)"/><rect x="90.5" y="298.6" width="1.3" height="92.9" fill="url(#e53)"/><rect x="91.5" y="298.6" width="1.3" height="92.9" fill="url(#e54)"/><rect x="92.5" y="298.6" width="1.3" height="92.9" fill="url(#e55)"/><rect x="93.5" y="298.6" width="1.3" height="92.9" fill="url(#e56)"/><rect x="94.5" y="298.6" width="1.3" height="92.9" fill="url(#e57)"/><rect x="95.5" y="298.6" width="1.3" height="92.9" fill="url(#e58)"/><rect x="96.5" y="298.6" width="1.3" height="92.9" fill="url(#e59)"/><rect x="97.5" y="298.6" width="1.3" height="92.9" fill="url(#e60)"/><rect x="98.5" y="298.6" width="1.3" height="92.9" fill="url(#e61)"/><rect x="99.5" y="298.6" width="1.3" height="92.9" fill="url(#e62)"/><rect x="100.5" y="298.6" width="1.3" height="92.9" fill="url(#e63)"/><rect x="101.5" y="298.6" width="1.3" height="92.9" fill="url(#e64)"/><rect x="102.5" y="298.6" width="1.3" height="92.9" fill="url(#e65)"/><rect x="103.5" y="298.6" width="1.3" height="92.9" fill="url(#e66)"/><rect x="104.5" y="298.6" width="1.3" height="92.9" fill="url(#e67)"/><rect x="105.5" y="298.6" width="1.3" height="92.9" fill="url(#e68)"/><rect x="106.5" y="298.6" width="1.3" height="92.9" fill="url(#e69)"/><rect x="107.5" y="298.6" width="1.3" height="92.9" fill="url(#e70)"/><rect x="108.5" y="298.6" width="1.3" height="92.9" fill="url(#e71)"/><rect x="109.5" y="298.6" width="1.3" height="92.9" fill="url(#e72)"/><rect x="110.5" y="298.6" width="1.3" height="92.9" fill="url(#e73)"/><rect x="111.5" y="298.6" width="1.3" height="92.9" fill="url(#e74)"/><rect x="112.5" y="298.6" width="1.3" height="92.9" fill="url(#e75)"/><rect x="113.5" y="298.6" width="1.3" height="92.9" fill="url(#e76)"/><rect x="114.5" y="298.6" width="1.3" height="92.9" fill="url(#e77)"/><rect x="115.5" y="298.6" width="1.3" height="92.9" fill="url(#e78)"/><rect x="116.5" y="298.6" width="1.3" height="92.9" fill="url(#e79)"/><rect x="117.5" y="298.6" width="1.3" height="92.9" fill="url(#e80)"/><rect x="118.5" y="298.6" width="1.3" height="92.9" fill="url(#e81)"/><rect x="119.5" y="298.6" width="1.3" height="92.9" fill="url(#e82)"/><rect x="120.5" y="298.6" width="1.3" height="92.9" fill="url(#e83)"/><rect x="121.5" y="298.6" width="1.3" height="92.9" fill="url(#e84)"/><rect x="122.5" y="298.6" width="1.3" height="92.9" fill="url(#e85)"/><rect x="123.5" y="298.6" width="1.3" height="92.9" fill="url(#e86)"/><rect x="124.5" y="298.6" width="1.3" height="92.9" fill="url(#e87)"/><rect x="125.5" y="298.6" width="1.3" height="92.9" fill="url(#e88)"/><rect x="126.5" y="298.6" width="1.3" height="92.9" fill="url(#e89)"/><rect x="127.5" y="298.6" width="1.3" height="92.9" fill="url(#e90)"/><rect x="128.5" y="298.6" width="1.3" height="92.9" fill="url(#e91)"/><rect x="129.5" y="298.6" width="1.3" height="92.9" fill="url(#e92)"/><rect x="130.5" y="298.6" width="1.3" height="92.9" fill="url(#e93)"/><rect x="131.5" y="298.6" width="1.3" height="92.9" fill="url(#e94)"/><rect x="132.5" y="298.6" width="1.3" height="92.9" fill="url(#e95)"/><rect x="133.5" y="298.6" width="1.3" height="92.9" fill="url(#e96)"/><rect x="134.5" y="298.6" width="1.3" height="92.9" fill="url(#e97)"/><rect x="135.5" y="298.6" width="1.3" height="92.9" fill="url(#e98)"/><rect x="136.5" y="298.6" width="1.3" height="92.9" fill="url(#e99)"/><rect x="137.5" y="298.6" width="1.3" height="92.9" fill="url(#e100)"/><rect x="138.5" y="298.6" width="1.3" height="92.9" fill="url(#e101)"/><rect x="139.5" y="298.6" width="1.3" height="92.9" fill="url(#e102)"/><rect x="140.5" y="298.6" width="1.3" height="92.9" fill="url(#e103)"/><rect x="141.5" y="298.6" width="1.3" height="92.9" fill="url(#e104)"/><rect x="142.5" y="298.6" width="1.3" height="92.9" fill="url(#e105)"/><rect x="143.5" y="298.6" width="1.3" height="92.9" fill="url(#e106)"/><rect x="144.5" y="298.6" width="1.3" height="92.9" fill="url(#e107)"/><rect x="145.5" y="298.6" width="1.3" height="92.9" fill="url(#e108)"/><rect x="146.5" y="298.6" width="1.3" height="92.9" fill="url(#e109)"/><rect x="147.5" y="298.6" width="1.3" height="92.9" fill="url(#e110)"/><rect x="148.5" y="298.6" width="1.3" height="92.9" fill="url(#e111)"/><rect x="149.5" y="298.6" width="1.3" height="92.9" fill="url(#e112)"/><rect x="150.5" y="298.6" width="1.3" height="92.9" fill="url(#e113)"/><rect x="151.5" y="298.6" width="1.3" height="92.9" fill="url(#e114)"/><rect x="152.5" y="298.6" width="1.3" height="92.9" fill="url(#e115)"/><rect x="153.5" y="298.6" width="1.3" height="92.9" fill="url(#e116)"/><rect x="154.5" y="298.6" width="1.3" height="92.9" fill="url(#e117)"/><rect x="155.5" y="298.6" width="1.3" height="92.9" fill="url(#e118)"/><rect x="156.5" y="298.6" width="1.3" height="92.9" fill="url(#e119)"/><rect x="157.5" y="298.6" width="1.3" height="92.9" fill="url(#e120)"/><rect x="158.5" y="298.6" width="1.3" height="92.9" fill="url(#e121)"/><rect x="159.5" y="298.6" width="1.3" height="92.9" fill="url(#e122)"/><rect x="160.5" y="298.6" width="1.3" height="92.9" fill="url(#e123)"/><rect x="161.5" y="298.6" width="1.3" height="92.9" fill="url(#e124)"/><rect x="162.5" y="298.6" width="1.3" height="92.9" fill="url(#e125)"/><rect x="163.5" y="298.6" width="1.3" height="92.9" fill="url(#e126)"/><rect x="164.5" y="298.6" width="1.3" height="92.9" fill="url(#e127)"/><rect x="165.5" y="298.6" width="1.3" height="92.9" fill="url(#e128)"/><rect x="166.5" y="298.6" width="1.3" height="92.9" fill="url(#e129)"/><rect x="167.5" y="298.6" width="1.3" height="92.9" fill="url(#e130)"/><rect x="168.5" y="298.6" width="1.3" height="92.9" fill="url(#e131)"/><rect x="169.5" y="298.6" width="1.3" height="92.9" fill="url(#e132)"/><rect x="170.5" y="298.6" width="1.3" height="92.9" fill="url(#e133)"/><rect x="171.5" y="298.6" width="1.3" height="92.9" fill="url(#e134)"/><rect x="172.5" y="298.6" width="1.3" height="92.9" fill="url(#e135)"/><rect x="173.5" y="298.6" width="1.3" height="92.9" fill="url(#e136)"/><rect x="174.5" y="298.6" width="1.3" height="92.9" fill="url(#e137)"/><rect x="175.5" y="298.6" width="1.3" height="92.9" fill="url(#e138)"/><rect x="176.5" y="298.6" width="1.3" height="92.9" fill="url(#e139)"/><rect x="177.5" y="298.6" width="1.3" height="92.9" fill="url(#e140)"/><rect x="178.5" y="298.6" width="1.3" height="92.9" fill="url(#e141)"/><rect x="179.5" y="298.6" width="1.3" height="92.9" fill="url(#e142)"/><rect x="180.5" y="298.6" width="1.3" height="92.9" fill="url(#e143)"/><rect x="181.5" y="298.6" width="1.3" height="92.9" fill="url(#e144)"/><rect x="182.5" y="298.6" width="1.3" height="92.9" fill="url(#e145)"/><rect x="183.5" y="298.6" width="1.3" height="92.9" fill="url(#e146)"/><rect x="184.5" y="298.6" width="1.3" height="92.9" fill="url(#e147)"/><rect x="185.5" y="298.6" width="1.3" height="92.9" fill="url(#e148)"/><rect x="186.5" y="298.6" width="1.3" height="92.9" fill="url(#e149)"/><rect x="187.5" y="298.6" width="1.3" height="92.9" fill="url(#e150)"/><rect x="188.5" y="298.6" width="1.3" height="92.9" fill="url(#e151)"/><rect x="189.5" y="298.6" width="1.3" height="92.9" fill="url(#e152)"/><rect x="190.5" y="298.6" width="1.3" height="92.9" fill="url(#e153)"/><rect x="191.5" y="298.6" width="1.3" height="92.9" fill="url(#e154)"/><rect x="192.5" y="298.6" width="1.3" height="92.9" fill="url(#e155)"/><rect x="193.5" y="298.6" width="1.3" height="92.9" fill="url(#e156)"/><rect x="194.5" y="298.6" width="1.3" height="92.9" fill="url(#e157)"/><rect x="195.5" y="298.6" width="1.3" height="92.9" fill="url(#e158)"/><rect x="196.5" y="298.6" width="1.3" height="92.9" fill="url(#e159)"/><rect x="197.5" y="298.6" width="1.3" height="92.9" fill="url(#e160)"/><rect x="198.5" y="298.6" width="1.3" height="92.9" fill="url(#e161)"/><rect x="199.5" y="298.6" width="1.3" height="92.9" fill="url(#e162)"/><rect x="200.5" y="298.6" width="1.3" height="92.9" fill="url(#e163)"/><rect x="201.5" y="298.6" width="1.3" height="92.9" fill="url(#e164)"/><rect x="202.5" y="298.6" width="1.3" height="92.9" fill="url(#e165)"/><rect x="203.5" y="298.6" width="1.3" height="92.9" fill="url(#e166)"/><rect x="204.5" y="298.6" width="1.3" height="92.9" fill="url(#e167)"/><rect x="205.5" y="298.6" width="1.3" height="92.9" fill="url(#e168)"/><rect x="206.5" y="298.6" width="1.3" height="92.9" fill="url(#e169)"/><rect x="207.5" y="298.6" width="1.3" height="92.9" fill="url(#e170)"/><rect x="208.5" y="298.6" width="1.3" height="92.9" fill="url(#e171)"/><rect x="209.5" y="298.6" width="1.3" height="92.9" fill="url(#e172)"/><rect x="210.5" y="298.6" width="1.3" height="92.9" fill="url(#e173)"/><rect x="211.5" y="298.6" width="1.3" height="92.9" fill="url(#e174)"/><rect x="212.5" y="298.6" width="1.3" height="92.9" fill="url(#e175)"/><rect x="213.5" y="298.6" width="1.3" height="92.9" fill="url(#e176)"/><rect x="214.5" y="298.6" width="1.3" height="92.9" fill="url(#e177)"/><rect x="215.5" y="298.6" width="1.3" height="92.9" fill="url(#e178)"/><rect x="216.5" y="298.6" width="1.3" height="92.9" fill="url(#e179)"/><rect x="217.5" y="298.6" width="1.3" height="92.9" fill="url(#e180)"/><rect x="218.5" y="298.6" width="1.3" height="92.9" fill="url(#e181)"/><rect x="219.5" y="298.6" width="1.3" height="92.9" fill="url(#e182)"/><rect x="220.5" y="298.6" width="1.3" height="92.9" fill="url(#e183)"/><rect x="221.5" y="298.6" width="1.3" height="92.9" fill="url(#e184)"/><rect x="222.5" y="298.6" width="1.3" height="92.9" fill="url(#e185)"/><rect x="223.5" y="298.6" width="1.3" height="92.9" fill="url(#e186)"/><rect x="224.5" y="298.6" width="1.3" height="92.9" fill="url(#e187)"/><rect x="225.5" y="298.6" width="1.3" height="92.9" fill="url(#e188)"/><rect x="226.5" y="298.6" width="1.3" height="92.9" fill="url(#e189)"/><rect x="227.5" y="298.6" width="1.3" height="92.9" fill="url(#e190)"/><rect x="228.5" y="298.6" width="1.3" height="92.9" fill="url(#e191)"/><rect x="229.5" y="298.6" width="1.3" height="92.9" fill="url(#e192)"/><rect x="230.5" y="298.6" width="1.3" height="92.9" fill="url(#e193)"/><rect x="231.5" y="298.6" width="1.3" height="92.9" fill="url(#e194)"/><rect x="232.5" y="298.6" width="1.3" height="92.9" fill="url(#e195)"/><rect x="233.5" y="298.6" width="1.3" height="92.9" fill="url(#e196)"/><rect x="234.5" y="298.6" width="1.3" height="92.9" fill="url(#e197)"/><rect x="235.5" y="298.6" width="1.3" height="92.9" fill="url(#e198)"/><rect x="236.5" y="298.6" width="1.3" height="92.9" fill="url(#e199)"/><rect x="237.5" y="298.6" width="1.3" height="92.9" fill="url(#e200)"/><rect x="238.5" y="298.6" width="1.3" height="92.9" fill="url(#e201)"/><rect x="239.5" y="298.6" width="1.3" height="92.9" fill="url(#e202)"/><rect x="240.5" y="298.6" width="1.3" height="92.9" fill="url(#e203)"/><rect x="241.5" y="298.6" width="1.3" height="92.9" fill="url(#e204)"/><rect x="242.5" y="298.6" width="1.3" height="92.9" fill="url(#e205)"/><rect x="243.5" y="298.6" width="1.3" height="92.9" fill="url(#e206)"/><rect x="244.5" y="298.6" width="1.3" height="92.9" fill="url(#e207)"/><rect x="245.5" y="298.6" width="1.3" height="92.9" fill="url(#e208)"/><rect x="246.5" y="298.6" width="1.3" height="92.9" fill="url(#e209)"/><rect x="247.5" y="298.6" width="1.3" height="92.9" fill="url(#e210)"/><rect x="248.5" y="298.6" width="1.3" height="92.9" fill="url(#e211)"/><rect x="249.5" y="298.6" width="1.3" height="92.9" fill="url(#e212)"/><rect x="250.5" y="298.6" width="1.3" height="92.9" fill="url(#e213)"/><rect x="251.5" y="298.6" width="1.3" height="92.9" fill="url(#e214)"/><rect x="252.5" y="298.6" width="1.3" height="92.9" fill="url(#e215)"/><rect x="253.5" y="298.6" width="1.3" height="92.9" fill="url(#e216)"/><rect x="254.5" y="298.6" width="1.3" height="92.9" fill="url(#e217)"/><rect x="255.5" y="298.6" width="1.3" height="92.9" fill="url(#e218)"/><rect x="256.5" y="298.6" width="1.3" height="92.9" fill="url(#e219)"/><rect x="257.5" y="298.6" width="1.3" height="92.9" fill="url(#e220)"/><rect x="258.5" y="298.6" width="1.3" height="92.9" fill="url(#e221)"/><rect x="259.5" y="298.6" width="1.3" height="92.9" fill="url(#e222)"/><rect x="260.5" y="298.6" width="1.3" height="92.9" fill="url(#e223)"/><rect x="261.5" y="298.6" width="1.3" height="92.9" fill="url(#e224)"/><rect x="262.5" y="298.6" width="1.3" height="92.9" fill="url(#e225)"/><rect x="263.5" y="298.6" width="1.3" height="92.9" fill="url(#e226)"/><rect x="264.5" y="298.6" width="1.3" height="92.9" fill="url(#e227)"/><rect x="265.5" y="298.6" width="1.3" height="92.9" fill="url(#e228)"/><rect x="266.5" y="298.6" width="1.3" height="92.9" fill="url(#e229)"/><rect x="267.5" y="298.6" width="1.3" height="92.9" fill="url(#e230)"/><rect x="268.5" y="298.6" width="1.3" height="92.9" fill="url(#e231)"/><rect x="269.5" y="298.6" width="1.3" height="92.9" fill="url(#e232)"/><rect x="270.5" y="298.6" width="1.3" height="92.9" fill="url(#e233)"/><rect x="271.5" y="298.6" width="1.3" height="92.9" fill="url(#e234)"/><rect x="272.5" y="298.6" width="1.3" height="92.9" fill="url(#e235)"/><rect x="273.5" y="298.6" width="1.3" height="92.9" fill="url(#e236)"/><rect x="274.5" y="298.6" width="1.3" height="92.9" fill="url(#e237)"/><rect x="275.5" y="298.6" width="1.3" height="92.9" fill="url(#e238)"/><rect x="276.5" y="298.6" width="1.3" height="92.9" fill="url(#e239)"/><rect x="277.5" y="298.6" width="1.3" height="92.9" fill="url(#e240)"/><rect x="278.5" y="298.6" width="1.3" height="92.9" fill="url(#e241)"/><rect x="279.5" y="298.6" width="1.3" height="92.9" fill="url(#e242)"/><rect x="280.5" y="298.6" width="1.3" height="92.9" fill="url(#e243)"/><rect x="281.5" y="298.6" width="1.3" height="92.9" fill="url(#e244)"/><rect x="282.5" y="298.6" width="1.3" height="92.9" fill="url(#e245)"/><rect x="283.5" y="298.6" width="1.3" height="92.9" fill="url(#e246)"/><rect x="284.5" y="298.6" width="1.3" height="92.9" fill="url(#e247)"/><rect x="285.5" y="298.6" width="1.3" height="92.9" fill="url(#e248)"/><rect x="286.5" y="298.6" width="1.3" height="92.9" fill="url(#e249)"/><rect x="287.5" y="298.6" width="1.3" height="92.9" fill="url(#e250)"/><rect x="288.5" y="298.6" width="1.3" height="92.9" fill="url(#e251)"/><rect x="289.5" y="298.6" width="1.3" height="92.9" fill="url(#e252)"/><rect x="290.5" y="298.6" width="1.3" height="92.9" fill="url(#e253)"/><rect x="291.5" y="298.6" width="1.3" height="92.9" fill="url(#e254)"/><rect x="292.5" y="298.6" width="1.3" height="92.9" fill="url(#e255)"/><rect x="293.5" y="298.6" width="1.3" height="92.9" fill="url(#e256)"/><rect x="294.5" y="298.6" width="1.3" height="92.9" fill="url(#e257)"/><rect x="295.5" y="298.6" width="1.3" height="92.9" fill="url(#e258)"/><rect x="296.5" y="298.6" width="1.3" height="92.9" fill="url(#e259)"/><rect x="297.5" y="298.6" width="1.3" height="92.9" fill="url(#e260)"/><rect x="298.5" y="298.6" width="1.3" height="92.9" fill="url(#e261)"/><rect x="299.5" y="298.6" width="1.3" height="92.9" fill="url(#e262)"/><rect x="300.5" y="298.6" width="1.3" height="92.9" fill="url(#e263)"/><rect x="301.5" y="298.6" width="1.3" height="92.9" fill="url(#e264)"/><rect x="302.5" y="298.6" width="1.3" height="92.9" fill="url(#e265)"/><rect x="303.5" y="298.6" width="1.3" height="92.9" fill="url(#e266)"/><rect x="304.5" y="298.6" width="1.3" height="92.9" fill="url(#e267)"/><rect x="305.5" y="298.6" width="1.3" height="92.9" fill="url(#e268)"/><rect x="306.5" y="298.6" width="1.3" height="92.9" fill="url(#e269)"/><rect x="307.5" y="298.6" width="1.3" height="92.9" fill="url(#e270)"/><rect x="308.5" y="298.6" width="1.3" height="92.9" fill="url(#e271)"/><rect x="309.5" y="298.6" width="1" height="92.9" fill="url(#e272)"/><rect x="310.5" y="298.6" width="0.3" height="92.9" fill="url(#e273)"/></g><polyline fill="none" stroke="#a63fc2" stroke-width="1.2" stroke-linejoin="round"  points="37.9,349.6 39,364.9 40.1,354.4 41.2,365.4 42.3,350.6 43.4,364.4 44.5,364.1 45.6,350.1 46.7,357.8 47.8,348.7 48.9,361.1 50,350.6 51.1,361.8 52.2,349.9 53.3,363.3 54.4,348.4 55.5,360.7 56.6,361.7 57.7,348.2 58.8,359.3 59.9,345.7 61,352.7 62.1,339.8 63.2,348.6 64.3,339.4 65.4,361.9 66.5,350.7 67.6,349.9 68.7,360.4 69.8,351.8 70.9,360.4 72,354.2 73.1,363.5 74.2,351 75.3,360.3 76.4,350.3 77.5,363 78.6,351 79.7,363.9 80.8,365 81.9,352.7 83,363.7 84.1,350.8 85.2,358.7 86.3,351.5 87.4,360.5 88.5,364.1 89.6,350.6 90.7,351.5 91.8,360 92.9,350.4 94,367 95.1,353.1 96.2,355.1 97.3,362.8 98.4,353.8 99.5,360.9 100.6,356 101.7,365 102.8,351.4 103.9,370.5 105,354.2 106.1,351.4 107.2,361.4 108.3,354.4 109.4,365.2 110.5,318.6 111.6,327.7 112.7,317.6 113.8,333 114.9,337.3 116,339.7 117.1,349.6 118.2,360 119.3,348.5 120.4,347.6 121.5,353 122.6,325.3 123.7,306.3 124.8,322.6 125.9,322.5 127,344.7 128.1,320.1 129.2,333.9 130.3,333.2 131.4,342.4 132.5,334.3 133.6,343.3 134.7,347 135.8,336.3 136.9,343.8 138,332.7 139.1,340.2 140.2,330.6 141.3,341.7 142.4,339.4 143.5,327.9 144.6,342.3 145.7,327.5 146.8,343.3 147.9,327.5 149,339.6 150.1,327.5 151.2,341.2 152.3,327.1 153.4,330 154.5,333.9 155.6,324.9 156.7,337.2 157.8,312.2 158.9,327.8 160,298.8 161.1,317 162.2,307.9 163.3,315 164.4,330 165.5,340.1 166.6,324.7 167.7,336.8 168.8,328.3 169.9,340.4 171,332.6 172.1,335.6 173.2,348.2 174.3,341.4 175.4,347.1 176.5,338.3 177.6,351.7 178.7,341.7 179.8,350.8 180.9,340.5 182,350.1 183.1,342.9 184.2,349.9 185.3,340.6 186.4,351.6 187.5,340.2 188.6,339.2 189.7,338.8 190.8,346.5 191.9,338.6 193,349.6 194.1,349.5 195.2,337.6 196.3,347.8 197.4,337.7 198.5,344.1 199.6,338.7 200.7,348.6 201.8,337.7 202.9,348.7 204,335.8 205.1,349.7 206.2,340.9 207.3,346.4 208.4,336.1 209.5,353.4 210.6,341.7 211.7,348.2 212.8,336.4 213.9,348.3 215,338.8 216.1,347.9 217.2,336.7 218.3,336.8 219.4,350 220.5,336.8 221.6,347 222.7,336.2 223.8,348.6 224.9,337.3 226,351.4 227.1,339.6 228.2,346.4 229.3,334.3 230.4,346.4 231.5,333.4 232.6,345.2 233.7,331.8 234.8,331.1 235.9,330.4 237,335.9 238.1,320.8 239.2,324.9 240.3,313 241.4,324.6 242.5,314.3 243.6,330.3 244.7,326.9 245.8,327.7 246.9,342.7 248,335.5 249.1,333 250.2,345 251.3,333.3 252.4,333.4 253.5,349.2 254.6,333.6 255.7,342.9 256.8,333.8 257.9,346.4 259,344.2 260.1,334.1 261.2,343.2 262.3,341.2 263.4,336.9 264.5,345.4 265.6,336.8 266.7,346.1 267.8,352.6 268.9,333.8 270,344.7 271.1,333.6 272.2,345.9 273.3,334.5 274.4,348.6 275.5,334.9 276.6,353.7 277.7,337.1 278.8,350.3 279.9,335.2 281,344.4 282.1,335.4 283.2,342.8 284.3,333 285.4,342.8 286.5,336.3 287.6,342.7 288.7,345.3 289.8,333.9 290.9,343.1 292,342.2 293.1,334.1 294.2,344.4 295.3,332.4 296.4,341 297.5,334.1 298.6,350.2 299.7,332.2 300.8,340.4 301.9,332.5 303,345.8 304.1,334.4 305.2,344 306.3,346.7 307.4,333.5 308.5,350.2 309.6,336.5"/><rect x="37.8" y="292.2" width="8.2" height="3.5" fill="#6a6a6a"/><rect x="48.1" y="292.2" width="8.8" height="3.5" fill="#4a4a4a"/><rect x="57" y="292.2" width="2" height="3.5" fill="#dddddd"/><rect x="63.4" y="292.2" width="4.6" height="3.5" fill="#3a3a3a"/><rect x="68" y="292.2" width="4" height="3.5" fill="#5e5e5e"/><rect x="72" y="292.2" width="4.9" height="3.5" fill="#c8c8c8"/><rect x="93" y="292.2" width="4.8" height="3.5" fill="#1a1a1a"/><rect x="99.6" y="292.2" width="2.3" height="3.5" fill="#cccccc"/><rect x="105" y="292.2" width="4.9" height="3.5" fill="#999999"/><rect x="116" y="292.2" width="6.2" height="3.5" fill="#3d3d3d"/><rect x="122.2" y="292.2" width="5.3" height="3.5" fill="#dddddd"/><rect x="130.8" y="292.2" width="2" height="3.5" fill="#777777"/><rect x="149" y="292.2" width="7.6" height="3.5" fill="#a5a5a5"/><rect x="165.8" y="292.2" width="2.4" height="3.5" fill="#555555"/><rect x="171" y="292.2" width="3.9" height="3.5" fill="#444444"/><rect x="177.1" y="292.2" width="2.6" height="3.5" fill="#bbbbbb"/><rect x="188.3" y="292.2" width="4.1" height="3.5" fill="#999999"/><rect x="192.4" y="292.2" width="2.6" height="3.5" fill="#666666"/><rect x="195" y="292.2" width="6.1" height="3.5" fill="#999999"/><rect x="206.7" y="292.2" width="3.1" height="3.5" fill="#555555"/><rect x="209.8" y="292.2" width="2.6" height="3.5" fill="#111111"/><rect x="212.4" y="292.2" width="4.6" height="3.5" fill="#aaaaaa"/><rect x="223.6" y="292.2" width="4.4" height="3.5" fill="#666666"/><rect x="228" y="292.2" width="7.9" height="3.5" fill="#aaaaaa"/><rect x="246.8" y="292.2" width="2.7" height="3.5" fill="#bbbbbb"/><rect x="254.2" y="292.2" width="6.8" height="3.5" fill="#777777"/><rect x="265.2" y="292.2" width="2.3" height="3.5" fill="#cccccc"/><rect x="268.4" y="292.2" width="3.6" height="3.5" fill="#888888"/><rect x="283.6" y="292.2" width="2.6" height="3.5" fill="#eeeeee"/><rect x="288.9" y="292.2" width="5.8" height="3.5" fill="#555555"/><rect x="298.9" y="292.2" width="3.1" height="3.5" fill="#999999"/><rect x="307" y="292.2" width="3.6" height="3.5" fill="#bbbbbb"/><rect x="37.5" y="297.4" width="273.3" height="94.1" fill="none" stroke="#6a6a6a" stroke-width="0.9"/><line x1="33" y1="297.4" x2="37.5" y2="297.4" stroke="#6a6a6a" stroke-width="0.8"/><text x="30.5" y="299.9" font-size="7.2" text-anchor="end" fill="#222" >0</text><line x1="33" y1="320.9" x2="37.5" y2="320.9" stroke="#6a6a6a" stroke-width="0.8"/><text x="30.5" y="323.4" font-size="7.2" text-anchor="end" fill="#222" >50</text><line x1="33" y1="344.4" x2="37.5" y2="344.4" stroke="#6a6a6a" stroke-width="0.8"/><text x="30.5" y="346.9" font-size="7.2" text-anchor="end" fill="#222" >100</text><line x1="33" y1="368" x2="37.5" y2="368" stroke="#6a6a6a" stroke-width="0.8"/><text x="30.5" y="370.5" font-size="7.2" text-anchor="end" fill="#222" >150</text><line x1="33" y1="391.5" x2="37.5" y2="391.5" stroke="#6a6a6a" stroke-width="0.8"/><text x="30.5" y="394" font-size="7.2" text-anchor="end" fill="#222" >200</text><line x1="46" y1="391.5" x2="46" y2="395.5" stroke="#6a6a6a" stroke-width="0.8"/><text x="46" y="405.8" font-size="7.2" text-anchor="middle" fill="#222" >−10</text><line x1="80.7" y1="391.5" x2="80.7" y2="395.5" stroke="#6a6a6a" stroke-width="0.8"/><text x="80.7" y="405.8" font-size="7.2" text-anchor="middle" fill="#222" >0</text><line x1="115.4" y1="391.5" x2="115.4" y2="395.5" stroke="#6a6a6a" stroke-width="0.8"/><text x="115.4" y="405.8" font-size="7.2" text-anchor="middle" fill="#222" >10</text><line x1="150.2" y1="391.5" x2="150.2" y2="395.5" stroke="#6a6a6a" stroke-width="0.8"/><text x="150.2" y="405.8" font-size="7.2" text-anchor="middle" fill="#222" >20</text><line x1="184.9" y1="391.5" x2="184.9" y2="395.5" stroke="#6a6a6a" stroke-width="0.8"/><text x="184.9" y="405.8" font-size="7.2" text-anchor="middle" fill="#222" >30</text><line x1="219.6" y1="391.5" x2="219.6" y2="395.5" stroke="#6a6a6a" stroke-width="0.8"/><text x="219.6" y="405.8" font-size="7.2" text-anchor="middle" fill="#222" >40</text><line x1="254.4" y1="391.5" x2="254.4" y2="395.5" stroke="#6a6a6a" stroke-width="0.8"/><text x="254.4" y="405.8" font-size="7.2" text-anchor="middle" fill="#222" >50</text><line x1="289.1" y1="391.5" x2="289.1" y2="395.5" stroke="#6a6a6a" stroke-width="0.8"/><text x="289.1" y="405.8" font-size="7.2" text-anchor="middle" fill="#222" >60</text><text transform="translate(7.2,344.3) rotate(-90)" font-size="8.8" text-anchor="middle" fill="#222">Depth (m)</text><text x="174.1" y="421.4" font-size="8.2" text-anchor="middle" fill="#222" >Days since 1 January 2019</text><rect x="314.3" y="294.1" width="5.7" height="95.1" fill="url(#cbe)" stroke="#555" stroke-width="0.5"/><line x1="320" y1="294.1" x2="322.6" y2="294.1" stroke="#555" stroke-width="0.7"/><text x="325.6" y="296.6" font-size="7.2" fill="#222">10<tspan font-size="5" dy="-3">−6</tspan></text><line x1="320" y1="316.3" x2="321.6" y2="316.3" stroke="#555" stroke-width="0.5"/><line x1="320" y1="310.7" x2="321.6" y2="310.7" stroke="#555" stroke-width="0.5"/><line x1="320" y1="306.7" x2="321.6" y2="306.7" stroke="#555" stroke-width="0.5"/><line x1="320" y1="303.6" x2="321.6" y2="303.6" stroke="#555" stroke-width="0.5"/><line x1="320" y1="301.1" x2="321.6" y2="301.1" stroke="#555" stroke-width="0.5"/><line x1="320" y1="299" x2="321.6" y2="299" stroke="#555" stroke-width="0.5"/><line x1="320" y1="297.2" x2="321.6" y2="297.2" stroke="#555" stroke-width="0.5"/><line x1="320" y1="295.6" x2="321.6" y2="295.6" stroke="#555" stroke-width="0.5"/><line x1="320" y1="325.8" x2="322.6" y2="325.8" stroke="#555" stroke-width="0.7"/><text x="325.6" y="328.3" font-size="7.2" fill="#222">10<tspan font-size="5" dy="-3">−7</tspan></text><line x1="320" y1="348" x2="321.6" y2="348" stroke="#555" stroke-width="0.5"/><line x1="320" y1="342.4" x2="321.6" y2="342.4" stroke="#555" stroke-width="0.5"/><line x1="320" y1="338.4" x2="321.6" y2="338.4" stroke="#555" stroke-width="0.5"/><line x1="320" y1="335.3" x2="321.6" y2="335.3" stroke="#555" stroke-width="0.5"/><line x1="320" y1="332.8" x2="321.6" y2="332.8" stroke="#555" stroke-width="0.5"/><line x1="320" y1="330.7" x2="321.6" y2="330.7" stroke="#555" stroke-width="0.5"/><line x1="320" y1="328.9" x2="321.6" y2="328.9" stroke="#555" stroke-width="0.5"/><line x1="320" y1="327.3" x2="321.6" y2="327.3" stroke="#555" stroke-width="0.5"/><line x1="320" y1="357.5" x2="322.6" y2="357.5" stroke="#555" stroke-width="0.7"/><text x="325.6" y="360" font-size="7.2" fill="#222">10<tspan font-size="5" dy="-3">−8</tspan></text><line x1="320" y1="379.7" x2="321.6" y2="379.7" stroke="#555" stroke-width="0.5"/><line x1="320" y1="374.1" x2="321.6" y2="374.1" stroke="#555" stroke-width="0.5"/><line x1="320" y1="370.1" x2="321.6" y2="370.1" stroke="#555" stroke-width="0.5"/><line x1="320" y1="367" x2="321.6" y2="367" stroke="#555" stroke-width="0.5"/><line x1="320" y1="364.5" x2="321.6" y2="364.5" stroke="#555" stroke-width="0.5"/><line x1="320" y1="362.4" x2="321.6" y2="362.4" stroke="#555" stroke-width="0.5"/><line x1="320" y1="360.6" x2="321.6" y2="360.6" stroke="#555" stroke-width="0.5"/><line x1="320" y1="359" x2="321.6" y2="359" stroke="#555" stroke-width="0.5"/><line x1="320" y1="389.2" x2="322.6" y2="389.2" stroke="#555" stroke-width="0.7"/><text x="325.6" y="391.7" font-size="7.2" fill="#222">10<tspan font-size="5" dy="-3">−9</tspan></text><text transform="translate(345.6,341.7) rotate(90)" font-size="8.6" text-anchor="middle" fill="#222">Dissipation rate (W kg<tspan font-size="5.5" dy="-3">−1</tspan><tspan dy="3">)</tspan></text><rect x="410.5" y="297.5" width="8.2" height="93.9" fill="#dcdcdc"/><rect x="420.8" y="297.5" width="8.8" height="93.9" fill="#dcdcdc"/><rect x="429.7" y="297.5" width="2" height="93.9" fill="#ebebeb"/><rect x="436.1" y="297.5" width="4.6" height="93.9" fill="#dcdcdc"/><rect x="440.7" y="297.5" width="4" height="93.9" fill="#dcdcdc"/><rect x="444.7" y="297.5" width="4.9" height="93.9" fill="#dcdcdc"/><rect x="465.7" y="297.5" width="4.8" height="93.9" fill="#dcdcdc"/><rect x="472.3" y="297.5" width="2.3" height="93.9" fill="#dcdcdc"/><rect x="477.7" y="297.5" width="4.9" height="93.9" fill="#dcdcdc"/><rect x="488.7" y="297.5" width="6.2" height="93.9" fill="#dcdcdc"/><rect x="494.9" y="297.5" width="5.3" height="93.9" fill="#ebebeb"/><rect x="503.5" y="297.5" width="2" height="93.9" fill="#dcdcdc"/><rect x="521.7" y="297.5" width="7.6" height="93.9" fill="#dcdcdc"/><rect x="538.5" y="297.5" width="2.4" height="93.9" fill="#dcdcdc"/><rect x="543.7" y="297.5" width="3.9" height="93.9" fill="#dcdcdc"/><rect x="549.8" y="297.5" width="2.6" height="93.9" fill="#dcdcdc"/><rect x="561" y="297.5" width="4.1" height="93.9" fill="#dcdcdc"/><rect x="565.1" y="297.5" width="2.6" height="93.9" fill="#dcdcdc"/><rect x="567.7" y="297.5" width="6.1" height="93.9" fill="#dcdcdc"/><rect x="579.4" y="297.5" width="3.1" height="93.9" fill="#dcdcdc"/><rect x="582.5" y="297.5" width="2.6" height="93.9" fill="#dcdcdc"/><rect x="585.1" y="297.5" width="4.6" height="93.9" fill="#dcdcdc"/><rect x="596.3" y="297.5" width="4.4" height="93.9" fill="#dcdcdc"/><rect x="600.7" y="297.5" width="7.9" height="93.9" fill="#dcdcdc"/><rect x="619.5" y="297.5" width="2.7" height="93.9" fill="#dcdcdc"/><rect x="626.9" y="297.5" width="6.8" height="93.9" fill="#dcdcdc"/><rect x="637.9" y="297.5" width="2.3" height="93.9" fill="#dcdcdc"/><rect x="641.1" y="297.5" width="3.6" height="93.9" fill="#dcdcdc"/><rect x="656.3" y="297.5" width="2.6" height="93.9" fill="#ebebeb"/><rect x="661.6" y="297.5" width="5.8" height="93.9" fill="#dcdcdc"/><rect x="671.6" y="297.5" width="3.1" height="93.9" fill="#dcdcdc"/><rect x="679.7" y="297.5" width="3.6" height="93.9" fill="#dcdcdc"/><rect x="410.5" y="292.2" width="8.2" height="3.6" fill="#6a6a6a"/><rect x="420.8" y="292.2" width="8.8" height="3.6" fill="#4a4a4a"/><rect x="429.7" y="292.2" width="2" height="3.6" fill="#dddddd"/><rect x="436.1" y="292.2" width="4.6" height="3.6" fill="#3a3a3a"/><rect x="440.7" y="292.2" width="4" height="3.6" fill="#5e5e5e"/><rect x="444.7" y="292.2" width="4.9" height="3.6" fill="#c8c8c8"/><rect x="465.7" y="292.2" width="4.8" height="3.6" fill="#1a1a1a"/><rect x="472.3" y="292.2" width="2.3" height="3.6" fill="#cccccc"/><rect x="477.7" y="292.2" width="4.9" height="3.6" fill="#999999"/><rect x="488.7" y="292.2" width="6.2" height="3.6" fill="#3d3d3d"/><rect x="494.9" y="292.2" width="5.3" height="3.6" fill="#dddddd"/><rect x="503.5" y="292.2" width="2" height="3.6" fill="#777777"/><rect x="521.7" y="292.2" width="7.6" height="3.6" fill="#a5a5a5"/><rect x="538.5" y="292.2" width="2.4" height="3.6" fill="#555555"/><rect x="543.7" y="292.2" width="3.9" height="3.6" fill="#444444"/><rect x="549.8" y="292.2" width="2.6" height="3.6" fill="#bbbbbb"/><rect x="561" y="292.2" width="4.1" height="3.6" fill="#999999"/><rect x="565.1" y="292.2" width="2.6" height="3.6" fill="#666666"/><rect x="567.7" y="292.2" width="6.1" height="3.6" fill="#999999"/><rect x="579.4" y="292.2" width="3.1" height="3.6" fill="#555555"/><rect x="582.5" y="292.2" width="2.6" height="3.6" fill="#111111"/><rect x="585.1" y="292.2" width="4.6" height="3.6" fill="#aaaaaa"/><rect x="596.3" y="292.2" width="4.4" height="3.6" fill="#666666"/><rect x="600.7" y="292.2" width="7.9" height="3.6" fill="#aaaaaa"/><rect x="619.5" y="292.2" width="2.7" height="3.6" fill="#bbbbbb"/><rect x="626.9" y="292.2" width="6.8" height="3.6" fill="#777777"/><rect x="637.9" y="292.2" width="2.3" height="3.6" fill="#cccccc"/><rect x="641.1" y="292.2" width="3.6" height="3.6" fill="#888888"/><rect x="656.3" y="292.2" width="2.6" height="3.6" fill="#eeeeee"/><rect x="661.6" y="292.2" width="5.8" height="3.6" fill="#555555"/><rect x="671.6" y="292.2" width="3.1" height="3.6" fill="#999999"/><rect x="679.7" y="292.2" width="3.6" height="3.6" fill="#bbbbbb"/><polygon points="410.6,377.8 412.6,377.8 413.2,357.5 413.8,337.1 414.1,332.6 414.5,337.1 415,357.5 415.7,377.8 416.2,377.8 416.9,358.5 417.4,339.1 417.8,334.8 418.2,339.1 418.7,358.5 419.4,377.8 419.4,377.8 420.1,365.8 420.6,353.8 421,351.1 421.4,353.8 421.9,365.8 422.6,377.8 422.8,377.8 423.4,357.9 423.9,338.1 424.3,333.7 424.7,338.1 425.2,357.9 425.9,377.8 426.1,377.8 426.7,352.1 427.2,326.4 427.6,320.7 428,326.4 428.5,352.1 429.2,377.8 429.8,377.8 430.4,352.6 430.9,327.3 431.3,321.7 431.7,327.3 432.2,352.6 432.9,377.8 433.1,377.8 433.8,350.6 434.3,323.4 434.7,317.4 435.1,323.4 435.6,350.6 436.2,377.8 436.8,377.8 437.5,363.8 438,349.8 438.4,346.7 438.8,349.8 439.3,363.8 439.9,377.8 440.1,377.8 440.8,356 441.3,334.1 441.7,329.3 442.1,334.1 442.6,356 443.2,377.8 443.4,377.8 444.1,352.6 444.6,327.3 445,321.7 445.4,327.3 445.9,352.6 446.6,377.8 447.1,377.8 447.8,352.6 448.3,327.3 448.7,321.7 449.1,327.3 449.6,352.6 450.2,377.8 450.6,377.8 451.2,349.6 451.8,321.4 452.1,315.2 452.5,321.4 453,349.6 453.7,377.8 453.8,377.8 454.5,359.9 455,342 455.4,338 455.8,342 456.3,359.9 456.9,377.8 457.6,377.8 458.2,362.9 458.8,347.9 459.1,344.6 459.5,347.9 460,362.9 460.7,377.8 460.8,377.8 461.4,366.8 461.9,355.8 462.3,353.3 462.7,355.8 463.2,366.8 463.9,377.8 464.1,377.8 464.7,361.9 465.2,346 465.6,342.4 466,346 466.5,361.9 467.2,377.8 467.8,377.8 468.4,362.9 468.9,347.9 469.3,344.6 469.7,347.9 470.2,362.9 470.9,377.8 471.2,377.8 471.9,358.9 472.4,340.1 472.8,335.9 473.2,340.1 473.7,358.9 474.4,377.8 474.9,377.8 475.6,352.1 476.1,326.4 476.5,320.7 476.9,326.4 477.4,352.1 478.1,377.8 478.2,377.8 478.9,360.9 479.4,344 479.8,340.2 480.2,344 480.7,360.9 481.4,377.8 481.8,377.8 482.4,351.6 482.9,325.4 483.3,319.6 483.7,325.4 484.2,351.6 484.9,377.8 485.4,377.8 486.1,363.8 486.6,349.8 487,346.7 487.4,349.8 487.9,363.8 488.6,377.8 488.6,377.8 489.3,356.5 489.8,335.1 490.2,330.4 490.6,335.1 491.1,356.5 491.8,377.8 492.3,377.8 493,358.5 493.5,339.1 493.9,334.8 494.2,339.1 494.8,358.5 495.4,377.8 495.8,377.8 496.5,350.6 497,323.4 497.4,317.4 497.8,323.4 498.3,350.6 498.9,377.8 499.1,377.8 499.8,354 500.3,330.3 500.7,325 501.1,330.3 501.6,354 502.2,377.8 502.8,377.8 503.4,358.5 503.9,339.1 504.3,334.8 504.7,339.1 505.2,358.5 505.9,377.8 506.1,377.8 506.7,363.8 507.2,349.8 507.6,346.7 508,349.8 508.5,363.8 509.2,377.8 509.8,377.8 510.4,357.3 510.9,336.8 511.3,332.2 511.7,336.8 512.2,357.3 512.9,377.8 513.2,377.8 513.9,358.6 514.4,339.5 514.8,335.2 515.1,339.5 515.7,358.6 516.3,377.8 516.5,377.8 517.1,350.4 517.6,323.1 518,317 518.4,323.1 518.9,350.4 519.5,377.8 520.2,377.8 520.8,368.7 521.4,359.6 521.7,357.6 522.1,359.6 522.6,368.7 523.2,377.8 523.5,377.8 524.1,359.2 524.6,340.6 525,336.5 525.4,340.6 525.9,359.2 526.5,377.8 527.2,377.8 527.8,356 528.4,334.1 528.7,329.3 529.1,334.1 529.6,356 530.2,377.8 530.5,377.8 531.1,352.1 531.6,326.4 532,320.7 532.4,326.4 532.9,352.1 533.5,377.8 534.4,377.8 535,366.3 535.5,354.7 535.9,352.2 536.2,354.7 536.8,366.3 537.4,377.8 537.6,377.8 538.2,358.9 538.8,340.1 539.1,335.9 539.5,340.1 540,358.9 540.6,377.8 541.2,377.8 541.9,361.9 542.4,346 542.8,342.4 543.1,346 543.7,361.9 544.3,377.8 544.8,377.8 545.4,357.9 545.9,338.1 546.3,333.7 546.6,338.1 547.2,357.9 547.8,377.8 548.1,377.8 548.7,353 549.2,328.3 549.6,322.8 550,328.3 550.5,353 551.1,377.8 551.4,377.8 552,357 552.5,336.1 552.9,331.5 553.2,336.1 553.8,357 554.4,377.8 554.6,377.8 555.2,365.3 555.8,352.7 556.1,350 556.5,352.7 557,365.3 557.6,377.8 558.2,377.8 558.9,360.9 559.4,344 559.8,340.2 560.1,344 560.7,360.9 561.3,377.8 561.6,377.8 562.2,370.2 562.8,362.6 563.1,360.9 563.5,362.6 564,370.2 564.6,377.8 565.1,377.8 565.7,365.8 566.2,353.8 566.6,351.1 567,353.8 567.5,365.8 568.1,377.8 568.8,377.8 569.4,364.8 569.9,351.8 570.3,348.9 570.6,351.8 571.2,364.8 571.8,377.8 572.5,377.8 573.1,357.3 573.6,336.8 574,332.2 574.4,336.8 574.9,357.3 575.5,377.8 575.9,377.8 576.5,355.8 577,333.8 577.4,328.9 577.8,333.8 578.3,355.8 578.9,377.8 579.6,377.8 580.2,366.8 580.8,355.8 581.1,353.3 581.5,355.8 582,366.8 582.6,377.8 582.9,377.8 583.5,356.5 584,335.1 584.4,330.4 584.8,335.1 585.3,356.5 585.9,377.8 586.6,377.8 587.2,368.4 587.8,359.1 588.1,357 588.5,359.1 589,368.4 589.6,377.8 590.1,377.8 590.7,365.3 591.2,352.7 591.6,350 592,352.7 592.5,365.3 593.1,377.8 593.2,377.8 593.9,370 594.4,362.1 594.8,360.4 595.1,362.1 595.7,370 596.3,377.8 596.6,377.8 597.2,369 597.8,360.3 598.1,358.3 598.5,360.3 599,369 599.6,377.8 600.2,377.8 600.9,358.9 601.4,340.1 601.8,335.9 602.1,340.1 602.7,358.9 603.3,377.8 603.5,377.8 604.1,365.3 604.6,352.7 605,350 605.4,352.7 605.9,365.3 606.5,377.8 606.8,377.8 607.4,354 607.9,330.3 608.3,325 608.6,330.3 609.2,354 609.8,377.8 610.1,377.8 610.7,363.4 611.2,348.9 611.6,345.7 612,348.9 612.5,363.4 613.1,377.8 613.9,377.8 614.5,356.5 615,335.1 615.4,330.4 615.8,335.1 616.3,356.5 616.9,377.8 617.2,377.8 617.8,371.1 618.4,364.5 618.7,363 619.1,364.5 619.6,371.1 620.2,377.8 620.5,377.8 621.1,365.3 621.6,352.7 622,350 622.4,352.7 622.9,365.3 623.5,377.8 624.2,377.8 624.8,365.3 625.4,352.7 625.7,350 626.1,352.7 626.6,365.3 627.2,377.8 627.6,377.8 628.2,358.5 628.8,339.1 629.1,334.8 629.5,339.1 630,358.5 630.6,377.8 630.9,377.8 631.5,366.3 632,354.7 632.4,352.2 632.8,354.7 633.3,366.3 633.9,377.8 634.6,377.8 635.2,357 635.8,336.1 636.1,331.5 636.5,336.1 637,357 637.6,377.8 638.2,377.8 638.9,370.7 639.4,363.6 639.8,362 640.1,363.6 640.7,370.7 641.3,377.8 641.5,377.8 642.1,362.9 642.6,347.9 643,344.6 643.4,347.9 643.9,362.9 644.5,377.8 645,377.8 645.6,357.5 646.1,337.1 646.5,332.6 646.9,337.1 647.4,357.5 648,377.8 648.5,377.8 649.1,359.9 649.6,342 650,338 650.4,342 650.9,359.9 651.5,377.8 652,377.8 652.6,370.7 653.1,363.6 653.5,362 653.9,363.6 654.4,370.7 655,377.8 655.2,377.8 655.8,361.9 656.4,346 656.7,342.4 657.1,346 657.6,361.9 658.2,377.8 658.9,377.8 659.5,366.3 660,354.7 660.4,352.2 660.8,354.7 661.3,366.3 661.9,377.8 662.4,377.8 663,362.9 663.5,347.9 663.9,344.6 664.2,347.9 664.8,362.9 665.4,377.8 665.9,377.8 666.5,357 667,336.1 667.4,331.5 667.8,336.1 668.3,357 668.9,377.8 669.4,377.8 670,357.5 670.5,337.1 670.9,332.6 671.2,337.1 671.8,357.5 672.4,377.8 672.8,377.8 673.4,357.5 673.9,337.1 674.3,332.6 674.6,337.1 675.2,357.5 675.8,377.8 676.2,377.8 676.9,358.9 677.4,340.1 677.8,335.9 678.1,340.1 678.7,358.9 679.3,377.8 679.8,377.8 680.4,368.7 680.9,359.6 681.3,357.6 681.6,359.6 682.2,368.7 682.8,377.8 683.6,377.8" fill="#3a3a3a" fill-opacity="0.35"/><polyline fill="none" stroke="#000" stroke-width="0.9" stroke-linejoin="round"  points="410.6,377.8 412.6,377.8 413.2,357.5 413.8,337.1 414.1,332.6 414.5,337.1 415,357.5 415.7,377.8 416.2,377.8 416.9,358.5 417.4,339.1 417.8,334.8 418.2,339.1 418.7,358.5 419.4,377.8 419.4,377.8 420.1,365.8 420.6,353.8 421,351.1 421.4,353.8 421.9,365.8 422.6,377.8 422.8,377.8 423.4,357.9 423.9,338.1 424.3,333.7 424.7,338.1 425.2,357.9 425.9,377.8 426.1,377.8 426.7,352.1 427.2,326.4 427.6,320.7 428,326.4 428.5,352.1 429.2,377.8 429.8,377.8 430.4,352.6 430.9,327.3 431.3,321.7 431.7,327.3 432.2,352.6 432.9,377.8 433.1,377.8 433.8,350.6 434.3,323.4 434.7,317.4 435.1,323.4 435.6,350.6 436.2,377.8 436.8,377.8 437.5,363.8 438,349.8 438.4,346.7 438.8,349.8 439.3,363.8 439.9,377.8 440.1,377.8 440.8,356 441.3,334.1 441.7,329.3 442.1,334.1 442.6,356 443.2,377.8 443.4,377.8 444.1,352.6 444.6,327.3 445,321.7 445.4,327.3 445.9,352.6 446.6,377.8 447.1,377.8 447.8,352.6 448.3,327.3 448.7,321.7 449.1,327.3 449.6,352.6 450.2,377.8 450.6,377.8 451.2,349.6 451.8,321.4 452.1,315.2 452.5,321.4 453,349.6 453.7,377.8 453.8,377.8 454.5,359.9 455,342 455.4,338 455.8,342 456.3,359.9 456.9,377.8 457.6,377.8 458.2,362.9 458.8,347.9 459.1,344.6 459.5,347.9 460,362.9 460.7,377.8 460.8,377.8 461.4,366.8 461.9,355.8 462.3,353.3 462.7,355.8 463.2,366.8 463.9,377.8 464.1,377.8 464.7,361.9 465.2,346 465.6,342.4 466,346 466.5,361.9 467.2,377.8 467.8,377.8 468.4,362.9 468.9,347.9 469.3,344.6 469.7,347.9 470.2,362.9 470.9,377.8 471.2,377.8 471.9,358.9 472.4,340.1 472.8,335.9 473.2,340.1 473.7,358.9 474.4,377.8 474.9,377.8 475.6,352.1 476.1,326.4 476.5,320.7 476.9,326.4 477.4,352.1 478.1,377.8 478.2,377.8 478.9,360.9 479.4,344 479.8,340.2 480.2,344 480.7,360.9 481.4,377.8 481.8,377.8 482.4,351.6 482.9,325.4 483.3,319.6 483.7,325.4 484.2,351.6 484.9,377.8 485.4,377.8 486.1,363.8 486.6,349.8 487,346.7 487.4,349.8 487.9,363.8 488.6,377.8 488.6,377.8 489.3,356.5 489.8,335.1 490.2,330.4 490.6,335.1 491.1,356.5 491.8,377.8 492.3,377.8 493,358.5 493.5,339.1 493.9,334.8 494.2,339.1 494.8,358.5 495.4,377.8 495.8,377.8 496.5,350.6 497,323.4 497.4,317.4 497.8,323.4 498.3,350.6 498.9,377.8 499.1,377.8 499.8,354 500.3,330.3 500.7,325 501.1,330.3 501.6,354 502.2,377.8 502.8,377.8 503.4,358.5 503.9,339.1 504.3,334.8 504.7,339.1 505.2,358.5 505.9,377.8 506.1,377.8 506.7,363.8 507.2,349.8 507.6,346.7 508,349.8 508.5,363.8 509.2,377.8 509.8,377.8 510.4,357.3 510.9,336.8 511.3,332.2 511.7,336.8 512.2,357.3 512.9,377.8 513.2,377.8 513.9,358.6 514.4,339.5 514.8,335.2 515.1,339.5 515.7,358.6 516.3,377.8 516.5,377.8 517.1,350.4 517.6,323.1 518,317 518.4,323.1 518.9,350.4 519.5,377.8 520.2,377.8 520.8,368.7 521.4,359.6 521.7,357.6 522.1,359.6 522.6,368.7 523.2,377.8 523.5,377.8 524.1,359.2 524.6,340.6 525,336.5 525.4,340.6 525.9,359.2 526.5,377.8 527.2,377.8 527.8,356 528.4,334.1 528.7,329.3 529.1,334.1 529.6,356 530.2,377.8 530.5,377.8 531.1,352.1 531.6,326.4 532,320.7 532.4,326.4 532.9,352.1 533.5,377.8 534.4,377.8 535,366.3 535.5,354.7 535.9,352.2 536.2,354.7 536.8,366.3 537.4,377.8 537.6,377.8 538.2,358.9 538.8,340.1 539.1,335.9 539.5,340.1 540,358.9 540.6,377.8 541.2,377.8 541.9,361.9 542.4,346 542.8,342.4 543.1,346 543.7,361.9 544.3,377.8 544.8,377.8 545.4,357.9 545.9,338.1 546.3,333.7 546.6,338.1 547.2,357.9 547.8,377.8 548.1,377.8 548.7,353 549.2,328.3 549.6,322.8 550,328.3 550.5,353 551.1,377.8 551.4,377.8 552,357 552.5,336.1 552.9,331.5 553.2,336.1 553.8,357 554.4,377.8 554.6,377.8 555.2,365.3 555.8,352.7 556.1,350 556.5,352.7 557,365.3 557.6,377.8 558.2,377.8 558.9,360.9 559.4,344 559.8,340.2 560.1,344 560.7,360.9 561.3,377.8 561.6,377.8 562.2,370.2 562.8,362.6 563.1,360.9 563.5,362.6 564,370.2 564.6,377.8 565.1,377.8 565.7,365.8 566.2,353.8 566.6,351.1 567,353.8 567.5,365.8 568.1,377.8 568.8,377.8 569.4,364.8 569.9,351.8 570.3,348.9 570.6,351.8 571.2,364.8 571.8,377.8 572.5,377.8 573.1,357.3 573.6,336.8 574,332.2 574.4,336.8 574.9,357.3 575.5,377.8 575.9,377.8 576.5,355.8 577,333.8 577.4,328.9 577.8,333.8 578.3,355.8 578.9,377.8 579.6,377.8 580.2,366.8 580.8,355.8 581.1,353.3 581.5,355.8 582,366.8 582.6,377.8 582.9,377.8 583.5,356.5 584,335.1 584.4,330.4 584.8,335.1 585.3,356.5 585.9,377.8 586.6,377.8 587.2,368.4 587.8,359.1 588.1,357 588.5,359.1 589,368.4 589.6,377.8 590.1,377.8 590.7,365.3 591.2,352.7 591.6,350 592,352.7 592.5,365.3 593.1,377.8 593.2,377.8 593.9,370 594.4,362.1 594.8,360.4 595.1,362.1 595.7,370 596.3,377.8 596.6,377.8 597.2,369 597.8,360.3 598.1,358.3 598.5,360.3 599,369 599.6,377.8 600.2,377.8 600.9,358.9 601.4,340.1 601.8,335.9 602.1,340.1 602.7,358.9 603.3,377.8 603.5,377.8 604.1,365.3 604.6,352.7 605,350 605.4,352.7 605.9,365.3 606.5,377.8 606.8,377.8 607.4,354 607.9,330.3 608.3,325 608.6,330.3 609.2,354 609.8,377.8 610.1,377.8 610.7,363.4 611.2,348.9 611.6,345.7 612,348.9 612.5,363.4 613.1,377.8 613.9,377.8 614.5,356.5 615,335.1 615.4,330.4 615.8,335.1 616.3,356.5 616.9,377.8 617.2,377.8 617.8,371.1 618.4,364.5 618.7,363 619.1,364.5 619.6,371.1 620.2,377.8 620.5,377.8 621.1,365.3 621.6,352.7 622,350 622.4,352.7 622.9,365.3 623.5,377.8 624.2,377.8 624.8,365.3 625.4,352.7 625.7,350 626.1,352.7 626.6,365.3 627.2,377.8 627.6,377.8 628.2,358.5 628.8,339.1 629.1,334.8 629.5,339.1 630,358.5 630.6,377.8 630.9,377.8 631.5,366.3 632,354.7 632.4,352.2 632.8,354.7 633.3,366.3 633.9,377.8 634.6,377.8 635.2,357 635.8,336.1 636.1,331.5 636.5,336.1 637,357 637.6,377.8 638.2,377.8 638.9,370.7 639.4,363.6 639.8,362 640.1,363.6 640.7,370.7 641.3,377.8 641.5,377.8 642.1,362.9 642.6,347.9 643,344.6 643.4,347.9 643.9,362.9 644.5,377.8 645,377.8 645.6,357.5 646.1,337.1 646.5,332.6 646.9,337.1 647.4,357.5 648,377.8 648.5,377.8 649.1,359.9 649.6,342 650,338 650.4,342 650.9,359.9 651.5,377.8 652,377.8 652.6,370.7 653.1,363.6 653.5,362 653.9,363.6 654.4,370.7 655,377.8 655.2,377.8 655.8,361.9 656.4,346 656.7,342.4 657.1,346 657.6,361.9 658.2,377.8 658.9,377.8 659.5,366.3 660,354.7 660.4,352.2 660.8,354.7 661.3,366.3 661.9,377.8 662.4,377.8 663,362.9 663.5,347.9 663.9,344.6 664.2,347.9 664.8,362.9 665.4,377.8 665.9,377.8 666.5,357 667,336.1 667.4,331.5 667.8,336.1 668.3,357 668.9,377.8 669.4,377.8 670,357.5 670.5,337.1 670.9,332.6 671.2,337.1 671.8,357.5 672.4,377.8 672.8,377.8 673.4,357.5 673.9,337.1 674.3,332.6 674.6,337.1 675.2,357.5 675.8,377.8 676.2,377.8 676.9,358.9 677.4,340.1 677.8,335.9 678.1,340.1 678.7,358.9 679.3,377.8 679.8,377.8 680.4,368.7 680.9,359.6 681.3,357.6 681.6,359.6 682.2,368.7 682.8,377.8 683.6,377.8"/><polyline fill="none" stroke="#2a7abc" stroke-width="1.1" stroke-linejoin="round"  points="410.6,379.7 411.2,380.1 411.8,380.2 412.4,381.1 413,380.9 413.6,380.8 414.2,380.9 414.8,381.6 415.4,380.8 416,380.6 416.6,380.6 417.2,379.8 417.8,380.1 418.4,380.2 419,379.7 419.6,380.1 420.2,380.6 420.8,380.7 421.4,380.5 422,381.1 422.6,380.5 423.2,380.4 423.8,380.9 424.4,380.5 425,380.4 425.6,380.9 426.2,380.8 426.8,381.6 427.4,381.7 428,380.7 428.6,381.5 429.2,381.7 429.8,380.9 430.4,381.2 431,382.2 431.6,382.2 432.2,382.6 432.8,382.9 433.4,383.5 434,383.2 434.6,383.7 435.2,383.2 435.8,383 436.4,382.6 437,382.3 437.6,380.8 438.2,380.5 438.8,380.4 439.4,381.2 440,381.3 440.6,381.6 441.2,381.5 441.8,382 442.4,382 443,382.2 443.6,382.4 444.2,382 444.8,382.4 445.4,382.6 446,382.9 446.6,382.8 447.2,382.7 447.8,383.4 448.4,383.9 449,383.5 449.6,383.5 450.2,382.9 450.8,383.6 451.4,382.5 452,383.4 452.6,382.7 453.2,382.7 453.8,382.7 454.4,381.5 455,380.9 455.6,380.7 456.2,379.5 456.8,378.6 457.4,379 458,378.8 458.6,378.2 459.2,377.9 459.8,378.2 460.4,378.2 461,378 461.6,378.3 462.2,377.9 462.8,377.9 463.4,378 464,378.6 464.6,378.1 465.2,377.9 465.8,378.2 466.4,378.5 467,378.4 467.6,378 468.2,378.6 468.8,379.5 469.4,379.6 470,380 470.6,380.2 471.2,380.9 471.8,381.4 472.4,380.6 473,380.2 473.6,379.9 474.2,379.8 474.8,379.7 475.4,379.5 476,379.3 476.6,379.9 477.2,380.1 477.8,381 478.4,381.4 479,381.5 479.6,381.4 480.2,381.3 480.8,381.6 481.4,381.5 482,380.5 482.6,381.5 483.2,380.4 483.8,380.4 484.4,380.6 485,380 485.6,380.3 486.2,380.9 486.8,379.7 487.4,380.1 488,379.4 488.6,379.4 489.2,380 489.8,380.1 490.4,380.6 491,380.1 491.6,380.5 492.2,381.6 492.8,382.2 493.4,382.3 494,382.2 494.6,382.4 495.2,382.4 495.8,382.4 496.4,382.8 497,382.9 497.6,384 498.2,383.8 498.8,382.2 499.4,381.9 500,381.6 500.6,381.3 501.2,380.5 501.8,379.9 502.4,379.5 503,379.6 503.6,380 504.2,380.2 504.8,380.1 505.4,380.3 506,380.3 506.6,380 507.2,380.4 507.8,379.7 508.4,380 509,380.2 509.6,380 510.2,380.5 510.8,380.8 511.4,380.8 512,380.5 512.6,380.5 513.2,380.7 513.8,380.7 514.4,380.1 515,381.6 515.6,381.5 516.2,382 516.8,382.6 517.4,382.5 518,383.5 518.6,383.8 519.2,383.1 519.8,381.5 520.4,381.7 521,381.3 521.6,379.7 522.2,379.5 522.8,379 523.4,380 524,379.6 524.6,380.7 525.2,380.7 525.8,380.2 526.4,380.7 527,380.6 527.6,381.3 528.2,380.9 528.8,382 529.4,381.5 530,382.2 530.6,382.3 531.2,381.6 531.8,382.3 532.4,382 533,382.6 533.6,381.8 534.2,381.2 534.8,381.3 535.4,381.5 536,380.6 536.6,380 537.2,379.9 537.8,380 538.4,379.8 539,380 539.6,379.5 540.2,380.6 540.8,380.8 541.4,381.3 542,381.4 542.6,381.5 543.2,381.4 543.8,381.6 544.4,381.2 545,380.6 545.6,381.3 546.2,381.1 546.8,380.5 547.4,380.1 548,380.2 548.6,380.8 549.2,381.5 549.8,380.7 550.4,380.7 551,381 551.6,381.6 552.2,381.9 552.8,381.8 553.4,381.7 554,381.6 554.6,382.3 555.2,382.5 555.8,382.3 556.4,381.5 557,381.1 557.6,381 558.2,380.3 558.8,379.3 559.4,379.8 560,379.9 560.6,379.9 561.2,379.3 561.8,380.1 562.4,379.6 563,379.6 563.6,379.7 564.2,379.9 564.8,380.7 565.4,380.5 566,380 566.6,380.7 567.2,380.2 567.8,379.9 568.4,379.8 569,380.4 569.6,380.7 570.2,380.7 570.8,380.3 571.4,380 572,380.5 572.6,380 573.2,380.4 573.8,380.6 574.4,380.5 575,381.3 575.6,381.1 576.2,381.7 576.8,381.9 577.4,382.3 578,381.5 578.6,381.1 579.2,381.9 579.8,380.8 580.4,381.4 581,380.7 581.6,380.6 582.2,379.6 582.8,380 583.4,379.6 584,379.8 584.6,380.4 585.2,380.9 585.8,381.7 586.4,382.2 587,382.1 587.6,382.3 588.2,382.5 588.8,382.5 589.4,381.3 590,381.9 590.6,381.1 591.2,380.8 591.8,380.6 592.4,379.4 593,379.6 593.6,380.2 594.2,380.1 594.8,379.2 595.4,379.6 596,379.6 596.6,379.5 597.2,379.4 597.8,378.9 598.4,379.3 599,379.2 599.6,380.1 600.2,379.8 600.8,380 601.4,380.5 602,380.1 602.6,380.3 603.2,380.8 603.8,381.4 604.4,381.9 605,381.5 605.6,382 606.2,382.3 606.8,382 607.4,382.6 608,382.2 608.6,382.1 609.2,382.7 609.8,381.6 610.4,381.9 611,381.4 611.6,380.6 612.2,380 612.8,380.5 613.4,379.7 614,379.9 614.6,378.9 615.2,379.8 615.8,379.2 616.4,379.9 617,379.3 617.6,379 618.2,378.8 618.8,378.9 619.4,379.1 620,379.3 620.6,379 621.2,378.9 621.8,378.9 622.4,378.8 623,378.8 623.6,378.8 624.2,379.5 624.8,379.4 625.4,379.8 626,380.5 626.6,380.2 627.2,381 627.8,380.7 628.4,380.9 629,381 629.6,381 630.2,381.3 630.8,381.6 631.4,381.9 632,381.5 632.6,381.3 633.2,382 633.8,382.2 634.4,381.6 635,381.4 635.6,382 636.2,381.9 636.8,381.6 637.4,380.9 638,380.3 638.6,380.8 639.2,379.9 639.8,380.5 640.4,380.1 641,379.5 641.6,379.4 642.2,380 642.8,380.1 643.4,380.8 644,381 644.6,381.2 645.2,382.1 645.8,382.1 646.4,382.3 647,382.2 647.6,382.7 648.2,382.5 648.8,381.4 649.4,381.6 650,381.7 650.6,381 651.2,380.9 651.8,380.6 652.4,380.7 653,380.4 653.6,380.9 654.2,380.5 654.8,380.5 655.4,380.6 656,380.5 656.6,379.8 657.2,380.5 657.8,380.6 658.4,380.3 659,380.5 659.6,380.7 660.2,379.8 660.8,380.3 661.4,381.1 662,380.6 662.6,381.2 663.2,380.9 663.8,380.5 664.4,380.6 665,381.5 665.6,381.1 666.2,381.8 666.8,382.6 667.4,382.5 668,382.3 668.6,382.6 669.2,383 669.8,382.9 670.4,383.7 671,383.3 671.6,383.2 672.2,383.2 672.8,383.3 673.4,383.3 674,384 674.6,384 675.2,383.8 675.8,384.4 676.4,384 677,383.7 677.6,383.6 678.2,383.5 678.8,382.7 679.4,382.9 680,382.9 680.6,381.6 681.2,381 681.8,381.4 682.4,380.4 683,380.7"/><polyline fill="none" stroke="#f0a010" stroke-width="1.3" stroke-linejoin="round"  points="410.6,298.7 412.6,298.7 414.6,298.7 416.6,298.7 418.6,298.7 420.6,298.7 422.6,298.7 424.6,298.7 426.6,298.8 428.6,298.8 430.6,298.8 432.6,298.8 434.6,298.8 436.6,298.9 438.6,298.9 440.6,298.9 442.6,298.9 444.6,299 446.6,299 448.6,299 450.6,299.1 452.6,299.1 454.6,299.2 456.6,299.2 458.6,299.3 460.6,299.3 462.6,299.4 464.6,299.4 466.6,299.5 468.6,299.5 470.6,299.6 472.6,299.6 474.6,299.7 476.6,299.8 478.6,299.8 480.6,299.9 482.6,300 484.6,300.1 486.6,300.1 488.6,300.2 490.6,300.3 492.6,300.4 494.6,300.4 496.6,300.5 498.6,300.6 500.6,300.7 502.6,300.8 504.6,300.9 506.6,301 508.6,301.1 510.6,301.2 512.6,301.3 514.6,301.4 516.6,301.5 518.6,301.6 520.6,301.7 522.6,301.8 524.6,301.9 526.6,302.1 528.6,302.2 530.6,302.3 532.6,302.4 534.6,302.5 536.6,302.7 538.6,302.8 540.6,302.9 542.6,303.1 544.6,303.2 546.6,303.3 548.6,303.5 550.6,303.6 552.6,303.8 554.6,303.9 556.6,304 558.6,304.2 560.6,304.3 562.6,304.5 564.6,304.7 566.6,304.8 568.6,305 570.6,305.1 572.6,305.3 574.6,305.5 576.6,305.6 578.6,305.8 580.6,306 582.6,306.1 584.6,306.3 586.6,306.5 588.6,306.7 590.6,306.8 592.6,307 594.6,307.2 596.6,307.4 598.6,307.6 600.6,307.8 602.6,308 604.6,308.2 606.6,308.4 608.6,308.6 610.6,308.8 612.6,309 614.6,309.2 616.6,309.4 618.6,309.6 620.6,309.8 622.6,310 624.6,310.2 626.6,310.5 628.6,310.7 630.6,310.9 632.6,311.1 634.6,311.3 636.6,311.6 638.6,311.8 640.6,312 642.6,312.3 644.6,312.5 646.6,312.7 648.6,313 650.6,313.2 652.6,313.5 654.6,313.7 656.6,314 658.6,314.2 660.6,314.5 662.6,314.7 664.6,315 666.6,315.2 668.6,315.5 670.6,315.8 672.6,316 674.6,316.3 676.6,316.6 678.6,316.8 680.6,317.1 682.6,317.4"/><rect x="557" y="299" width="125" height="14" rx="2" fill="#fff" fill-opacity="0.8"/><line x1="559.7" y1="306.4" x2="568.5" y2="306.4" stroke="#2a7abc" stroke-width="1.3"/><text x="573.5" y="308.4" font-size="6.6" text-anchor="start" fill="#222" >LWR</text><line x1="594.7" y1="306.4" x2="602.9" y2="306.4" stroke="#000" stroke-width="1.3"/><text x="608.4" y="308.4" font-size="6.6" text-anchor="start" fill="#222" >SWR</text><line x1="630.3" y1="306.4" x2="638.5" y2="306.4" stroke="#f0a010" stroke-width="1.3"/><text x="644.9" y="308.4" font-size="6.6" text-anchor="start" fill="#222" >TOA SWR</text><rect x="410.5" y="297.5" width="273.1" height="93.9" fill="none" stroke="#6a6a6a" stroke-width="0.9"/><line x1="406" y1="377.8" x2="410.5" y2="377.8" stroke="#6a6a6a" stroke-width="0.8"/><text x="403.5" y="380.3" font-size="7.2" text-anchor="end" fill="#222" >0</text><line x1="406" y1="351.1" x2="410.5" y2="351.1" stroke="#6a6a6a" stroke-width="0.8"/><text x="403.5" y="353.6" font-size="7.2" text-anchor="end" fill="#222" >400</text><line x1="406" y1="324.4" x2="410.5" y2="324.4" stroke="#6a6a6a" stroke-width="0.8"/><text x="403.5" y="326.9" font-size="7.2" text-anchor="end" fill="#222" >800</text><line x1="406" y1="297.7" x2="410.5" y2="297.7" stroke="#6a6a6a" stroke-width="0.8"/><text x="403.5" y="300.2" font-size="7.2" text-anchor="end" fill="#222" >1,200</text><line x1="418.7" y1="391.4" x2="418.7" y2="395.4" stroke="#6a6a6a" stroke-width="0.8"/><text x="418.7" y="403.9" font-size="7.2" text-anchor="middle" fill="#222" >−10</text><line x1="453.4" y1="391.4" x2="453.4" y2="395.4" stroke="#6a6a6a" stroke-width="0.8"/><text x="453.4" y="403.9" font-size="7.2" text-anchor="middle" fill="#222" >0</text><line x1="488.1" y1="391.4" x2="488.1" y2="395.4" stroke="#6a6a6a" stroke-width="0.8"/><text x="488.1" y="403.9" font-size="7.2" text-anchor="middle" fill="#222" >10</text><line x1="522.9" y1="391.4" x2="522.9" y2="395.4" stroke="#6a6a6a" stroke-width="0.8"/><text x="522.9" y="403.9" font-size="7.2" text-anchor="middle" fill="#222" >20</text><line x1="557.6" y1="391.4" x2="557.6" y2="395.4" stroke="#6a6a6a" stroke-width="0.8"/><text x="557.6" y="403.9" font-size="7.2" text-anchor="middle" fill="#222" >30</text><line x1="592.3" y1="391.4" x2="592.3" y2="395.4" stroke="#6a6a6a" stroke-width="0.8"/><text x="592.3" y="403.9" font-size="7.2" text-anchor="middle" fill="#222" >40</text><line x1="627" y1="391.4" x2="627" y2="395.4" stroke="#6a6a6a" stroke-width="0.8"/><text x="627" y="403.9" font-size="7.2" text-anchor="middle" fill="#222" >50</text><line x1="661.8" y1="391.4" x2="661.8" y2="395.4" stroke="#6a6a6a" stroke-width="0.8"/><text x="661.8" y="403.9" font-size="7.2" text-anchor="middle" fill="#222" >60</text><text transform="translate(378,343.1) rotate(-90)" font-size="8.8" text-anchor="middle" fill="#222">ERA5 radiation (W m<tspan font-size="5.5" dy="-3">−2</tspan><tspan dy="3">)</tspan></text><text x="547.3" y="421.4" font-size="8.2" text-anchor="middle" fill="#222" >Days since 1 January 2019</text></svg></body></html>
